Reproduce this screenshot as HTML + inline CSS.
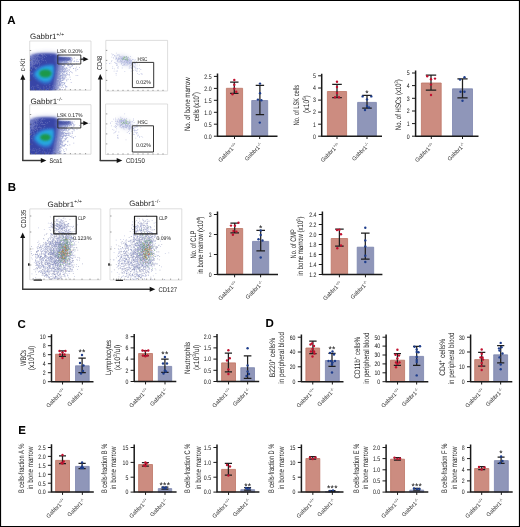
<!DOCTYPE html>
<html><head><meta charset="utf-8"><style>html,body{margin:0;padding:0;background:#fff;}svg{display:block;will-change:transform;}</style></head>
<body><svg width="520" height="527" viewBox="0 0 520 527" font-family='"Liberation Sans", sans-serif' stroke-linejoin="round" text-rendering="geometricPrecision"><style>text{stroke:#2a2a2a;stroke-width:0.02px;}</style><rect x="0" y="0" width="520" height="527" fill="#fff"/><rect x="0.5" y="0.5" width="519" height="526" fill="none" stroke="#000" stroke-width="1.2"/><text x="7.2" y="23.5" font-size="11.5" font-weight="bold" fill="#000">A</text><text x="7.8" y="190.6" font-size="11.5" font-weight="bold" fill="#000">B</text><text x="17.6" y="328.2" font-size="11.5" font-weight="bold" fill="#000">C</text><text x="265.4" y="327.4" font-size="11.5" font-weight="bold" fill="#000">D</text><text x="18.2" y="434.4" font-size="11.5" font-weight="bold" fill="#000">E</text><defs>
<filter id="bl03" x="-10%" y="-10%" width="120%" height="120%"><feGaussianBlur stdDeviation="0.3"/></filter>
<filter id="bl08" x="-20%" y="-20%" width="140%" height="140%"><feGaussianBlur stdDeviation="0.8"/></filter>
<filter id="bl12" x="-30%" y="-30%" width="160%" height="160%"><feGaussianBlur stdDeviation="1.2"/></filter>
<filter id="bl20" x="-40%" y="-40%" width="180%" height="180%"><feGaussianBlur stdDeviation="2"/></filter>
<filter id="bl30" x="-50%" y="-50%" width="200%" height="200%"><feGaussianBlur stdDeviation="3"/></filter>
<clipPath id="cA1"><rect x="30" y="41" width="61" height="49.2"/></clipPath>
<clipPath id="cA3"><rect x="30" y="104.7" width="61" height="49.5"/></clipPath>
<clipPath id="cA2"><rect x="106" y="40.4" width="61.6" height="50.6"/></clipPath>
<clipPath id="cA4"><rect x="106" y="104" width="61.6" height="50.5"/></clipPath>
<clipPath id="cB1"><rect x="30" y="208.9" width="70.8" height="70.9"/></clipPath>
<clipPath id="cB2"><rect x="110.2" y="208.8" width="71.6" height="71.2"/></clipPath>
<linearGradient id="topfade" x1="0" y1="0" x2="0" y2="1"><stop offset="0.3" stop-color="#fff" stop-opacity="0.35"/><stop offset="1" stop-color="#fff" stop-opacity="0"/></linearGradient>
</defs><rect x="29.7" y="41" width="61.3" height="49.2" fill="none" stroke="#d0d0d0" stroke-width="0.7"/><rect x="29.7" y="104.7" width="61.3" height="49.499999999999986" fill="none" stroke="#d0d0d0" stroke-width="0.7"/><g clip-path="url(#cA1)"><g transform="translate(0 0)"><g filter="url(#bl03)"><path d="M57.3 68.0h0.75v0.75h-0.75zM55.2 79.1h0.75v0.75h-0.75zM57.1 75.2h0.75v0.75h-0.75zM61.5 59.0h0.75v0.75h-0.75zM60.8 58.3h0.75v0.75h-0.75zM58.3 59.4h0.75v0.75h-0.75zM62.8 71.4h0.75v0.75h-0.75zM58.9 61.2h0.75v0.75h-0.75zM64.2 78.3h0.75v0.75h-0.75zM57.0 76.6h0.75v0.75h-0.75zM53.4 90.2h0.75v0.75h-0.75zM54.6 86.2h0.75v0.75h-0.75zM58.1 61.9h0.75v0.75h-0.75zM63.9 67.5h0.75v0.75h-0.75zM61.5 63.1h0.75v0.75h-0.75zM56.4 78.7h0.75v0.75h-0.75zM55.7 75.6h0.75v0.75h-0.75zM59.0 59.0h0.75v0.75h-0.75zM56.4 80.1h0.75v0.75h-0.75zM60.4 67.7h0.75v0.75h-0.75zM57.3 72.4h0.75v0.75h-0.75zM57.2 84.0h0.75v0.75h-0.75zM60.9 65.3h0.75v0.75h-0.75zM62.8 74.9h0.75v0.75h-0.75zM55.5 81.8h0.75v0.75h-0.75zM53.5 90.3h0.75v0.75h-0.75zM61.6 71.2h0.75v0.75h-0.75zM60.7 62.2h0.75v0.75h-0.75zM63.6 58.3h0.75v0.75h-0.75zM56.6 83.0h0.75v0.75h-0.75zM54.6 86.8h0.75v0.75h-0.75zM57.3 80.6h0.75v0.75h-0.75zM57.3 76.7h0.75v0.75h-0.75zM60.7 85.6h0.75v0.75h-0.75zM59.8 73.1h0.75v0.75h-0.75zM64.1 59.1h0.75v0.75h-0.75zM70.0 79.0h0.75v0.75h-0.75zM54.9 84.9h0.75v0.75h-0.75zM60.7 70.1h0.75v0.75h-0.75zM61.1 57.8h0.75v0.75h-0.75zM58.0 62.7h0.75v0.75h-0.75zM65.4 59.0h0.75v0.75h-0.75zM59.0 61.4h0.75v0.75h-0.75zM64.4 70.3h0.75v0.75h-0.75zM60.8 59.7h0.75v0.75h-0.75zM62.7 75.7h0.75v0.75h-0.75zM58.8 84.9h0.75v0.75h-0.75zM59.2 66.5h0.75v0.75h-0.75zM65.2 69.2h0.75v0.75h-0.75zM53.7 89.6h0.75v0.75h-0.75zM58.6 63.0h0.75v0.75h-0.75zM60.1 64.9h0.75v0.75h-0.75zM56.2 77.0h0.75v0.75h-0.75zM60.7 57.1h0.75v0.75h-0.75zM59.7 69.6h0.75v0.75h-0.75zM55.6 89.4h0.75v0.75h-0.75zM59.0 74.5h0.75v0.75h-0.75zM55.0 80.0h0.75v0.75h-0.75zM56.8 87.6h0.75v0.75h-0.75zM57.3 86.7h0.75v0.75h-0.75zM58.3 70.3h0.75v0.75h-0.75zM62.8 60.5h0.75v0.75h-0.75zM58.2 59.1h0.75v0.75h-0.75zM58.0 64.1h0.75v0.75h-0.75zM56.7 68.6h0.75v0.75h-0.75zM58.7 57.0h0.75v0.75h-0.75zM60.0 60.4h0.75v0.75h-0.75zM68.8 57.9h0.75v0.75h-0.75zM55.6 77.9h0.75v0.75h-0.75zM58.9 65.6h0.75v0.75h-0.75zM56.9 69.4h0.75v0.75h-0.75zM65.3 85.9h0.75v0.75h-0.75zM58.3 72.8h0.75v0.75h-0.75zM58.3 59.9h0.75v0.75h-0.75zM57.8 68.6h0.75v0.75h-0.75zM54.4 85.2h0.75v0.75h-0.75zM73.8 57.8h0.75v0.75h-0.75zM56.1 75.0h0.75v0.75h-0.75zM55.6 75.5h0.75v0.75h-0.75zM68.8 75.0h0.75v0.75h-0.75zM56.5 86.4h0.75v0.75h-0.75zM58.9 65.9h0.75v0.75h-0.75zM64.5 62.7h0.75v0.75h-0.75zM60.7 75.1h0.75v0.75h-0.75zM57.6 68.2h0.75v0.75h-0.75zM64.3 84.6h0.75v0.75h-0.75zM57.6 86.0h0.75v0.75h-0.75zM57.3 84.8h0.75v0.75h-0.75zM60.4 64.7h0.75v0.75h-0.75zM56.6 69.1h0.75v0.75h-0.75zM59.5 57.9h0.75v0.75h-0.75zM62.2 65.8h0.75v0.75h-0.75zM54.5 89.5h0.75v0.75h-0.75zM62.1 88.9h0.75v0.75h-0.75zM54.2 89.5h0.75v0.75h-0.75zM58.3 64.5h0.75v0.75h-0.75zM58.3 63.7h0.75v0.75h-0.75zM62.2 78.2h0.75v0.75h-0.75zM55.5 85.6h0.75v0.75h-0.75zM59.7 79.2h0.75v0.75h-0.75zM63.3 59.9h0.75v0.75h-0.75zM56.7 87.9h0.75v0.75h-0.75zM56.1 82.5h0.75v0.75h-0.75zM64.7 63.1h0.75v0.75h-0.75zM63.3 68.3h0.75v0.75h-0.75zM54.2 90.0h0.75v0.75h-0.75zM67.7 70.6h0.75v0.75h-0.75zM55.1 81.6h0.75v0.75h-0.75zM58.4 61.3h0.75v0.75h-0.75zM57.0 87.8h0.75v0.75h-0.75zM66.0 62.0h0.75v0.75h-0.75zM55.2 90.3h0.75v0.75h-0.75zM59.7 68.9h0.75v0.75h-0.75zM57.7 61.5h0.75v0.75h-0.75zM55.2 90.0h0.75v0.75h-0.75zM65.0 74.9h0.75v0.75h-0.75zM63.9 71.7h0.75v0.75h-0.75zM54.6 85.1h0.75v0.75h-0.75zM58.5 65.6h0.75v0.75h-0.75zM61.0 65.2h0.75v0.75h-0.75zM59.3 65.8h0.75v0.75h-0.75zM69.4 61.5h0.75v0.75h-0.75zM59.0 69.0h0.75v0.75h-0.75zM62.9 76.8h0.75v0.75h-0.75zM65.7 71.3h0.75v0.75h-0.75zM58.4 74.1h0.75v0.75h-0.75zM55.6 74.8h0.75v0.75h-0.75zM56.8 72.0h0.75v0.75h-0.75zM66.4 57.1h0.75v0.75h-0.75zM60.4 62.9h0.75v0.75h-0.75zM56.8 81.7h0.75v0.75h-0.75zM59.7 68.1h0.75v0.75h-0.75zM60.6 75.9h0.75v0.75h-0.75zM61.8 60.6h0.75v0.75h-0.75zM58.4 65.4h0.75v0.75h-0.75zM56.1 83.3h0.75v0.75h-0.75zM60.1 76.1h0.75v0.75h-0.75zM54.8 88.0h0.75v0.75h-0.75zM57.3 77.8h0.75v0.75h-0.75zM59.8 74.4h0.75v0.75h-0.75zM58.8 72.4h0.75v0.75h-0.75zM66.2 73.3h0.75v0.75h-0.75zM60.6 80.8h0.75v0.75h-0.75zM54.0 89.0h0.75v0.75h-0.75zM65.0 76.0h0.75v0.75h-0.75zM54.3 85.6h0.75v0.75h-0.75zM60.5 61.1h0.75v0.75h-0.75zM59.2 59.5h0.75v0.75h-0.75zM63.5 59.5h0.75v0.75h-0.75zM60.0 83.7h0.75v0.75h-0.75zM63.5 62.3h0.75v0.75h-0.75zM55.3 79.4h0.75v0.75h-0.75zM61.1 87.0h0.75v0.75h-0.75zM71.1 64.5h0.75v0.75h-0.75zM58.8 70.5h0.75v0.75h-0.75zM56.4 90.7h0.75v0.75h-0.75zM60.1 62.5h0.75v0.75h-0.75zM57.1 74.5h0.75v0.75h-0.75zM59.0 63.7h0.75v0.75h-0.75zM54.6 81.6h0.75v0.75h-0.75zM57.4 75.8h0.75v0.75h-0.75zM59.9 57.6h0.75v0.75h-0.75zM57.3 78.2h0.75v0.75h-0.75zM79.5 59.2h0.75v0.75h-0.75zM63.2 83.8h0.75v0.75h-0.75zM59.3 60.6h0.75v0.75h-0.75zM65.7 58.3h0.75v0.75h-0.75zM57.5 66.2h0.75v0.75h-0.75zM65.4 71.4h0.75v0.75h-0.75zM54.8 84.8h0.75v0.75h-0.75zM69.7 62.1h0.75v0.75h-0.75zM59.3 76.4h0.75v0.75h-0.75zM58.1 60.0h0.75v0.75h-0.75zM56.3 80.4h0.75v0.75h-0.75zM72.1 59.5h0.75v0.75h-0.75zM60.0 78.6h0.75v0.75h-0.75zM67.7 59.8h0.75v0.75h-0.75zM68.0 59.3h0.75v0.75h-0.75zM57.5 72.4h0.75v0.75h-0.75zM64.2 75.8h0.75v0.75h-0.75zM57.5 66.1h0.75v0.75h-0.75zM56.5 74.9h0.75v0.75h-0.75zM58.6 60.7h0.75v0.75h-0.75zM59.0 58.7h0.75v0.75h-0.75zM58.2 67.6h0.75v0.75h-0.75zM55.3 82.8h0.75v0.75h-0.75zM56.4 74.0h0.75v0.75h-0.75zM56.6 68.8h0.75v0.75h-0.75zM57.0 65.5h0.75v0.75h-0.75zM56.7 81.9h0.75v0.75h-0.75zM60.3 63.4h0.75v0.75h-0.75zM53.7 88.8h0.75v0.75h-0.75zM55.4 84.8h0.75v0.75h-0.75zM62.2 73.8h0.75v0.75h-0.75zM59.0 70.4h0.75v0.75h-0.75zM66.4 80.4h0.75v0.75h-0.75zM63.9 68.7h0.75v0.75h-0.75zM57.5 81.0h0.75v0.75h-0.75zM57.9 70.8h0.75v0.75h-0.75zM58.5 58.8h0.75v0.75h-0.75zM64.7 59.4h0.75v0.75h-0.75zM57.7 65.7h0.75v0.75h-0.75zM67.2 59.9h0.75v0.75h-0.75zM56.3 86.6h0.75v0.75h-0.75zM58.0 66.6h0.75v0.75h-0.75zM59.4 67.0h0.75v0.75h-0.75zM60.3 62.4h0.75v0.75h-0.75zM71.4 66.0h0.75v0.75h-0.75zM54.7 90.1h0.75v0.75h-0.75zM72.2 65.3h0.75v0.75h-0.75zM58.6 67.5h0.75v0.75h-0.75zM60.4 57.0h0.75v0.75h-0.75zM58.4 73.1h0.75v0.75h-0.75zM60.5 63.8h0.75v0.75h-0.75zM59.5 57.2h0.75v0.75h-0.75zM60.4 60.1h0.75v0.75h-0.75zM57.9 58.4h0.75v0.75h-0.75zM57.8 67.3h0.75v0.75h-0.75zM57.7 76.9h0.75v0.75h-0.75zM57.3 82.5h0.75v0.75h-0.75zM60.5 81.3h0.75v0.75h-0.75zM57.8 70.2h0.75v0.75h-0.75zM53.5 90.5h0.75v0.75h-0.75zM57.4 81.6h0.75v0.75h-0.75zM67.2 58.5h0.75v0.75h-0.75zM55.8 87.3h0.75v0.75h-0.75zM59.0 82.0h0.75v0.75h-0.75zM61.2 61.7h0.75v0.75h-0.75zM62.1 74.1h0.75v0.75h-0.75zM58.4 84.4h0.75v0.75h-0.75zM62.5 76.9h0.75v0.75h-0.75zM58.2 80.2h0.75v0.75h-0.75zM57.2 64.8h0.75v0.75h-0.75zM59.8 61.5h0.75v0.75h-0.75zM66.8 60.6h0.75v0.75h-0.75zM58.7 76.0h0.75v0.75h-0.75zM58.6 78.3h0.75v0.75h-0.75zM55.8 73.6h0.75v0.75h-0.75zM57.6 84.1h0.75v0.75h-0.75zM58.4 74.1h0.75v0.75h-0.75zM55.1 79.4h0.75v0.75h-0.75zM55.3 82.1h0.75v0.75h-0.75zM59.4 59.5h0.75v0.75h-0.75zM55.2 81.8h0.75v0.75h-0.75zM64.5 82.2h0.75v0.75h-0.75zM57.5 73.8h0.75v0.75h-0.75zM60.0 73.3h0.75v0.75h-0.75zM56.8 83.1h0.75v0.75h-0.75zM55.2 78.9h0.75v0.75h-0.75zM58.9 62.0h0.75v0.75h-0.75zM55.4 82.3h0.75v0.75h-0.75zM55.4 76.3h0.75v0.75h-0.75zM59.4 59.1h0.75v0.75h-0.75zM58.3 79.8h0.75v0.75h-0.75zM55.8 80.0h0.75v0.75h-0.75zM57.8 74.6h0.75v0.75h-0.75zM56.3 72.9h0.75v0.75h-0.75zM54.2 87.4h0.75v0.75h-0.75zM58.2 90.3h0.75v0.75h-0.75zM61.1 57.6h0.75v0.75h-0.75zM62.3 84.9h0.75v0.75h-0.75zM57.1 72.3h0.75v0.75h-0.75zM70.7 64.1h0.75v0.75h-0.75zM61.2 64.2h0.75v0.75h-0.75zM61.2 61.8h0.75v0.75h-0.75zM53.7 89.4h0.75v0.75h-0.75zM55.8 84.9h0.75v0.75h-0.75zM56.3 87.2h0.75v0.75h-0.75zM67.4 64.9h0.75v0.75h-0.75zM55.9 73.5h0.75v0.75h-0.75zM61.4 57.1h0.75v0.75h-0.75zM57.3 72.3h0.75v0.75h-0.75zM59.6 61.8h0.75v0.75h-0.75zM64.4 67.7h0.75v0.75h-0.75zM65.3 57.1h0.75v0.75h-0.75zM54.3 85.5h0.75v0.75h-0.75zM56.0 88.5h0.75v0.75h-0.75zM54.4 87.7h0.75v0.75h-0.75zM58.4 69.7h0.75v0.75h-0.75zM54.7 91.0h0.75v0.75h-0.75zM58.7 69.3h0.75v0.75h-0.75zM57.1 66.4h0.75v0.75h-0.75zM66.8 60.5h0.75v0.75h-0.75zM68.7 66.7h0.75v0.75h-0.75zM58.4 65.5h0.75v0.75h-0.75zM56.4 74.4h0.75v0.75h-0.75zM68.9 69.7h0.75v0.75h-0.75zM57.3 87.1h0.75v0.75h-0.75zM62.6 78.5h0.75v0.75h-0.75zM55.0 89.0h0.75v0.75h-0.75zM54.7 81.5h0.75v0.75h-0.75zM56.1 81.9h0.75v0.75h-0.75zM57.1 82.6h0.75v0.75h-0.75zM57.0 66.7h0.75v0.75h-0.75zM53.8 88.5h0.75v0.75h-0.75zM57.4 73.1h0.75v0.75h-0.75zM62.5 67.1h0.75v0.75h-0.75zM53.8 90.2h0.75v0.75h-0.75zM56.0 79.3h0.75v0.75h-0.75zM57.1 75.9h0.75v0.75h-0.75zM58.2 62.7h0.75v0.75h-0.75zM68.2 64.1h0.75v0.75h-0.75zM56.6 73.9h0.75v0.75h-0.75zM65.3 87.8h0.75v0.75h-0.75zM56.5 72.3h0.75v0.75h-0.75zM57.7 63.5h0.75v0.75h-0.75zM56.9 68.6h0.75v0.75h-0.75zM58.4 65.1h0.75v0.75h-0.75zM62.6 76.4h0.75v0.75h-0.75zM55.8 82.5h0.75v0.75h-0.75zM59.0 71.1h0.75v0.75h-0.75zM58.0 69.8h0.75v0.75h-0.75zM59.5 59.1h0.75v0.75h-0.75zM53.6 89.9h0.75v0.75h-0.75zM59.2 74.1h0.75v0.75h-0.75zM54.4 86.3h0.75v0.75h-0.75zM58.1 66.2h0.75v0.75h-0.75zM58.5 70.6h0.75v0.75h-0.75zM57.0 89.4h0.75v0.75h-0.75zM53.8 86.7h0.75v0.75h-0.75zM64.3 58.1h0.75v0.75h-0.75zM55.0 87.5h0.75v0.75h-0.75zM55.3 77.0h0.75v0.75h-0.75zM66.6 70.3h0.75v0.75h-0.75zM58.6 85.1h0.75v0.75h-0.75zM53.8 90.1h0.75v0.75h-0.75zM58.5 60.7h0.75v0.75h-0.75zM59.6 74.8h0.75v0.75h-0.75zM55.9 89.0h0.75v0.75h-0.75zM59.3 79.0h0.75v0.75h-0.75zM58.9 72.5h0.75v0.75h-0.75zM65.8 58.3h0.75v0.75h-0.75zM68.5 64.9h0.75v0.75h-0.75zM56.1 78.9h0.75v0.75h-0.75zM59.0 61.4h0.75v0.75h-0.75zM58.7 78.6h0.75v0.75h-0.75zM58.0 60.8h0.75v0.75h-0.75zM58.6 74.8h0.75v0.75h-0.75zM57.3 70.2h0.75v0.75h-0.75zM55.2 77.4h0.75v0.75h-0.75zM59.4 67.3h0.75v0.75h-0.75zM55.3 89.6h0.75v0.75h-0.75zM55.1 87.0h0.75v0.75h-0.75zM58.3 65.0h0.75v0.75h-0.75zM55.6 89.7h0.75v0.75h-0.75zM56.8 67.5h0.75v0.75h-0.75zM59.7 73.9h0.75v0.75h-0.75zM57.3 71.3h0.75v0.75h-0.75zM62.5 79.7h0.75v0.75h-0.75zM57.3 64.7h0.75v0.75h-0.75zM58.8 68.5h0.75v0.75h-0.75zM55.4 80.2h0.75v0.75h-0.75zM57.5 84.1h0.75v0.75h-0.75zM56.5 74.2h0.75v0.75h-0.75zM54.0 90.0h0.75v0.75h-0.75zM54.7 84.9h0.75v0.75h-0.75zM63.7 64.5h0.75v0.75h-0.75zM69.8 67.0h0.75v0.75h-0.75zM56.5 73.9h0.75v0.75h-0.75zM59.6 64.6h0.75v0.75h-0.75zM63.6 79.6h0.75v0.75h-0.75zM59.9 62.0h0.75v0.75h-0.75zM74.0 64.2h0.75v0.75h-0.75zM57.8 61.8h0.75v0.75h-0.75zM60.4 59.0h0.75v0.75h-0.75zM58.2 87.5h0.75v0.75h-0.75zM70.8 81.9h0.75v0.75h-0.75zM54.3 88.7h0.75v0.75h-0.75zM70.3 63.3h0.75v0.75h-0.75zM54.5 82.4h0.75v0.75h-0.75zM56.3 79.6h0.75v0.75h-0.75zM58.0 69.7h0.75v0.75h-0.75zM57.4 62.8h0.75v0.75h-0.75zM58.7 66.5h0.75v0.75h-0.75zM53.6 89.5h0.75v0.75h-0.75zM53.8 89.8h0.75v0.75h-0.75zM63.5 69.1h0.75v0.75h-0.75zM55.4 84.9h0.75v0.75h-0.75zM61.1 58.7h0.75v0.75h-0.75zM66.5 69.7h0.75v0.75h-0.75zM59.4 63.6h0.75v0.75h-0.75zM53.7 87.5h0.75v0.75h-0.75zM62.7 71.0h0.75v0.75h-0.75zM54.4 83.1h0.75v0.75h-0.75zM58.1 58.2h0.75v0.75h-0.75zM54.2 88.3h0.75v0.75h-0.75zM60.5 82.4h0.75v0.75h-0.75zM57.8 68.5h0.75v0.75h-0.75zM55.2 89.6h0.75v0.75h-0.75zM62.5 65.9h0.75v0.75h-0.75zM58.0 67.8h0.75v0.75h-0.75zM65.4 57.1h0.75v0.75h-0.75zM55.6 88.2h0.75v0.75h-0.75zM53.5 89.1h0.75v0.75h-0.75zM60.0 65.0h0.75v0.75h-0.75zM59.2 89.5h0.75v0.75h-0.75zM57.4 70.1h0.75v0.75h-0.75zM58.7 71.6h0.75v0.75h-0.75zM53.9 88.6h0.75v0.75h-0.75zM57.4 84.3h0.75v0.75h-0.75zM57.6 85.0h0.75v0.75h-0.75zM56.4 77.6h0.75v0.75h-0.75zM58.5 67.9h0.75v0.75h-0.75zM54.5 83.6h0.75v0.75h-0.75zM63.8 63.7h0.75v0.75h-0.75zM57.3 65.4h0.75v0.75h-0.75zM62.0 58.2h0.75v0.75h-0.75zM73.1 68.1h0.75v0.75h-0.75zM63.2 87.0h0.75v0.75h-0.75zM57.3 66.0h0.75v0.75h-0.75zM61.2 60.3h0.75v0.75h-0.75zM56.3 81.1h0.75v0.75h-0.75zM59.5 65.0h0.75v0.75h-0.75zM58.6 78.1h0.75v0.75h-0.75zM59.4 82.4h0.75v0.75h-0.75zM55.2 79.6h0.75v0.75h-0.75zM54.8 85.6h0.75v0.75h-0.75zM56.9 76.3h0.75v0.75h-0.75zM55.1 82.1h0.75v0.75h-0.75zM58.3 65.4h0.75v0.75h-0.75zM67.9 62.2h0.75v0.75h-0.75zM56.6 76.7h0.75v0.75h-0.75zM75.5 70.5h0.75v0.75h-0.75zM56.6 74.2h0.75v0.75h-0.75zM56.7 84.5h0.75v0.75h-0.75zM53.4 90.7h0.75v0.75h-0.75zM62.1 73.1h0.75v0.75h-0.75zM59.6 85.6h0.75v0.75h-0.75zM59.6 58.4h0.75v0.75h-0.75zM58.7 61.1h0.75v0.75h-0.75zM54.9 90.1h0.75v0.75h-0.75zM54.4 88.6h0.75v0.75h-0.75zM55.2 86.4h0.75v0.75h-0.75zM63.6 65.8h0.75v0.75h-0.75zM53.6 89.2h0.75v0.75h-0.75zM58.3 77.3h0.75v0.75h-0.75zM59.3 64.4h0.75v0.75h-0.75zM58.6 61.8h0.75v0.75h-0.75zM61.0 65.7h0.75v0.75h-0.75zM55.6 79.2h0.75v0.75h-0.75zM59.9 57.4h0.75v0.75h-0.75zM55.4 80.1h0.75v0.75h-0.75zM57.6 67.6h0.75v0.75h-0.75zM56.2 84.0h0.75v0.75h-0.75zM58.4 59.2h0.75v0.75h-0.75zM59.4 70.4h0.75v0.75h-0.75zM55.3 78.7h0.75v0.75h-0.75zM63.1 62.6h0.75v0.75h-0.75zM57.5 70.9h0.75v0.75h-0.75zM69.8 67.5h0.75v0.75h-0.75zM60.2 67.6h0.75v0.75h-0.75zM58.6 69.1h0.75v0.75h-0.75zM66.5 86.4h0.75v0.75h-0.75zM57.3 69.4h0.75v0.75h-0.75zM55.2 81.8h0.75v0.75h-0.75zM70.3 57.2h0.75v0.75h-0.75zM62.7 71.4h0.75v0.75h-0.75zM64.6 70.8h0.75v0.75h-0.75zM56.6 72.7h0.75v0.75h-0.75zM62.1 57.5h0.75v0.75h-0.75zM62.3 78.8h0.75v0.75h-0.75zM62.7 60.0h0.75v0.75h-0.75zM59.2 69.6h0.75v0.75h-0.75zM59.1 62.0h0.75v0.75h-0.75zM64.6 74.7h0.75v0.75h-0.75zM61.1 60.7h0.75v0.75h-0.75zM62.5 84.4h0.75v0.75h-0.75zM57.9 63.7h0.75v0.75h-0.75zM60.6 89.1h0.75v0.75h-0.75zM56.0 73.4h0.75v0.75h-0.75zM54.5 88.5h0.75v0.75h-0.75zM55.7 87.7h0.75v0.75h-0.75zM54.5 85.0h0.75v0.75h-0.75zM54.9 83.7h0.75v0.75h-0.75zM63.5 70.8h0.75v0.75h-0.75zM54.5 85.2h0.75v0.75h-0.75zM59.5 64.4h0.75v0.75h-0.75zM57.3 74.6h0.75v0.75h-0.75zM59.0 61.2h0.75v0.75h-0.75zM60.8 81.6h0.75v0.75h-0.75zM62.1 58.4h0.75v0.75h-0.75zM54.5 82.8h0.75v0.75h-0.75zM54.3 85.5h0.75v0.75h-0.75zM57.7 77.4h0.75v0.75h-0.75zM56.2 78.3h0.75v0.75h-0.75zM59.5 71.3h0.75v0.75h-0.75zM60.2 71.5h0.75v0.75h-0.75zM58.1 72.2h0.75v0.75h-0.75zM62.9 57.8h0.75v0.75h-0.75zM56.7 73.6h0.75v0.75h-0.75zM58.3 83.0h0.75v0.75h-0.75zM56.6 72.6h0.75v0.75h-0.75zM56.3 73.1h0.75v0.75h-0.75zM60.4 61.4h0.75v0.75h-0.75zM60.7 60.1h0.75v0.75h-0.75zM55.8 74.3h0.75v0.75h-0.75zM55.3 78.6h0.75v0.75h-0.75zM58.6 81.9h0.75v0.75h-0.75zM55.8 74.4h0.75v0.75h-0.75zM57.4 74.1h0.75v0.75h-0.75zM53.7 89.3h0.75v0.75h-0.75zM66.4 86.1h0.75v0.75h-0.75zM59.1 81.9h0.75v0.75h-0.75zM76.0 63.6h0.75v0.75h-0.75zM67.0 73.7h0.75v0.75h-0.75zM53.9 88.1h0.75v0.75h-0.75zM60.9 83.8h0.75v0.75h-0.75zM60.0 59.2h0.75v0.75h-0.75zM54.8 82.7h0.75v0.75h-0.75zM54.4 87.5h0.75v0.75h-0.75zM54.5 84.7h0.75v0.75h-0.75zM64.7 74.1h0.75v0.75h-0.75zM58.6 64.1h0.75v0.75h-0.75zM57.0 74.2h0.75v0.75h-0.75zM58.9 58.3h0.75v0.75h-0.75zM70.7 62.5h0.75v0.75h-0.75zM61.3 80.1h0.75v0.75h-0.75zM64.7 62.7h0.75v0.75h-0.75zM61.4 60.9h0.75v0.75h-0.75zM56.4 78.6h0.75v0.75h-0.75zM55.6 86.7h0.75v0.75h-0.75zM62.3 76.7h0.75v0.75h-0.75zM82.6 60.6h0.75v0.75h-0.75zM56.6 78.4h0.75v0.75h-0.75zM54.9 84.1h0.75v0.75h-0.75zM54.7 90.7h0.75v0.75h-0.75zM62.3 69.2h0.75v0.75h-0.75zM56.7 72.0h0.75v0.75h-0.75zM54.6 82.3h0.75v0.75h-0.75zM54.8 84.9h0.75v0.75h-0.75zM67.6 78.7h0.75v0.75h-0.75zM58.8 76.9h0.75v0.75h-0.75zM56.7 67.6h0.75v0.75h-0.75zM58.7 58.1h0.75v0.75h-0.75zM56.9 77.9h0.75v0.75h-0.75zM63.6 74.4h0.75v0.75h-0.75zM58.8 61.5h0.75v0.75h-0.75zM55.0 79.2h0.75v0.75h-0.75zM60.2 57.1h0.75v0.75h-0.75zM59.9 60.6h0.75v0.75h-0.75zM61.1 64.6h0.75v0.75h-0.75zM56.0 77.0h0.75v0.75h-0.75zM57.1 78.2h0.75v0.75h-0.75zM71.1 61.6h0.75v0.75h-0.75zM57.7 65.3h0.75v0.75h-0.75zM62.9 60.3h0.75v0.75h-0.75zM57.2 86.6h0.75v0.75h-0.75zM57.4 70.7h0.75v0.75h-0.75zM63.3 57.4h0.75v0.75h-0.75zM56.8 76.1h0.75v0.75h-0.75zM56.7 79.0h0.75v0.75h-0.75zM56.1 88.9h0.75v0.75h-0.75zM67.5 65.4h0.75v0.75h-0.75zM61.8 58.5h0.75v0.75h-0.75zM57.2 70.8h0.75v0.75h-0.75zM65.6 59.0h0.75v0.75h-0.75zM62.1 57.4h0.75v0.75h-0.75zM53.7 89.0h0.75v0.75h-0.75zM61.6 63.8h0.75v0.75h-0.75zM59.3 74.2h0.75v0.75h-0.75zM54.6 84.7h0.75v0.75h-0.75zM58.2 67.5h0.75v0.75h-0.75zM69.3 58.6h0.75v0.75h-0.75zM57.4 83.6h0.75v0.75h-0.75zM67.8 57.2h0.75v0.75h-0.75zM56.1 82.3h0.75v0.75h-0.75zM56.1 82.2h0.75v0.75h-0.75zM57.6 64.7h0.75v0.75h-0.75zM57.2 64.9h0.75v0.75h-0.75zM62.3 68.4h0.75v0.75h-0.75zM60.0 80.6h0.75v0.75h-0.75zM55.5 81.2h0.75v0.75h-0.75zM57.4 75.8h0.75v0.75h-0.75zM56.1 83.8h0.75v0.75h-0.75zM61.4 66.0h0.75v0.75h-0.75zM53.8 89.8h0.75v0.75h-0.75zM53.8 86.9h0.75v0.75h-0.75zM58.1 65.9h0.75v0.75h-0.75zM62.2 82.3h0.75v0.75h-0.75zM55.5 82.4h0.75v0.75h-0.75zM54.6 86.9h0.75v0.75h-0.75zM67.8 65.1h0.75v0.75h-0.75zM58.7 78.4h0.75v0.75h-0.75zM66.3 79.6h0.75v0.75h-0.75zM62.6 73.0h0.75v0.75h-0.75zM60.2 80.7h0.75v0.75h-0.75zM60.9 71.9h0.75v0.75h-0.75zM56.6 76.4h0.75v0.75h-0.75zM61.7 64.2h0.75v0.75h-0.75zM70.2 59.6h0.75v0.75h-0.75zM57.6 61.9h0.75v0.75h-0.75zM70.9 60.6h0.75v0.75h-0.75zM57.1 68.7h0.75v0.75h-0.75zM58.0 58.0h0.75v0.75h-0.75zM57.6 80.5h0.75v0.75h-0.75zM58.5 80.7h0.75v0.75h-0.75zM62.4 59.2h0.75v0.75h-0.75zM63.3 69.4h0.75v0.75h-0.75zM59.4 84.9h0.75v0.75h-0.75zM68.2 59.2h0.75v0.75h-0.75zM59.5 88.1h0.75v0.75h-0.75zM58.9 60.6h0.75v0.75h-0.75zM57.9 60.8h0.75v0.75h-0.75zM57.7 85.8h0.75v0.75h-0.75zM60.4 78.6h0.75v0.75h-0.75zM56.1 78.5h0.75v0.75h-0.75zM58.3 60.4h0.75v0.75h-0.75zM55.0 82.8h0.75v0.75h-0.75zM59.0 67.9h0.75v0.75h-0.75zM59.4 57.7h0.75v0.75h-0.75zM62.3 66.6h0.75v0.75h-0.75zM57.9 69.5h0.75v0.75h-0.75zM54.6 89.8h0.75v0.75h-0.75zM56.1 85.9h0.75v0.75h-0.75zM60.6 58.1h0.75v0.75h-0.75zM61.7 71.8h0.75v0.75h-0.75zM61.5 68.8h0.75v0.75h-0.75zM56.3 75.3h0.75v0.75h-0.75zM54.1 86.3h0.75v0.75h-0.75zM54.5 84.9h0.75v0.75h-0.75zM59.0 57.0h0.75v0.75h-0.75zM64.3 82.9h0.75v0.75h-0.75zM61.4 57.1h0.75v0.75h-0.75zM61.5 73.7h0.75v0.75h-0.75zM60.5 63.3h0.75v0.75h-0.75zM63.8 68.8h0.75v0.75h-0.75zM69.7 65.9h0.75v0.75h-0.75zM57.9 66.6h0.75v0.75h-0.75zM56.6 80.8h0.75v0.75h-0.75zM62.7 60.7h0.75v0.75h-0.75zM65.7 59.8h0.75v0.75h-0.75zM59.1 80.7h0.75v0.75h-0.75zM56.4 78.3h0.75v0.75h-0.75zM58.2 70.6h0.75v0.75h-0.75zM53.9 87.3h0.75v0.75h-0.75zM53.8 87.2h0.75v0.75h-0.75zM58.6 64.0h0.75v0.75h-0.75zM55.1 87.6h0.75v0.75h-0.75zM64.9 69.9h0.75v0.75h-0.75zM59.9 64.9h0.75v0.75h-0.75zM60.4 75.1h0.75v0.75h-0.75zM57.1 82.6h0.75v0.75h-0.75zM58.1 68.8h0.75v0.75h-0.75zM66.4 62.3h0.75v0.75h-0.75zM58.9 79.5h0.75v0.75h-0.75zM60.1 62.8h0.75v0.75h-0.75zM56.5 83.3h0.75v0.75h-0.75zM60.7 61.3h0.75v0.75h-0.75zM54.3 87.1h0.75v0.75h-0.75zM59.0 63.5h0.75v0.75h-0.75zM59.9 80.9h0.75v0.75h-0.75zM58.3 62.3h0.75v0.75h-0.75zM58.8 65.4h0.75v0.75h-0.75zM56.2 74.8h0.75v0.75h-0.75zM57.5 68.2h0.75v0.75h-0.75zM55.7 90.2h0.75v0.75h-0.75zM74.2 60.5h0.75v0.75h-0.75zM60.2 60.5h0.75v0.75h-0.75zM56.1 90.5h0.75v0.75h-0.75zM56.1 81.9h0.75v0.75h-0.75zM62.0 63.7h0.75v0.75h-0.75zM58.9 60.6h0.75v0.75h-0.75zM56.4 70.2h0.75v0.75h-0.75zM62.4 70.6h0.75v0.75h-0.75zM56.7 80.6h0.75v0.75h-0.75zM56.9 78.5h0.75v0.75h-0.75zM62.0 61.8h0.75v0.75h-0.75zM61.5 70.8h0.75v0.75h-0.75zM54.8 87.9h0.75v0.75h-0.75zM59.9 76.5h0.75v0.75h-0.75zM57.1 71.3h0.75v0.75h-0.75zM60.4 81.6h0.75v0.75h-0.75zM57.4 83.3h0.75v0.75h-0.75zM56.5 86.0h0.75v0.75h-0.75zM56.8 78.8h0.75v0.75h-0.75zM60.9 67.6h0.75v0.75h-0.75zM60.5 60.3h0.75v0.75h-0.75zM57.4 83.6h0.75v0.75h-0.75zM55.9 78.4h0.75v0.75h-0.75zM58.4 71.4h0.75v0.75h-0.75zM56.7 78.1h0.75v0.75h-0.75zM62.6 80.0h0.75v0.75h-0.75zM62.3 63.2h0.75v0.75h-0.75zM55.5 83.5h0.75v0.75h-0.75zM69.0 73.7h0.75v0.75h-0.75zM61.9 58.3h0.75v0.75h-0.75zM64.8 62.5h0.75v0.75h-0.75zM54.9 89.0h0.75v0.75h-0.75zM62.0 60.4h0.75v0.75h-0.75zM59.8 75.4h0.75v0.75h-0.75zM59.2 74.4h0.75v0.75h-0.75zM55.8 85.2h0.75v0.75h-0.75zM67.7 71.0h0.75v0.75h-0.75zM62.5 64.1h0.75v0.75h-0.75zM61.9 70.3h0.75v0.75h-0.75zM78.2 61.2h0.75v0.75h-0.75zM56.7 69.1h0.75v0.75h-0.75zM59.1 66.3h0.75v0.75h-0.75zM60.7 57.5h0.75v0.75h-0.75zM60.7 71.3h0.75v0.75h-0.75zM57.7 69.0h0.75v0.75h-0.75zM63.3 64.6h0.75v0.75h-0.75zM54.9 89.0h0.75v0.75h-0.75zM64.6 64.4h0.75v0.75h-0.75zM57.2 70.3h0.75v0.75h-0.75zM65.0 61.4h0.75v0.75h-0.75zM56.6 84.5h0.75v0.75h-0.75zM58.9 73.0h0.75v0.75h-0.75zM72.3 64.7h0.75v0.75h-0.75zM60.6 69.0h0.75v0.75h-0.75zM58.1 84.8h0.75v0.75h-0.75zM57.1 72.9h0.75v0.75h-0.75zM55.9 75.6h0.75v0.75h-0.75zM55.0 85.3h0.75v0.75h-0.75zM54.6 85.9h0.75v0.75h-0.75zM57.5 69.8h0.75v0.75h-0.75zM56.9 71.5h0.75v0.75h-0.75zM64.7 57.1h0.75v0.75h-0.75zM58.0 66.6h0.75v0.75h-0.75zM59.5 67.3h0.75v0.75h-0.75zM59.9 71.6h0.75v0.75h-0.75zM56.2 79.4h0.75v0.75h-0.75zM57.3 88.6h0.75v0.75h-0.75zM66.9 58.9h0.75v0.75h-0.75zM56.8 87.8h0.75v0.75h-0.75zM66.2 61.8h0.75v0.75h-0.75zM55.1 78.5h0.75v0.75h-0.75zM74.0 57.4h0.75v0.75h-0.75zM55.8 79.3h0.75v0.75h-0.75zM58.5 60.5h0.75v0.75h-0.75zM63.9 64.9h0.75v0.75h-0.75zM57.2 68.8h0.75v0.75h-0.75zM56.9 87.7h0.75v0.75h-0.75zM68.0 62.7h0.75v0.75h-0.75zM60.0 77.7h0.75v0.75h-0.75zM61.4 79.7h0.75v0.75h-0.75zM58.8 83.8h0.75v0.75h-0.75zM62.8 63.7h0.75v0.75h-0.75zM60.2 75.0h0.75v0.75h-0.75zM64.1 71.9h0.75v0.75h-0.75zM56.5 75.9h0.75v0.75h-0.75zM57.7 65.0h0.75v0.75h-0.75zM56.0 73.8h0.75v0.75h-0.75zM56.4 72.9h0.75v0.75h-0.75zM58.2 73.7h0.75v0.75h-0.75zM62.3 75.3h0.75v0.75h-0.75zM67.7 57.2h0.75v0.75h-0.75zM58.9 72.9h0.75v0.75h-0.75zM60.3 79.6h0.75v0.75h-0.75zM58.5 69.7h0.75v0.75h-0.75zM53.5 89.7h0.75v0.75h-0.75zM58.1 78.7h0.75v0.75h-0.75zM62.8 58.0h0.75v0.75h-0.75zM62.5 80.2h0.75v0.75h-0.75zM73.3 68.2h0.75v0.75h-0.75zM58.0 74.4h0.75v0.75h-0.75zM53.7 87.5h0.75v0.75h-0.75zM57.3 81.4h0.75v0.75h-0.75zM64.7 68.5h0.75v0.75h-0.75zM59.0 69.4h0.75v0.75h-0.75zM60.7 74.9h0.75v0.75h-0.75zM59.8 64.2h0.75v0.75h-0.75zM59.2 71.4h0.75v0.75h-0.75zM54.9 85.1h0.75v0.75h-0.75zM55.2 85.1h0.75v0.75h-0.75zM56.8 74.1h0.75v0.75h-0.75zM68.7 74.2h0.75v0.75h-0.75zM59.6 79.3h0.75v0.75h-0.75zM58.2 68.3h0.75v0.75h-0.75zM60.5 67.2h0.75v0.75h-0.75zM59.7 78.6h0.75v0.75h-0.75zM64.5 58.4h0.75v0.75h-0.75zM55.4 87.1h0.75v0.75h-0.75zM59.7 58.7h0.75v0.75h-0.75zM58.9 57.2h0.75v0.75h-0.75zM55.4 88.3h0.75v0.75h-0.75zM59.5 79.4h0.75v0.75h-0.75zM55.6 87.9h0.75v0.75h-0.75zM58.2 78.0h0.75v0.75h-0.75zM57.3 80.7h0.75v0.75h-0.75zM55.5 80.2h0.75v0.75h-0.75zM56.7 79.7h0.75v0.75h-0.75zM54.6 82.9h0.75v0.75h-0.75zM57.5 63.2h0.75v0.75h-0.75zM60.6 83.3h0.75v0.75h-0.75zM56.3 79.3h0.75v0.75h-0.75zM57.7 85.0h0.75v0.75h-0.75zM56.4 76.1h0.75v0.75h-0.75zM59.1 67.3h0.75v0.75h-0.75zM59.0 67.8h0.75v0.75h-0.75zM63.2 78.8h0.75v0.75h-0.75zM62.2 58.9h0.75v0.75h-0.75zM58.5 58.3h0.75v0.75h-0.75zM56.2 84.6h0.75v0.75h-0.75zM54.8 88.2h0.75v0.75h-0.75zM60.4 57.5h0.75v0.75h-0.75zM64.2 77.1h0.75v0.75h-0.75zM54.4 90.3h0.75v0.75h-0.75zM56.6 71.0h0.75v0.75h-0.75zM55.7 78.9h0.75v0.75h-0.75zM57.6 62.2h0.75v0.75h-0.75zM64.0 57.2h0.75v0.75h-0.75zM74.4 61.1h0.75v0.75h-0.75zM68.1 60.0h0.75v0.75h-0.75zM57.7 61.4h0.75v0.75h-0.75zM55.3 81.5h0.75v0.75h-0.75zM55.1 81.9h0.75v0.75h-0.75zM65.6 58.7h0.75v0.75h-0.75zM60.0 81.3h0.75v0.75h-0.75zM54.8 81.8h0.75v0.75h-0.75zM58.9 78.4h0.75v0.75h-0.75zM65.9 72.7h0.75v0.75h-0.75zM71.8 65.6h0.75v0.75h-0.75zM54.6 81.4h0.75v0.75h-0.75zM63.4 57.5h0.75v0.75h-0.75zM54.3 84.8h0.75v0.75h-0.75zM62.2 67.6h0.75v0.75h-0.75zM66.9 62.6h0.75v0.75h-0.75zM56.0 73.5h0.75v0.75h-0.75zM59.8 69.5h0.75v0.75h-0.75zM60.3 71.9h0.75v0.75h-0.75zM65.3 61.9h0.75v0.75h-0.75zM60.6 69.4h0.75v0.75h-0.75zM56.7 78.4h0.75v0.75h-0.75zM62.4 70.1h0.75v0.75h-0.75zM56.4 89.1h0.75v0.75h-0.75zM56.5 76.3h0.75v0.75h-0.75zM76.7 59.1h0.75v0.75h-0.75zM59.6 80.9h0.75v0.75h-0.75zM60.4 68.3h0.75v0.75h-0.75zM56.5 90.2h0.75v0.75h-0.75zM56.4 77.4h0.75v0.75h-0.75zM64.4 71.6h0.75v0.75h-0.75zM61.0 69.8h0.75v0.75h-0.75zM62.4 77.5h0.75v0.75h-0.75zM54.9 84.5h0.75v0.75h-0.75zM59.4 57.1h0.75v0.75h-0.75zM59.5 71.4h0.75v0.75h-0.75zM59.3 84.7h0.75v0.75h-0.75zM67.2 58.4h0.75v0.75h-0.75zM59.0 84.6h0.75v0.75h-0.75zM56.4 76.4h0.75v0.75h-0.75zM57.7 85.9h0.75v0.75h-0.75zM61.8 80.3h0.75v0.75h-0.75zM56.8 68.8h0.75v0.75h-0.75zM60.8 75.8h0.75v0.75h-0.75zM63.7 63.8h0.75v0.75h-0.75zM54.0 88.7h0.75v0.75h-0.75zM58.7 77.6h0.75v0.75h-0.75zM56.7 72.8h0.75v0.75h-0.75zM63.2 65.7h0.75v0.75h-0.75zM55.7 83.9h0.75v0.75h-0.75zM66.1 60.0h0.75v0.75h-0.75zM55.0 83.3h0.75v0.75h-0.75zM62.7 76.7h0.75v0.75h-0.75zM55.3 87.1h0.75v0.75h-0.75zM59.1 73.2h0.75v0.75h-0.75zM58.3 63.4h0.75v0.75h-0.75zM63.0 63.1h0.75v0.75h-0.75zM59.8 69.3h0.75v0.75h-0.75zM59.1 70.7h0.75v0.75h-0.75zM57.7 62.1h0.75v0.75h-0.75zM54.0 90.9h0.75v0.75h-0.75zM62.7 60.6h0.75v0.75h-0.75zM54.7 83.8h0.75v0.75h-0.75zM56.6 77.3h0.75v0.75h-0.75zM55.7 74.7h0.75v0.75h-0.75zM82.3 58.1h0.75v0.75h-0.75zM55.3 86.4h0.75v0.75h-0.75zM56.4 76.3h0.75v0.75h-0.75zM55.7 83.5h0.75v0.75h-0.75zM56.2 89.2h0.75v0.75h-0.75zM62.0 84.8h0.75v0.75h-0.75zM57.1 65.6h0.75v0.75h-0.75zM58.2 63.8h0.75v0.75h-0.75zM58.1 59.8h0.75v0.75h-0.75zM62.3 76.0h0.75v0.75h-0.75zM66.8 72.6h0.75v0.75h-0.75zM53.7 87.9h0.75v0.75h-0.75zM56.8 77.3h0.75v0.75h-0.75zM73.5 61.1h0.75v0.75h-0.75zM60.6 65.7h0.75v0.75h-0.75zM64.5 78.8h0.75v0.75h-0.75zM56.3 79.8h0.75v0.75h-0.75zM56.6 72.2h0.75v0.75h-0.75zM62.2 89.8h0.75v0.75h-0.75zM57.3 64.5h0.75v0.75h-0.75zM58.9 65.7h0.75v0.75h-0.75zM58.5 87.7h0.75v0.75h-0.75zM54.1 85.5h0.75v0.75h-0.75zM57.3 83.7h0.75v0.75h-0.75zM67.7 79.0h0.75v0.75h-0.75zM58.6 58.9h0.75v0.75h-0.75zM61.8 82.7h0.75v0.75h-0.75zM55.8 80.0h0.75v0.75h-0.75zM59.8 77.1h0.75v0.75h-0.75zM59.7 60.6h0.75v0.75h-0.75zM57.5 65.7h0.75v0.75h-0.75zM56.5 73.4h0.75v0.75h-0.75zM57.7 65.1h0.75v0.75h-0.75zM54.8 80.0h0.75v0.75h-0.75zM55.2 81.4h0.75v0.75h-0.75zM71.6 58.2h0.75v0.75h-0.75zM69.6 64.5h0.75v0.75h-0.75zM58.7 86.5h0.75v0.75h-0.75zM60.4 61.8h0.75v0.75h-0.75zM71.1 60.3h0.75v0.75h-0.75zM56.2 85.6h0.75v0.75h-0.75zM57.5 72.4h0.75v0.75h-0.75zM55.6 85.0h0.75v0.75h-0.75zM55.5 78.4h0.75v0.75h-0.75zM57.4 64.5h0.75v0.75h-0.75zM56.9 81.3h0.75v0.75h-0.75zM67.5 61.9h0.75v0.75h-0.75zM59.2 66.1h0.75v0.75h-0.75zM59.0 62.3h0.75v0.75h-0.75zM54.9 85.5h0.75v0.75h-0.75zM60.6 62.7h0.75v0.75h-0.75zM66.5 67.8h0.75v0.75h-0.75zM76.8 60.9h0.75v0.75h-0.75zM69.5 58.9h0.75v0.75h-0.75zM55.5 79.7h0.75v0.75h-0.75zM57.0 73.2h0.75v0.75h-0.75zM57.9 65.8h0.75v0.75h-0.75zM75.5 69.4h0.75v0.75h-0.75zM57.7 90.9h0.75v0.75h-0.75zM59.5 60.3h0.75v0.75h-0.75zM53.8 87.5h0.75v0.75h-0.75zM55.5 81.7h0.75v0.75h-0.75zM53.3 90.3h0.75v0.75h-0.75zM55.1 84.4h0.75v0.75h-0.75zM57.5 61.8h0.75v0.75h-0.75zM55.8 85.3h0.75v0.75h-0.75zM60.0 63.3h0.75v0.75h-0.75zM54.1 88.0h0.75v0.75h-0.75zM55.8 76.4h0.75v0.75h-0.75zM64.3 63.1h0.75v0.75h-0.75zM55.2 81.2h0.75v0.75h-0.75zM58.3 59.7h0.75v0.75h-0.75zM57.3 77.7h0.75v0.75h-0.75zM57.9 66.3h0.75v0.75h-0.75zM59.0 77.8h0.75v0.75h-0.75zM56.2 84.6h0.75v0.75h-0.75zM57.5 63.9h0.75v0.75h-0.75zM55.9 81.9h0.75v0.75h-0.75zM54.7 81.5h0.75v0.75h-0.75zM55.1 84.6h0.75v0.75h-0.75zM58.6 85.6h0.75v0.75h-0.75zM55.8 73.8h0.75v0.75h-0.75zM54.9 87.9h0.75v0.75h-0.75zM54.5 86.6h0.75v0.75h-0.75zM65.7 63.3h0.75v0.75h-0.75zM57.1 69.5h0.75v0.75h-0.75zM60.0 69.6h0.75v0.75h-0.75zM61.7 57.2h0.75v0.75h-0.75zM58.7 72.2h0.75v0.75h-0.75zM63.8 61.1h0.75v0.75h-0.75zM58.9 84.8h0.75v0.75h-0.75zM61.9 67.9h0.75v0.75h-0.75zM61.9 70.0h0.75v0.75h-0.75zM68.5 59.1h0.75v0.75h-0.75zM54.7 89.4h0.75v0.75h-0.75zM58.3 74.5h0.75v0.75h-0.75zM55.6 75.3h0.75v0.75h-0.75zM53.8 89.9h0.75v0.75h-0.75zM57.8 63.2h0.75v0.75h-0.75zM64.6 65.5h0.75v0.75h-0.75zM58.3 58.0h0.75v0.75h-0.75zM55.3 80.8h0.75v0.75h-0.75zM62.7 57.6h0.75v0.75h-0.75zM57.7 76.6h0.75v0.75h-0.75zM55.0 80.9h0.75v0.75h-0.75zM56.6 86.6h0.75v0.75h-0.75zM58.5 58.5h0.75v0.75h-0.75zM58.2 73.8h0.75v0.75h-0.75zM57.4 66.5h0.75v0.75h-0.75zM56.8 70.8h0.75v0.75h-0.75zM61.6 77.1h0.75v0.75h-0.75zM61.6 62.0h0.75v0.75h-0.75zM54.9 82.4h0.75v0.75h-0.75zM60.6 85.1h0.75v0.75h-0.75zM58.4 70.2h0.75v0.75h-0.75zM55.7 85.6h0.75v0.75h-0.75zM67.4 70.5h0.75v0.75h-0.75zM55.3 83.4h0.75v0.75h-0.75zM58.9 65.2h0.75v0.75h-0.75zM71.1 71.8h0.75v0.75h-0.75zM60.1 84.3h0.75v0.75h-0.75zM58.6 84.7h0.75v0.75h-0.75zM61.6 58.8h0.75v0.75h-0.75zM58.5 89.6h0.75v0.75h-0.75zM59.4 65.5h0.75v0.75h-0.75zM56.4 78.5h0.75v0.75h-0.75zM55.8 75.0h0.75v0.75h-0.75zM58.7 71.7h0.75v0.75h-0.75zM58.6 57.7h0.75v0.75h-0.75zM56.1 90.0h0.75v0.75h-0.75zM55.4 88.9h0.75v0.75h-0.75zM59.4 84.5h0.75v0.75h-0.75zM53.8 87.1h0.75v0.75h-0.75zM55.9 78.8h0.75v0.75h-0.75zM55.7 80.1h0.75v0.75h-0.75zM64.3 75.4h0.75v0.75h-0.75zM56.0 78.1h0.75v0.75h-0.75zM57.6 74.7h0.75v0.75h-0.75zM54.0 89.3h0.75v0.75h-0.75zM61.2 67.4h0.75v0.75h-0.75zM62.1 61.1h0.75v0.75h-0.75zM54.7 89.5h0.75v0.75h-0.75zM59.7 66.1h0.75v0.75h-0.75zM56.1 75.2h0.75v0.75h-0.75zM58.3 61.2h0.75v0.75h-0.75zM59.0 67.0h0.75v0.75h-0.75zM58.0 66.8h0.75v0.75h-0.75zM61.8 60.0h0.75v0.75h-0.75zM56.1 85.6h0.75v0.75h-0.75zM58.8 76.4h0.75v0.75h-0.75zM63.0 63.8h0.75v0.75h-0.75zM58.8 72.7h0.75v0.75h-0.75zM57.1 77.8h0.75v0.75h-0.75zM57.8 67.6h0.75v0.75h-0.75zM60.4 64.5h0.75v0.75h-0.75zM59.8 70.0h0.75v0.75h-0.75zM60.1 57.4h0.75v0.75h-0.75zM54.5 86.3h0.75v0.75h-0.75zM57.7 75.9h0.75v0.75h-0.75zM75.9 66.7h0.75v0.75h-0.75zM63.1 67.0h0.75v0.75h-0.75zM57.8 62.4h0.75v0.75h-0.75zM55.1 86.6h0.75v0.75h-0.75zM60.3 59.1h0.75v0.75h-0.75zM61.0 72.0h0.75v0.75h-0.75zM59.0 60.7h0.75v0.75h-0.75zM55.9 89.6h0.75v0.75h-0.75zM59.4 62.3h0.75v0.75h-0.75zM61.1 69.0h0.75v0.75h-0.75zM61.1 78.0h0.75v0.75h-0.75zM55.8 84.9h0.75v0.75h-0.75zM58.1 82.1h0.75v0.75h-0.75zM56.1 82.8h0.75v0.75h-0.75zM57.4 83.7h0.75v0.75h-0.75zM53.9 88.1h0.75v0.75h-0.75zM53.8 86.6h0.75v0.75h-0.75zM56.6 83.0h0.75v0.75h-0.75zM67.5 73.9h0.75v0.75h-0.75zM57.1 76.4h0.75v0.75h-0.75zM59.5 83.6h0.75v0.75h-0.75zM56.7 77.6h0.75v0.75h-0.75zM58.2 72.4h0.75v0.75h-0.75zM55.5 81.6h0.75v0.75h-0.75zM59.5 70.3h0.75v0.75h-0.75zM57.8 70.1h0.75v0.75h-0.75zM59.0 83.8h0.75v0.75h-0.75zM57.8 74.0h0.75v0.75h-0.75zM59.0 63.3h0.75v0.75h-0.75zM61.7 61.9h0.75v0.75h-0.75zM55.6 76.8h0.75v0.75h-0.75zM54.3 88.3h0.75v0.75h-0.75zM58.1 85.7h0.75v0.75h-0.75zM53.8 89.6h0.75v0.75h-0.75zM65.3 71.5h0.75v0.75h-0.75zM58.1 57.4h0.75v0.75h-0.75zM57.7 76.2h0.75v0.75h-0.75zM56.6 88.3h0.75v0.75h-0.75zM77.4 75.3h0.75v0.75h-0.75zM58.2 74.6h0.75v0.75h-0.75zM56.2 80.3h0.75v0.75h-0.75zM60.1 69.2h0.75v0.75h-0.75zM68.6 68.9h0.75v0.75h-0.75zM57.0 80.0h0.75v0.75h-0.75zM60.1 60.4h0.75v0.75h-0.75zM59.4 70.6h0.75v0.75h-0.75zM62.3 76.5h0.75v0.75h-0.75zM54.6 89.8h0.75v0.75h-0.75zM59.7 72.0h0.75v0.75h-0.75zM53.9 90.9h0.75v0.75h-0.75zM61.4 75.0h0.75v0.75h-0.75zM59.2 62.8h0.75v0.75h-0.75zM56.4 90.3h0.75v0.75h-0.75zM56.0 74.4h0.75v0.75h-0.75zM56.2 87.4h0.75v0.75h-0.75zM65.1 84.9h0.75v0.75h-0.75zM54.9 87.2h0.75v0.75h-0.75zM59.1 62.3h0.75v0.75h-0.75zM58.1 74.4h0.75v0.75h-0.75zM58.2 63.4h0.75v0.75h-0.75zM57.9 78.4h0.75v0.75h-0.75zM77.3 69.0h0.75v0.75h-0.75zM55.1 78.6h0.75v0.75h-0.75zM62.2 71.0h0.75v0.75h-0.75zM61.7 67.4h0.75v0.75h-0.75zM59.8 57.1h0.75v0.75h-0.75zM56.0 85.6h0.75v0.75h-0.75zM55.5 79.7h0.75v0.75h-0.75zM58.6 73.9h0.75v0.75h-0.75zM61.5 66.0h0.75v0.75h-0.75zM75.7 75.1h0.75v0.75h-0.75zM57.1 76.5h0.75v0.75h-0.75zM58.5 61.1h0.75v0.75h-0.75zM54.7 82.8h0.75v0.75h-0.75zM58.7 60.4h0.75v0.75h-0.75zM61.6 74.8h0.75v0.75h-0.75zM60.3 77.8h0.75v0.75h-0.75zM57.9 59.1h0.75v0.75h-0.75zM55.3 83.2h0.75v0.75h-0.75zM55.8 81.3h0.75v0.75h-0.75zM58.9 62.8h0.75v0.75h-0.75zM69.5 60.4h0.75v0.75h-0.75zM56.7 76.8h0.75v0.75h-0.75zM57.8 72.3h0.75v0.75h-0.75zM69.3 58.9h0.75v0.75h-0.75zM65.7 76.8h0.75v0.75h-0.75zM59.7 71.9h0.75v0.75h-0.75zM57.2 65.5h0.75v0.75h-0.75zM57.3 88.6h0.75v0.75h-0.75zM66.4 67.7h0.75v0.75h-0.75zM55.0 84.7h0.75v0.75h-0.75zM65.4 77.5h0.75v0.75h-0.75zM66.4 73.8h0.75v0.75h-0.75zM59.2 65.3h0.75v0.75h-0.75zM55.3 81.4h0.75v0.75h-0.75zM65.6 67.5h0.75v0.75h-0.75zM61.5 73.5h0.75v0.75h-0.75zM57.9 65.3h0.75v0.75h-0.75zM57.3 69.2h0.75v0.75h-0.75zM53.9 90.0h0.75v0.75h-0.75zM55.8 76.1h0.75v0.75h-0.75zM57.2 75.1h0.75v0.75h-0.75zM56.5 70.7h0.75v0.75h-0.75zM66.3 61.2h0.75v0.75h-0.75zM57.6 68.9h0.75v0.75h-0.75zM58.8 63.5h0.75v0.75h-0.75zM57.2 65.1h0.75v0.75h-0.75zM56.1 79.6h0.75v0.75h-0.75zM63.4 62.3h0.75v0.75h-0.75zM59.4 60.1h0.75v0.75h-0.75zM54.3 85.4h0.75v0.75h-0.75zM62.8 72.1h0.75v0.75h-0.75zM54.6 84.4h0.75v0.75h-0.75zM61.7 69.0h0.75v0.75h-0.75zM69.1 69.8h0.75v0.75h-0.75zM71.2 64.1h0.75v0.75h-0.75zM56.6 74.2h0.75v0.75h-0.75zM56.5 72.4h0.75v0.75h-0.75zM55.5 81.0h0.75v0.75h-0.75zM55.5 87.6h0.75v0.75h-0.75zM57.5 69.5h0.75v0.75h-0.75zM55.9 77.7h0.75v0.75h-0.75zM54.1 86.7h0.75v0.75h-0.75zM58.4 74.4h0.75v0.75h-0.75zM63.4 66.2h0.75v0.75h-0.75zM60.6 70.1h0.75v0.75h-0.75zM56.6 76.3h0.75v0.75h-0.75zM56.6 70.3h0.75v0.75h-0.75zM66.4 63.0h0.75v0.75h-0.75zM61.2 67.9h0.75v0.75h-0.75zM61.8 60.7h0.75v0.75h-0.75zM59.2 69.3h0.75v0.75h-0.75zM57.0 67.1h0.75v0.75h-0.75zM57.8 67.6h0.75v0.75h-0.75zM63.8 61.3h0.75v0.75h-0.75zM59.1 66.6h0.75v0.75h-0.75zM56.7 87.9h0.75v0.75h-0.75zM58.0 87.0h0.75v0.75h-0.75zM59.2 61.5h0.75v0.75h-0.75zM63.8 58.0h0.75v0.75h-0.75zM56.1 79.6h0.75v0.75h-0.75zM60.3 71.0h0.75v0.75h-0.75zM55.5 80.8h0.75v0.75h-0.75zM54.9 85.8h0.75v0.75h-0.75zM55.7 78.4h0.75v0.75h-0.75zM69.8 60.9h0.75v0.75h-0.75zM57.9 82.0h0.75v0.75h-0.75zM58.0 58.4h0.75v0.75h-0.75zM58.5 62.5h0.75v0.75h-0.75zM58.8 67.3h0.75v0.75h-0.75zM59.8 58.3h0.75v0.75h-0.75zM55.6 78.7h0.75v0.75h-0.75zM55.9 85.5h0.75v0.75h-0.75zM55.4 81.4h0.75v0.75h-0.75zM60.4 71.8h0.75v0.75h-0.75zM56.5 68.9h0.75v0.75h-0.75zM57.5 85.4h0.75v0.75h-0.75zM57.0 66.7h0.75v0.75h-0.75zM56.0 86.0h0.75v0.75h-0.75zM59.3 58.6h0.75v0.75h-0.75zM65.5 60.8h0.75v0.75h-0.75zM68.6 64.1h0.75v0.75h-0.75zM54.7 82.5h0.75v0.75h-0.75zM56.1 80.6h0.75v0.75h-0.75zM59.1 82.4h0.75v0.75h-0.75zM57.2 66.6h0.75v0.75h-0.75zM54.5 89.2h0.75v0.75h-0.75zM55.8 88.6h0.75v0.75h-0.75zM59.2 82.1h0.75v0.75h-0.75zM56.9 78.4h0.75v0.75h-0.75zM64.0 58.8h0.75v0.75h-0.75zM58.8 71.6h0.75v0.75h-0.75zM53.8 88.6h0.75v0.75h-0.75zM54.5 82.9h0.75v0.75h-0.75zM59.3 80.9h0.75v0.75h-0.75zM60.4 65.9h0.75v0.75h-0.75zM55.2 90.0h0.75v0.75h-0.75zM56.5 75.5h0.75v0.75h-0.75zM60.1 59.0h0.75v0.75h-0.75zM57.0 71.0h0.75v0.75h-0.75zM57.3 67.6h0.75v0.75h-0.75zM57.8 81.0h0.75v0.75h-0.75zM58.3 65.1h0.75v0.75h-0.75zM57.7 74.5h0.75v0.75h-0.75zM54.3 88.8h0.75v0.75h-0.75zM66.0 67.2h0.75v0.75h-0.75zM61.6 61.8h0.75v0.75h-0.75zM63.6 68.3h0.75v0.75h-0.75zM60.3 75.6h0.75v0.75h-0.75zM62.6 62.8h0.75v0.75h-0.75zM57.2 77.4h0.75v0.75h-0.75zM58.9 83.0h0.75v0.75h-0.75zM59.4 60.9h0.75v0.75h-0.75zM57.4 69.3h0.75v0.75h-0.75zM59.5 59.1h0.75v0.75h-0.75zM62.9 63.7h0.75v0.75h-0.75zM56.4 72.2h0.75v0.75h-0.75zM59.3 68.0h0.75v0.75h-0.75zM57.1 69.3h0.75v0.75h-0.75zM57.9 59.4h0.75v0.75h-0.75zM55.6 90.7h0.75v0.75h-0.75zM64.2 59.9h0.75v0.75h-0.75zM54.7 90.3h0.75v0.75h-0.75zM61.1 60.7h0.75v0.75h-0.75zM56.8 71.8h0.75v0.75h-0.75zM55.5 75.5h0.75v0.75h-0.75zM55.7 88.3h0.75v0.75h-0.75zM63.5 78.3h0.75v0.75h-0.75zM55.8 79.2h0.75v0.75h-0.75zM57.7 65.4h0.75v0.75h-0.75zM65.7 57.9h0.75v0.75h-0.75zM54.8 85.5h0.75v0.75h-0.75zM62.1 63.3h0.75v0.75h-0.75zM59.9 85.8h0.75v0.75h-0.75zM64.7 62.7h0.75v0.75h-0.75zM57.2 85.2h0.75v0.75h-0.75zM57.4 68.1h0.75v0.75h-0.75zM55.0 85.1h0.75v0.75h-0.75zM59.6 69.5h0.75v0.75h-0.75zM63.6 69.6h0.75v0.75h-0.75zM57.2 65.1h0.75v0.75h-0.75zM58.6 76.3h0.75v0.75h-0.75zM57.0 84.9h0.75v0.75h-0.75zM59.7 87.8h0.75v0.75h-0.75zM58.2 73.8h0.75v0.75h-0.75zM59.2 62.4h0.75v0.75h-0.75zM55.6 76.8h0.75v0.75h-0.75zM55.3 80.4h0.75v0.75h-0.75zM69.2 72.1h0.75v0.75h-0.75zM58.0 60.0h0.75v0.75h-0.75zM56.8 71.9h0.75v0.75h-0.75zM54.6 81.6h0.75v0.75h-0.75zM58.4 85.6h0.75v0.75h-0.75zM55.6 83.8h0.75v0.75h-0.75zM61.5 66.6h0.75v0.75h-0.75zM57.5 74.5h0.75v0.75h-0.75zM58.9 68.5h0.75v0.75h-0.75zM60.0 79.6h0.75v0.75h-0.75zM54.0 87.7h0.75v0.75h-0.75zM59.3 67.1h0.75v0.75h-0.75zM56.8 76.2h0.75v0.75h-0.75zM57.7 63.6h0.75v0.75h-0.75zM59.2 68.0h0.75v0.75h-0.75zM57.7 90.0h0.75v0.75h-0.75zM62.0 86.4h0.75v0.75h-0.75zM55.2 89.7h0.75v0.75h-0.75zM54.3 84.6h0.75v0.75h-0.75zM57.5 80.0h0.75v0.75h-0.75zM60.4 67.1h0.75v0.75h-0.75zM54.6 89.4h0.75v0.75h-0.75zM56.0 79.0h0.75v0.75h-0.75zM65.5 68.7h0.75v0.75h-0.75zM58.9 57.9h0.75v0.75h-0.75zM56.5 80.1h0.75v0.75h-0.75zM63.3 59.9h0.75v0.75h-0.75zM59.9 69.6h0.75v0.75h-0.75zM59.0 71.2h0.75v0.75h-0.75zM57.0 76.2h0.75v0.75h-0.75zM58.7 60.9h0.75v0.75h-0.75zM55.4 87.3h0.75v0.75h-0.75zM67.6 60.8h0.75v0.75h-0.75zM57.4 65.6h0.75v0.75h-0.75zM56.5 75.0h0.75v0.75h-0.75zM58.7 73.6h0.75v0.75h-0.75zM61.0 64.7h0.75v0.75h-0.75zM61.3 60.8h0.75v0.75h-0.75zM55.5 77.0h0.75v0.75h-0.75zM56.5 70.9h0.75v0.75h-0.75zM63.5 71.9h0.75v0.75h-0.75zM59.7 75.7h0.75v0.75h-0.75zM54.7 82.7h0.75v0.75h-0.75zM55.5 90.7h0.75v0.75h-0.75zM66.6 60.5h0.75v0.75h-0.75zM57.0 70.3h0.75v0.75h-0.75zM54.9 89.6h0.75v0.75h-0.75zM54.7 83.3h0.75v0.75h-0.75zM54.4 83.4h0.75v0.75h-0.75zM59.2 65.1h0.75v0.75h-0.75zM62.6 57.5h0.75v0.75h-0.75zM58.8 64.2h0.75v0.75h-0.75zM56.2 81.1h0.75v0.75h-0.75zM55.8 87.2h0.75v0.75h-0.75zM55.6 86.7h0.75v0.75h-0.75zM57.7 88.2h0.75v0.75h-0.75zM63.9 62.7h0.75v0.75h-0.75zM62.5 68.6h0.75v0.75h-0.75zM59.8 80.1h0.75v0.75h-0.75zM59.9 61.2h0.75v0.75h-0.75zM62.5 82.1h0.75v0.75h-0.75zM54.7 81.5h0.75v0.75h-0.75zM55.5 77.5h0.75v0.75h-0.75zM60.9 75.7h0.75v0.75h-0.75zM70.6 60.8h0.75v0.75h-0.75zM55.7 80.0h0.75v0.75h-0.75zM60.0 63.6h0.75v0.75h-0.75zM56.0 85.5h0.75v0.75h-0.75zM57.8 60.9h0.75v0.75h-0.75zM65.7 60.8h0.75v0.75h-0.75zM61.1 63.3h0.75v0.75h-0.75zM61.8 66.9h0.75v0.75h-0.75zM56.9 69.9h0.75v0.75h-0.75zM55.5 86.8h0.75v0.75h-0.75zM59.5 80.4h0.75v0.75h-0.75zM53.4 89.3h0.75v0.75h-0.75zM57.2 68.6h0.75v0.75h-0.75zM63.0 74.1h0.75v0.75h-0.75zM54.3 84.2h0.75v0.75h-0.75zM65.4 63.2h0.75v0.75h-0.75zM56.2 80.1h0.75v0.75h-0.75zM56.5 73.2h0.75v0.75h-0.75zM55.1 85.7h0.75v0.75h-0.75zM55.9 86.7h0.75v0.75h-0.75zM59.8 59.6h0.75v0.75h-0.75zM67.5 64.4h0.75v0.75h-0.75zM55.4 77.0h0.75v0.75h-0.75zM59.5 62.8h0.75v0.75h-0.75zM59.0 72.9h0.75v0.75h-0.75zM58.0 70.2h0.75v0.75h-0.75zM62.5 57.2h0.75v0.75h-0.75zM56.6 68.3h0.75v0.75h-0.75zM71.9 72.6h0.75v0.75h-0.75zM58.6 58.5h0.75v0.75h-0.75zM55.8 79.8h0.75v0.75h-0.75zM59.9 66.3h0.75v0.75h-0.75zM60.6 65.9h0.75v0.75h-0.75zM66.4 75.0h0.75v0.75h-0.75zM53.3 90.7h0.75v0.75h-0.75zM60.3 76.1h0.75v0.75h-0.75zM57.1 86.7h0.75v0.75h-0.75zM58.1 78.5h0.75v0.75h-0.75zM57.7 69.3h0.75v0.75h-0.75zM59.3 84.0h0.75v0.75h-0.75zM55.7 88.9h0.75v0.75h-0.75zM62.9 67.3h0.75v0.75h-0.75zM56.4 82.1h0.75v0.75h-0.75zM56.3 78.6h0.75v0.75h-0.75zM57.2 75.7h0.75v0.75h-0.75zM59.9 59.1h0.75v0.75h-0.75zM75.4 68.0h0.75v0.75h-0.75zM57.5 73.4h0.75v0.75h-0.75zM58.2 65.3h0.75v0.75h-0.75zM57.1 68.9h0.75v0.75h-0.75zM68.8 57.2h0.75v0.75h-0.75zM58.1 72.4h0.75v0.75h-0.75zM56.5 76.3h0.75v0.75h-0.75zM57.7 62.7h0.75v0.75h-0.75zM58.3 67.3h0.75v0.75h-0.75zM56.7 81.7h0.75v0.75h-0.75zM54.3 88.9h0.75v0.75h-0.75zM55.3 88.3h0.75v0.75h-0.75zM58.8 59.7h0.75v0.75h-0.75zM69.6 76.7h0.75v0.75h-0.75zM62.5 69.1h0.75v0.75h-0.75zM63.8 71.6h0.75v0.75h-0.75zM61.2 59.3h0.75v0.75h-0.75zM54.3 87.6h0.75v0.75h-0.75zM57.0 65.8h0.75v0.75h-0.75zM58.9 62.6h0.75v0.75h-0.75zM55.4 80.9h0.75v0.75h-0.75zM57.1 70.6h0.75v0.75h-0.75zM61.5 77.5h0.75v0.75h-0.75zM55.6 79.0h0.75v0.75h-0.75zM63.4 82.0h0.75v0.75h-0.75zM55.4 77.4h0.75v0.75h-0.75zM59.2 84.5h0.75v0.75h-0.75zM57.1 68.6h0.75v0.75h-0.75zM60.9 63.4h0.75v0.75h-0.75zM56.0 86.8h0.75v0.75h-0.75zM54.0 88.4h0.75v0.75h-0.75zM62.4 68.1h0.75v0.75h-0.75zM56.5 79.1h0.75v0.75h-0.75zM56.0 80.1h0.75v0.75h-0.75zM60.6 59.0h0.75v0.75h-0.75zM63.0 58.5h0.75v0.75h-0.75zM59.4 68.4h0.75v0.75h-0.75zM56.2 77.3h0.75v0.75h-0.75zM55.9 72.8h0.75v0.75h-0.75zM55.2 88.5h0.75v0.75h-0.75zM53.3 90.6h0.75v0.75h-0.75zM59.2 77.9h0.75v0.75h-0.75zM57.0 68.2h0.75v0.75h-0.75zM58.2 62.3h0.75v0.75h-0.75zM54.6 83.1h0.75v0.75h-0.75zM55.4 84.7h0.75v0.75h-0.75zM58.5 75.3h0.75v0.75h-0.75zM59.0 75.9h0.75v0.75h-0.75zM56.5 77.5h0.75v0.75h-0.75zM55.3 82.2h0.75v0.75h-0.75zM58.6 81.2h0.75v0.75h-0.75zM55.2 83.4h0.75v0.75h-0.75zM64.0 83.3h0.75v0.75h-0.75zM57.2 72.4h0.75v0.75h-0.75zM65.4 74.8h0.75v0.75h-0.75zM57.6 61.5h0.75v0.75h-0.75zM59.7 73.2h0.75v0.75h-0.75zM55.5 83.3h0.75v0.75h-0.75zM53.7 90.6h0.75v0.75h-0.75zM54.6 82.7h0.75v0.75h-0.75zM58.6 58.0h0.75v0.75h-0.75zM61.4 59.0h0.75v0.75h-0.75zM56.1 75.9h0.75v0.75h-0.75zM54.3 89.0h0.75v0.75h-0.75zM58.4 62.1h0.75v0.75h-0.75zM61.3 82.1h0.75v0.75h-0.75zM57.6 62.5h0.75v0.75h-0.75zM55.0 83.5h0.75v0.75h-0.75zM54.5 90.4h0.75v0.75h-0.75zM56.3 78.6h0.75v0.75h-0.75zM55.7 84.2h0.75v0.75h-0.75zM66.4 68.0h0.75v0.75h-0.75zM64.3 60.7h0.75v0.75h-0.75zM63.2 59.2h0.75v0.75h-0.75zM64.0 70.7h0.75v0.75h-0.75zM62.1 59.0h0.75v0.75h-0.75zM66.0 70.9h0.75v0.75h-0.75zM55.3 89.1h0.75v0.75h-0.75zM58.4 64.6h0.75v0.75h-0.75zM59.4 65.9h0.75v0.75h-0.75zM58.1 64.9h0.75v0.75h-0.75zM57.1 82.8h0.75v0.75h-0.75zM79.0 67.1h0.75v0.75h-0.75zM61.0 64.4h0.75v0.75h-0.75zM67.0 62.3h0.75v0.75h-0.75zM54.5 86.6h0.75v0.75h-0.75zM59.0 82.6h0.75v0.75h-0.75zM58.6 66.6h0.75v0.75h-0.75zM63.8 73.5h0.75v0.75h-0.75zM62.9 62.5h0.75v0.75h-0.75zM57.1 77.3h0.75v0.75h-0.75zM62.3 76.7h0.75v0.75h-0.75zM67.1 64.1h0.75v0.75h-0.75zM62.6 69.3h0.75v0.75h-0.75zM54.3 86.4h0.75v0.75h-0.75zM65.6 86.4h0.75v0.75h-0.75zM56.8 67.1h0.75v0.75h-0.75zM76.0 60.8h0.75v0.75h-0.75zM70.8 57.3h0.75v0.75h-0.75zM63.9 62.1h0.75v0.75h-0.75zM58.7 60.3h0.75v0.75h-0.75zM55.0 80.2h0.75v0.75h-0.75zM66.9 68.5h0.75v0.75h-0.75zM60.5 81.4h0.75v0.75h-0.75zM53.3 90.3h0.75v0.75h-0.75zM64.2 65.0h0.75v0.75h-0.75zM54.8 80.4h0.75v0.75h-0.75zM56.6 74.2h0.75v0.75h-0.75zM56.5 71.6h0.75v0.75h-0.75zM82.8 57.7h0.75v0.75h-0.75zM65.6 67.8h0.75v0.75h-0.75zM60.9 61.1h0.75v0.75h-0.75zM60.3 61.6h0.75v0.75h-0.75zM62.8 63.1h0.75v0.75h-0.75zM64.0 62.0h0.75v0.75h-0.75zM56.1 74.0h0.75v0.75h-0.75zM59.3 69.0h0.75v0.75h-0.75zM54.4 88.2h0.75v0.75h-0.75zM72.9 64.3h0.75v0.75h-0.75zM56.6 87.0h0.75v0.75h-0.75zM57.7 66.3h0.75v0.75h-0.75zM57.2 66.0h0.75v0.75h-0.75zM61.5 58.5h0.75v0.75h-0.75zM59.3 70.9h0.75v0.75h-0.75zM56.4 69.3h0.75v0.75h-0.75zM57.8 80.4h0.75v0.75h-0.75zM58.2 75.5h0.75v0.75h-0.75zM66.3 80.5h0.75v0.75h-0.75zM56.6 86.7h0.75v0.75h-0.75zM57.7 70.6h0.75v0.75h-0.75zM70.0 71.3h0.75v0.75h-0.75zM58.2 70.2h0.75v0.75h-0.75zM56.8 70.9h0.75v0.75h-0.75zM53.2 90.9h0.75v0.75h-0.75zM63.4 77.7h0.75v0.75h-0.75zM61.2 65.7h0.75v0.75h-0.75z" fill="#4050AA" fill-opacity="0.5"/></g><path d="M29 57.1 C30.5 54.6 34 53.4 40 52.9 C46 52.5 52 52.4 57.0 53.2 L61.0 55.7 L61.0 60 L59.5 70 L58.0 80 L56.2 92 L29 92 Z" fill="#5A66B8" fill-opacity="0.45" filter="url(#bl20)"/><path d="M29 57.8 C30.5 55.3 34 54.1 40 53.6 C46 53.2 52 53.1 56.0 53.9 L59.0 56.0 L59.0 60 L57.5 70 L56.0 80 L54.2 92 L29 92 Z" fill="#4654AE" fill-opacity="0.7" filter="url(#bl12)"/><path d="M29 58.5 C30.5 56.0 34 54.8 40 54.3 C46 53.9 52 53.8 55.0 54.6 L57.0 56.4 L57.0 60 L55.5 70 L54.0 80 L52.2 92 L29 92 Z" fill="#3845A6" filter="url(#bl12)"/><path d="M55 56.5 L63 56.8 L70 57.6 L72 59.5 L66 61.8 L55 62.4 Z" fill="#5966B8" fill-opacity="0.7" filter="url(#bl08)"/><path d="M58 57.6 L71 58.1 L71 59.5 L58 59.9 Z" fill="#2C3793" fill-opacity="0.85" filter="url(#bl08)"/><ellipse cx="31" cy="61" rx="3.5" ry="5" fill="#6C78C4" fill-opacity="0.45" filter="url(#bl20)"/><g filter="url(#bl03)"><path d="M33.2 58.7h0.8v0.8h-0.8zM30.6 58.2h0.8v0.8h-0.8zM36.3 67.1h0.8v0.8h-0.8zM31.4 55.6h0.8v0.8h-0.8zM31.6 61.5h0.8v0.8h-0.8zM34.9 63.0h0.8v0.8h-0.8zM37.0 76.0h0.8v0.8h-0.8zM41.1 54.1h0.8v0.8h-0.8zM34.6 62.6h0.8v0.8h-0.8zM48.5 70.0h0.8v0.8h-0.8zM30.5 66.6h0.8v0.8h-0.8zM29.8 62.8h0.8v0.8h-0.8zM31.1 62.7h0.8v0.8h-0.8zM39.0 56.0h0.8v0.8h-0.8zM32.2 61.1h0.8v0.8h-0.8zM35.5 62.2h0.8v0.8h-0.8zM31.1 66.2h0.8v0.8h-0.8zM30.9 73.6h0.8v0.8h-0.8zM40.5 56.4h0.8v0.8h-0.8zM37.4 55.4h0.8v0.8h-0.8zM30.2 58.9h0.8v0.8h-0.8zM37.2 58.9h0.8v0.8h-0.8zM38.0 55.7h0.8v0.8h-0.8zM31.5 60.1h0.8v0.8h-0.8zM35.6 68.8h0.8v0.8h-0.8zM39.2 57.2h0.8v0.8h-0.8zM36.4 70.9h0.8v0.8h-0.8zM30.9 56.0h0.8v0.8h-0.8zM39.2 65.5h0.8v0.8h-0.8zM31.0 58.2h0.8v0.8h-0.8zM32.5 59.6h0.8v0.8h-0.8zM34.7 59.1h0.8v0.8h-0.8zM32.3 64.3h0.8v0.8h-0.8zM32.4 55.1h0.8v0.8h-0.8zM48.4 72.7h0.8v0.8h-0.8zM32.1 63.3h0.8v0.8h-0.8zM41.9 56.2h0.8v0.8h-0.8zM29.7 59.1h0.8v0.8h-0.8zM32.3 61.8h0.8v0.8h-0.8zM34.6 54.9h0.8v0.8h-0.8zM33.9 60.0h0.8v0.8h-0.8zM30.5 55.2h0.8v0.8h-0.8zM32.3 65.1h0.8v0.8h-0.8zM33.6 56.0h0.8v0.8h-0.8zM30.6 61.1h0.8v0.8h-0.8zM31.8 60.0h0.8v0.8h-0.8zM31.0 57.4h0.8v0.8h-0.8zM38.6 67.4h0.8v0.8h-0.8zM31.7 63.0h0.8v0.8h-0.8zM32.1 66.0h0.8v0.8h-0.8zM31.0 55.9h0.8v0.8h-0.8zM35.8 57.0h0.8v0.8h-0.8zM30.9 61.3h0.8v0.8h-0.8zM38.0 61.1h0.8v0.8h-0.8zM31.9 61.8h0.8v0.8h-0.8zM36.4 61.8h0.8v0.8h-0.8zM33.6 56.7h0.8v0.8h-0.8zM40.4 56.5h0.8v0.8h-0.8zM36.7 63.6h0.8v0.8h-0.8zM30.8 57.0h0.8v0.8h-0.8zM29.8 62.8h0.8v0.8h-0.8zM37.6 55.7h0.8v0.8h-0.8zM39.1 62.8h0.8v0.8h-0.8zM38.8 55.9h0.8v0.8h-0.8zM37.1 56.3h0.8v0.8h-0.8zM33.4 61.9h0.8v0.8h-0.8zM44.0 57.1h0.8v0.8h-0.8zM37.1 57.9h0.8v0.8h-0.8zM42.5 55.2h0.8v0.8h-0.8zM35.0 67.0h0.8v0.8h-0.8zM31.1 55.5h0.8v0.8h-0.8zM33.3 64.3h0.8v0.8h-0.8zM30.9 69.3h0.8v0.8h-0.8zM33.1 58.3h0.8v0.8h-0.8zM40.9 61.7h0.8v0.8h-0.8zM31.9 56.3h0.8v0.8h-0.8zM29.7 65.6h0.8v0.8h-0.8zM39.5 58.6h0.8v0.8h-0.8zM31.4 64.0h0.8v0.8h-0.8zM39.6 58.7h0.8v0.8h-0.8zM37.6 59.9h0.8v0.8h-0.8zM42.4 54.2h0.8v0.8h-0.8zM32.2 57.6h0.8v0.8h-0.8zM33.8 63.4h0.8v0.8h-0.8zM50.4 55.0h0.8v0.8h-0.8zM30.3 60.9h0.8v0.8h-0.8zM31.6 60.4h0.8v0.8h-0.8zM35.1 62.9h0.8v0.8h-0.8zM36.8 54.6h0.8v0.8h-0.8zM35.2 56.4h0.8v0.8h-0.8zM37.9 66.0h0.8v0.8h-0.8zM32.9 59.4h0.8v0.8h-0.8zM30.2 56.8h0.8v0.8h-0.8zM36.1 56.0h0.8v0.8h-0.8zM37.4 56.3h0.8v0.8h-0.8zM35.3 58.3h0.8v0.8h-0.8zM31.0 59.7h0.8v0.8h-0.8zM37.3 59.6h0.8v0.8h-0.8zM35.3 56.5h0.8v0.8h-0.8zM36.5 55.9h0.8v0.8h-0.8zM35.2 57.2h0.8v0.8h-0.8zM31.3 69.9h0.8v0.8h-0.8zM32.3 67.7h0.8v0.8h-0.8zM32.5 65.4h0.8v0.8h-0.8zM45.2 59.9h0.8v0.8h-0.8zM43.0 60.3h0.8v0.8h-0.8zM36.5 57.4h0.8v0.8h-0.8zM30.9 56.2h0.8v0.8h-0.8zM31.3 56.6h0.8v0.8h-0.8zM33.1 57.2h0.8v0.8h-0.8zM37.4 59.4h0.8v0.8h-0.8zM32.1 64.0h0.8v0.8h-0.8zM34.3 66.0h0.8v0.8h-0.8zM30.8 60.0h0.8v0.8h-0.8zM31.6 58.3h0.8v0.8h-0.8zM33.6 57.0h0.8v0.8h-0.8zM32.0 56.4h0.8v0.8h-0.8zM33.2 75.6h0.8v0.8h-0.8zM38.3 60.7h0.8v0.8h-0.8zM30.2 73.5h0.8v0.8h-0.8zM31.1 58.8h0.8v0.8h-0.8zM39.6 58.8h0.8v0.8h-0.8zM42.4 58.4h0.8v0.8h-0.8zM30.9 60.3h0.8v0.8h-0.8zM34.8 57.9h0.8v0.8h-0.8zM33.3 55.9h0.8v0.8h-0.8zM34.8 58.2h0.8v0.8h-0.8zM31.7 58.3h0.8v0.8h-0.8zM35.5 78.0h0.8v0.8h-0.8zM30.9 55.5h0.8v0.8h-0.8zM36.8 62.8h0.8v0.8h-0.8zM31.0 65.1h0.8v0.8h-0.8zM36.0 59.6h0.8v0.8h-0.8zM30.5 63.5h0.8v0.8h-0.8zM31.0 58.0h0.8v0.8h-0.8zM31.2 58.0h0.8v0.8h-0.8zM50.2 67.9h0.8v0.8h-0.8zM37.4 58.1h0.8v0.8h-0.8zM31.1 62.1h0.8v0.8h-0.8zM29.5 64.5h0.8v0.8h-0.8zM32.3 55.7h0.8v0.8h-0.8zM43.4 55.7h0.8v0.8h-0.8zM36.6 60.5h0.8v0.8h-0.8zM32.8 56.6h0.8v0.8h-0.8zM31.5 72.9h0.8v0.8h-0.8zM32.3 59.3h0.8v0.8h-0.8zM31.1 55.1h0.8v0.8h-0.8zM44.4 67.7h0.8v0.8h-0.8zM38.9 71.9h0.8v0.8h-0.8zM30.7 56.4h0.8v0.8h-0.8zM33.3 62.5h0.8v0.8h-0.8zM29.7 68.8h0.8v0.8h-0.8zM34.8 68.3h0.8v0.8h-0.8zM30.3 57.3h0.8v0.8h-0.8zM32.4 55.5h0.8v0.8h-0.8zM41.2 59.0h0.8v0.8h-0.8zM35.9 59.7h0.8v0.8h-0.8zM37.7 56.3h0.8v0.8h-0.8zM37.8 61.4h0.8v0.8h-0.8zM35.7 62.7h0.8v0.8h-0.8zM33.6 61.0h0.8v0.8h-0.8zM31.7 58.6h0.8v0.8h-0.8zM37.6 72.8h0.8v0.8h-0.8zM36.1 69.1h0.8v0.8h-0.8zM35.1 61.4h0.8v0.8h-0.8zM31.3 57.2h0.8v0.8h-0.8zM32.0 57.1h0.8v0.8h-0.8zM38.2 54.3h0.8v0.8h-0.8zM35.3 60.8h0.8v0.8h-0.8zM34.0 63.6h0.8v0.8h-0.8zM36.2 54.4h0.8v0.8h-0.8zM31.8 62.7h0.8v0.8h-0.8zM30.6 58.5h0.8v0.8h-0.8zM30.4 72.2h0.8v0.8h-0.8zM44.2 54.2h0.8v0.8h-0.8zM46.2 56.0h0.8v0.8h-0.8zM41.9 55.2h0.8v0.8h-0.8zM39.2 59.9h0.8v0.8h-0.8zM31.0 68.9h0.8v0.8h-0.8zM32.6 59.8h0.8v0.8h-0.8zM36.4 55.7h0.8v0.8h-0.8zM35.3 54.8h0.8v0.8h-0.8zM31.8 56.4h0.8v0.8h-0.8zM34.0 57.1h0.8v0.8h-0.8zM39.6 62.9h0.8v0.8h-0.8zM30.1 57.1h0.8v0.8h-0.8zM29.8 66.2h0.8v0.8h-0.8zM31.5 54.3h0.8v0.8h-0.8zM37.4 63.3h0.8v0.8h-0.8zM32.0 61.6h0.8v0.8h-0.8zM32.4 63.3h0.8v0.8h-0.8zM30.4 54.6h0.8v0.8h-0.8zM36.2 57.4h0.8v0.8h-0.8zM32.0 56.1h0.8v0.8h-0.8zM29.9 68.6h0.8v0.8h-0.8zM31.2 58.6h0.8v0.8h-0.8zM31.7 58.1h0.8v0.8h-0.8zM31.1 60.0h0.8v0.8h-0.8zM38.8 75.5h0.8v0.8h-0.8zM41.9 54.3h0.8v0.8h-0.8zM37.6 55.3h0.8v0.8h-0.8zM32.3 73.3h0.8v0.8h-0.8zM29.6 66.8h0.8v0.8h-0.8zM32.6 66.0h0.8v0.8h-0.8zM36.5 67.0h0.8v0.8h-0.8zM38.8 61.8h0.8v0.8h-0.8zM31.9 58.3h0.8v0.8h-0.8zM39.7 56.9h0.8v0.8h-0.8zM29.6 58.8h0.8v0.8h-0.8zM37.3 72.7h0.8v0.8h-0.8zM39.1 62.4h0.8v0.8h-0.8zM35.7 68.1h0.8v0.8h-0.8zM35.8 59.2h0.8v0.8h-0.8zM35.1 68.0h0.8v0.8h-0.8zM33.6 59.5h0.8v0.8h-0.8zM37.9 56.7h0.8v0.8h-0.8zM32.8 55.5h0.8v0.8h-0.8zM41.6 57.1h0.8v0.8h-0.8zM29.7 71.2h0.8v0.8h-0.8zM30.0 59.9h0.8v0.8h-0.8zM34.5 55.7h0.8v0.8h-0.8zM44.8 54.9h0.8v0.8h-0.8zM33.9 67.0h0.8v0.8h-0.8zM39.0 63.9h0.8v0.8h-0.8zM32.4 67.1h0.8v0.8h-0.8zM41.7 60.0h0.8v0.8h-0.8zM32.0 56.1h0.8v0.8h-0.8zM37.2 68.0h0.8v0.8h-0.8zM34.5 64.2h0.8v0.8h-0.8zM35.9 67.7h0.8v0.8h-0.8zM37.6 54.3h0.8v0.8h-0.8zM32.9 54.4h0.8v0.8h-0.8zM32.3 62.7h0.8v0.8h-0.8zM35.6 60.1h0.8v0.8h-0.8zM32.0 59.4h0.8v0.8h-0.8zM37.7 67.8h0.8v0.8h-0.8zM33.8 59.1h0.8v0.8h-0.8zM34.2 57.8h0.8v0.8h-0.8zM31.8 63.3h0.8v0.8h-0.8zM36.2 67.8h0.8v0.8h-0.8zM37.2 63.4h0.8v0.8h-0.8zM42.1 58.3h0.8v0.8h-0.8zM31.7 60.6h0.8v0.8h-0.8zM35.9 56.2h0.8v0.8h-0.8zM31.9 72.7h0.8v0.8h-0.8zM40.9 66.2h0.8v0.8h-0.8zM36.0 60.5h0.8v0.8h-0.8zM37.5 56.9h0.8v0.8h-0.8zM34.0 54.4h0.8v0.8h-0.8zM31.5 58.7h0.8v0.8h-0.8zM29.7 54.0h0.8v0.8h-0.8zM37.1 73.3h0.8v0.8h-0.8zM41.7 58.6h0.8v0.8h-0.8zM29.5 62.4h0.8v0.8h-0.8zM36.7 60.8h0.8v0.8h-0.8zM35.0 62.2h0.8v0.8h-0.8zM41.0 68.5h0.8v0.8h-0.8zM37.6 62.3h0.8v0.8h-0.8zM38.2 59.8h0.8v0.8h-0.8zM46.0 61.8h0.8v0.8h-0.8z" fill="#ffffff" fill-opacity="0.22"/><path d="M38.9 88.6h0.8v0.8h-0.8zM45.9 86.6h0.8v0.8h-0.8zM43.1 88.7h0.8v0.8h-0.8zM53.1 87.5h0.8v0.8h-0.8zM39.0 90.8h0.8v0.8h-0.8zM31.0 89.8h0.8v0.8h-0.8zM47.3 87.9h0.8v0.8h-0.8zM41.1 89.3h0.8v0.8h-0.8zM52.7 89.1h0.8v0.8h-0.8zM49.0 84.2h0.8v0.8h-0.8zM38.0 85.0h0.8v0.8h-0.8zM54.3 90.2h0.8v0.8h-0.8zM33.3 88.1h0.8v0.8h-0.8zM44.5 84.3h0.8v0.8h-0.8zM39.7 89.2h0.8v0.8h-0.8zM46.2 86.0h0.8v0.8h-0.8zM49.3 86.0h0.8v0.8h-0.8zM43.7 86.9h0.8v0.8h-0.8zM54.9 88.5h0.8v0.8h-0.8zM50.4 88.7h0.8v0.8h-0.8zM39.4 90.7h0.8v0.8h-0.8zM48.0 88.8h0.8v0.8h-0.8zM36.7 85.1h0.8v0.8h-0.8zM44.5 89.8h0.8v0.8h-0.8zM50.1 86.4h0.8v0.8h-0.8zM33.1 87.6h0.8v0.8h-0.8zM52.3 85.1h0.8v0.8h-0.8zM48.7 85.2h0.8v0.8h-0.8zM37.6 84.4h0.8v0.8h-0.8zM37.2 86.7h0.8v0.8h-0.8zM54.6 90.7h0.8v0.8h-0.8zM34.4 86.2h0.8v0.8h-0.8zM54.0 85.4h0.8v0.8h-0.8zM37.8 87.1h0.8v0.8h-0.8zM32.3 85.8h0.8v0.8h-0.8zM39.7 86.7h0.8v0.8h-0.8zM54.6 85.9h0.8v0.8h-0.8zM34.8 90.4h0.8v0.8h-0.8zM41.2 89.9h0.8v0.8h-0.8zM46.1 89.5h0.8v0.8h-0.8zM37.7 85.1h0.8v0.8h-0.8zM49.2 87.3h0.8v0.8h-0.8zM44.0 88.7h0.8v0.8h-0.8zM49.1 85.9h0.8v0.8h-0.8zM38.9 90.4h0.8v0.8h-0.8zM43.3 86.0h0.8v0.8h-0.8zM45.9 85.8h0.8v0.8h-0.8zM49.6 84.3h0.8v0.8h-0.8zM51.0 88.0h0.8v0.8h-0.8zM38.7 90.6h0.8v0.8h-0.8zM36.4 85.7h0.8v0.8h-0.8zM31.3 87.8h0.8v0.8h-0.8zM49.1 88.7h0.8v0.8h-0.8zM40.2 89.7h0.8v0.8h-0.8zM32.4 86.1h0.8v0.8h-0.8zM46.3 90.8h0.8v0.8h-0.8zM46.0 88.8h0.8v0.8h-0.8zM49.6 86.8h0.8v0.8h-0.8zM53.9 89.2h0.8v0.8h-0.8zM38.4 86.7h0.8v0.8h-0.8zM50.4 86.4h0.8v0.8h-0.8zM34.3 90.1h0.8v0.8h-0.8zM43.3 87.6h0.8v0.8h-0.8zM46.9 90.3h0.8v0.8h-0.8zM33.0 86.4h0.8v0.8h-0.8zM31.2 86.9h0.8v0.8h-0.8zM42.6 90.0h0.8v0.8h-0.8zM46.9 88.0h0.8v0.8h-0.8zM40.0 88.0h0.8v0.8h-0.8zM36.6 89.9h0.8v0.8h-0.8zM50.0 89.9h0.8v0.8h-0.8zM33.4 88.7h0.8v0.8h-0.8zM49.1 87.5h0.8v0.8h-0.8zM52.9 90.3h0.8v0.8h-0.8zM48.8 89.7h0.8v0.8h-0.8zM46.4 90.2h0.8v0.8h-0.8zM32.9 88.9h0.8v0.8h-0.8zM47.8 88.3h0.8v0.8h-0.8zM36.7 84.5h0.8v0.8h-0.8zM45.2 89.8h0.8v0.8h-0.8z" fill="#ffffff" fill-opacity="0.15"/></g><path d="M32.5 74.5 C35.5 66 46 62.8 54.2 64.3 C55.6 70 54.6 79.5 50 83.4 C44 86 35.5 81.5 32.5 74.5 Z" fill="#3468C8" filter="url(#bl12)"/><path d="M35 74.2 C37.8 68 46 65.2 53 66 C54 71 53 78.2 49.2 81 C43.5 82.8 37.3 79.2 35 74.2 Z" fill="#28A6DF" filter="url(#bl12)"/><ellipse cx="45.4" cy="73.4" rx="6.20" ry="4.00" fill="#1E9848" filter="url(#bl08)"/></g></g><g clip-path="url(#cA3)"><g transform="translate(0 64)"><g filter="url(#bl03)"><path d="M57.9 66.3h0.75v0.75h-0.75zM57.6 64.6h0.75v0.75h-0.75zM65.5 80.0h0.75v0.75h-0.75zM55.3 84.3h0.75v0.75h-0.75zM54.9 80.8h0.75v0.75h-0.75zM54.9 85.5h0.75v0.75h-0.75zM63.1 57.1h0.75v0.75h-0.75zM59.1 61.7h0.75v0.75h-0.75zM60.9 59.0h0.75v0.75h-0.75zM61.0 75.9h0.75v0.75h-0.75zM67.0 58.3h0.75v0.75h-0.75zM59.0 60.8h0.75v0.75h-0.75zM56.3 78.4h0.75v0.75h-0.75zM60.1 68.3h0.75v0.75h-0.75zM64.4 64.4h0.75v0.75h-0.75zM65.7 64.1h0.75v0.75h-0.75zM56.0 84.5h0.75v0.75h-0.75zM65.8 58.0h0.75v0.75h-0.75zM61.5 58.0h0.75v0.75h-0.75zM56.3 71.4h0.75v0.75h-0.75zM59.0 78.4h0.75v0.75h-0.75zM56.9 76.9h0.75v0.75h-0.75zM58.8 74.4h0.75v0.75h-0.75zM66.3 64.7h0.75v0.75h-0.75zM56.0 90.9h0.75v0.75h-0.75zM54.1 89.7h0.75v0.75h-0.75zM53.4 90.5h0.75v0.75h-0.75zM56.3 73.2h0.75v0.75h-0.75zM60.2 72.4h0.75v0.75h-0.75zM56.3 81.1h0.75v0.75h-0.75zM57.4 68.6h0.75v0.75h-0.75zM57.5 70.7h0.75v0.75h-0.75zM63.5 63.6h0.75v0.75h-0.75zM57.6 74.6h0.75v0.75h-0.75zM62.9 63.7h0.75v0.75h-0.75zM58.7 63.7h0.75v0.75h-0.75zM59.4 76.0h0.75v0.75h-0.75zM55.8 90.1h0.75v0.75h-0.75zM58.3 89.2h0.75v0.75h-0.75zM58.1 81.6h0.75v0.75h-0.75zM59.0 59.1h0.75v0.75h-0.75zM68.5 57.4h0.75v0.75h-0.75zM57.3 81.5h0.75v0.75h-0.75zM58.9 66.0h0.75v0.75h-0.75zM62.2 62.6h0.75v0.75h-0.75zM53.8 90.7h0.75v0.75h-0.75zM58.8 58.5h0.75v0.75h-0.75zM65.8 69.1h0.75v0.75h-0.75zM55.6 84.4h0.75v0.75h-0.75zM58.3 60.5h0.75v0.75h-0.75zM64.7 62.2h0.75v0.75h-0.75zM73.0 73.0h0.75v0.75h-0.75zM56.8 88.0h0.75v0.75h-0.75zM62.1 73.2h0.75v0.75h-0.75zM58.2 61.4h0.75v0.75h-0.75zM57.7 76.2h0.75v0.75h-0.75zM58.5 64.1h0.75v0.75h-0.75zM70.5 57.7h0.75v0.75h-0.75zM62.7 81.1h0.75v0.75h-0.75zM54.3 90.3h0.75v0.75h-0.75zM55.8 81.9h0.75v0.75h-0.75zM58.6 84.6h0.75v0.75h-0.75zM57.6 61.6h0.75v0.75h-0.75zM61.2 64.3h0.75v0.75h-0.75zM56.4 69.9h0.75v0.75h-0.75zM57.6 85.2h0.75v0.75h-0.75zM56.0 72.8h0.75v0.75h-0.75zM55.3 87.2h0.75v0.75h-0.75zM59.8 59.4h0.75v0.75h-0.75zM61.8 78.2h0.75v0.75h-0.75zM59.5 73.5h0.75v0.75h-0.75zM58.5 64.0h0.75v0.75h-0.75zM54.6 87.8h0.75v0.75h-0.75zM62.2 60.5h0.75v0.75h-0.75zM58.7 61.3h0.75v0.75h-0.75zM59.2 72.5h0.75v0.75h-0.75zM58.8 78.6h0.75v0.75h-0.75zM56.3 71.9h0.75v0.75h-0.75zM54.7 81.6h0.75v0.75h-0.75zM57.7 73.0h0.75v0.75h-0.75zM58.5 79.9h0.75v0.75h-0.75zM61.8 65.2h0.75v0.75h-0.75zM56.5 80.5h0.75v0.75h-0.75zM69.2 61.8h0.75v0.75h-0.75zM55.4 77.4h0.75v0.75h-0.75zM76.6 65.1h0.75v0.75h-0.75zM59.4 64.8h0.75v0.75h-0.75zM58.6 83.8h0.75v0.75h-0.75zM59.2 78.6h0.75v0.75h-0.75zM58.3 58.3h0.75v0.75h-0.75zM56.2 90.2h0.75v0.75h-0.75zM58.1 58.3h0.75v0.75h-0.75zM69.1 65.2h0.75v0.75h-0.75zM62.2 64.5h0.75v0.75h-0.75zM55.5 88.6h0.75v0.75h-0.75zM54.2 88.3h0.75v0.75h-0.75zM57.6 62.2h0.75v0.75h-0.75zM54.7 82.7h0.75v0.75h-0.75zM55.5 90.1h0.75v0.75h-0.75zM65.1 63.4h0.75v0.75h-0.75zM60.9 62.5h0.75v0.75h-0.75zM65.5 60.6h0.75v0.75h-0.75zM59.0 87.2h0.75v0.75h-0.75zM68.1 57.1h0.75v0.75h-0.75zM61.2 75.9h0.75v0.75h-0.75zM59.1 74.1h0.75v0.75h-0.75zM60.4 77.2h0.75v0.75h-0.75zM58.1 59.6h0.75v0.75h-0.75zM56.6 75.5h0.75v0.75h-0.75zM56.3 70.5h0.75v0.75h-0.75zM54.5 82.3h0.75v0.75h-0.75zM57.9 85.2h0.75v0.75h-0.75zM56.4 72.6h0.75v0.75h-0.75zM55.6 79.1h0.75v0.75h-0.75zM56.5 71.6h0.75v0.75h-0.75zM54.7 90.2h0.75v0.75h-0.75zM56.9 69.0h0.75v0.75h-0.75zM59.7 81.8h0.75v0.75h-0.75zM54.2 85.8h0.75v0.75h-0.75zM57.8 69.5h0.75v0.75h-0.75zM54.8 82.9h0.75v0.75h-0.75zM67.4 77.6h0.75v0.75h-0.75zM54.3 83.1h0.75v0.75h-0.75zM58.4 59.5h0.75v0.75h-0.75zM57.3 80.5h0.75v0.75h-0.75zM57.7 74.7h0.75v0.75h-0.75zM59.9 70.9h0.75v0.75h-0.75zM62.4 79.1h0.75v0.75h-0.75zM58.8 81.9h0.75v0.75h-0.75zM57.3 88.0h0.75v0.75h-0.75zM54.7 81.4h0.75v0.75h-0.75zM60.3 80.1h0.75v0.75h-0.75zM64.1 71.6h0.75v0.75h-0.75zM70.9 63.1h0.75v0.75h-0.75zM60.6 72.0h0.75v0.75h-0.75zM58.6 65.6h0.75v0.75h-0.75zM58.1 68.8h0.75v0.75h-0.75zM60.7 60.2h0.75v0.75h-0.75zM55.2 90.3h0.75v0.75h-0.75zM56.3 88.7h0.75v0.75h-0.75zM66.0 85.5h0.75v0.75h-0.75zM55.3 82.6h0.75v0.75h-0.75zM59.4 65.5h0.75v0.75h-0.75zM59.2 57.7h0.75v0.75h-0.75zM59.2 87.1h0.75v0.75h-0.75zM62.7 68.2h0.75v0.75h-0.75zM59.9 83.3h0.75v0.75h-0.75zM56.1 84.0h0.75v0.75h-0.75zM66.5 60.6h0.75v0.75h-0.75zM60.8 67.7h0.75v0.75h-0.75zM59.5 69.5h0.75v0.75h-0.75zM53.7 89.8h0.75v0.75h-0.75zM59.2 75.1h0.75v0.75h-0.75zM65.0 75.3h0.75v0.75h-0.75zM65.7 70.9h0.75v0.75h-0.75zM64.6 80.5h0.75v0.75h-0.75zM59.0 60.0h0.75v0.75h-0.75zM67.1 66.8h0.75v0.75h-0.75zM59.4 57.5h0.75v0.75h-0.75zM67.3 81.3h0.75v0.75h-0.75zM60.1 63.0h0.75v0.75h-0.75zM58.1 80.4h0.75v0.75h-0.75zM58.2 82.4h0.75v0.75h-0.75zM58.3 65.4h0.75v0.75h-0.75zM64.0 57.9h0.75v0.75h-0.75zM58.6 64.1h0.75v0.75h-0.75zM55.2 89.8h0.75v0.75h-0.75zM58.7 77.1h0.75v0.75h-0.75zM59.0 77.3h0.75v0.75h-0.75zM57.0 67.3h0.75v0.75h-0.75zM57.9 59.3h0.75v0.75h-0.75zM57.0 69.3h0.75v0.75h-0.75zM61.1 60.8h0.75v0.75h-0.75zM55.4 90.0h0.75v0.75h-0.75zM63.3 66.3h0.75v0.75h-0.75zM57.8 63.0h0.75v0.75h-0.75zM59.0 67.3h0.75v0.75h-0.75zM56.4 80.4h0.75v0.75h-0.75zM54.8 81.8h0.75v0.75h-0.75zM54.3 88.7h0.75v0.75h-0.75zM54.1 85.3h0.75v0.75h-0.75zM54.6 85.2h0.75v0.75h-0.75zM57.6 86.1h0.75v0.75h-0.75zM55.8 79.8h0.75v0.75h-0.75zM58.9 57.3h0.75v0.75h-0.75zM54.0 87.8h0.75v0.75h-0.75zM57.5 79.4h0.75v0.75h-0.75zM55.5 79.5h0.75v0.75h-0.75zM58.0 61.9h0.75v0.75h-0.75zM54.1 90.4h0.75v0.75h-0.75zM57.5 79.2h0.75v0.75h-0.75zM57.4 64.6h0.75v0.75h-0.75zM68.0 57.5h0.75v0.75h-0.75zM73.8 61.4h0.75v0.75h-0.75zM61.6 69.4h0.75v0.75h-0.75zM65.1 61.7h0.75v0.75h-0.75zM59.0 65.6h0.75v0.75h-0.75zM56.0 74.8h0.75v0.75h-0.75zM64.1 65.4h0.75v0.75h-0.75zM58.9 66.7h0.75v0.75h-0.75zM55.0 83.0h0.75v0.75h-0.75zM58.4 63.6h0.75v0.75h-0.75zM58.1 70.1h0.75v0.75h-0.75zM56.9 78.8h0.75v0.75h-0.75zM53.9 86.6h0.75v0.75h-0.75zM60.2 79.6h0.75v0.75h-0.75zM57.2 65.0h0.75v0.75h-0.75zM56.5 71.9h0.75v0.75h-0.75zM60.5 72.6h0.75v0.75h-0.75zM58.4 60.2h0.75v0.75h-0.75zM56.5 73.3h0.75v0.75h-0.75zM59.7 64.8h0.75v0.75h-0.75zM58.0 61.0h0.75v0.75h-0.75zM59.0 69.3h0.75v0.75h-0.75zM55.1 88.8h0.75v0.75h-0.75zM59.1 59.4h0.75v0.75h-0.75zM56.7 82.3h0.75v0.75h-0.75zM61.0 86.6h0.75v0.75h-0.75zM54.1 86.2h0.75v0.75h-0.75zM54.9 89.1h0.75v0.75h-0.75zM57.9 65.2h0.75v0.75h-0.75zM54.4 86.4h0.75v0.75h-0.75zM59.4 59.8h0.75v0.75h-0.75zM54.8 88.4h0.75v0.75h-0.75zM54.7 81.9h0.75v0.75h-0.75zM57.4 72.4h0.75v0.75h-0.75zM62.3 64.0h0.75v0.75h-0.75zM56.9 69.3h0.75v0.75h-0.75zM54.4 90.5h0.75v0.75h-0.75zM57.4 63.1h0.75v0.75h-0.75zM57.1 79.2h0.75v0.75h-0.75zM61.2 57.8h0.75v0.75h-0.75zM56.5 82.2h0.75v0.75h-0.75zM60.2 65.0h0.75v0.75h-0.75zM58.5 77.6h0.75v0.75h-0.75zM65.4 61.9h0.75v0.75h-0.75zM56.0 89.1h0.75v0.75h-0.75zM54.9 86.1h0.75v0.75h-0.75zM54.1 87.7h0.75v0.75h-0.75zM61.3 64.7h0.75v0.75h-0.75zM53.8 87.7h0.75v0.75h-0.75zM57.3 64.4h0.75v0.75h-0.75zM56.6 71.9h0.75v0.75h-0.75zM63.8 63.5h0.75v0.75h-0.75zM64.4 76.8h0.75v0.75h-0.75zM60.7 70.7h0.75v0.75h-0.75zM73.7 57.4h0.75v0.75h-0.75zM60.0 64.9h0.75v0.75h-0.75zM66.1 74.4h0.75v0.75h-0.75zM73.0 73.7h0.75v0.75h-0.75zM55.8 78.1h0.75v0.75h-0.75zM54.5 85.4h0.75v0.75h-0.75zM54.2 91.0h0.75v0.75h-0.75zM71.9 64.7h0.75v0.75h-0.75zM58.8 67.9h0.75v0.75h-0.75zM61.1 68.7h0.75v0.75h-0.75zM60.3 57.8h0.75v0.75h-0.75zM65.9 62.5h0.75v0.75h-0.75zM62.9 57.0h0.75v0.75h-0.75zM59.6 65.8h0.75v0.75h-0.75zM59.5 76.1h0.75v0.75h-0.75zM58.9 61.7h0.75v0.75h-0.75zM73.6 61.1h0.75v0.75h-0.75zM58.2 62.1h0.75v0.75h-0.75zM58.6 74.8h0.75v0.75h-0.75zM53.9 87.1h0.75v0.75h-0.75zM57.9 65.0h0.75v0.75h-0.75zM57.2 76.9h0.75v0.75h-0.75zM64.7 70.9h0.75v0.75h-0.75zM60.7 79.5h0.75v0.75h-0.75zM54.0 89.5h0.75v0.75h-0.75zM54.5 89.0h0.75v0.75h-0.75zM70.6 58.8h0.75v0.75h-0.75zM57.8 60.5h0.75v0.75h-0.75zM58.3 66.8h0.75v0.75h-0.75zM57.1 89.9h0.75v0.75h-0.75zM59.0 71.3h0.75v0.75h-0.75zM57.7 85.9h0.75v0.75h-0.75zM57.1 79.2h0.75v0.75h-0.75zM59.0 61.0h0.75v0.75h-0.75zM57.5 79.4h0.75v0.75h-0.75zM59.8 84.2h0.75v0.75h-0.75zM53.7 89.7h0.75v0.75h-0.75zM69.5 59.6h0.75v0.75h-0.75zM56.0 76.4h0.75v0.75h-0.75zM55.6 80.5h0.75v0.75h-0.75zM59.1 65.0h0.75v0.75h-0.75zM59.5 74.8h0.75v0.75h-0.75zM64.7 59.5h0.75v0.75h-0.75zM57.0 78.2h0.75v0.75h-0.75zM59.5 79.9h0.75v0.75h-0.75zM61.3 57.3h0.75v0.75h-0.75zM58.4 80.0h0.75v0.75h-0.75zM55.5 79.0h0.75v0.75h-0.75zM56.3 89.6h0.75v0.75h-0.75zM59.6 64.9h0.75v0.75h-0.75zM53.8 89.6h0.75v0.75h-0.75zM68.9 70.9h0.75v0.75h-0.75zM54.2 87.6h0.75v0.75h-0.75zM55.7 82.0h0.75v0.75h-0.75zM59.2 79.6h0.75v0.75h-0.75zM58.8 61.3h0.75v0.75h-0.75zM58.6 64.3h0.75v0.75h-0.75zM58.6 58.2h0.75v0.75h-0.75zM58.3 70.8h0.75v0.75h-0.75zM62.3 59.6h0.75v0.75h-0.75zM55.1 89.0h0.75v0.75h-0.75zM61.4 69.1h0.75v0.75h-0.75zM56.8 71.9h0.75v0.75h-0.75zM55.9 73.4h0.75v0.75h-0.75zM55.3 80.0h0.75v0.75h-0.75zM69.6 69.6h0.75v0.75h-0.75zM59.0 83.1h0.75v0.75h-0.75zM58.0 78.8h0.75v0.75h-0.75zM64.2 81.0h0.75v0.75h-0.75zM64.0 63.7h0.75v0.75h-0.75zM58.0 67.2h0.75v0.75h-0.75zM56.3 84.9h0.75v0.75h-0.75zM58.7 85.9h0.75v0.75h-0.75zM56.0 77.0h0.75v0.75h-0.75zM61.9 57.5h0.75v0.75h-0.75zM55.4 81.7h0.75v0.75h-0.75zM57.8 59.4h0.75v0.75h-0.75zM63.0 62.9h0.75v0.75h-0.75zM59.2 57.1h0.75v0.75h-0.75zM62.4 66.0h0.75v0.75h-0.75zM53.2 90.6h0.75v0.75h-0.75zM71.3 60.9h0.75v0.75h-0.75zM53.6 90.0h0.75v0.75h-0.75zM59.6 68.4h0.75v0.75h-0.75zM58.9 67.9h0.75v0.75h-0.75zM56.9 73.3h0.75v0.75h-0.75zM58.3 58.9h0.75v0.75h-0.75zM57.9 62.5h0.75v0.75h-0.75zM58.8 78.2h0.75v0.75h-0.75zM63.9 65.9h0.75v0.75h-0.75zM55.7 81.8h0.75v0.75h-0.75zM56.5 73.7h0.75v0.75h-0.75zM55.1 88.6h0.75v0.75h-0.75zM58.7 58.7h0.75v0.75h-0.75zM56.1 80.5h0.75v0.75h-0.75zM55.3 81.4h0.75v0.75h-0.75zM58.2 84.1h0.75v0.75h-0.75zM62.2 60.2h0.75v0.75h-0.75zM63.1 63.5h0.75v0.75h-0.75zM58.0 84.3h0.75v0.75h-0.75zM57.5 64.9h0.75v0.75h-0.75zM57.3 79.6h0.75v0.75h-0.75zM58.6 61.7h0.75v0.75h-0.75zM55.7 76.8h0.75v0.75h-0.75zM55.9 78.6h0.75v0.75h-0.75zM59.4 65.8h0.75v0.75h-0.75zM60.0 75.1h0.75v0.75h-0.75zM64.6 58.1h0.75v0.75h-0.75zM58.7 64.5h0.75v0.75h-0.75zM58.6 78.8h0.75v0.75h-0.75zM62.4 77.9h0.75v0.75h-0.75zM58.9 64.0h0.75v0.75h-0.75zM55.8 79.5h0.75v0.75h-0.75zM58.7 62.3h0.75v0.75h-0.75zM58.8 83.2h0.75v0.75h-0.75zM63.4 81.4h0.75v0.75h-0.75zM55.1 84.0h0.75v0.75h-0.75zM62.1 67.7h0.75v0.75h-0.75zM62.7 58.9h0.75v0.75h-0.75zM58.1 60.0h0.75v0.75h-0.75zM56.2 74.5h0.75v0.75h-0.75zM57.6 88.7h0.75v0.75h-0.75zM56.7 72.7h0.75v0.75h-0.75zM61.1 61.1h0.75v0.75h-0.75zM57.2 74.7h0.75v0.75h-0.75zM56.7 81.4h0.75v0.75h-0.75zM54.6 83.4h0.75v0.75h-0.75zM60.3 59.4h0.75v0.75h-0.75zM56.8 73.4h0.75v0.75h-0.75zM55.6 79.7h0.75v0.75h-0.75zM59.4 67.8h0.75v0.75h-0.75zM58.7 81.2h0.75v0.75h-0.75zM58.7 69.6h0.75v0.75h-0.75zM58.9 88.5h0.75v0.75h-0.75zM55.4 78.0h0.75v0.75h-0.75zM59.7 72.5h0.75v0.75h-0.75zM57.0 66.5h0.75v0.75h-0.75zM57.6 90.4h0.75v0.75h-0.75zM60.7 61.4h0.75v0.75h-0.75zM56.2 78.1h0.75v0.75h-0.75zM65.0 59.3h0.75v0.75h-0.75zM55.8 83.2h0.75v0.75h-0.75zM60.3 59.9h0.75v0.75h-0.75zM74.5 60.2h0.75v0.75h-0.75zM59.6 58.7h0.75v0.75h-0.75zM54.7 83.1h0.75v0.75h-0.75zM58.1 60.6h0.75v0.75h-0.75zM61.1 62.6h0.75v0.75h-0.75zM54.4 85.3h0.75v0.75h-0.75zM64.3 62.9h0.75v0.75h-0.75zM57.7 71.5h0.75v0.75h-0.75zM59.0 61.2h0.75v0.75h-0.75zM53.5 90.0h0.75v0.75h-0.75zM62.9 65.8h0.75v0.75h-0.75zM58.7 87.3h0.75v0.75h-0.75zM67.3 73.1h0.75v0.75h-0.75zM56.3 77.5h0.75v0.75h-0.75zM60.5 72.8h0.75v0.75h-0.75zM54.9 82.0h0.75v0.75h-0.75zM72.2 63.6h0.75v0.75h-0.75zM66.1 60.6h0.75v0.75h-0.75zM57.7 68.5h0.75v0.75h-0.75zM59.8 65.7h0.75v0.75h-0.75zM53.5 90.7h0.75v0.75h-0.75zM54.8 86.1h0.75v0.75h-0.75zM63.9 62.9h0.75v0.75h-0.75zM57.4 68.6h0.75v0.75h-0.75zM62.8 71.2h0.75v0.75h-0.75zM55.8 86.3h0.75v0.75h-0.75zM65.5 57.4h0.75v0.75h-0.75zM62.4 77.6h0.75v0.75h-0.75zM54.1 89.4h0.75v0.75h-0.75zM57.8 85.8h0.75v0.75h-0.75zM58.9 66.0h0.75v0.75h-0.75zM58.1 69.7h0.75v0.75h-0.75zM56.8 69.9h0.75v0.75h-0.75zM68.1 64.7h0.75v0.75h-0.75zM60.1 71.0h0.75v0.75h-0.75zM56.7 87.2h0.75v0.75h-0.75zM68.4 65.3h0.75v0.75h-0.75zM65.6 84.3h0.75v0.75h-0.75zM58.4 81.8h0.75v0.75h-0.75zM54.8 84.6h0.75v0.75h-0.75zM56.3 79.3h0.75v0.75h-0.75zM54.3 85.5h0.75v0.75h-0.75zM56.9 75.3h0.75v0.75h-0.75zM55.1 84.9h0.75v0.75h-0.75zM58.3 85.7h0.75v0.75h-0.75zM54.1 86.9h0.75v0.75h-0.75zM56.1 88.9h0.75v0.75h-0.75zM57.9 80.0h0.75v0.75h-0.75zM68.5 58.6h0.75v0.75h-0.75zM57.5 75.6h0.75v0.75h-0.75zM62.9 68.5h0.75v0.75h-0.75zM59.4 83.6h0.75v0.75h-0.75zM59.1 64.3h0.75v0.75h-0.75zM57.5 65.5h0.75v0.75h-0.75zM56.7 68.1h0.75v0.75h-0.75zM54.8 84.1h0.75v0.75h-0.75zM58.2 59.4h0.75v0.75h-0.75zM55.1 82.2h0.75v0.75h-0.75zM57.8 72.7h0.75v0.75h-0.75zM61.7 84.3h0.75v0.75h-0.75zM60.9 67.5h0.75v0.75h-0.75zM55.0 87.4h0.75v0.75h-0.75zM56.4 87.6h0.75v0.75h-0.75zM65.5 67.6h0.75v0.75h-0.75zM55.7 76.5h0.75v0.75h-0.75zM61.0 77.0h0.75v0.75h-0.75zM57.9 74.6h0.75v0.75h-0.75zM64.3 71.2h0.75v0.75h-0.75zM55.5 79.6h0.75v0.75h-0.75zM58.2 69.3h0.75v0.75h-0.75zM55.6 89.6h0.75v0.75h-0.75zM69.8 61.2h0.75v0.75h-0.75zM62.5 58.2h0.75v0.75h-0.75zM60.9 71.7h0.75v0.75h-0.75zM56.4 71.6h0.75v0.75h-0.75zM61.5 74.8h0.75v0.75h-0.75zM55.3 83.8h0.75v0.75h-0.75zM63.4 64.6h0.75v0.75h-0.75zM54.8 84.3h0.75v0.75h-0.75zM64.3 87.0h0.75v0.75h-0.75zM57.9 71.7h0.75v0.75h-0.75zM62.0 81.1h0.75v0.75h-0.75zM58.9 63.9h0.75v0.75h-0.75zM62.1 68.2h0.75v0.75h-0.75zM61.0 63.4h0.75v0.75h-0.75zM59.6 74.0h0.75v0.75h-0.75zM72.8 61.9h0.75v0.75h-0.75zM54.6 91.0h0.75v0.75h-0.75zM54.7 84.0h0.75v0.75h-0.75zM55.3 87.9h0.75v0.75h-0.75zM59.7 82.8h0.75v0.75h-0.75zM66.9 69.3h0.75v0.75h-0.75zM57.3 64.1h0.75v0.75h-0.75zM63.8 74.1h0.75v0.75h-0.75zM60.1 87.6h0.75v0.75h-0.75zM65.2 74.4h0.75v0.75h-0.75zM55.9 76.0h0.75v0.75h-0.75zM60.0 78.5h0.75v0.75h-0.75zM59.6 71.4h0.75v0.75h-0.75zM58.4 65.8h0.75v0.75h-0.75zM58.9 71.3h0.75v0.75h-0.75zM56.2 72.9h0.75v0.75h-0.75zM60.0 57.2h0.75v0.75h-0.75zM58.4 81.4h0.75v0.75h-0.75zM58.4 65.1h0.75v0.75h-0.75zM56.3 74.6h0.75v0.75h-0.75zM62.6 77.5h0.75v0.75h-0.75zM61.3 63.9h0.75v0.75h-0.75zM58.4 81.5h0.75v0.75h-0.75zM58.1 81.2h0.75v0.75h-0.75zM64.9 66.3h0.75v0.75h-0.75zM53.6 88.5h0.75v0.75h-0.75zM54.6 89.1h0.75v0.75h-0.75zM58.2 59.9h0.75v0.75h-0.75zM57.0 84.1h0.75v0.75h-0.75zM60.5 61.8h0.75v0.75h-0.75zM73.4 78.7h0.75v0.75h-0.75zM62.6 68.4h0.75v0.75h-0.75zM58.0 65.3h0.75v0.75h-0.75zM60.0 62.5h0.75v0.75h-0.75zM56.2 78.0h0.75v0.75h-0.75zM58.6 62.5h0.75v0.75h-0.75zM58.9 59.9h0.75v0.75h-0.75zM59.6 67.7h0.75v0.75h-0.75zM60.4 63.2h0.75v0.75h-0.75zM69.7 72.0h0.75v0.75h-0.75zM66.2 73.5h0.75v0.75h-0.75zM56.7 73.0h0.75v0.75h-0.75zM55.7 77.1h0.75v0.75h-0.75zM57.8 62.8h0.75v0.75h-0.75zM64.3 80.8h0.75v0.75h-0.75zM57.9 70.7h0.75v0.75h-0.75zM57.7 71.5h0.75v0.75h-0.75zM56.2 80.5h0.75v0.75h-0.75zM67.1 62.2h0.75v0.75h-0.75zM55.4 76.5h0.75v0.75h-0.75zM56.9 85.9h0.75v0.75h-0.75zM60.5 69.1h0.75v0.75h-0.75zM54.6 88.3h0.75v0.75h-0.75zM57.4 71.7h0.75v0.75h-0.75zM59.1 75.8h0.75v0.75h-0.75zM62.6 82.0h0.75v0.75h-0.75zM59.7 61.9h0.75v0.75h-0.75zM57.5 86.0h0.75v0.75h-0.75zM58.9 77.1h0.75v0.75h-0.75zM68.5 68.6h0.75v0.75h-0.75zM57.2 75.7h0.75v0.75h-0.75zM57.9 63.2h0.75v0.75h-0.75zM57.1 87.5h0.75v0.75h-0.75zM59.9 57.9h0.75v0.75h-0.75zM58.3 73.3h0.75v0.75h-0.75zM65.6 69.4h0.75v0.75h-0.75zM59.6 68.9h0.75v0.75h-0.75zM55.5 88.6h0.75v0.75h-0.75zM57.3 73.2h0.75v0.75h-0.75zM60.0 70.2h0.75v0.75h-0.75zM55.0 83.7h0.75v0.75h-0.75zM58.3 69.6h0.75v0.75h-0.75zM66.3 69.3h0.75v0.75h-0.75zM56.6 75.3h0.75v0.75h-0.75zM63.8 68.3h0.75v0.75h-0.75zM63.1 62.4h0.75v0.75h-0.75zM58.9 57.7h0.75v0.75h-0.75zM66.3 59.0h0.75v0.75h-0.75zM58.8 62.0h0.75v0.75h-0.75zM59.4 59.0h0.75v0.75h-0.75zM58.0 81.9h0.75v0.75h-0.75zM59.6 88.0h0.75v0.75h-0.75zM64.1 75.7h0.75v0.75h-0.75zM70.9 60.0h0.75v0.75h-0.75zM56.9 71.8h0.75v0.75h-0.75zM59.6 82.4h0.75v0.75h-0.75zM56.7 70.1h0.75v0.75h-0.75zM56.9 86.7h0.75v0.75h-0.75zM67.3 77.3h0.75v0.75h-0.75zM58.1 58.3h0.75v0.75h-0.75zM57.7 61.2h0.75v0.75h-0.75zM57.4 81.1h0.75v0.75h-0.75zM58.6 60.8h0.75v0.75h-0.75zM61.8 63.2h0.75v0.75h-0.75zM65.1 79.9h0.75v0.75h-0.75zM72.2 69.3h0.75v0.75h-0.75zM57.9 71.8h0.75v0.75h-0.75zM58.1 65.6h0.75v0.75h-0.75zM62.9 90.1h0.75v0.75h-0.75zM55.2 81.0h0.75v0.75h-0.75zM58.1 63.1h0.75v0.75h-0.75zM62.0 68.9h0.75v0.75h-0.75zM61.7 59.0h0.75v0.75h-0.75zM54.9 80.1h0.75v0.75h-0.75zM61.9 71.9h0.75v0.75h-0.75zM57.3 76.6h0.75v0.75h-0.75zM55.7 87.0h0.75v0.75h-0.75zM58.6 68.5h0.75v0.75h-0.75zM57.2 89.1h0.75v0.75h-0.75zM55.3 88.1h0.75v0.75h-0.75zM58.5 61.8h0.75v0.75h-0.75zM61.0 70.0h0.75v0.75h-0.75zM66.5 57.2h0.75v0.75h-0.75zM56.1 83.7h0.75v0.75h-0.75zM66.4 57.2h0.75v0.75h-0.75zM60.4 71.1h0.75v0.75h-0.75zM59.7 76.4h0.75v0.75h-0.75zM68.7 70.9h0.75v0.75h-0.75zM58.4 89.5h0.75v0.75h-0.75zM56.3 77.9h0.75v0.75h-0.75zM57.6 69.8h0.75v0.75h-0.75zM56.9 87.7h0.75v0.75h-0.75zM58.5 83.8h0.75v0.75h-0.75zM55.2 90.7h0.75v0.75h-0.75zM62.6 67.8h0.75v0.75h-0.75zM61.1 65.9h0.75v0.75h-0.75zM66.8 62.4h0.75v0.75h-0.75zM56.9 73.6h0.75v0.75h-0.75zM53.7 88.4h0.75v0.75h-0.75zM56.3 88.6h0.75v0.75h-0.75zM64.4 62.1h0.75v0.75h-0.75zM63.2 76.5h0.75v0.75h-0.75zM57.1 76.9h0.75v0.75h-0.75zM53.7 88.7h0.75v0.75h-0.75zM54.6 83.4h0.75v0.75h-0.75zM57.4 66.4h0.75v0.75h-0.75zM55.1 86.6h0.75v0.75h-0.75zM55.4 81.7h0.75v0.75h-0.75zM57.4 81.8h0.75v0.75h-0.75zM61.2 60.3h0.75v0.75h-0.75zM55.2 81.5h0.75v0.75h-0.75zM55.9 79.2h0.75v0.75h-0.75zM66.6 69.6h0.75v0.75h-0.75zM65.4 89.1h0.75v0.75h-0.75zM59.3 71.5h0.75v0.75h-0.75zM57.6 84.5h0.75v0.75h-0.75zM63.3 72.5h0.75v0.75h-0.75zM68.0 70.6h0.75v0.75h-0.75zM56.3 73.1h0.75v0.75h-0.75zM54.8 82.5h0.75v0.75h-0.75zM54.9 80.1h0.75v0.75h-0.75zM54.6 90.6h0.75v0.75h-0.75zM54.9 82.2h0.75v0.75h-0.75zM56.4 78.7h0.75v0.75h-0.75zM64.5 65.5h0.75v0.75h-0.75zM61.2 58.1h0.75v0.75h-0.75zM67.5 60.0h0.75v0.75h-0.75zM53.8 87.4h0.75v0.75h-0.75zM58.2 72.8h0.75v0.75h-0.75zM58.2 81.4h0.75v0.75h-0.75zM67.7 68.7h0.75v0.75h-0.75zM58.0 63.3h0.75v0.75h-0.75zM54.4 84.7h0.75v0.75h-0.75zM60.6 63.3h0.75v0.75h-0.75zM57.3 68.4h0.75v0.75h-0.75zM54.8 88.6h0.75v0.75h-0.75zM55.0 83.7h0.75v0.75h-0.75zM54.1 88.0h0.75v0.75h-0.75zM55.6 87.8h0.75v0.75h-0.75zM56.0 90.0h0.75v0.75h-0.75zM57.4 78.4h0.75v0.75h-0.75zM55.2 86.1h0.75v0.75h-0.75zM70.1 60.3h0.75v0.75h-0.75zM56.9 84.4h0.75v0.75h-0.75zM55.2 82.3h0.75v0.75h-0.75zM62.3 72.8h0.75v0.75h-0.75zM58.1 89.7h0.75v0.75h-0.75zM63.0 62.5h0.75v0.75h-0.75zM57.2 75.8h0.75v0.75h-0.75zM58.1 62.7h0.75v0.75h-0.75zM58.3 73.0h0.75v0.75h-0.75zM58.9 66.1h0.75v0.75h-0.75zM60.3 75.8h0.75v0.75h-0.75zM55.8 77.0h0.75v0.75h-0.75zM54.7 87.1h0.75v0.75h-0.75zM60.9 89.6h0.75v0.75h-0.75zM61.8 61.8h0.75v0.75h-0.75zM54.2 89.9h0.75v0.75h-0.75zM56.7 75.6h0.75v0.75h-0.75zM59.0 58.0h0.75v0.75h-0.75zM59.3 61.2h0.75v0.75h-0.75zM57.6 78.4h0.75v0.75h-0.75zM55.6 89.2h0.75v0.75h-0.75zM68.5 69.3h0.75v0.75h-0.75zM57.4 78.6h0.75v0.75h-0.75zM56.3 86.3h0.75v0.75h-0.75zM60.2 69.3h0.75v0.75h-0.75zM71.7 67.2h0.75v0.75h-0.75zM73.3 65.3h0.75v0.75h-0.75zM57.9 59.2h0.75v0.75h-0.75zM56.2 75.8h0.75v0.75h-0.75zM56.1 74.3h0.75v0.75h-0.75zM56.6 85.5h0.75v0.75h-0.75zM62.3 80.3h0.75v0.75h-0.75zM55.2 90.7h0.75v0.75h-0.75zM54.6 81.2h0.75v0.75h-0.75zM60.7 58.7h0.75v0.75h-0.75zM54.0 89.9h0.75v0.75h-0.75zM55.4 76.3h0.75v0.75h-0.75zM65.1 71.1h0.75v0.75h-0.75zM60.9 77.0h0.75v0.75h-0.75zM59.0 57.4h0.75v0.75h-0.75zM65.8 63.1h0.75v0.75h-0.75zM71.2 60.5h0.75v0.75h-0.75zM66.3 66.1h0.75v0.75h-0.75zM57.0 74.5h0.75v0.75h-0.75zM54.3 89.9h0.75v0.75h-0.75zM54.9 80.7h0.75v0.75h-0.75zM63.4 85.2h0.75v0.75h-0.75zM64.5 60.8h0.75v0.75h-0.75zM57.6 66.2h0.75v0.75h-0.75zM60.8 69.4h0.75v0.75h-0.75zM63.1 89.4h0.75v0.75h-0.75zM54.9 90.8h0.75v0.75h-0.75zM55.4 79.2h0.75v0.75h-0.75zM56.7 81.7h0.75v0.75h-0.75zM65.8 69.2h0.75v0.75h-0.75zM57.6 65.7h0.75v0.75h-0.75zM58.2 62.4h0.75v0.75h-0.75zM60.5 77.0h0.75v0.75h-0.75zM60.8 62.4h0.75v0.75h-0.75zM58.0 76.5h0.75v0.75h-0.75zM59.2 71.0h0.75v0.75h-0.75zM58.1 57.5h0.75v0.75h-0.75zM57.1 71.4h0.75v0.75h-0.75zM55.1 82.7h0.75v0.75h-0.75zM54.7 85.0h0.75v0.75h-0.75zM61.1 60.1h0.75v0.75h-0.75zM57.9 70.2h0.75v0.75h-0.75zM55.0 83.0h0.75v0.75h-0.75zM60.1 79.8h0.75v0.75h-0.75zM58.6 72.4h0.75v0.75h-0.75zM55.4 88.4h0.75v0.75h-0.75zM57.7 63.2h0.75v0.75h-0.75zM59.9 59.8h0.75v0.75h-0.75zM63.1 60.0h0.75v0.75h-0.75zM57.5 71.4h0.75v0.75h-0.75zM65.3 74.4h0.75v0.75h-0.75zM57.8 65.3h0.75v0.75h-0.75zM58.4 67.4h0.75v0.75h-0.75zM56.1 87.9h0.75v0.75h-0.75zM56.8 71.6h0.75v0.75h-0.75zM58.5 58.5h0.75v0.75h-0.75zM56.3 85.8h0.75v0.75h-0.75zM62.2 62.3h0.75v0.75h-0.75zM61.5 59.0h0.75v0.75h-0.75zM57.0 68.4h0.75v0.75h-0.75zM57.8 82.2h0.75v0.75h-0.75zM56.3 74.4h0.75v0.75h-0.75zM56.5 79.8h0.75v0.75h-0.75zM55.2 79.5h0.75v0.75h-0.75zM53.7 87.7h0.75v0.75h-0.75zM59.4 64.6h0.75v0.75h-0.75zM57.7 63.7h0.75v0.75h-0.75zM69.4 80.4h0.75v0.75h-0.75zM57.8 68.4h0.75v0.75h-0.75zM55.6 79.8h0.75v0.75h-0.75zM60.8 70.6h0.75v0.75h-0.75zM56.7 71.6h0.75v0.75h-0.75zM61.8 59.4h0.75v0.75h-0.75zM57.6 90.7h0.75v0.75h-0.75zM61.3 60.4h0.75v0.75h-0.75zM56.5 73.6h0.75v0.75h-0.75zM56.8 79.8h0.75v0.75h-0.75zM55.0 84.5h0.75v0.75h-0.75zM56.8 88.8h0.75v0.75h-0.75zM56.4 73.1h0.75v0.75h-0.75zM56.3 73.4h0.75v0.75h-0.75zM58.2 80.3h0.75v0.75h-0.75zM67.6 76.7h0.75v0.75h-0.75zM64.4 58.5h0.75v0.75h-0.75zM54.5 84.2h0.75v0.75h-0.75zM56.8 67.9h0.75v0.75h-0.75zM59.5 76.8h0.75v0.75h-0.75zM61.4 68.8h0.75v0.75h-0.75zM61.4 69.5h0.75v0.75h-0.75zM73.6 66.4h0.75v0.75h-0.75zM56.0 71.9h0.75v0.75h-0.75zM64.3 60.1h0.75v0.75h-0.75zM56.1 86.4h0.75v0.75h-0.75zM67.4 62.3h0.75v0.75h-0.75zM54.9 81.4h0.75v0.75h-0.75zM60.8 69.9h0.75v0.75h-0.75zM58.0 57.1h0.75v0.75h-0.75zM65.0 69.0h0.75v0.75h-0.75zM53.8 90.9h0.75v0.75h-0.75zM56.8 87.9h0.75v0.75h-0.75zM55.8 86.4h0.75v0.75h-0.75zM55.2 90.0h0.75v0.75h-0.75zM55.0 89.2h0.75v0.75h-0.75zM60.7 63.7h0.75v0.75h-0.75zM57.3 73.4h0.75v0.75h-0.75zM59.2 69.7h0.75v0.75h-0.75zM56.1 77.0h0.75v0.75h-0.75zM59.9 66.4h0.75v0.75h-0.75zM57.6 74.1h0.75v0.75h-0.75zM55.5 79.6h0.75v0.75h-0.75zM56.6 75.1h0.75v0.75h-0.75zM57.5 83.2h0.75v0.75h-0.75zM56.1 83.6h0.75v0.75h-0.75zM68.6 65.5h0.75v0.75h-0.75zM57.3 74.4h0.75v0.75h-0.75zM59.0 66.9h0.75v0.75h-0.75zM59.4 81.1h0.75v0.75h-0.75zM60.6 73.4h0.75v0.75h-0.75zM59.9 64.2h0.75v0.75h-0.75zM57.9 69.2h0.75v0.75h-0.75zM62.2 69.2h0.75v0.75h-0.75zM55.1 81.9h0.75v0.75h-0.75zM64.0 64.9h0.75v0.75h-0.75zM58.3 79.3h0.75v0.75h-0.75zM58.6 78.6h0.75v0.75h-0.75zM57.1 66.3h0.75v0.75h-0.75zM56.5 69.3h0.75v0.75h-0.75zM54.7 89.7h0.75v0.75h-0.75zM64.8 79.8h0.75v0.75h-0.75zM54.8 84.3h0.75v0.75h-0.75zM57.0 68.5h0.75v0.75h-0.75zM57.5 84.1h0.75v0.75h-0.75zM57.4 73.6h0.75v0.75h-0.75zM59.8 66.2h0.75v0.75h-0.75zM60.9 81.2h0.75v0.75h-0.75zM58.5 85.9h0.75v0.75h-0.75zM58.1 71.9h0.75v0.75h-0.75zM72.2 67.7h0.75v0.75h-0.75zM58.1 63.2h0.75v0.75h-0.75zM68.0 66.6h0.75v0.75h-0.75zM54.8 86.0h0.75v0.75h-0.75zM58.9 86.0h0.75v0.75h-0.75zM56.9 71.5h0.75v0.75h-0.75zM55.5 83.3h0.75v0.75h-0.75zM69.2 61.1h0.75v0.75h-0.75zM57.9 71.9h0.75v0.75h-0.75zM56.2 77.2h0.75v0.75h-0.75zM60.4 57.7h0.75v0.75h-0.75zM56.4 69.9h0.75v0.75h-0.75zM62.1 69.6h0.75v0.75h-0.75zM61.3 68.3h0.75v0.75h-0.75zM55.7 78.2h0.75v0.75h-0.75zM63.8 57.7h0.75v0.75h-0.75zM56.2 77.8h0.75v0.75h-0.75zM66.2 63.8h0.75v0.75h-0.75zM54.2 87.9h0.75v0.75h-0.75zM58.0 76.9h0.75v0.75h-0.75zM56.8 67.9h0.75v0.75h-0.75zM60.9 68.1h0.75v0.75h-0.75zM57.5 77.5h0.75v0.75h-0.75zM58.8 61.2h0.75v0.75h-0.75zM59.0 67.6h0.75v0.75h-0.75zM65.9 69.3h0.75v0.75h-0.75zM79.0 60.9h0.75v0.75h-0.75zM65.8 65.2h0.75v0.75h-0.75zM61.0 65.3h0.75v0.75h-0.75zM56.5 69.8h0.75v0.75h-0.75zM58.3 84.1h0.75v0.75h-0.75zM63.5 66.2h0.75v0.75h-0.75zM71.6 73.3h0.75v0.75h-0.75zM60.3 58.8h0.75v0.75h-0.75zM61.6 64.7h0.75v0.75h-0.75zM59.0 83.4h0.75v0.75h-0.75zM57.1 75.6h0.75v0.75h-0.75zM54.4 84.2h0.75v0.75h-0.75zM63.1 65.8h0.75v0.75h-0.75zM74.8 72.0h0.75v0.75h-0.75zM60.9 60.1h0.75v0.75h-0.75zM57.2 64.2h0.75v0.75h-0.75zM58.3 60.2h0.75v0.75h-0.75zM58.7 69.5h0.75v0.75h-0.75zM56.9 74.3h0.75v0.75h-0.75zM56.7 80.9h0.75v0.75h-0.75zM53.6 90.4h0.75v0.75h-0.75zM58.0 74.4h0.75v0.75h-0.75zM64.3 69.6h0.75v0.75h-0.75zM66.9 64.1h0.75v0.75h-0.75zM58.1 69.2h0.75v0.75h-0.75zM57.7 77.9h0.75v0.75h-0.75zM57.2 66.7h0.75v0.75h-0.75zM54.3 89.5h0.75v0.75h-0.75zM63.0 60.9h0.75v0.75h-0.75zM56.9 75.1h0.75v0.75h-0.75zM64.4 68.2h0.75v0.75h-0.75zM58.8 68.5h0.75v0.75h-0.75zM54.2 89.5h0.75v0.75h-0.75zM56.9 70.7h0.75v0.75h-0.75zM58.1 79.5h0.75v0.75h-0.75zM57.9 72.2h0.75v0.75h-0.75zM64.2 64.9h0.75v0.75h-0.75zM62.6 72.5h0.75v0.75h-0.75zM61.7 69.7h0.75v0.75h-0.75zM59.1 58.0h0.75v0.75h-0.75zM55.5 89.7h0.75v0.75h-0.75zM56.8 80.0h0.75v0.75h-0.75zM56.6 73.1h0.75v0.75h-0.75zM62.3 62.9h0.75v0.75h-0.75zM55.6 80.6h0.75v0.75h-0.75zM55.4 78.9h0.75v0.75h-0.75zM55.7 77.8h0.75v0.75h-0.75zM57.0 74.3h0.75v0.75h-0.75zM55.9 75.7h0.75v0.75h-0.75zM59.3 73.4h0.75v0.75h-0.75zM59.4 61.6h0.75v0.75h-0.75zM57.1 80.1h0.75v0.75h-0.75zM59.9 78.0h0.75v0.75h-0.75zM56.2 76.4h0.75v0.75h-0.75zM62.7 72.0h0.75v0.75h-0.75zM60.0 76.3h0.75v0.75h-0.75zM58.8 69.4h0.75v0.75h-0.75zM56.5 90.0h0.75v0.75h-0.75zM55.3 79.2h0.75v0.75h-0.75zM55.2 77.8h0.75v0.75h-0.75zM60.5 88.8h0.75v0.75h-0.75zM55.4 81.8h0.75v0.75h-0.75zM54.4 85.8h0.75v0.75h-0.75zM55.8 85.1h0.75v0.75h-0.75zM69.6 57.5h0.75v0.75h-0.75zM62.7 72.0h0.75v0.75h-0.75zM56.9 80.4h0.75v0.75h-0.75zM54.4 86.3h0.75v0.75h-0.75zM54.5 87.6h0.75v0.75h-0.75zM60.0 57.9h0.75v0.75h-0.75zM58.2 59.2h0.75v0.75h-0.75zM55.5 78.2h0.75v0.75h-0.75zM59.1 62.4h0.75v0.75h-0.75zM67.9 66.5h0.75v0.75h-0.75zM57.9 87.8h0.75v0.75h-0.75zM54.2 90.7h0.75v0.75h-0.75zM55.0 84.1h0.75v0.75h-0.75zM56.9 88.5h0.75v0.75h-0.75zM55.2 81.9h0.75v0.75h-0.75zM70.9 60.1h0.75v0.75h-0.75zM58.6 75.8h0.75v0.75h-0.75zM54.2 86.3h0.75v0.75h-0.75zM56.4 80.8h0.75v0.75h-0.75zM55.8 83.7h0.75v0.75h-0.75zM71.9 63.7h0.75v0.75h-0.75zM62.8 66.6h0.75v0.75h-0.75zM54.7 85.3h0.75v0.75h-0.75zM56.1 80.6h0.75v0.75h-0.75zM58.2 64.6h0.75v0.75h-0.75zM54.3 89.4h0.75v0.75h-0.75zM58.1 74.3h0.75v0.75h-0.75zM65.2 57.9h0.75v0.75h-0.75zM60.0 82.3h0.75v0.75h-0.75zM57.4 69.1h0.75v0.75h-0.75zM61.9 68.8h0.75v0.75h-0.75zM56.4 79.4h0.75v0.75h-0.75zM56.2 74.8h0.75v0.75h-0.75zM54.9 88.2h0.75v0.75h-0.75zM61.1 74.2h0.75v0.75h-0.75zM63.2 63.7h0.75v0.75h-0.75zM63.3 69.0h0.75v0.75h-0.75zM59.4 60.2h0.75v0.75h-0.75zM57.0 78.6h0.75v0.75h-0.75zM59.8 69.8h0.75v0.75h-0.75zM59.8 64.4h0.75v0.75h-0.75zM66.4 57.1h0.75v0.75h-0.75zM64.9 65.6h0.75v0.75h-0.75zM58.5 75.8h0.75v0.75h-0.75zM55.5 78.3h0.75v0.75h-0.75zM55.2 83.4h0.75v0.75h-0.75zM57.3 86.3h0.75v0.75h-0.75zM59.7 80.1h0.75v0.75h-0.75zM60.3 71.8h0.75v0.75h-0.75zM53.8 89.4h0.75v0.75h-0.75zM60.4 60.4h0.75v0.75h-0.75zM56.2 74.3h0.75v0.75h-0.75zM66.4 64.5h0.75v0.75h-0.75zM56.9 70.2h0.75v0.75h-0.75zM61.4 63.2h0.75v0.75h-0.75zM60.3 63.5h0.75v0.75h-0.75zM57.5 75.3h0.75v0.75h-0.75zM62.1 74.1h0.75v0.75h-0.75zM72.0 57.6h0.75v0.75h-0.75zM57.4 63.8h0.75v0.75h-0.75zM56.5 83.1h0.75v0.75h-0.75zM56.3 75.3h0.75v0.75h-0.75zM55.2 83.6h0.75v0.75h-0.75zM55.3 81.7h0.75v0.75h-0.75zM58.8 76.5h0.75v0.75h-0.75zM59.0 69.6h0.75v0.75h-0.75zM63.1 59.2h0.75v0.75h-0.75zM55.2 80.5h0.75v0.75h-0.75zM59.9 75.7h0.75v0.75h-0.75zM66.9 60.4h0.75v0.75h-0.75zM53.9 86.6h0.75v0.75h-0.75zM57.4 65.4h0.75v0.75h-0.75zM57.4 65.6h0.75v0.75h-0.75zM56.8 73.6h0.75v0.75h-0.75zM59.4 67.2h0.75v0.75h-0.75zM62.6 69.6h0.75v0.75h-0.75zM54.9 81.6h0.75v0.75h-0.75zM57.1 64.6h0.75v0.75h-0.75zM57.1 68.2h0.75v0.75h-0.75zM59.0 80.7h0.75v0.75h-0.75zM53.6 90.9h0.75v0.75h-0.75zM65.2 58.2h0.75v0.75h-0.75zM66.5 71.0h0.75v0.75h-0.75zM57.7 70.3h0.75v0.75h-0.75zM73.0 59.5h0.75v0.75h-0.75zM57.7 74.4h0.75v0.75h-0.75zM61.6 71.9h0.75v0.75h-0.75zM55.5 85.2h0.75v0.75h-0.75zM59.8 63.1h0.75v0.75h-0.75zM54.8 87.3h0.75v0.75h-0.75zM57.3 79.5h0.75v0.75h-0.75zM59.1 72.7h0.75v0.75h-0.75zM60.7 65.3h0.75v0.75h-0.75zM54.0 86.4h0.75v0.75h-0.75zM65.0 69.5h0.75v0.75h-0.75zM53.3 90.3h0.75v0.75h-0.75zM58.1 78.3h0.75v0.75h-0.75zM55.4 85.7h0.75v0.75h-0.75zM59.3 61.5h0.75v0.75h-0.75zM58.2 81.2h0.75v0.75h-0.75zM62.0 64.0h0.75v0.75h-0.75zM58.1 79.3h0.75v0.75h-0.75zM60.9 57.7h0.75v0.75h-0.75zM60.4 68.0h0.75v0.75h-0.75zM57.1 68.4h0.75v0.75h-0.75zM55.8 79.8h0.75v0.75h-0.75zM55.1 83.9h0.75v0.75h-0.75zM61.1 75.6h0.75v0.75h-0.75zM64.2 60.9h0.75v0.75h-0.75zM72.0 59.3h0.75v0.75h-0.75zM64.6 57.9h0.75v0.75h-0.75zM57.2 69.5h0.75v0.75h-0.75zM59.0 70.4h0.75v0.75h-0.75zM56.6 71.1h0.75v0.75h-0.75zM56.8 74.8h0.75v0.75h-0.75zM54.2 89.9h0.75v0.75h-0.75zM57.0 71.8h0.75v0.75h-0.75zM54.0 89.9h0.75v0.75h-0.75zM60.4 79.0h0.75v0.75h-0.75zM61.8 70.4h0.75v0.75h-0.75zM57.3 66.5h0.75v0.75h-0.75zM60.9 58.4h0.75v0.75h-0.75zM54.3 86.7h0.75v0.75h-0.75zM61.4 72.0h0.75v0.75h-0.75zM57.6 66.4h0.75v0.75h-0.75zM57.5 74.7h0.75v0.75h-0.75zM57.9 88.9h0.75v0.75h-0.75zM60.8 65.1h0.75v0.75h-0.75zM56.3 71.2h0.75v0.75h-0.75zM65.3 72.1h0.75v0.75h-0.75zM60.5 67.3h0.75v0.75h-0.75zM54.8 81.2h0.75v0.75h-0.75zM53.8 88.4h0.75v0.75h-0.75zM62.1 67.3h0.75v0.75h-0.75zM60.3 57.7h0.75v0.75h-0.75zM60.8 61.3h0.75v0.75h-0.75zM58.7 57.5h0.75v0.75h-0.75zM57.5 64.6h0.75v0.75h-0.75zM58.9 60.1h0.75v0.75h-0.75zM56.1 74.6h0.75v0.75h-0.75zM55.3 84.9h0.75v0.75h-0.75zM58.2 65.6h0.75v0.75h-0.75zM54.1 85.5h0.75v0.75h-0.75zM54.7 82.2h0.75v0.75h-0.75zM54.4 89.1h0.75v0.75h-0.75zM61.6 77.3h0.75v0.75h-0.75zM58.1 60.4h0.75v0.75h-0.75zM57.2 80.6h0.75v0.75h-0.75zM55.5 81.5h0.75v0.75h-0.75zM56.5 73.9h0.75v0.75h-0.75zM57.3 71.9h0.75v0.75h-0.75zM56.4 76.9h0.75v0.75h-0.75zM61.4 66.3h0.75v0.75h-0.75zM66.0 59.9h0.75v0.75h-0.75zM56.7 73.9h0.75v0.75h-0.75zM61.2 60.9h0.75v0.75h-0.75zM60.2 74.1h0.75v0.75h-0.75zM58.5 69.7h0.75v0.75h-0.75zM54.4 87.3h0.75v0.75h-0.75zM57.3 90.4h0.75v0.75h-0.75zM58.3 90.7h0.75v0.75h-0.75zM64.4 65.7h0.75v0.75h-0.75zM55.8 77.8h0.75v0.75h-0.75zM55.0 90.9h0.75v0.75h-0.75zM56.1 84.5h0.75v0.75h-0.75zM68.0 59.7h0.75v0.75h-0.75zM58.8 63.0h0.75v0.75h-0.75zM55.8 78.0h0.75v0.75h-0.75zM60.5 72.7h0.75v0.75h-0.75zM63.2 60.3h0.75v0.75h-0.75zM61.0 60.6h0.75v0.75h-0.75zM58.4 79.1h0.75v0.75h-0.75zM58.9 58.5h0.75v0.75h-0.75zM54.3 89.6h0.75v0.75h-0.75zM57.9 71.4h0.75v0.75h-0.75zM58.5 80.7h0.75v0.75h-0.75zM56.5 79.1h0.75v0.75h-0.75zM57.7 76.4h0.75v0.75h-0.75zM71.3 63.4h0.75v0.75h-0.75zM56.1 89.8h0.75v0.75h-0.75zM54.3 90.7h0.75v0.75h-0.75zM54.6 85.5h0.75v0.75h-0.75zM57.8 82.3h0.75v0.75h-0.75zM57.0 88.9h0.75v0.75h-0.75zM54.4 86.9h0.75v0.75h-0.75zM55.9 83.8h0.75v0.75h-0.75zM58.6 67.6h0.75v0.75h-0.75zM58.7 84.2h0.75v0.75h-0.75zM56.5 85.7h0.75v0.75h-0.75zM58.2 62.8h0.75v0.75h-0.75zM56.1 76.3h0.75v0.75h-0.75zM57.0 68.4h0.75v0.75h-0.75zM63.6 62.3h0.75v0.75h-0.75zM65.7 64.6h0.75v0.75h-0.75zM64.5 68.2h0.75v0.75h-0.75zM58.0 67.3h0.75v0.75h-0.75zM56.3 70.4h0.75v0.75h-0.75zM57.8 71.8h0.75v0.75h-0.75zM68.4 57.4h0.75v0.75h-0.75zM56.3 69.8h0.75v0.75h-0.75zM53.8 89.7h0.75v0.75h-0.75zM57.1 65.6h0.75v0.75h-0.75zM64.0 60.4h0.75v0.75h-0.75zM57.6 76.8h0.75v0.75h-0.75zM58.5 65.4h0.75v0.75h-0.75zM54.2 90.0h0.75v0.75h-0.75zM57.1 90.6h0.75v0.75h-0.75zM66.9 61.2h0.75v0.75h-0.75zM64.4 57.7h0.75v0.75h-0.75zM57.0 84.5h0.75v0.75h-0.75zM61.1 75.7h0.75v0.75h-0.75zM61.2 62.2h0.75v0.75h-0.75zM59.1 66.0h0.75v0.75h-0.75zM63.1 63.5h0.75v0.75h-0.75zM60.3 76.5h0.75v0.75h-0.75zM57.9 78.4h0.75v0.75h-0.75zM56.9 88.3h0.75v0.75h-0.75zM56.7 76.3h0.75v0.75h-0.75zM54.4 88.5h0.75v0.75h-0.75zM59.8 60.5h0.75v0.75h-0.75zM62.2 81.0h0.75v0.75h-0.75zM58.2 79.0h0.75v0.75h-0.75zM56.4 88.9h0.75v0.75h-0.75zM58.3 72.1h0.75v0.75h-0.75zM55.4 82.8h0.75v0.75h-0.75zM62.5 60.7h0.75v0.75h-0.75zM54.8 84.5h0.75v0.75h-0.75zM61.2 80.2h0.75v0.75h-0.75zM58.3 61.3h0.75v0.75h-0.75zM57.2 73.8h0.75v0.75h-0.75zM64.3 89.3h0.75v0.75h-0.75zM61.9 72.2h0.75v0.75h-0.75zM55.6 78.5h0.75v0.75h-0.75zM53.6 90.0h0.75v0.75h-0.75zM60.9 59.6h0.75v0.75h-0.75zM61.3 57.6h0.75v0.75h-0.75zM68.1 71.0h0.75v0.75h-0.75zM63.5 71.1h0.75v0.75h-0.75zM56.5 83.5h0.75v0.75h-0.75zM58.7 65.1h0.75v0.75h-0.75zM57.6 73.7h0.75v0.75h-0.75zM57.1 79.0h0.75v0.75h-0.75zM60.5 68.0h0.75v0.75h-0.75zM53.6 90.9h0.75v0.75h-0.75zM56.6 68.4h0.75v0.75h-0.75zM58.1 60.2h0.75v0.75h-0.75zM63.1 71.4h0.75v0.75h-0.75zM64.3 80.7h0.75v0.75h-0.75zM56.0 85.5h0.75v0.75h-0.75zM55.3 76.7h0.75v0.75h-0.75zM57.5 70.0h0.75v0.75h-0.75zM55.3 78.1h0.75v0.75h-0.75zM57.1 75.4h0.75v0.75h-0.75zM57.6 73.7h0.75v0.75h-0.75zM64.3 60.5h0.75v0.75h-0.75zM56.4 84.2h0.75v0.75h-0.75zM62.2 60.9h0.75v0.75h-0.75zM63.3 86.6h0.75v0.75h-0.75zM54.5 82.8h0.75v0.75h-0.75zM56.1 86.9h0.75v0.75h-0.75zM67.9 66.4h0.75v0.75h-0.75zM59.4 85.1h0.75v0.75h-0.75zM60.9 65.4h0.75v0.75h-0.75zM57.7 69.9h0.75v0.75h-0.75zM56.9 82.9h0.75v0.75h-0.75zM59.8 68.3h0.75v0.75h-0.75zM55.2 88.6h0.75v0.75h-0.75zM55.3 88.1h0.75v0.75h-0.75zM53.2 90.7h0.75v0.75h-0.75zM58.9 72.6h0.75v0.75h-0.75zM64.0 81.7h0.75v0.75h-0.75zM57.1 78.2h0.75v0.75h-0.75zM57.4 78.6h0.75v0.75h-0.75zM62.9 81.0h0.75v0.75h-0.75zM59.9 57.5h0.75v0.75h-0.75zM53.9 86.8h0.75v0.75h-0.75zM54.3 83.9h0.75v0.75h-0.75zM59.8 79.0h0.75v0.75h-0.75zM59.2 65.1h0.75v0.75h-0.75zM62.7 64.7h0.75v0.75h-0.75zM58.8 75.0h0.75v0.75h-0.75zM60.3 68.1h0.75v0.75h-0.75zM56.2 89.5h0.75v0.75h-0.75zM53.9 89.4h0.75v0.75h-0.75zM57.3 74.5h0.75v0.75h-0.75zM63.2 68.8h0.75v0.75h-0.75zM61.2 62.9h0.75v0.75h-0.75zM61.3 83.3h0.75v0.75h-0.75zM59.5 57.6h0.75v0.75h-0.75zM65.6 73.8h0.75v0.75h-0.75zM66.2 62.5h0.75v0.75h-0.75zM59.4 70.5h0.75v0.75h-0.75zM53.6 88.6h0.75v0.75h-0.75zM57.3 68.2h0.75v0.75h-0.75zM59.3 61.5h0.75v0.75h-0.75zM57.1 80.8h0.75v0.75h-0.75zM65.6 61.1h0.75v0.75h-0.75zM56.2 74.2h0.75v0.75h-0.75zM58.2 84.9h0.75v0.75h-0.75zM70.1 64.4h0.75v0.75h-0.75zM54.7 84.6h0.75v0.75h-0.75zM68.7 57.0h0.75v0.75h-0.75zM54.3 85.1h0.75v0.75h-0.75zM58.2 83.1h0.75v0.75h-0.75zM60.5 78.5h0.75v0.75h-0.75zM53.9 90.5h0.75v0.75h-0.75zM59.9 85.4h0.75v0.75h-0.75zM61.5 67.7h0.75v0.75h-0.75zM60.2 80.3h0.75v0.75h-0.75zM56.4 76.3h0.75v0.75h-0.75zM60.5 65.6h0.75v0.75h-0.75zM67.2 61.6h0.75v0.75h-0.75zM54.3 87.2h0.75v0.75h-0.75zM57.9 80.7h0.75v0.75h-0.75zM65.1 61.1h0.75v0.75h-0.75zM55.3 83.1h0.75v0.75h-0.75zM59.4 60.3h0.75v0.75h-0.75zM55.9 83.2h0.75v0.75h-0.75zM54.5 84.7h0.75v0.75h-0.75zM59.9 60.6h0.75v0.75h-0.75zM54.1 86.9h0.75v0.75h-0.75zM65.0 59.5h0.75v0.75h-0.75zM63.4 60.1h0.75v0.75h-0.75zM59.2 59.8h0.75v0.75h-0.75zM61.0 79.6h0.75v0.75h-0.75zM58.5 70.9h0.75v0.75h-0.75zM60.0 58.1h0.75v0.75h-0.75zM64.0 65.2h0.75v0.75h-0.75zM58.9 81.3h0.75v0.75h-0.75zM59.7 75.1h0.75v0.75h-0.75zM60.0 61.3h0.75v0.75h-0.75zM58.2 67.0h0.75v0.75h-0.75zM55.1 82.1h0.75v0.75h-0.75zM58.0 68.1h0.75v0.75h-0.75zM56.1 86.4h0.75v0.75h-0.75zM57.5 73.3h0.75v0.75h-0.75zM59.2 88.3h0.75v0.75h-0.75zM59.1 72.3h0.75v0.75h-0.75zM54.5 86.3h0.75v0.75h-0.75zM57.4 65.8h0.75v0.75h-0.75zM60.9 74.1h0.75v0.75h-0.75zM60.2 62.3h0.75v0.75h-0.75zM54.4 90.7h0.75v0.75h-0.75zM63.6 70.0h0.75v0.75h-0.75zM54.7 87.3h0.75v0.75h-0.75zM62.6 61.2h0.75v0.75h-0.75zM61.4 82.2h0.75v0.75h-0.75zM56.0 79.4h0.75v0.75h-0.75zM56.8 74.5h0.75v0.75h-0.75zM58.4 72.2h0.75v0.75h-0.75zM58.4 88.0h0.75v0.75h-0.75zM54.8 88.5h0.75v0.75h-0.75zM53.6 89.8h0.75v0.75h-0.75zM55.6 88.3h0.75v0.75h-0.75zM55.0 86.7h0.75v0.75h-0.75zM53.2 90.7h0.75v0.75h-0.75zM57.8 85.8h0.75v0.75h-0.75zM63.4 69.7h0.75v0.75h-0.75zM63.6 64.3h0.75v0.75h-0.75zM57.8 72.9h0.75v0.75h-0.75zM64.8 63.7h0.75v0.75h-0.75zM54.8 81.9h0.75v0.75h-0.75zM53.7 90.3h0.75v0.75h-0.75zM58.5 69.8h0.75v0.75h-0.75zM62.6 76.6h0.75v0.75h-0.75zM55.4 89.1h0.75v0.75h-0.75zM56.8 69.4h0.75v0.75h-0.75zM61.6 59.3h0.75v0.75h-0.75zM57.2 76.8h0.75v0.75h-0.75zM54.2 90.4h0.75v0.75h-0.75zM58.7 68.9h0.75v0.75h-0.75zM70.7 62.8h0.75v0.75h-0.75zM57.8 77.1h0.75v0.75h-0.75zM57.2 71.5h0.75v0.75h-0.75zM59.5 67.7h0.75v0.75h-0.75zM70.6 72.2h0.75v0.75h-0.75zM56.2 76.1h0.75v0.75h-0.75zM58.7 58.8h0.75v0.75h-0.75zM62.8 68.8h0.75v0.75h-0.75zM54.3 87.2h0.75v0.75h-0.75zM55.7 83.5h0.75v0.75h-0.75zM58.1 75.3h0.75v0.75h-0.75zM58.2 58.4h0.75v0.75h-0.75zM58.3 79.7h0.75v0.75h-0.75zM66.4 69.9h0.75v0.75h-0.75zM54.9 84.9h0.75v0.75h-0.75zM62.0 59.3h0.75v0.75h-0.75zM55.7 79.2h0.75v0.75h-0.75zM61.3 58.5h0.75v0.75h-0.75zM64.8 58.2h0.75v0.75h-0.75zM56.1 78.3h0.75v0.75h-0.75zM57.0 72.2h0.75v0.75h-0.75zM58.2 63.3h0.75v0.75h-0.75zM55.5 84.7h0.75v0.75h-0.75zM55.8 81.3h0.75v0.75h-0.75zM56.3 84.4h0.75v0.75h-0.75zM56.4 79.2h0.75v0.75h-0.75zM56.1 76.1h0.75v0.75h-0.75zM55.3 90.1h0.75v0.75h-0.75zM59.0 75.1h0.75v0.75h-0.75zM59.8 60.4h0.75v0.75h-0.75zM65.5 64.8h0.75v0.75h-0.75zM60.9 57.4h0.75v0.75h-0.75zM57.2 86.5h0.75v0.75h-0.75zM55.6 81.4h0.75v0.75h-0.75zM62.6 64.9h0.75v0.75h-0.75zM62.3 67.2h0.75v0.75h-0.75zM62.3 68.9h0.75v0.75h-0.75zM60.9 76.5h0.75v0.75h-0.75zM54.1 90.5h0.75v0.75h-0.75zM53.2 90.5h0.75v0.75h-0.75zM53.8 86.8h0.75v0.75h-0.75zM57.1 75.5h0.75v0.75h-0.75zM55.3 83.2h0.75v0.75h-0.75zM64.3 64.1h0.75v0.75h-0.75zM60.2 75.7h0.75v0.75h-0.75zM55.9 73.6h0.75v0.75h-0.75zM54.9 83.2h0.75v0.75h-0.75zM55.8 73.0h0.75v0.75h-0.75zM61.8 65.8h0.75v0.75h-0.75zM57.0 83.0h0.75v0.75h-0.75zM61.0 72.1h0.75v0.75h-0.75zM55.5 79.7h0.75v0.75h-0.75zM58.6 75.2h0.75v0.75h-0.75zM55.1 81.8h0.75v0.75h-0.75zM58.5 67.6h0.75v0.75h-0.75zM59.9 60.3h0.75v0.75h-0.75zM56.9 81.8h0.75v0.75h-0.75zM63.6 62.9h0.75v0.75h-0.75zM64.6 61.0h0.75v0.75h-0.75zM58.0 62.0h0.75v0.75h-0.75zM60.2 65.6h0.75v0.75h-0.75zM66.4 66.2h0.75v0.75h-0.75zM54.1 88.9h0.75v0.75h-0.75zM57.6 82.5h0.75v0.75h-0.75zM56.4 76.1h0.75v0.75h-0.75zM59.4 89.3h0.75v0.75h-0.75zM59.9 57.4h0.75v0.75h-0.75zM57.5 67.9h0.75v0.75h-0.75zM64.8 71.6h0.75v0.75h-0.75zM67.4 57.8h0.75v0.75h-0.75zM56.7 67.5h0.75v0.75h-0.75zM54.3 87.6h0.75v0.75h-0.75zM57.7 64.2h0.75v0.75h-0.75zM56.9 69.5h0.75v0.75h-0.75zM58.7 63.1h0.75v0.75h-0.75zM57.2 76.7h0.75v0.75h-0.75zM59.9 67.4h0.75v0.75h-0.75zM57.6 83.3h0.75v0.75h-0.75zM66.8 68.7h0.75v0.75h-0.75zM56.3 83.9h0.75v0.75h-0.75zM57.3 73.2h0.75v0.75h-0.75zM68.2 61.6h0.75v0.75h-0.75zM55.5 77.7h0.75v0.75h-0.75zM57.9 88.5h0.75v0.75h-0.75zM64.2 58.1h0.75v0.75h-0.75zM60.5 65.1h0.75v0.75h-0.75zM55.0 85.4h0.75v0.75h-0.75zM59.6 73.9h0.75v0.75h-0.75zM61.9 63.5h0.75v0.75h-0.75zM71.6 71.5h0.75v0.75h-0.75zM63.1 63.4h0.75v0.75h-0.75zM59.5 58.4h0.75v0.75h-0.75zM58.5 61.0h0.75v0.75h-0.75zM56.2 75.0h0.75v0.75h-0.75zM54.4 84.0h0.75v0.75h-0.75zM61.2 78.2h0.75v0.75h-0.75zM58.8 61.3h0.75v0.75h-0.75zM56.0 83.0h0.75v0.75h-0.75zM54.3 88.7h0.75v0.75h-0.75zM68.7 70.5h0.75v0.75h-0.75zM70.5 68.7h0.75v0.75h-0.75zM54.2 87.3h0.75v0.75h-0.75zM65.1 75.6h0.75v0.75h-0.75zM67.0 61.0h0.75v0.75h-0.75zM57.8 83.3h0.75v0.75h-0.75zM55.5 77.4h0.75v0.75h-0.75zM53.6 89.6h0.75v0.75h-0.75zM57.5 83.6h0.75v0.75h-0.75zM61.5 67.8h0.75v0.75h-0.75zM61.6 71.0h0.75v0.75h-0.75zM72.0 58.5h0.75v0.75h-0.75zM62.8 70.1h0.75v0.75h-0.75zM62.0 73.0h0.75v0.75h-0.75zM60.1 67.2h0.75v0.75h-0.75zM61.4 57.9h0.75v0.75h-0.75zM67.8 59.7h0.75v0.75h-0.75zM56.4 80.0h0.75v0.75h-0.75zM58.6 90.1h0.75v0.75h-0.75zM53.5 89.5h0.75v0.75h-0.75zM58.3 80.9h0.75v0.75h-0.75zM55.2 77.6h0.75v0.75h-0.75zM54.7 88.4h0.75v0.75h-0.75zM60.6 77.2h0.75v0.75h-0.75zM57.0 66.4h0.75v0.75h-0.75zM54.2 88.4h0.75v0.75h-0.75zM58.6 58.4h0.75v0.75h-0.75zM55.5 90.8h0.75v0.75h-0.75zM57.9 64.1h0.75v0.75h-0.75zM56.0 87.5h0.75v0.75h-0.75zM55.7 76.8h0.75v0.75h-0.75zM67.5 71.1h0.75v0.75h-0.75zM60.7 57.1h0.75v0.75h-0.75zM89.4 58.9h0.75v0.75h-0.75zM73.1 60.5h0.75v0.75h-0.75zM57.0 85.6h0.75v0.75h-0.75zM64.0 58.4h0.75v0.75h-0.75zM58.2 73.8h0.75v0.75h-0.75zM61.0 61.9h0.75v0.75h-0.75zM54.5 84.3h0.75v0.75h-0.75zM55.0 86.8h0.75v0.75h-0.75zM58.1 66.0h0.75v0.75h-0.75zM59.8 72.6h0.75v0.75h-0.75zM62.6 76.4h0.75v0.75h-0.75zM58.2 74.4h0.75v0.75h-0.75zM53.6 90.6h0.75v0.75h-0.75zM59.9 57.6h0.75v0.75h-0.75zM57.2 67.6h0.75v0.75h-0.75zM56.3 71.2h0.75v0.75h-0.75zM54.9 88.3h0.75v0.75h-0.75zM56.4 86.9h0.75v0.75h-0.75zM58.4 81.8h0.75v0.75h-0.75zM62.3 67.3h0.75v0.75h-0.75zM61.0 64.0h0.75v0.75h-0.75zM60.0 77.2h0.75v0.75h-0.75zM59.4 62.7h0.75v0.75h-0.75zM57.9 85.0h0.75v0.75h-0.75zM53.5 90.2h0.75v0.75h-0.75zM57.7 64.1h0.75v0.75h-0.75zM58.3 81.6h0.75v0.75h-0.75zM59.5 79.0h0.75v0.75h-0.75zM58.5 74.5h0.75v0.75h-0.75zM55.7 88.3h0.75v0.75h-0.75zM57.6 79.3h0.75v0.75h-0.75zM60.8 73.8h0.75v0.75h-0.75zM55.8 76.5h0.75v0.75h-0.75zM58.2 71.5h0.75v0.75h-0.75zM59.2 71.7h0.75v0.75h-0.75zM58.4 69.3h0.75v0.75h-0.75zM57.9 71.5h0.75v0.75h-0.75zM53.5 90.0h0.75v0.75h-0.75zM64.6 57.6h0.75v0.75h-0.75zM58.6 70.4h0.75v0.75h-0.75zM56.7 77.1h0.75v0.75h-0.75zM57.1 65.1h0.75v0.75h-0.75zM59.9 86.7h0.75v0.75h-0.75zM59.5 66.7h0.75v0.75h-0.75zM56.9 68.0h0.75v0.75h-0.75zM57.5 87.4h0.75v0.75h-0.75zM58.3 65.2h0.75v0.75h-0.75zM59.2 80.7h0.75v0.75h-0.75zM57.7 73.0h0.75v0.75h-0.75zM64.3 64.9h0.75v0.75h-0.75zM58.2 86.4h0.75v0.75h-0.75zM62.2 60.9h0.75v0.75h-0.75zM55.5 90.5h0.75v0.75h-0.75zM56.5 72.6h0.75v0.75h-0.75zM64.6 59.1h0.75v0.75h-0.75zM66.3 59.3h0.75v0.75h-0.75zM56.8 79.6h0.75v0.75h-0.75zM59.4 87.3h0.75v0.75h-0.75zM55.4 78.0h0.75v0.75h-0.75zM57.0 77.0h0.75v0.75h-0.75zM68.8 65.5h0.75v0.75h-0.75zM54.9 81.8h0.75v0.75h-0.75zM59.0 64.8h0.75v0.75h-0.75zM56.6 76.5h0.75v0.75h-0.75zM62.4 71.9h0.75v0.75h-0.75zM63.3 63.2h0.75v0.75h-0.75zM68.7 68.2h0.75v0.75h-0.75zM54.2 89.4h0.75v0.75h-0.75zM55.5 77.6h0.75v0.75h-0.75zM60.0 71.0h0.75v0.75h-0.75zM56.3 78.7h0.75v0.75h-0.75zM58.5 58.2h0.75v0.75h-0.75zM56.0 76.1h0.75v0.75h-0.75zM60.8 67.4h0.75v0.75h-0.75zM55.2 87.6h0.75v0.75h-0.75zM60.9 65.7h0.75v0.75h-0.75zM63.5 66.4h0.75v0.75h-0.75zM58.9 62.3h0.75v0.75h-0.75zM65.1 71.9h0.75v0.75h-0.75zM58.4 62.6h0.75v0.75h-0.75zM58.8 61.5h0.75v0.75h-0.75zM58.7 68.3h0.75v0.75h-0.75zM55.7 82.8h0.75v0.75h-0.75zM57.7 73.2h0.75v0.75h-0.75zM60.3 83.3h0.75v0.75h-0.75zM65.8 71.5h0.75v0.75h-0.75zM74.0 65.5h0.75v0.75h-0.75zM59.5 74.9h0.75v0.75h-0.75zM57.6 70.0h0.75v0.75h-0.75zM68.2 61.6h0.75v0.75h-0.75zM61.3 69.2h0.75v0.75h-0.75zM58.7 72.7h0.75v0.75h-0.75zM58.1 64.0h0.75v0.75h-0.75zM61.3 68.4h0.75v0.75h-0.75zM55.5 75.5h0.75v0.75h-0.75zM56.2 81.2h0.75v0.75h-0.75zM59.3 59.3h0.75v0.75h-0.75zM65.2 64.2h0.75v0.75h-0.75z" fill="#4050AA" fill-opacity="0.5"/></g><path d="M29 57.1 C30.5 54.6 34 53.4 40 52.9 C46 52.5 52 52.4 57.0 53.2 L61.0 55.7 L61.0 60 L59.5 70 L58.0 80 L56.2 92 L29 92 Z" fill="#5A66B8" fill-opacity="0.45" filter="url(#bl20)"/><path d="M29 57.8 C30.5 55.3 34 54.1 40 53.6 C46 53.2 52 53.1 56.0 53.9 L59.0 56.0 L59.0 60 L57.5 70 L56.0 80 L54.2 92 L29 92 Z" fill="#4654AE" fill-opacity="0.7" filter="url(#bl12)"/><path d="M29 58.5 C30.5 56.0 34 54.8 40 54.3 C46 53.9 52 53.8 55.0 54.6 L57.0 56.4 L57.0 60 L55.5 70 L54.0 80 L52.2 92 L29 92 Z" fill="#3845A6" filter="url(#bl12)"/><path d="M55 56.5 L63 56.8 L70 57.6 L72 59.5 L66 61.8 L55 62.4 Z" fill="#5966B8" fill-opacity="0.7" filter="url(#bl08)"/><path d="M58 57.6 L71 58.1 L71 59.5 L58 59.9 Z" fill="#2C3793" fill-opacity="0.85" filter="url(#bl08)"/><ellipse cx="31" cy="61" rx="3.5" ry="5" fill="#6C78C4" fill-opacity="0.45" filter="url(#bl20)"/><g filter="url(#bl03)"><path d="M35.4 56.5h0.8v0.8h-0.8zM29.6 61.5h0.8v0.8h-0.8zM30.7 62.2h0.8v0.8h-0.8zM32.6 69.3h0.8v0.8h-0.8zM34.2 71.7h0.8v0.8h-0.8zM31.5 57.6h0.8v0.8h-0.8zM33.5 55.5h0.8v0.8h-0.8zM29.9 65.0h0.8v0.8h-0.8zM33.6 64.7h0.8v0.8h-0.8zM34.2 56.9h0.8v0.8h-0.8zM41.1 55.7h0.8v0.8h-0.8zM30.7 56.3h0.8v0.8h-0.8zM34.8 54.8h0.8v0.8h-0.8zM31.5 57.7h0.8v0.8h-0.8zM33.3 60.9h0.8v0.8h-0.8zM34.0 58.9h0.8v0.8h-0.8zM33.3 57.5h0.8v0.8h-0.8zM36.2 77.4h0.8v0.8h-0.8zM36.1 64.7h0.8v0.8h-0.8zM30.6 61.0h0.8v0.8h-0.8zM46.8 67.5h0.8v0.8h-0.8zM38.8 57.3h0.8v0.8h-0.8zM32.1 58.7h0.8v0.8h-0.8zM44.4 62.1h0.8v0.8h-0.8zM29.6 59.4h0.8v0.8h-0.8zM36.5 63.6h0.8v0.8h-0.8zM33.9 54.4h0.8v0.8h-0.8zM31.9 57.1h0.8v0.8h-0.8zM31.9 59.9h0.8v0.8h-0.8zM37.4 54.9h0.8v0.8h-0.8zM40.1 58.8h0.8v0.8h-0.8zM35.7 60.2h0.8v0.8h-0.8zM42.2 58.4h0.8v0.8h-0.8zM35.6 54.9h0.8v0.8h-0.8zM35.4 63.6h0.8v0.8h-0.8zM30.2 58.6h0.8v0.8h-0.8zM33.3 70.9h0.8v0.8h-0.8zM30.8 58.0h0.8v0.8h-0.8zM34.3 68.7h0.8v0.8h-0.8zM32.9 56.8h0.8v0.8h-0.8zM32.8 60.6h0.8v0.8h-0.8zM32.3 58.0h0.8v0.8h-0.8zM32.5 56.7h0.8v0.8h-0.8zM36.2 61.5h0.8v0.8h-0.8zM36.2 56.9h0.8v0.8h-0.8zM30.4 57.7h0.8v0.8h-0.8zM37.3 72.4h0.8v0.8h-0.8zM39.9 69.3h0.8v0.8h-0.8zM30.3 65.1h0.8v0.8h-0.8zM31.6 65.4h0.8v0.8h-0.8zM33.5 58.7h0.8v0.8h-0.8zM41.2 64.5h0.8v0.8h-0.8zM32.6 62.3h0.8v0.8h-0.8zM32.6 55.0h0.8v0.8h-0.8zM32.9 69.4h0.8v0.8h-0.8zM33.6 71.8h0.8v0.8h-0.8zM31.1 58.6h0.8v0.8h-0.8zM30.3 67.8h0.8v0.8h-0.8zM33.9 60.0h0.8v0.8h-0.8zM37.0 68.0h0.8v0.8h-0.8zM41.9 58.0h0.8v0.8h-0.8zM32.8 60.7h0.8v0.8h-0.8zM41.0 55.2h0.8v0.8h-0.8zM34.3 59.6h0.8v0.8h-0.8zM32.0 62.6h0.8v0.8h-0.8zM37.1 65.6h0.8v0.8h-0.8zM35.7 56.9h0.8v0.8h-0.8zM31.7 72.5h0.8v0.8h-0.8zM31.4 61.3h0.8v0.8h-0.8zM33.5 57.0h0.8v0.8h-0.8zM31.4 54.6h0.8v0.8h-0.8zM32.7 64.3h0.8v0.8h-0.8zM37.7 57.7h0.8v0.8h-0.8zM37.1 60.1h0.8v0.8h-0.8zM42.8 64.8h0.8v0.8h-0.8zM32.6 57.0h0.8v0.8h-0.8zM34.2 65.4h0.8v0.8h-0.8zM33.3 67.0h0.8v0.8h-0.8zM31.6 55.2h0.8v0.8h-0.8zM34.6 54.4h0.8v0.8h-0.8zM30.2 59.1h0.8v0.8h-0.8zM41.3 57.0h0.8v0.8h-0.8zM34.3 63.2h0.8v0.8h-0.8zM38.9 62.7h0.8v0.8h-0.8zM35.9 60.1h0.8v0.8h-0.8zM32.6 76.5h0.8v0.8h-0.8zM31.7 67.3h0.8v0.8h-0.8zM33.3 67.8h0.8v0.8h-0.8zM42.0 55.3h0.8v0.8h-0.8zM39.0 68.0h0.8v0.8h-0.8zM32.6 63.0h0.8v0.8h-0.8zM41.2 60.2h0.8v0.8h-0.8zM47.0 58.2h0.8v0.8h-0.8zM44.4 54.9h0.8v0.8h-0.8zM31.3 64.2h0.8v0.8h-0.8zM31.8 58.1h0.8v0.8h-0.8zM35.3 66.1h0.8v0.8h-0.8zM32.5 61.8h0.8v0.8h-0.8zM39.6 54.5h0.8v0.8h-0.8zM32.9 55.3h0.8v0.8h-0.8zM37.6 59.4h0.8v0.8h-0.8zM31.9 60.3h0.8v0.8h-0.8zM32.2 55.2h0.8v0.8h-0.8zM40.7 63.3h0.8v0.8h-0.8zM36.6 57.5h0.8v0.8h-0.8zM32.9 65.4h0.8v0.8h-0.8zM40.4 74.1h0.8v0.8h-0.8zM40.3 57.9h0.8v0.8h-0.8zM30.8 57.2h0.8v0.8h-0.8zM34.1 59.8h0.8v0.8h-0.8zM34.6 60.7h0.8v0.8h-0.8zM42.7 55.5h0.8v0.8h-0.8zM34.3 55.6h0.8v0.8h-0.8zM29.8 55.9h0.8v0.8h-0.8zM29.9 57.0h0.8v0.8h-0.8zM35.3 55.3h0.8v0.8h-0.8zM33.6 64.2h0.8v0.8h-0.8zM34.3 58.4h0.8v0.8h-0.8zM30.5 67.7h0.8v0.8h-0.8zM31.3 63.9h0.8v0.8h-0.8zM35.1 55.7h0.8v0.8h-0.8zM37.1 56.5h0.8v0.8h-0.8zM32.8 57.9h0.8v0.8h-0.8zM38.7 68.3h0.8v0.8h-0.8zM37.3 67.2h0.8v0.8h-0.8zM33.8 54.4h0.8v0.8h-0.8zM31.0 68.6h0.8v0.8h-0.8zM32.9 54.4h0.8v0.8h-0.8zM36.0 54.3h0.8v0.8h-0.8zM35.0 63.9h0.8v0.8h-0.8zM39.8 65.2h0.8v0.8h-0.8zM37.5 70.7h0.8v0.8h-0.8zM32.4 60.7h0.8v0.8h-0.8zM37.7 74.9h0.8v0.8h-0.8zM40.6 63.0h0.8v0.8h-0.8zM37.6 58.3h0.8v0.8h-0.8zM31.6 79.7h0.8v0.8h-0.8zM32.5 55.6h0.8v0.8h-0.8zM47.4 77.5h0.8v0.8h-0.8zM46.6 58.9h0.8v0.8h-0.8zM29.5 56.0h0.8v0.8h-0.8zM34.7 56.3h0.8v0.8h-0.8zM35.6 57.2h0.8v0.8h-0.8zM43.9 63.8h0.8v0.8h-0.8zM43.0 60.0h0.8v0.8h-0.8zM30.0 70.7h0.8v0.8h-0.8zM36.7 55.1h0.8v0.8h-0.8zM34.5 56.4h0.8v0.8h-0.8zM35.7 62.8h0.8v0.8h-0.8zM30.4 68.1h0.8v0.8h-0.8zM31.3 57.3h0.8v0.8h-0.8zM31.9 55.7h0.8v0.8h-0.8zM31.6 61.9h0.8v0.8h-0.8zM31.2 56.8h0.8v0.8h-0.8zM42.1 54.2h0.8v0.8h-0.8zM41.5 58.1h0.8v0.8h-0.8zM45.2 57.9h0.8v0.8h-0.8zM35.0 55.5h0.8v0.8h-0.8zM49.1 56.9h0.8v0.8h-0.8zM30.8 67.3h0.8v0.8h-0.8zM33.5 61.7h0.8v0.8h-0.8zM42.2 60.3h0.8v0.8h-0.8zM33.9 70.9h0.8v0.8h-0.8zM38.1 55.7h0.8v0.8h-0.8zM33.0 56.3h0.8v0.8h-0.8zM36.1 58.6h0.8v0.8h-0.8zM32.4 62.5h0.8v0.8h-0.8zM35.7 59.2h0.8v0.8h-0.8zM32.6 54.1h0.8v0.8h-0.8zM30.4 58.7h0.8v0.8h-0.8zM29.9 70.3h0.8v0.8h-0.8zM38.8 68.2h0.8v0.8h-0.8zM29.8 54.8h0.8v0.8h-0.8zM29.8 66.2h0.8v0.8h-0.8zM30.4 55.3h0.8v0.8h-0.8zM34.2 56.8h0.8v0.8h-0.8zM46.2 67.3h0.8v0.8h-0.8zM30.2 57.4h0.8v0.8h-0.8zM30.6 58.0h0.8v0.8h-0.8zM30.8 63.5h0.8v0.8h-0.8zM35.7 54.7h0.8v0.8h-0.8zM32.7 63.4h0.8v0.8h-0.8zM33.2 61.8h0.8v0.8h-0.8zM31.4 61.6h0.8v0.8h-0.8zM30.8 59.5h0.8v0.8h-0.8zM37.4 61.5h0.8v0.8h-0.8zM44.5 59.9h0.8v0.8h-0.8zM38.7 63.1h0.8v0.8h-0.8zM32.8 61.6h0.8v0.8h-0.8zM36.2 62.9h0.8v0.8h-0.8zM29.9 64.2h0.8v0.8h-0.8zM40.0 56.4h0.8v0.8h-0.8zM35.2 60.0h0.8v0.8h-0.8zM32.6 63.2h0.8v0.8h-0.8zM43.7 59.9h0.8v0.8h-0.8zM38.4 54.4h0.8v0.8h-0.8zM31.9 59.6h0.8v0.8h-0.8zM37.3 64.8h0.8v0.8h-0.8zM29.6 67.8h0.8v0.8h-0.8zM36.5 54.0h0.8v0.8h-0.8zM36.5 57.6h0.8v0.8h-0.8zM37.6 68.8h0.8v0.8h-0.8zM31.4 61.9h0.8v0.8h-0.8zM32.1 54.3h0.8v0.8h-0.8zM32.3 63.6h0.8v0.8h-0.8zM29.8 66.7h0.8v0.8h-0.8zM38.9 59.7h0.8v0.8h-0.8zM32.2 54.0h0.8v0.8h-0.8zM36.7 56.2h0.8v0.8h-0.8zM37.9 55.9h0.8v0.8h-0.8zM32.7 58.5h0.8v0.8h-0.8zM34.0 61.3h0.8v0.8h-0.8zM35.9 56.1h0.8v0.8h-0.8zM35.9 61.7h0.8v0.8h-0.8zM30.5 69.6h0.8v0.8h-0.8zM34.8 54.2h0.8v0.8h-0.8zM35.7 70.8h0.8v0.8h-0.8zM31.4 54.0h0.8v0.8h-0.8zM32.4 65.8h0.8v0.8h-0.8zM30.7 58.0h0.8v0.8h-0.8zM30.8 62.8h0.8v0.8h-0.8zM36.7 55.4h0.8v0.8h-0.8zM49.3 64.4h0.8v0.8h-0.8zM43.2 63.8h0.8v0.8h-0.8zM30.5 67.9h0.8v0.8h-0.8zM30.7 55.9h0.8v0.8h-0.8zM34.6 65.8h0.8v0.8h-0.8zM33.6 59.7h0.8v0.8h-0.8zM31.2 74.2h0.8v0.8h-0.8zM30.9 54.4h0.8v0.8h-0.8zM33.0 61.0h0.8v0.8h-0.8zM47.1 64.3h0.8v0.8h-0.8zM40.0 63.5h0.8v0.8h-0.8zM36.8 54.2h0.8v0.8h-0.8zM38.1 63.3h0.8v0.8h-0.8zM34.0 68.8h0.8v0.8h-0.8zM30.4 58.4h0.8v0.8h-0.8zM32.6 54.3h0.8v0.8h-0.8zM36.7 68.1h0.8v0.8h-0.8zM34.6 54.7h0.8v0.8h-0.8zM31.7 57.6h0.8v0.8h-0.8zM29.7 54.5h0.8v0.8h-0.8zM36.7 55.0h0.8v0.8h-0.8zM31.2 70.0h0.8v0.8h-0.8zM47.5 66.9h0.8v0.8h-0.8zM32.0 74.4h0.8v0.8h-0.8zM32.3 54.8h0.8v0.8h-0.8zM29.5 60.4h0.8v0.8h-0.8zM32.4 61.3h0.8v0.8h-0.8zM32.0 54.2h0.8v0.8h-0.8zM32.9 55.9h0.8v0.8h-0.8zM37.7 54.2h0.8v0.8h-0.8zM32.0 64.4h0.8v0.8h-0.8zM30.2 62.1h0.8v0.8h-0.8zM39.4 61.7h0.8v0.8h-0.8zM33.8 72.0h0.8v0.8h-0.8zM34.4 70.3h0.8v0.8h-0.8zM30.2 65.7h0.8v0.8h-0.8zM37.1 60.4h0.8v0.8h-0.8zM32.3 55.9h0.8v0.8h-0.8z" fill="#ffffff" fill-opacity="0.22"/><path d="M37.6 84.9h0.8v0.8h-0.8zM30.8 89.0h0.8v0.8h-0.8zM48.5 88.3h0.8v0.8h-0.8zM34.9 89.1h0.8v0.8h-0.8zM51.0 88.3h0.8v0.8h-0.8zM35.4 88.0h0.8v0.8h-0.8zM39.8 85.9h0.8v0.8h-0.8zM33.4 90.1h0.8v0.8h-0.8zM45.9 90.5h0.8v0.8h-0.8zM34.0 85.8h0.8v0.8h-0.8zM42.7 84.4h0.8v0.8h-0.8zM37.4 87.8h0.8v0.8h-0.8zM42.0 90.4h0.8v0.8h-0.8zM44.5 88.5h0.8v0.8h-0.8zM44.7 89.5h0.8v0.8h-0.8zM39.0 84.0h0.8v0.8h-0.8zM55.0 89.5h0.8v0.8h-0.8zM32.8 84.8h0.8v0.8h-0.8zM35.3 88.6h0.8v0.8h-0.8zM32.9 84.1h0.8v0.8h-0.8zM42.3 84.0h0.8v0.8h-0.8zM36.2 86.7h0.8v0.8h-0.8zM34.8 84.0h0.8v0.8h-0.8zM36.3 85.7h0.8v0.8h-0.8zM37.9 86.9h0.8v0.8h-0.8zM38.9 86.3h0.8v0.8h-0.8zM30.0 89.9h0.8v0.8h-0.8zM48.7 87.5h0.8v0.8h-0.8zM29.6 85.6h0.8v0.8h-0.8zM52.9 87.2h0.8v0.8h-0.8zM34.8 89.7h0.8v0.8h-0.8zM52.7 84.9h0.8v0.8h-0.8zM42.5 87.9h0.8v0.8h-0.8zM32.6 86.2h0.8v0.8h-0.8zM45.6 88.7h0.8v0.8h-0.8zM45.8 88.3h0.8v0.8h-0.8zM39.3 84.5h0.8v0.8h-0.8zM29.9 89.9h0.8v0.8h-0.8zM52.0 90.3h0.8v0.8h-0.8zM31.5 89.4h0.8v0.8h-0.8zM34.0 86.4h0.8v0.8h-0.8zM34.7 90.0h0.8v0.8h-0.8zM50.8 89.8h0.8v0.8h-0.8zM39.4 90.6h0.8v0.8h-0.8zM36.3 88.0h0.8v0.8h-0.8zM47.0 85.6h0.8v0.8h-0.8zM39.4 84.7h0.8v0.8h-0.8zM50.2 85.3h0.8v0.8h-0.8zM33.0 85.9h0.8v0.8h-0.8zM46.1 88.5h0.8v0.8h-0.8zM43.1 90.0h0.8v0.8h-0.8zM49.1 85.5h0.8v0.8h-0.8zM43.4 85.2h0.8v0.8h-0.8zM35.8 85.0h0.8v0.8h-0.8zM31.5 86.5h0.8v0.8h-0.8zM52.5 88.6h0.8v0.8h-0.8zM31.8 85.5h0.8v0.8h-0.8zM44.9 87.7h0.8v0.8h-0.8zM30.2 84.7h0.8v0.8h-0.8zM44.2 88.2h0.8v0.8h-0.8zM31.6 89.4h0.8v0.8h-0.8zM35.7 88.1h0.8v0.8h-0.8zM43.3 86.4h0.8v0.8h-0.8zM54.1 86.8h0.8v0.8h-0.8zM40.5 87.8h0.8v0.8h-0.8zM51.3 90.9h0.8v0.8h-0.8zM49.5 87.8h0.8v0.8h-0.8zM48.1 88.5h0.8v0.8h-0.8zM54.4 90.8h0.8v0.8h-0.8zM49.3 85.5h0.8v0.8h-0.8zM44.3 87.1h0.8v0.8h-0.8zM35.5 89.5h0.8v0.8h-0.8zM35.2 89.0h0.8v0.8h-0.8zM42.2 87.0h0.8v0.8h-0.8zM47.9 89.1h0.8v0.8h-0.8zM55.2 91.0h0.8v0.8h-0.8zM50.3 85.8h0.8v0.8h-0.8zM46.9 87.5h0.8v0.8h-0.8zM54.0 87.1h0.8v0.8h-0.8zM38.8 84.2h0.8v0.8h-0.8z" fill="#ffffff" fill-opacity="0.15"/></g><path d="M32.5 74.5 C35.5 66 46 62.8 54.2 64.3 C55.6 70 54.6 79.5 50 83.4 C44 86 35.5 81.5 32.5 74.5 Z" fill="#3468C8" filter="url(#bl12)"/><path d="M35 74.2 C37.8 68 46 65.2 53 66 C54 71 53 78.2 49.2 81 C43.5 82.8 37.3 79.2 35 74.2 Z" fill="#28A6DF" filter="url(#bl12)"/><ellipse cx="45.4" cy="73.4" rx="5.27" ry="3.40" fill="#1E9848" filter="url(#bl08)"/></g></g><path d="M29.8 50.5h1.4M29.8 60.2h1.4M29.8 70.3h1.4M29.8 80.2h1.4" stroke="#555" stroke-width="0.6"/><path d="M30.5 90.2v-1.2M35.5 90.2v-1.2M41 90.2v-1.2M44.5 90.2v-1.2M49.8 90.2v-1.2M55.2 90.2v-1.2M60 90.2v-1.2M65 90.2v-1.2M70.4 90.2v-1.2M75.2 90.2v-1.2M80 90.2v-1.2M85.6 90.2v-1.2" stroke="#555" stroke-width="0.6"/><rect x="57.8" y="55" width="23" height="9" fill="none" stroke="#2a2a2a" stroke-width="0.95"/><path d="M80.8 59.2H85" stroke="#1a1a1a" stroke-width="1.2"/><path d="M83.3 56.8L88.5 59.2L83.3 61.6Z" fill="#111"/><path d="M29.8 114.5h1.4M29.8 124.2h1.4M29.8 134.3h1.4M29.8 144.2h1.4" stroke="#555" stroke-width="0.6"/><path d="M30.5 154.2v-1.2M35.5 154.2v-1.2M41 154.2v-1.2M44.5 154.2v-1.2M49.8 154.2v-1.2M55.2 154.2v-1.2M60 154.2v-1.2M65 154.2v-1.2M70.4 154.2v-1.2M75.2 154.2v-1.2M80 154.2v-1.2M85.6 154.2v-1.2" stroke="#555" stroke-width="0.6"/><rect x="57.8" y="119" width="23" height="9" fill="none" stroke="#2a2a2a" stroke-width="0.95"/><path d="M80.8 123.2H85" stroke="#1a1a1a" stroke-width="1.2"/><path d="M83.3 120.8L88.5 123.2L83.3 125.6Z" fill="#111"/><text x="57" y="52.6" font-size="5.5" fill="#2a2a2a" textLength="25.6" lengthAdjust="spacingAndGlyphs">LSK 0.20%</text><text x="57" y="116.9" font-size="5.5" fill="#2a2a2a" textLength="25.6" lengthAdjust="spacingAndGlyphs">LSK 0.17%</text><rect x="105.8" y="40.4" width="61.8" height="50.6" fill="none" stroke="#d0d0d0" stroke-width="0.7"/><rect x="105.6" y="104" width="62.0" height="50.5" fill="none" stroke="#d0d0d0" stroke-width="0.7"/><g clip-path="url(#cA2)"><ellipse cx="125" cy="60.5" rx="9" ry="4.5" transform="rotate(25 125 60.5)" fill="#8A94CC" fill-opacity="0.3" filter="url(#bl20)"/><g filter="url(#bl03)"><path d="M118.4 59.0h0.8v0.8h-0.8zM123.7 60.6h0.8v0.8h-0.8zM122.6 59.3h0.8v0.8h-0.8zM127.1 62.6h0.8v0.8h-0.8zM121.1 61.5h0.8v0.8h-0.8zM119.6 58.2h0.8v0.8h-0.8zM125.1 60.1h0.8v0.8h-0.8zM112.2 54.6h0.8v0.8h-0.8zM123.6 61.8h0.8v0.8h-0.8zM121.0 62.8h0.8v0.8h-0.8zM115.6 58.1h0.8v0.8h-0.8zM127.2 60.2h0.8v0.8h-0.8zM125.8 62.3h0.8v0.8h-0.8zM120.5 60.3h0.8v0.8h-0.8zM129.8 60.0h0.8v0.8h-0.8zM113.1 54.3h0.8v0.8h-0.8zM120.3 56.0h0.8v0.8h-0.8zM126.6 57.9h0.8v0.8h-0.8zM136.8 63.5h0.8v0.8h-0.8zM118.0 57.6h0.8v0.8h-0.8zM132.1 62.8h0.8v0.8h-0.8zM119.5 61.3h0.8v0.8h-0.8zM122.2 64.9h0.8v0.8h-0.8zM121.8 60.6h0.8v0.8h-0.8zM127.3 59.0h0.8v0.8h-0.8zM123.7 62.5h0.8v0.8h-0.8zM127.0 59.9h0.8v0.8h-0.8zM126.7 64.6h0.8v0.8h-0.8zM129.1 61.7h0.8v0.8h-0.8zM126.1 55.9h0.8v0.8h-0.8zM125.2 58.5h0.8v0.8h-0.8zM128.1 58.7h0.8v0.8h-0.8zM126.7 57.3h0.8v0.8h-0.8zM128.9 58.6h0.8v0.8h-0.8zM124.4 61.1h0.8v0.8h-0.8zM122.9 59.3h0.8v0.8h-0.8zM129.7 65.2h0.8v0.8h-0.8zM115.6 55.5h0.8v0.8h-0.8zM127.8 62.7h0.8v0.8h-0.8zM122.2 59.4h0.8v0.8h-0.8zM123.5 65.3h0.8v0.8h-0.8zM123.5 56.3h0.8v0.8h-0.8zM116.8 54.8h0.8v0.8h-0.8zM130.9 59.9h0.8v0.8h-0.8zM134.1 63.1h0.8v0.8h-0.8zM126.4 61.6h0.8v0.8h-0.8zM128.4 62.7h0.8v0.8h-0.8zM119.7 57.2h0.8v0.8h-0.8zM121.8 59.3h0.8v0.8h-0.8zM123.3 56.2h0.8v0.8h-0.8zM121.1 63.6h0.8v0.8h-0.8zM135.0 59.4h0.8v0.8h-0.8zM126.4 59.9h0.8v0.8h-0.8zM120.3 60.6h0.8v0.8h-0.8zM124.2 63.9h0.8v0.8h-0.8zM126.8 59.2h0.8v0.8h-0.8zM111.4 56.8h0.8v0.8h-0.8zM128.7 58.6h0.8v0.8h-0.8zM128.9 62.2h0.8v0.8h-0.8zM115.8 57.4h0.8v0.8h-0.8zM126.1 61.9h0.8v0.8h-0.8zM125.3 59.7h0.8v0.8h-0.8zM122.8 58.5h0.8v0.8h-0.8zM124.5 56.9h0.8v0.8h-0.8zM127.7 59.4h0.8v0.8h-0.8zM127.1 58.8h0.8v0.8h-0.8zM126.5 60.3h0.8v0.8h-0.8zM128.9 61.7h0.8v0.8h-0.8zM129.1 60.1h0.8v0.8h-0.8zM124.2 58.9h0.8v0.8h-0.8zM118.3 58.1h0.8v0.8h-0.8zM129.9 62.6h0.8v0.8h-0.8zM120.3 59.6h0.8v0.8h-0.8zM128.2 56.8h0.8v0.8h-0.8zM126.2 60.8h0.8v0.8h-0.8zM128.2 61.0h0.8v0.8h-0.8zM115.9 52.7h0.8v0.8h-0.8zM134.3 60.5h0.8v0.8h-0.8zM130.8 64.1h0.8v0.8h-0.8zM124.9 56.7h0.8v0.8h-0.8zM131.3 60.8h0.8v0.8h-0.8zM127.1 61.3h0.8v0.8h-0.8zM129.2 63.1h0.8v0.8h-0.8zM117.5 54.6h0.8v0.8h-0.8zM125.2 59.8h0.8v0.8h-0.8zM128.3 60.0h0.8v0.8h-0.8zM123.6 64.7h0.8v0.8h-0.8zM131.3 63.9h0.8v0.8h-0.8zM129.6 58.6h0.8v0.8h-0.8zM124.1 59.3h0.8v0.8h-0.8zM119.1 56.3h0.8v0.8h-0.8zM125.3 56.6h0.8v0.8h-0.8zM127.2 61.3h0.8v0.8h-0.8zM123.3 58.5h0.8v0.8h-0.8zM127.5 61.4h0.8v0.8h-0.8zM126.3 56.8h0.8v0.8h-0.8zM116.5 63.3h0.8v0.8h-0.8zM121.3 58.0h0.8v0.8h-0.8zM115.5 55.8h0.8v0.8h-0.8zM120.9 61.0h0.8v0.8h-0.8zM111.4 53.4h0.8v0.8h-0.8zM122.5 57.9h0.8v0.8h-0.8zM120.7 57.7h0.8v0.8h-0.8zM116.7 58.8h0.8v0.8h-0.8zM130.4 61.2h0.8v0.8h-0.8zM121.9 62.3h0.8v0.8h-0.8zM126.9 57.4h0.8v0.8h-0.8zM121.7 57.5h0.8v0.8h-0.8zM124.3 62.7h0.8v0.8h-0.8zM121.0 58.5h0.8v0.8h-0.8zM125.1 56.6h0.8v0.8h-0.8zM122.1 60.7h0.8v0.8h-0.8zM130.1 55.9h0.8v0.8h-0.8zM128.0 59.5h0.8v0.8h-0.8zM130.9 62.5h0.8v0.8h-0.8zM134.2 62.3h0.8v0.8h-0.8zM122.5 57.1h0.8v0.8h-0.8zM117.4 59.6h0.8v0.8h-0.8zM127.0 62.2h0.8v0.8h-0.8zM126.2 56.1h0.8v0.8h-0.8zM122.5 58.6h0.8v0.8h-0.8zM125.3 61.7h0.8v0.8h-0.8zM131.5 61.7h0.8v0.8h-0.8zM114.3 55.0h0.8v0.8h-0.8zM114.0 55.6h0.8v0.8h-0.8zM118.6 59.1h0.8v0.8h-0.8zM123.4 62.3h0.8v0.8h-0.8zM129.8 59.5h0.8v0.8h-0.8zM129.2 60.5h0.8v0.8h-0.8zM126.8 63.5h0.8v0.8h-0.8zM118.8 58.3h0.8v0.8h-0.8zM132.1 59.1h0.8v0.8h-0.8zM125.6 60.1h0.8v0.8h-0.8zM122.4 55.8h0.8v0.8h-0.8zM121.1 56.4h0.8v0.8h-0.8zM129.8 61.3h0.8v0.8h-0.8zM128.0 57.2h0.8v0.8h-0.8zM127.0 60.5h0.8v0.8h-0.8zM129.7 58.8h0.8v0.8h-0.8zM128.5 63.9h0.8v0.8h-0.8zM133.4 59.0h0.8v0.8h-0.8zM119.0 54.7h0.8v0.8h-0.8zM129.3 62.1h0.8v0.8h-0.8zM126.2 57.7h0.8v0.8h-0.8zM130.7 64.9h0.8v0.8h-0.8zM124.3 59.3h0.8v0.8h-0.8zM130.4 62.1h0.8v0.8h-0.8zM131.1 59.9h0.8v0.8h-0.8zM126.2 59.1h0.8v0.8h-0.8zM121.7 58.3h0.8v0.8h-0.8zM116.3 65.1h0.8v0.8h-0.8zM116.2 63.2h0.8v0.8h-0.8zM113.2 57.3h0.8v0.8h-0.8zM126.5 59.3h0.8v0.8h-0.8zM128.8 67.9h0.8v0.8h-0.8zM104.4 59.2h0.8v0.8h-0.8zM115.5 62.9h0.8v0.8h-0.8zM116.9 60.3h0.8v0.8h-0.8zM125.4 63.0h0.8v0.8h-0.8zM123.7 60.4h0.8v0.8h-0.8zM113.9 68.5h0.8v0.8h-0.8zM116.3 58.1h0.8v0.8h-0.8zM117.0 67.5h0.8v0.8h-0.8zM117.1 59.8h0.8v0.8h-0.8zM121.8 67.6h0.8v0.8h-0.8zM116.8 61.5h0.8v0.8h-0.8zM115.8 74.7h0.8v0.8h-0.8zM116.9 70.6h0.8v0.8h-0.8zM117.1 64.7h0.8v0.8h-0.8zM105.9 62.9h0.8v0.8h-0.8zM118.3 61.6h0.8v0.8h-0.8zM115.6 56.8h0.8v0.8h-0.8zM109.2 63.1h0.8v0.8h-0.8zM114.2 62.3h0.8v0.8h-0.8zM116.9 60.7h0.8v0.8h-0.8zM113.7 70.8h0.8v0.8h-0.8zM111.5 60.3h0.8v0.8h-0.8zM116.3 57.8h0.8v0.8h-0.8zM112.3 66.4h0.8v0.8h-0.8zM123.5 64.0h0.8v0.8h-0.8zM137.2 68.1h0.8v0.8h-0.8zM125.3 60.0h0.8v0.8h-0.8zM124.4 70.9h0.8v0.8h-0.8zM115.8 70.8h0.8v0.8h-0.8zM113.2 57.7h0.8v0.8h-0.8zM117.7 59.5h0.8v0.8h-0.8zM121.8 58.5h0.8v0.8h-0.8zM118.5 54.5h0.8v0.8h-0.8zM117.8 67.6h0.8v0.8h-0.8zM116.5 64.3h0.8v0.8h-0.8zM124.5 58.7h0.8v0.8h-0.8zM110.5 62.8h0.8v0.8h-0.8zM119.7 62.0h0.8v0.8h-0.8zM112.3 67.9h0.8v0.8h-0.8zM111.1 61.3h0.8v0.8h-0.8zM117.8 66.2h0.8v0.8h-0.8zM115.4 59.2h0.8v0.8h-0.8zM129.9 60.2h0.8v0.8h-0.8zM122.7 62.7h0.8v0.8h-0.8zM115.2 62.6h0.8v0.8h-0.8zM116.5 64.3h0.8v0.8h-0.8zM103.0 61.8h0.8v0.8h-0.8zM118.4 58.8h0.8v0.8h-0.8zM115.7 73.1h0.8v0.8h-0.8zM129.0 66.6h0.8v0.8h-0.8zM134.8 66.5h0.8v0.8h-0.8zM138.8 68.1h0.8v0.8h-0.8zM131.2 67.6h0.8v0.8h-0.8zM130.7 63.0h0.8v0.8h-0.8zM139.0 64.8h0.8v0.8h-0.8zM133.8 67.2h0.8v0.8h-0.8zM134.9 63.1h0.8v0.8h-0.8zM133.2 65.6h0.8v0.8h-0.8zM140.7 73.3h0.8v0.8h-0.8zM131.4 68.3h0.8v0.8h-0.8zM136.3 67.8h0.8v0.8h-0.8zM133.2 65.8h0.8v0.8h-0.8zM128.7 62.5h0.8v0.8h-0.8zM137.2 72.9h0.8v0.8h-0.8zM140.4 69.1h0.8v0.8h-0.8zM136.1 61.0h0.8v0.8h-0.8zM133.1 62.8h0.8v0.8h-0.8zM136.9 63.5h0.8v0.8h-0.8zM130.4 61.9h0.8v0.8h-0.8zM135.4 70.2h0.8v0.8h-0.8zM130.8 70.8h0.8v0.8h-0.8zM134.6 64.8h0.8v0.8h-0.8zM135.2 67.6h0.8v0.8h-0.8zM136.9 69.5h0.8v0.8h-0.8zM141.6 74.2h0.8v0.8h-0.8zM131.8 68.2h0.8v0.8h-0.8zM136.6 65.4h0.8v0.8h-0.8zM131.4 63.3h0.8v0.8h-0.8zM125.5 64.6h0.8v0.8h-0.8zM133.3 70.3h0.8v0.8h-0.8zM132.1 66.3h0.8v0.8h-0.8zM136.5 71.1h0.8v0.8h-0.8zM135.1 64.5h0.8v0.8h-0.8zM141.6 73.4h0.8v0.8h-0.8zM138.7 74.1h0.8v0.8h-0.8zM138.9 70.7h0.8v0.8h-0.8zM135.7 69.7h0.8v0.8h-0.8zM128.8 66.8h0.8v0.8h-0.8zM130.7 66.6h0.8v0.8h-0.8zM130.5 67.4h0.8v0.8h-0.8zM132.3 73.5h0.8v0.8h-0.8zM134.7 68.8h0.8v0.8h-0.8zM130.9 64.6h0.8v0.8h-0.8zM133.8 66.1h0.8v0.8h-0.8zM132.5 63.7h0.8v0.8h-0.8z" fill="#7680C4" fill-opacity="0.45"/><path d="M126.9 57.7h0.8v0.8h-0.8zM123.0 58.7h0.8v0.8h-0.8zM123.0 58.0h0.8v0.8h-0.8zM123.8 56.9h0.8v0.8h-0.8zM124.5 57.1h0.8v0.8h-0.8zM121.9 58.7h0.8v0.8h-0.8zM124.3 56.2h0.8v0.8h-0.8zM124.0 58.5h0.8v0.8h-0.8zM126.1 58.7h0.8v0.8h-0.8zM125.6 59.0h0.8v0.8h-0.8zM123.8 57.1h0.8v0.8h-0.8zM126.5 57.6h0.8v0.8h-0.8zM125.0 59.1h0.8v0.8h-0.8zM127.3 59.9h0.8v0.8h-0.8zM123.3 57.7h0.8v0.8h-0.8zM126.4 56.2h0.8v0.8h-0.8zM121.9 59.0h0.8v0.8h-0.8zM123.5 56.9h0.8v0.8h-0.8zM127.0 58.9h0.8v0.8h-0.8zM127.3 57.8h0.8v0.8h-0.8z" fill="#6FB060" fill-opacity="0.6"/></g></g><path d="M105.9 50.4h1.4M105.9 60.4h1.4M105.9 70.4h1.4M105.9 80.4h1.4" stroke="#555" stroke-width="0.6"/><path d="M108 91v-1.2M113 91v-1.2M118 91v-1.2M123 91v-1.2M128 91v-1.2M133 91v-1.2M138 91v-1.2M143 91v-1.2M148 91v-1.2M153 91v-1.2M158 91v-1.2M163 91v-1.2" stroke="#555" stroke-width="0.6"/><g clip-path="url(#cA4)"><ellipse cx="125" cy="124.0" rx="9" ry="4.5" transform="rotate(25 125 124.0)" fill="#8A94CC" fill-opacity="0.3" filter="url(#bl20)"/><g filter="url(#bl03)"><path d="M123.1 122.0h0.8v0.8h-0.8zM126.0 118.2h0.8v0.8h-0.8zM121.1 124.2h0.8v0.8h-0.8zM120.7 122.2h0.8v0.8h-0.8zM125.2 124.6h0.8v0.8h-0.8zM122.2 119.8h0.8v0.8h-0.8zM136.8 123.7h0.8v0.8h-0.8zM133.0 120.3h0.8v0.8h-0.8zM125.1 122.7h0.8v0.8h-0.8zM133.9 130.1h0.8v0.8h-0.8zM129.4 121.5h0.8v0.8h-0.8zM120.6 120.4h0.8v0.8h-0.8zM122.0 123.3h0.8v0.8h-0.8zM120.7 121.7h0.8v0.8h-0.8zM131.8 128.2h0.8v0.8h-0.8zM115.4 118.9h0.8v0.8h-0.8zM122.7 126.1h0.8v0.8h-0.8zM122.9 127.7h0.8v0.8h-0.8zM126.3 127.1h0.8v0.8h-0.8zM120.3 121.5h0.8v0.8h-0.8zM129.6 125.6h0.8v0.8h-0.8zM115.4 120.6h0.8v0.8h-0.8zM125.4 124.9h0.8v0.8h-0.8zM121.4 126.9h0.8v0.8h-0.8zM125.3 127.0h0.8v0.8h-0.8zM126.5 123.7h0.8v0.8h-0.8zM123.0 119.8h0.8v0.8h-0.8zM128.8 125.9h0.8v0.8h-0.8zM129.1 123.1h0.8v0.8h-0.8zM119.6 121.2h0.8v0.8h-0.8zM123.0 122.8h0.8v0.8h-0.8zM129.4 121.7h0.8v0.8h-0.8zM122.2 124.4h0.8v0.8h-0.8zM129.0 129.6h0.8v0.8h-0.8zM127.1 121.5h0.8v0.8h-0.8zM119.4 120.1h0.8v0.8h-0.8zM124.9 123.8h0.8v0.8h-0.8zM124.2 121.5h0.8v0.8h-0.8zM123.6 122.7h0.8v0.8h-0.8zM127.5 123.9h0.8v0.8h-0.8zM120.6 119.4h0.8v0.8h-0.8zM131.8 124.3h0.8v0.8h-0.8zM123.7 122.9h0.8v0.8h-0.8zM130.1 123.4h0.8v0.8h-0.8zM125.4 122.7h0.8v0.8h-0.8zM127.4 121.1h0.8v0.8h-0.8zM125.6 125.9h0.8v0.8h-0.8zM130.4 125.8h0.8v0.8h-0.8zM126.0 127.4h0.8v0.8h-0.8zM128.0 127.4h0.8v0.8h-0.8zM118.7 119.2h0.8v0.8h-0.8zM128.5 123.2h0.8v0.8h-0.8zM122.4 120.3h0.8v0.8h-0.8zM131.8 121.5h0.8v0.8h-0.8zM125.1 119.7h0.8v0.8h-0.8zM123.7 128.7h0.8v0.8h-0.8zM136.5 124.2h0.8v0.8h-0.8zM119.6 126.3h0.8v0.8h-0.8zM120.4 117.8h0.8v0.8h-0.8zM126.3 120.7h0.8v0.8h-0.8zM117.5 124.6h0.8v0.8h-0.8zM121.0 119.7h0.8v0.8h-0.8zM125.4 122.8h0.8v0.8h-0.8zM130.1 124.4h0.8v0.8h-0.8zM132.4 127.5h0.8v0.8h-0.8zM133.3 127.7h0.8v0.8h-0.8zM124.9 124.6h0.8v0.8h-0.8zM124.7 119.2h0.8v0.8h-0.8zM118.8 123.9h0.8v0.8h-0.8zM113.0 118.8h0.8v0.8h-0.8zM118.3 121.7h0.8v0.8h-0.8zM119.5 122.8h0.8v0.8h-0.8zM123.6 121.7h0.8v0.8h-0.8zM120.4 116.7h0.8v0.8h-0.8zM124.9 119.9h0.8v0.8h-0.8zM123.1 123.8h0.8v0.8h-0.8zM129.7 125.9h0.8v0.8h-0.8zM131.8 120.9h0.8v0.8h-0.8zM127.9 127.7h0.8v0.8h-0.8zM126.5 120.7h0.8v0.8h-0.8zM126.5 122.2h0.8v0.8h-0.8zM121.4 125.2h0.8v0.8h-0.8zM123.7 120.1h0.8v0.8h-0.8zM121.3 127.5h0.8v0.8h-0.8zM120.4 124.0h0.8v0.8h-0.8zM125.4 126.3h0.8v0.8h-0.8zM123.2 120.5h0.8v0.8h-0.8zM121.4 119.9h0.8v0.8h-0.8zM137.3 126.1h0.8v0.8h-0.8zM123.0 126.0h0.8v0.8h-0.8zM127.8 123.3h0.8v0.8h-0.8zM127.6 124.4h0.8v0.8h-0.8zM130.1 128.4h0.8v0.8h-0.8zM123.0 122.7h0.8v0.8h-0.8zM123.7 126.1h0.8v0.8h-0.8zM126.5 125.5h0.8v0.8h-0.8zM129.0 122.4h0.8v0.8h-0.8zM125.2 126.8h0.8v0.8h-0.8zM129.1 126.1h0.8v0.8h-0.8zM123.2 121.9h0.8v0.8h-0.8zM120.4 121.6h0.8v0.8h-0.8zM124.3 119.4h0.8v0.8h-0.8zM130.3 122.3h0.8v0.8h-0.8zM125.8 124.9h0.8v0.8h-0.8zM121.9 118.0h0.8v0.8h-0.8zM129.3 125.1h0.8v0.8h-0.8zM123.3 125.8h0.8v0.8h-0.8zM129.0 121.6h0.8v0.8h-0.8zM124.2 118.6h0.8v0.8h-0.8zM123.3 126.5h0.8v0.8h-0.8zM120.5 124.4h0.8v0.8h-0.8zM117.2 120.9h0.8v0.8h-0.8zM129.2 128.4h0.8v0.8h-0.8zM126.8 125.5h0.8v0.8h-0.8zM133.0 118.6h0.8v0.8h-0.8zM116.2 126.3h0.8v0.8h-0.8zM136.6 127.0h0.8v0.8h-0.8zM124.9 123.8h0.8v0.8h-0.8zM124.7 121.6h0.8v0.8h-0.8zM124.5 122.8h0.8v0.8h-0.8zM127.8 125.5h0.8v0.8h-0.8zM129.4 125.6h0.8v0.8h-0.8zM119.9 125.7h0.8v0.8h-0.8zM111.6 120.9h0.8v0.8h-0.8zM126.2 122.1h0.8v0.8h-0.8zM133.7 122.1h0.8v0.8h-0.8zM118.9 120.7h0.8v0.8h-0.8zM126.6 125.5h0.8v0.8h-0.8zM125.1 124.9h0.8v0.8h-0.8zM121.2 120.9h0.8v0.8h-0.8zM125.2 119.8h0.8v0.8h-0.8zM125.5 122.3h0.8v0.8h-0.8zM127.9 121.2h0.8v0.8h-0.8zM122.0 121.2h0.8v0.8h-0.8zM122.8 120.2h0.8v0.8h-0.8zM123.3 119.4h0.8v0.8h-0.8zM127.2 125.3h0.8v0.8h-0.8zM124.5 122.6h0.8v0.8h-0.8zM120.3 119.8h0.8v0.8h-0.8zM123.5 120.6h0.8v0.8h-0.8zM118.9 122.4h0.8v0.8h-0.8zM124.5 122.1h0.8v0.8h-0.8zM120.6 122.2h0.8v0.8h-0.8zM121.2 121.4h0.8v0.8h-0.8zM125.5 125.1h0.8v0.8h-0.8zM128.3 122.3h0.8v0.8h-0.8zM130.4 121.3h0.8v0.8h-0.8zM123.7 126.3h0.8v0.8h-0.8zM136.1 125.7h0.8v0.8h-0.8zM122.8 121.8h0.8v0.8h-0.8zM111.0 125.4h0.8v0.8h-0.8zM115.6 123.1h0.8v0.8h-0.8zM125.1 123.7h0.8v0.8h-0.8zM128.0 130.9h0.8v0.8h-0.8zM121.8 124.3h0.8v0.8h-0.8zM115.1 117.7h0.8v0.8h-0.8zM119.7 125.5h0.8v0.8h-0.8zM120.4 123.8h0.8v0.8h-0.8zM120.9 120.3h0.8v0.8h-0.8zM105.4 127.6h0.8v0.8h-0.8zM124.3 113.4h0.8v0.8h-0.8zM125.6 125.6h0.8v0.8h-0.8zM117.2 119.8h0.8v0.8h-0.8zM112.3 129.2h0.8v0.8h-0.8zM113.8 126.0h0.8v0.8h-0.8zM117.2 135.1h0.8v0.8h-0.8zM123.3 121.2h0.8v0.8h-0.8zM115.3 121.3h0.8v0.8h-0.8zM110.0 123.0h0.8v0.8h-0.8zM124.5 127.2h0.8v0.8h-0.8zM122.0 126.2h0.8v0.8h-0.8zM115.6 126.7h0.8v0.8h-0.8zM117.6 134.8h0.8v0.8h-0.8zM128.5 128.9h0.8v0.8h-0.8zM121.6 118.2h0.8v0.8h-0.8zM117.4 136.8h0.8v0.8h-0.8zM113.5 129.7h0.8v0.8h-0.8zM125.2 125.3h0.8v0.8h-0.8zM116.8 124.4h0.8v0.8h-0.8zM122.7 127.0h0.8v0.8h-0.8zM126.8 132.3h0.8v0.8h-0.8zM118.0 137.8h0.8v0.8h-0.8zM116.3 123.7h0.8v0.8h-0.8zM116.7 122.6h0.8v0.8h-0.8zM115.6 126.0h0.8v0.8h-0.8zM123.2 120.1h0.8v0.8h-0.8zM110.0 122.6h0.8v0.8h-0.8zM116.3 128.4h0.8v0.8h-0.8zM113.5 132.7h0.8v0.8h-0.8zM115.0 125.3h0.8v0.8h-0.8zM118.4 131.6h0.8v0.8h-0.8zM119.8 126.8h0.8v0.8h-0.8zM114.9 127.0h0.8v0.8h-0.8zM120.4 125.2h0.8v0.8h-0.8zM118.0 118.5h0.8v0.8h-0.8zM115.0 131.4h0.8v0.8h-0.8zM126.3 126.8h0.8v0.8h-0.8zM105.6 133.5h0.8v0.8h-0.8zM117.1 137.6h0.8v0.8h-0.8zM115.7 130.7h0.8v0.8h-0.8zM114.5 132.2h0.8v0.8h-0.8zM124.8 122.4h0.8v0.8h-0.8zM125.6 139.5h0.8v0.8h-0.8zM116.8 121.2h0.8v0.8h-0.8zM119.7 124.9h0.8v0.8h-0.8zM129.0 124.9h0.8v0.8h-0.8zM134.9 126.5h0.8v0.8h-0.8zM137.7 133.7h0.8v0.8h-0.8zM133.4 134.3h0.8v0.8h-0.8zM130.9 131.0h0.8v0.8h-0.8zM129.5 127.3h0.8v0.8h-0.8zM136.2 130.0h0.8v0.8h-0.8zM133.7 132.2h0.8v0.8h-0.8zM139.2 136.9h0.8v0.8h-0.8zM135.6 130.5h0.8v0.8h-0.8zM129.2 133.1h0.8v0.8h-0.8zM140.4 127.3h0.8v0.8h-0.8zM137.0 131.9h0.8v0.8h-0.8zM136.4 132.6h0.8v0.8h-0.8zM133.4 130.2h0.8v0.8h-0.8zM133.9 133.9h0.8v0.8h-0.8zM133.2 128.5h0.8v0.8h-0.8zM136.2 133.5h0.8v0.8h-0.8zM135.5 132.1h0.8v0.8h-0.8zM139.0 136.3h0.8v0.8h-0.8zM134.8 130.3h0.8v0.8h-0.8zM136.3 126.1h0.8v0.8h-0.8zM132.3 127.6h0.8v0.8h-0.8zM134.6 129.7h0.8v0.8h-0.8zM142.3 136.8h0.8v0.8h-0.8zM135.4 137.8h0.8v0.8h-0.8zM134.0 129.6h0.8v0.8h-0.8zM138.2 135.0h0.8v0.8h-0.8zM137.2 135.6h0.8v0.8h-0.8zM132.8 128.0h0.8v0.8h-0.8zM131.6 129.6h0.8v0.8h-0.8zM137.4 129.1h0.8v0.8h-0.8zM132.2 125.7h0.8v0.8h-0.8zM140.8 136.2h0.8v0.8h-0.8zM134.8 127.3h0.8v0.8h-0.8zM130.6 126.9h0.8v0.8h-0.8zM134.1 126.8h0.8v0.8h-0.8zM133.3 133.7h0.8v0.8h-0.8zM134.1 130.8h0.8v0.8h-0.8zM127.0 126.2h0.8v0.8h-0.8zM133.5 128.2h0.8v0.8h-0.8zM129.4 128.0h0.8v0.8h-0.8zM130.6 127.2h0.8v0.8h-0.8zM128.7 127.6h0.8v0.8h-0.8zM137.1 129.6h0.8v0.8h-0.8z" fill="#7680C4" fill-opacity="0.45"/><path d="M125.8 119.6h0.8v0.8h-0.8zM126.4 122.4h0.8v0.8h-0.8zM124.1 122.9h0.8v0.8h-0.8zM122.9 121.8h0.8v0.8h-0.8zM129.1 121.7h0.8v0.8h-0.8zM122.3 123.3h0.8v0.8h-0.8zM126.3 121.3h0.8v0.8h-0.8zM120.7 119.1h0.8v0.8h-0.8zM121.4 123.7h0.8v0.8h-0.8zM125.7 120.5h0.8v0.8h-0.8zM127.8 123.7h0.8v0.8h-0.8zM123.0 122.4h0.8v0.8h-0.8zM121.1 122.2h0.8v0.8h-0.8zM129.4 119.8h0.8v0.8h-0.8zM125.2 120.8h0.8v0.8h-0.8zM124.8 121.8h0.8v0.8h-0.8zM125.7 122.9h0.8v0.8h-0.8zM126.3 123.1h0.8v0.8h-0.8zM127.5 123.2h0.8v0.8h-0.8zM123.4 122.3h0.8v0.8h-0.8z" fill="#6FB060" fill-opacity="0.6"/></g></g><path d="M105.9 113.9h1.4M105.9 123.9h1.4M105.9 133.9h1.4M105.9 143.9h1.4" stroke="#555" stroke-width="0.6"/><path d="M108 154.5v-1.2M113 154.5v-1.2M118 154.5v-1.2M123 154.5v-1.2M128 154.5v-1.2M133 154.5v-1.2M138 154.5v-1.2M143 154.5v-1.2M148 154.5v-1.2M153 154.5v-1.2M158 154.5v-1.2M163 154.5v-1.2" stroke="#555" stroke-width="0.6"/><rect x="132.4" y="62.4" width="21.3" height="25.2" fill="none" stroke="#2a2a2a" stroke-width="0.95"/><rect x="132.3" y="125.8" width="21.2" height="26.2" fill="none" stroke="#2a2a2a" stroke-width="0.95"/><text x="137.6" y="61.2" font-size="5.5" fill="#2a2a2a" textLength="9.8" lengthAdjust="spacingAndGlyphs">HSC</text><text x="136" y="84.1" font-size="5.5" fill="#2a2a2a" textLength="14.8" lengthAdjust="spacingAndGlyphs">0.02%</text><text x="137.5" y="123.8" font-size="5.5" fill="#2a2a2a" textLength="10.2" lengthAdjust="spacingAndGlyphs">HSC</text><text x="136" y="146.6" font-size="5.5" fill="#2a2a2a" textLength="14.8" lengthAdjust="spacingAndGlyphs">0.02%</text><rect x="29.8" y="208.9" width="71.0" height="70.9" fill="none" stroke="#d0d0d0" stroke-width="0.7"/><rect x="110" y="208.8" width="71.80000000000001" height="71.19999999999999" fill="none" stroke="#d0d0d0" stroke-width="0.7"/><g clip-path="url(#cB1)"><path d="M46.3 247.6h0.75v0.75h-0.75zM50.1 252.4h0.75v0.75h-0.75zM60.8 256.6h0.75v0.75h-0.75zM57.5 237.9h0.75v0.75h-0.75zM64.9 262.6h0.75v0.75h-0.75zM63.3 266.8h0.75v0.75h-0.75zM55.2 243.9h0.75v0.75h-0.75zM54.3 268.2h0.75v0.75h-0.75zM67.5 259.6h0.75v0.75h-0.75zM38.1 245.7h0.75v0.75h-0.75zM65.9 249.1h0.75v0.75h-0.75zM40.2 257.6h0.75v0.75h-0.75zM37.0 268.2h0.75v0.75h-0.75zM49.3 265.4h0.75v0.75h-0.75zM41.7 272.5h0.75v0.75h-0.75zM69.5 270.9h0.75v0.75h-0.75zM46.2 243.9h0.75v0.75h-0.75zM39.6 246.9h0.75v0.75h-0.75zM42.4 269.6h0.75v0.75h-0.75zM69.7 268.6h0.75v0.75h-0.75zM45.3 241.8h0.75v0.75h-0.75zM69.0 255.8h0.75v0.75h-0.75zM49.8 259.2h0.75v0.75h-0.75zM58.2 258.1h0.75v0.75h-0.75zM53.7 252.3h0.75v0.75h-0.75zM45.2 254.6h0.75v0.75h-0.75zM65.6 263.6h0.75v0.75h-0.75zM56.8 242.2h0.75v0.75h-0.75zM64.2 257.9h0.75v0.75h-0.75zM70.0 249.5h0.75v0.75h-0.75zM55.5 255.7h0.75v0.75h-0.75zM37.7 250.4h0.75v0.75h-0.75zM45.8 248.7h0.75v0.75h-0.75zM54.3 267.3h0.75v0.75h-0.75zM65.7 244.9h0.75v0.75h-0.75zM50.7 279.4h0.75v0.75h-0.75zM65.0 256.2h0.75v0.75h-0.75zM62.8 274.3h0.75v0.75h-0.75zM45.2 244.3h0.75v0.75h-0.75zM64.4 267.2h0.75v0.75h-0.75zM70.0 257.1h0.75v0.75h-0.75zM47.2 274.9h0.75v0.75h-0.75zM41.0 262.5h0.75v0.75h-0.75zM41.7 262.4h0.75v0.75h-0.75zM69.0 266.7h0.75v0.75h-0.75zM62.7 257.0h0.75v0.75h-0.75zM63.8 258.2h0.75v0.75h-0.75zM54.6 254.6h0.75v0.75h-0.75zM49.5 244.2h0.75v0.75h-0.75zM72.3 249.8h0.75v0.75h-0.75zM41.3 253.4h0.75v0.75h-0.75zM57.6 256.8h0.75v0.75h-0.75zM59.2 243.7h0.75v0.75h-0.75zM55.3 246.6h0.75v0.75h-0.75zM66.7 251.3h0.75v0.75h-0.75zM50.1 243.7h0.75v0.75h-0.75zM50.0 241.4h0.75v0.75h-0.75zM53.2 239.0h0.75v0.75h-0.75zM48.7 278.0h0.75v0.75h-0.75zM68.4 271.0h0.75v0.75h-0.75zM39.7 259.4h0.75v0.75h-0.75zM42.3 273.3h0.75v0.75h-0.75zM52.3 259.1h0.75v0.75h-0.75zM36.5 258.2h0.75v0.75h-0.75zM70.8 269.3h0.75v0.75h-0.75zM51.8 246.7h0.75v0.75h-0.75zM33.4 254.0h0.75v0.75h-0.75zM47.0 271.3h0.75v0.75h-0.75zM41.7 274.8h0.75v0.75h-0.75zM42.8 274.8h0.75v0.75h-0.75zM48.1 277.0h0.75v0.75h-0.75zM50.7 243.3h0.75v0.75h-0.75zM63.2 252.4h0.75v0.75h-0.75zM42.2 265.6h0.75v0.75h-0.75zM63.8 260.5h0.75v0.75h-0.75zM44.3 275.3h0.75v0.75h-0.75zM45.4 264.5h0.75v0.75h-0.75zM64.2 266.8h0.75v0.75h-0.75zM41.0 270.7h0.75v0.75h-0.75zM60.1 264.1h0.75v0.75h-0.75zM48.8 241.3h0.75v0.75h-0.75zM41.7 251.1h0.75v0.75h-0.75zM38.3 271.8h0.75v0.75h-0.75zM59.1 247.7h0.75v0.75h-0.75zM45.6 242.9h0.75v0.75h-0.75zM67.6 256.8h0.75v0.75h-0.75zM46.4 274.6h0.75v0.75h-0.75zM58.8 242.4h0.75v0.75h-0.75zM41.7 263.8h0.75v0.75h-0.75zM45.6 272.6h0.75v0.75h-0.75zM47.6 268.6h0.75v0.75h-0.75zM57.8 255.9h0.75v0.75h-0.75zM47.3 243.0h0.75v0.75h-0.75zM50.5 250.4h0.75v0.75h-0.75zM37.3 267.9h0.75v0.75h-0.75zM40.8 253.0h0.75v0.75h-0.75zM53.8 245.0h0.75v0.75h-0.75zM62.8 248.1h0.75v0.75h-0.75zM65.4 255.6h0.75v0.75h-0.75zM48.5 269.1h0.75v0.75h-0.75zM54.5 244.1h0.75v0.75h-0.75zM46.3 270.4h0.75v0.75h-0.75zM54.7 260.0h0.75v0.75h-0.75zM51.6 268.8h0.75v0.75h-0.75zM52.2 262.0h0.75v0.75h-0.75zM27.4 256.0h0.75v0.75h-0.75zM66.5 245.7h0.75v0.75h-0.75zM35.2 253.7h0.75v0.75h-0.75zM55.5 273.5h0.75v0.75h-0.75zM45.0 251.5h0.75v0.75h-0.75zM51.3 251.9h0.75v0.75h-0.75zM49.9 263.2h0.75v0.75h-0.75zM41.0 254.4h0.75v0.75h-0.75zM52.8 271.6h0.75v0.75h-0.75zM48.1 265.7h0.75v0.75h-0.75zM54.1 274.2h0.75v0.75h-0.75zM41.7 247.9h0.75v0.75h-0.75zM54.5 246.5h0.75v0.75h-0.75zM67.5 264.5h0.75v0.75h-0.75zM69.7 261.1h0.75v0.75h-0.75zM55.3 268.9h0.75v0.75h-0.75zM38.6 263.0h0.75v0.75h-0.75zM38.5 265.7h0.75v0.75h-0.75zM39.4 258.5h0.75v0.75h-0.75zM56.7 272.9h0.75v0.75h-0.75zM47.5 263.0h0.75v0.75h-0.75zM37.4 247.9h0.75v0.75h-0.75zM60.4 264.1h0.75v0.75h-0.75zM58.4 260.8h0.75v0.75h-0.75zM65.3 271.6h0.75v0.75h-0.75zM68.6 264.2h0.75v0.75h-0.75zM65.4 245.2h0.75v0.75h-0.75zM55.0 264.3h0.75v0.75h-0.75zM43.4 242.2h0.75v0.75h-0.75zM32.9 277.9h0.75v0.75h-0.75zM54.1 277.2h0.75v0.75h-0.75zM63.3 251.7h0.75v0.75h-0.75zM43.8 243.4h0.75v0.75h-0.75zM40.1 272.3h0.75v0.75h-0.75zM38.1 250.5h0.75v0.75h-0.75zM45.2 245.7h0.75v0.75h-0.75zM69.6 269.7h0.75v0.75h-0.75zM51.4 279.1h0.75v0.75h-0.75zM51.9 277.7h0.75v0.75h-0.75zM50.7 243.6h0.75v0.75h-0.75zM43.6 273.3h0.75v0.75h-0.75zM71.4 253.5h0.75v0.75h-0.75zM62.7 273.9h0.75v0.75h-0.75zM40.4 245.0h0.75v0.75h-0.75zM51.1 254.0h0.75v0.75h-0.75zM47.7 262.4h0.75v0.75h-0.75zM40.9 249.2h0.75v0.75h-0.75zM61.7 270.3h0.75v0.75h-0.75zM41.2 263.7h0.75v0.75h-0.75zM45.0 264.0h0.75v0.75h-0.75zM52.6 249.7h0.75v0.75h-0.75zM51.3 245.0h0.75v0.75h-0.75zM72.9 272.9h0.75v0.75h-0.75zM37.7 256.5h0.75v0.75h-0.75zM61.9 269.9h0.75v0.75h-0.75zM56.9 258.3h0.75v0.75h-0.75zM70.4 266.3h0.75v0.75h-0.75zM66.4 271.0h0.75v0.75h-0.75zM58.0 275.1h0.75v0.75h-0.75zM70.6 252.2h0.75v0.75h-0.75zM55.5 246.3h0.75v0.75h-0.75zM62.8 269.8h0.75v0.75h-0.75zM50.2 253.6h0.75v0.75h-0.75zM65.9 268.4h0.75v0.75h-0.75zM70.9 251.0h0.75v0.75h-0.75zM56.2 253.2h0.75v0.75h-0.75zM47.1 269.3h0.75v0.75h-0.75zM56.5 259.9h0.75v0.75h-0.75zM54.8 261.1h0.75v0.75h-0.75zM53.7 277.7h0.75v0.75h-0.75zM49.3 249.5h0.75v0.75h-0.75zM50.3 242.6h0.75v0.75h-0.75zM50.1 266.4h0.75v0.75h-0.75zM40.0 256.9h0.75v0.75h-0.75zM62.2 246.3h0.75v0.75h-0.75zM35.1 254.4h0.75v0.75h-0.75zM36.5 267.0h0.75v0.75h-0.75zM55.6 275.9h0.75v0.75h-0.75zM48.6 246.1h0.75v0.75h-0.75zM38.1 267.2h0.75v0.75h-0.75zM43.9 270.7h0.75v0.75h-0.75zM43.8 263.8h0.75v0.75h-0.75zM57.8 268.9h0.75v0.75h-0.75zM37.1 254.2h0.75v0.75h-0.75zM65.1 261.8h0.75v0.75h-0.75zM69.3 259.9h0.75v0.75h-0.75zM56.4 276.4h0.75v0.75h-0.75zM64.7 256.6h0.75v0.75h-0.75zM49.1 252.3h0.75v0.75h-0.75zM68.6 250.6h0.75v0.75h-0.75zM57.5 244.5h0.75v0.75h-0.75zM46.1 251.6h0.75v0.75h-0.75zM52.8 242.6h0.75v0.75h-0.75zM64.7 247.4h0.75v0.75h-0.75zM58.2 244.3h0.75v0.75h-0.75zM57.2 274.3h0.75v0.75h-0.75zM55.9 260.1h0.75v0.75h-0.75zM56.7 255.7h0.75v0.75h-0.75zM61.0 256.7h0.75v0.75h-0.75zM55.0 276.2h0.75v0.75h-0.75zM60.1 244.6h0.75v0.75h-0.75zM48.5 271.7h0.75v0.75h-0.75zM52.6 257.6h0.75v0.75h-0.75zM45.0 246.1h0.75v0.75h-0.75zM51.6 252.8h0.75v0.75h-0.75zM49.4 247.6h0.75v0.75h-0.75zM43.3 266.6h0.75v0.75h-0.75zM67.5 268.1h0.75v0.75h-0.75zM47.9 238.3h0.75v0.75h-0.75zM67.8 248.4h0.75v0.75h-0.75zM69.8 262.1h0.75v0.75h-0.75zM66.1 248.0h0.75v0.75h-0.75zM63.7 268.8h0.75v0.75h-0.75zM62.7 255.2h0.75v0.75h-0.75zM45.3 262.8h0.75v0.75h-0.75zM66.6 258.5h0.75v0.75h-0.75zM48.2 250.7h0.75v0.75h-0.75zM52.4 267.4h0.75v0.75h-0.75zM56.1 246.3h0.75v0.75h-0.75zM63.9 255.5h0.75v0.75h-0.75zM40.9 270.6h0.75v0.75h-0.75zM49.5 265.0h0.75v0.75h-0.75zM40.8 259.6h0.75v0.75h-0.75zM71.7 260.1h0.75v0.75h-0.75zM49.5 271.2h0.75v0.75h-0.75zM50.9 245.0h0.75v0.75h-0.75zM69.3 247.7h0.75v0.75h-0.75zM61.4 253.1h0.75v0.75h-0.75zM36.0 251.1h0.75v0.75h-0.75zM51.3 248.8h0.75v0.75h-0.75zM51.7 242.1h0.75v0.75h-0.75zM46.9 252.6h0.75v0.75h-0.75zM66.3 248.2h0.75v0.75h-0.75zM48.5 251.5h0.75v0.75h-0.75zM68.4 255.3h0.75v0.75h-0.75zM68.8 257.7h0.75v0.75h-0.75zM55.0 261.3h0.75v0.75h-0.75zM44.1 276.3h0.75v0.75h-0.75zM58.2 238.2h0.75v0.75h-0.75zM50.1 250.5h0.75v0.75h-0.75zM64.1 273.6h0.75v0.75h-0.75zM66.6 269.4h0.75v0.75h-0.75zM48.0 263.5h0.75v0.75h-0.75zM31.9 254.9h0.75v0.75h-0.75zM63.1 262.9h0.75v0.75h-0.75zM59.4 254.2h0.75v0.75h-0.75zM67.9 258.0h0.75v0.75h-0.75zM64.9 272.7h0.75v0.75h-0.75zM53.6 265.4h0.75v0.75h-0.75zM44.9 280.1h0.75v0.75h-0.75zM60.6 259.5h0.75v0.75h-0.75zM38.9 248.6h0.75v0.75h-0.75zM65.6 249.8h0.75v0.75h-0.75zM38.8 264.3h0.75v0.75h-0.75zM52.6 261.3h0.75v0.75h-0.75zM63.8 274.5h0.75v0.75h-0.75zM61.4 278.3h0.75v0.75h-0.75zM32.5 248.4h0.75v0.75h-0.75zM59.8 250.4h0.75v0.75h-0.75zM56.1 270.7h0.75v0.75h-0.75zM71.0 269.6h0.75v0.75h-0.75zM57.1 253.4h0.75v0.75h-0.75zM57.1 255.6h0.75v0.75h-0.75zM46.5 276.7h0.75v0.75h-0.75zM59.2 270.4h0.75v0.75h-0.75zM47.2 263.2h0.75v0.75h-0.75zM55.8 242.3h0.75v0.75h-0.75zM54.6 278.3h0.75v0.75h-0.75zM47.7 250.5h0.75v0.75h-0.75zM61.5 276.1h0.75v0.75h-0.75zM69.5 258.8h0.75v0.75h-0.75zM61.3 275.7h0.75v0.75h-0.75zM47.0 271.6h0.75v0.75h-0.75zM65.6 255.8h0.75v0.75h-0.75zM57.6 248.3h0.75v0.75h-0.75zM48.9 274.1h0.75v0.75h-0.75zM49.1 247.7h0.75v0.75h-0.75zM47.6 269.9h0.75v0.75h-0.75zM36.9 257.2h0.75v0.75h-0.75zM57.1 265.7h0.75v0.75h-0.75zM41.0 266.6h0.75v0.75h-0.75zM44.2 257.9h0.75v0.75h-0.75zM57.9 278.1h0.75v0.75h-0.75zM53.6 236.5h0.75v0.75h-0.75zM58.1 253.8h0.75v0.75h-0.75zM58.7 260.3h0.75v0.75h-0.75zM53.8 271.8h0.75v0.75h-0.75zM49.1 273.8h0.75v0.75h-0.75zM45.0 248.6h0.75v0.75h-0.75zM52.3 272.9h0.75v0.75h-0.75zM42.1 268.9h0.75v0.75h-0.75zM60.7 270.2h0.75v0.75h-0.75zM36.3 252.1h0.75v0.75h-0.75zM55.1 266.2h0.75v0.75h-0.75zM54.8 275.8h0.75v0.75h-0.75zM62.6 258.5h0.75v0.75h-0.75zM72.3 258.2h0.75v0.75h-0.75zM66.9 249.2h0.75v0.75h-0.75zM51.6 274.0h0.75v0.75h-0.75zM47.0 250.8h0.75v0.75h-0.75zM59.8 277.1h0.75v0.75h-0.75zM51.4 270.5h0.75v0.75h-0.75zM39.2 263.3h0.75v0.75h-0.75zM54.1 271.0h0.75v0.75h-0.75zM70.8 255.2h0.75v0.75h-0.75zM45.0 259.7h0.75v0.75h-0.75zM56.5 268.4h0.75v0.75h-0.75zM61.1 270.9h0.75v0.75h-0.75zM52.1 258.2h0.75v0.75h-0.75zM51.9 264.4h0.75v0.75h-0.75zM58.2 243.1h0.75v0.75h-0.75zM39.4 267.4h0.75v0.75h-0.75zM50.4 248.0h0.75v0.75h-0.75zM52.5 277.9h0.75v0.75h-0.75zM47.1 247.4h0.75v0.75h-0.75zM55.5 241.1h0.75v0.75h-0.75zM46.6 244.7h0.75v0.75h-0.75zM43.6 267.5h0.75v0.75h-0.75zM39.4 243.4h0.75v0.75h-0.75zM42.7 260.2h0.75v0.75h-0.75zM60.1 265.0h0.75v0.75h-0.75zM55.6 243.7h0.75v0.75h-0.75zM46.9 247.8h0.75v0.75h-0.75zM68.9 252.8h0.75v0.75h-0.75zM37.9 265.7h0.75v0.75h-0.75zM53.8 246.3h0.75v0.75h-0.75zM55.0 251.7h0.75v0.75h-0.75zM46.9 250.1h0.75v0.75h-0.75zM47.6 257.7h0.75v0.75h-0.75zM47.1 246.3h0.75v0.75h-0.75zM54.7 260.7h0.75v0.75h-0.75zM50.7 268.1h0.75v0.75h-0.75zM47.9 262.2h0.75v0.75h-0.75zM60.7 251.5h0.75v0.75h-0.75zM68.3 277.6h0.75v0.75h-0.75zM54.0 249.5h0.75v0.75h-0.75zM58.4 271.2h0.75v0.75h-0.75zM49.3 252.7h0.75v0.75h-0.75zM59.4 239.7h0.75v0.75h-0.75zM61.5 235.6h0.75v0.75h-0.75zM66.7 263.9h0.75v0.75h-0.75zM57.6 268.2h0.75v0.75h-0.75zM53.7 272.4h0.75v0.75h-0.75zM58.8 258.9h0.75v0.75h-0.75zM57.7 250.6h0.75v0.75h-0.75zM53.9 274.0h0.75v0.75h-0.75zM74.5 254.7h0.75v0.75h-0.75zM53.4 240.7h0.75v0.75h-0.75zM53.7 273.2h0.75v0.75h-0.75zM44.9 254.9h0.75v0.75h-0.75zM59.9 257.9h0.75v0.75h-0.75zM76.9 259.7h0.75v0.75h-0.75zM37.8 261.8h0.75v0.75h-0.75zM73.2 260.1h0.75v0.75h-0.75zM49.2 244.2h0.75v0.75h-0.75zM59.9 273.2h0.75v0.75h-0.75zM65.9 247.8h0.75v0.75h-0.75zM54.7 253.6h0.75v0.75h-0.75zM67.8 245.7h0.75v0.75h-0.75zM67.8 270.8h0.75v0.75h-0.75zM49.0 267.6h0.75v0.75h-0.75zM36.1 265.0h0.75v0.75h-0.75zM35.5 263.0h0.75v0.75h-0.75zM73.7 264.6h0.75v0.75h-0.75zM35.0 261.4h0.75v0.75h-0.75zM58.7 253.8h0.75v0.75h-0.75zM33.6 269.0h0.75v0.75h-0.75zM52.2 245.0h0.75v0.75h-0.75zM49.1 252.7h0.75v0.75h-0.75zM60.3 264.9h0.75v0.75h-0.75zM68.1 265.8h0.75v0.75h-0.75zM36.9 262.5h0.75v0.75h-0.75zM45.8 259.1h0.75v0.75h-0.75zM36.7 269.5h0.75v0.75h-0.75zM46.3 261.7h0.75v0.75h-0.75zM66.7 260.9h0.75v0.75h-0.75zM39.2 247.0h0.75v0.75h-0.75zM37.0 253.4h0.75v0.75h-0.75zM70.4 268.2h0.75v0.75h-0.75zM49.9 256.5h0.75v0.75h-0.75zM40.3 246.6h0.75v0.75h-0.75zM48.8 266.2h0.75v0.75h-0.75zM58.3 267.0h0.75v0.75h-0.75zM61.0 270.3h0.75v0.75h-0.75zM61.3 277.5h0.75v0.75h-0.75zM61.1 243.9h0.75v0.75h-0.75zM61.5 256.0h0.75v0.75h-0.75zM53.9 271.5h0.75v0.75h-0.75zM37.5 241.9h0.75v0.75h-0.75zM37.5 246.3h0.75v0.75h-0.75zM65.4 259.8h0.75v0.75h-0.75zM60.2 256.4h0.75v0.75h-0.75zM63.6 253.8h0.75v0.75h-0.75zM67.9 245.5h0.75v0.75h-0.75zM52.0 263.9h0.75v0.75h-0.75zM63.0 271.1h0.75v0.75h-0.75zM53.1 276.7h0.75v0.75h-0.75zM52.1 254.3h0.75v0.75h-0.75zM50.3 257.0h0.75v0.75h-0.75zM63.7 253.5h0.75v0.75h-0.75zM71.5 257.3h0.75v0.75h-0.75zM75.0 256.7h0.75v0.75h-0.75zM61.5 281.6h0.75v0.75h-0.75zM69.8 251.7h0.75v0.75h-0.75zM45.5 250.8h0.75v0.75h-0.75zM56.4 255.2h0.75v0.75h-0.75zM51.7 255.1h0.75v0.75h-0.75zM60.0 232.7h0.75v0.75h-0.75zM45.5 274.0h0.75v0.75h-0.75zM49.5 271.6h0.75v0.75h-0.75zM54.0 268.5h0.75v0.75h-0.75zM59.5 261.3h0.75v0.75h-0.75zM49.4 243.4h0.75v0.75h-0.75zM55.1 257.2h0.75v0.75h-0.75zM55.0 276.4h0.75v0.75h-0.75zM53.4 250.6h0.75v0.75h-0.75zM60.1 257.5h0.75v0.75h-0.75zM48.3 239.4h0.75v0.75h-0.75zM62.4 243.1h0.75v0.75h-0.75zM56.3 261.5h0.75v0.75h-0.75zM53.0 271.1h0.75v0.75h-0.75zM69.4 241.1h0.75v0.75h-0.75zM57.1 260.5h0.75v0.75h-0.75zM58.0 256.6h0.75v0.75h-0.75zM58.3 253.3h0.75v0.75h-0.75zM50.2 265.5h0.75v0.75h-0.75zM53.5 263.0h0.75v0.75h-0.75zM58.1 254.8h0.75v0.75h-0.75zM54.9 269.7h0.75v0.75h-0.75zM62.9 262.8h0.75v0.75h-0.75zM40.0 256.3h0.75v0.75h-0.75zM70.1 245.4h0.75v0.75h-0.75zM46.2 260.6h0.75v0.75h-0.75zM45.7 255.5h0.75v0.75h-0.75zM59.8 261.0h0.75v0.75h-0.75zM67.3 252.2h0.75v0.75h-0.75zM49.6 257.5h0.75v0.75h-0.75zM43.7 269.9h0.75v0.75h-0.75zM46.6 260.6h0.75v0.75h-0.75zM59.0 268.0h0.75v0.75h-0.75zM57.2 246.8h0.75v0.75h-0.75zM67.8 266.5h0.75v0.75h-0.75zM51.7 253.8h0.75v0.75h-0.75zM58.6 242.3h0.75v0.75h-0.75zM72.4 260.1h0.75v0.75h-0.75zM44.7 269.6h0.75v0.75h-0.75zM62.5 251.8h0.75v0.75h-0.75zM54.0 261.9h0.75v0.75h-0.75zM52.9 258.0h0.75v0.75h-0.75zM56.8 249.6h0.75v0.75h-0.75zM48.8 256.8h0.75v0.75h-0.75zM56.7 262.5h0.75v0.75h-0.75zM47.8 262.4h0.75v0.75h-0.75zM54.2 242.3h0.75v0.75h-0.75zM50.1 257.9h0.75v0.75h-0.75zM49.2 260.8h0.75v0.75h-0.75zM42.5 271.1h0.75v0.75h-0.75zM55.1 265.0h0.75v0.75h-0.75zM50.3 249.7h0.75v0.75h-0.75zM61.9 246.4h0.75v0.75h-0.75zM55.1 280.0h0.75v0.75h-0.75zM42.0 258.0h0.75v0.75h-0.75zM64.2 253.1h0.75v0.75h-0.75zM65.5 235.2h0.75v0.75h-0.75zM61.7 253.2h0.75v0.75h-0.75zM53.0 268.3h0.75v0.75h-0.75zM64.0 257.2h0.75v0.75h-0.75zM36.6 264.5h0.75v0.75h-0.75zM62.7 245.7h0.75v0.75h-0.75zM40.6 251.2h0.75v0.75h-0.75zM56.6 243.5h0.75v0.75h-0.75zM44.9 255.0h0.75v0.75h-0.75zM71.1 262.6h0.75v0.75h-0.75zM46.9 275.5h0.75v0.75h-0.75zM51.0 259.2h0.75v0.75h-0.75zM48.8 266.8h0.75v0.75h-0.75zM65.2 246.9h0.75v0.75h-0.75zM69.2 249.1h0.75v0.75h-0.75zM65.6 270.0h0.75v0.75h-0.75zM62.7 268.5h0.75v0.75h-0.75zM67.1 254.0h0.75v0.75h-0.75zM51.1 234.2h0.75v0.75h-0.75zM59.8 261.8h0.75v0.75h-0.75zM57.0 272.6h0.75v0.75h-0.75zM51.2 261.4h0.75v0.75h-0.75zM69.5 254.2h0.75v0.75h-0.75zM65.5 245.1h0.75v0.75h-0.75zM48.9 262.9h0.75v0.75h-0.75zM59.8 261.8h0.75v0.75h-0.75zM51.5 253.3h0.75v0.75h-0.75zM41.2 260.9h0.75v0.75h-0.75zM56.6 259.9h0.75v0.75h-0.75zM55.0 261.6h0.75v0.75h-0.75zM38.8 264.8h0.75v0.75h-0.75zM58.8 278.5h0.75v0.75h-0.75zM65.3 250.0h0.75v0.75h-0.75zM69.4 235.0h0.75v0.75h-0.75zM57.8 257.2h0.75v0.75h-0.75zM72.8 234.7h0.75v0.75h-0.75zM55.2 263.9h0.75v0.75h-0.75zM63.8 251.4h0.75v0.75h-0.75zM62.4 233.7h0.75v0.75h-0.75zM35.1 260.1h0.75v0.75h-0.75zM59.6 268.2h0.75v0.75h-0.75zM60.4 237.1h0.75v0.75h-0.75zM52.5 247.0h0.75v0.75h-0.75zM75.5 230.8h0.75v0.75h-0.75zM39.3 254.5h0.75v0.75h-0.75zM55.4 276.6h0.75v0.75h-0.75zM59.9 259.8h0.75v0.75h-0.75zM54.0 261.1h0.75v0.75h-0.75zM49.5 262.2h0.75v0.75h-0.75zM59.4 246.4h0.75v0.75h-0.75zM56.9 265.4h0.75v0.75h-0.75zM60.5 252.8h0.75v0.75h-0.75zM59.3 266.1h0.75v0.75h-0.75zM51.8 254.8h0.75v0.75h-0.75zM53.8 271.4h0.75v0.75h-0.75zM52.9 280.4h0.75v0.75h-0.75zM52.7 266.0h0.75v0.75h-0.75zM43.2 237.9h0.75v0.75h-0.75zM71.4 257.2h0.75v0.75h-0.75zM48.2 245.8h0.75v0.75h-0.75zM64.7 248.6h0.75v0.75h-0.75zM65.6 242.9h0.75v0.75h-0.75zM62.6 253.2h0.75v0.75h-0.75zM62.1 262.1h0.75v0.75h-0.75zM48.6 281.8h0.75v0.75h-0.75zM45.9 275.5h0.75v0.75h-0.75zM63.5 258.9h0.75v0.75h-0.75zM39.4 268.0h0.75v0.75h-0.75zM54.5 260.2h0.75v0.75h-0.75zM76.5 247.6h0.75v0.75h-0.75zM58.6 251.0h0.75v0.75h-0.75zM68.8 262.8h0.75v0.75h-0.75zM69.3 259.0h0.75v0.75h-0.75zM78.1 266.0h0.75v0.75h-0.75zM61.1 270.3h0.75v0.75h-0.75zM58.3 260.3h0.75v0.75h-0.75zM56.5 256.1h0.75v0.75h-0.75zM50.9 256.1h0.75v0.75h-0.75zM48.1 246.0h0.75v0.75h-0.75zM46.5 233.1h0.75v0.75h-0.75zM52.6 263.8h0.75v0.75h-0.75zM59.0 262.5h0.75v0.75h-0.75zM28.7 262.3h0.75v0.75h-0.75zM57.6 262.8h0.75v0.75h-0.75zM44.7 262.4h0.75v0.75h-0.75zM63.9 253.1h0.75v0.75h-0.75zM41.3 246.9h0.75v0.75h-0.75zM59.5 260.0h0.75v0.75h-0.75zM44.6 267.8h0.75v0.75h-0.75zM47.8 253.7h0.75v0.75h-0.75zM62.9 255.6h0.75v0.75h-0.75zM52.2 247.2h0.75v0.75h-0.75zM57.5 294.3h0.75v0.75h-0.75zM45.8 256.8h0.75v0.75h-0.75zM38.6 271.0h0.75v0.75h-0.75zM49.9 260.6h0.75v0.75h-0.75zM54.6 257.5h0.75v0.75h-0.75zM61.1 256.3h0.75v0.75h-0.75zM55.0 260.6h0.75v0.75h-0.75zM65.7 263.5h0.75v0.75h-0.75zM55.6 255.3h0.75v0.75h-0.75zM66.8 244.2h0.75v0.75h-0.75zM58.7 275.8h0.75v0.75h-0.75zM58.5 254.8h0.75v0.75h-0.75zM40.5 255.7h0.75v0.75h-0.75zM58.4 256.7h0.75v0.75h-0.75zM51.9 260.4h0.75v0.75h-0.75zM60.4 249.1h0.75v0.75h-0.75zM44.1 250.9h0.75v0.75h-0.75zM47.8 283.7h0.75v0.75h-0.75zM44.0 234.8h0.75v0.75h-0.75zM65.3 250.6h0.75v0.75h-0.75zM42.3 245.4h0.75v0.75h-0.75zM62.1 249.6h0.75v0.75h-0.75zM51.1 251.3h0.75v0.75h-0.75zM38.5 279.2h0.75v0.75h-0.75zM55.0 255.6h0.75v0.75h-0.75zM60.1 256.0h0.75v0.75h-0.75zM70.8 271.2h0.75v0.75h-0.75zM55.6 263.3h0.75v0.75h-0.75zM59.2 268.3h0.75v0.75h-0.75zM59.8 261.8h0.75v0.75h-0.75zM53.6 264.3h0.75v0.75h-0.75zM44.3 273.1h0.75v0.75h-0.75zM55.8 249.7h0.75v0.75h-0.75zM62.7 250.5h0.75v0.75h-0.75zM59.9 274.4h0.75v0.75h-0.75zM42.1 272.6h0.75v0.75h-0.75zM53.3 251.9h0.75v0.75h-0.75zM43.5 269.6h0.75v0.75h-0.75zM52.5 257.5h0.75v0.75h-0.75zM49.7 254.6h0.75v0.75h-0.75zM36.6 260.4h0.75v0.75h-0.75zM47.7 262.4h0.75v0.75h-0.75zM50.3 256.5h0.75v0.75h-0.75zM65.6 250.1h0.75v0.75h-0.75zM47.8 257.9h0.75v0.75h-0.75zM49.8 251.8h0.75v0.75h-0.75zM58.6 257.7h0.75v0.75h-0.75zM49.9 255.8h0.75v0.75h-0.75zM47.2 267.1h0.75v0.75h-0.75zM55.3 257.3h0.75v0.75h-0.75zM77.4 249.7h0.75v0.75h-0.75zM54.6 274.1h0.75v0.75h-0.75zM65.1 264.6h0.75v0.75h-0.75zM59.5 262.1h0.75v0.75h-0.75zM71.6 237.0h0.75v0.75h-0.75zM41.8 253.5h0.75v0.75h-0.75zM40.2 246.8h0.75v0.75h-0.75zM37.8 255.1h0.75v0.75h-0.75zM54.4 262.2h0.75v0.75h-0.75zM62.2 254.0h0.75v0.75h-0.75zM60.2 269.2h0.75v0.75h-0.75zM52.9 254.4h0.75v0.75h-0.75zM45.0 260.2h0.75v0.75h-0.75zM40.3 267.6h0.75v0.75h-0.75zM57.1 254.4h0.75v0.75h-0.75zM66.6 250.4h0.75v0.75h-0.75zM72.2 265.6h0.75v0.75h-0.75zM58.4 246.2h0.75v0.75h-0.75zM48.7 258.9h0.75v0.75h-0.75zM45.4 256.2h0.75v0.75h-0.75zM62.7 259.7h0.75v0.75h-0.75zM51.2 257.3h0.75v0.75h-0.75zM74.3 242.5h0.75v0.75h-0.75zM54.6 253.6h0.75v0.75h-0.75zM60.8 257.2h0.75v0.75h-0.75zM70.7 246.1h0.75v0.75h-0.75zM67.3 255.1h0.75v0.75h-0.75zM67.5 246.5h0.75v0.75h-0.75zM52.6 254.0h0.75v0.75h-0.75zM44.0 254.4h0.75v0.75h-0.75zM62.3 256.0h0.75v0.75h-0.75zM70.2 259.6h0.75v0.75h-0.75zM59.0 249.8h0.75v0.75h-0.75zM60.1 249.7h0.75v0.75h-0.75zM57.1 264.9h0.75v0.75h-0.75zM69.0 252.1h0.75v0.75h-0.75zM45.7 252.1h0.75v0.75h-0.75zM66.0 251.6h0.75v0.75h-0.75zM51.4 269.2h0.75v0.75h-0.75zM61.3 261.4h0.75v0.75h-0.75zM65.0 264.2h0.75v0.75h-0.75zM52.7 270.5h0.75v0.75h-0.75zM67.3 260.2h0.75v0.75h-0.75zM36.8 251.4h0.75v0.75h-0.75zM41.1 258.3h0.75v0.75h-0.75zM48.0 268.8h0.75v0.75h-0.75zM48.9 252.3h0.75v0.75h-0.75zM46.8 263.1h0.75v0.75h-0.75zM43.0 244.5h0.75v0.75h-0.75zM43.4 257.1h0.75v0.75h-0.75zM64.5 255.6h0.75v0.75h-0.75zM67.8 247.1h0.75v0.75h-0.75zM57.3 251.2h0.75v0.75h-0.75zM42.8 265.0h0.75v0.75h-0.75zM58.4 259.1h0.75v0.75h-0.75zM60.5 293.9h0.75v0.75h-0.75zM51.8 263.8h0.75v0.75h-0.75zM70.5 250.9h0.75v0.75h-0.75zM74.7 249.0h0.75v0.75h-0.75zM31.3 253.1h0.75v0.75h-0.75zM67.8 254.9h0.75v0.75h-0.75zM59.1 278.3h0.75v0.75h-0.75zM51.3 233.7h0.75v0.75h-0.75zM55.5 265.0h0.75v0.75h-0.75zM49.1 277.0h0.75v0.75h-0.75zM50.7 258.0h0.75v0.75h-0.75zM55.8 250.5h0.75v0.75h-0.75zM60.3 259.4h0.75v0.75h-0.75zM46.6 285.6h0.75v0.75h-0.75zM56.1 252.8h0.75v0.75h-0.75zM53.4 263.5h0.75v0.75h-0.75zM65.0 253.3h0.75v0.75h-0.75zM58.2 265.4h0.75v0.75h-0.75zM57.1 252.2h0.75v0.75h-0.75zM78.7 257.2h0.75v0.75h-0.75zM58.2 263.3h0.75v0.75h-0.75zM72.5 254.8h0.75v0.75h-0.75zM52.7 255.1h0.75v0.75h-0.75zM54.9 263.2h0.75v0.75h-0.75zM69.7 257.6h0.75v0.75h-0.75zM57.9 260.4h0.75v0.75h-0.75zM72.5 240.6h0.75v0.75h-0.75zM51.1 250.5h0.75v0.75h-0.75zM47.4 264.7h0.75v0.75h-0.75zM54.4 236.2h0.75v0.75h-0.75zM57.8 269.1h0.75v0.75h-0.75zM69.5 244.2h0.75v0.75h-0.75zM48.0 260.0h0.75v0.75h-0.75zM40.9 256.3h0.75v0.75h-0.75zM35.2 271.6h0.75v0.75h-0.75zM61.1 255.3h0.75v0.75h-0.75zM54.0 262.6h0.75v0.75h-0.75zM64.7 275.5h0.75v0.75h-0.75zM46.2 255.4h0.75v0.75h-0.75zM53.7 283.1h0.75v0.75h-0.75zM45.4 259.7h0.75v0.75h-0.75zM31.2 246.3h0.75v0.75h-0.75zM79.0 259.7h0.75v0.75h-0.75zM51.9 252.5h0.75v0.75h-0.75zM59.9 265.8h0.75v0.75h-0.75zM67.1 251.9h0.75v0.75h-0.75zM65.1 268.7h0.75v0.75h-0.75zM52.7 261.6h0.75v0.75h-0.75zM58.3 253.6h0.75v0.75h-0.75zM42.0 257.3h0.75v0.75h-0.75zM64.2 269.0h0.75v0.75h-0.75zM35.4 268.0h0.75v0.75h-0.75zM38.0 255.5h0.75v0.75h-0.75zM58.6 252.2h0.75v0.75h-0.75zM61.1 257.9h0.75v0.75h-0.75zM60.4 252.9h0.75v0.75h-0.75zM50.0 247.3h0.75v0.75h-0.75zM60.1 289.8h0.75v0.75h-0.75zM55.9 294.0h0.75v0.75h-0.75zM59.8 277.8h0.75v0.75h-0.75zM67.2 242.3h0.75v0.75h-0.75zM62.9 240.4h0.75v0.75h-0.75zM61.1 260.3h0.75v0.75h-0.75zM53.1 248.0h0.75v0.75h-0.75zM57.4 268.2h0.75v0.75h-0.75zM63.5 239.8h0.75v0.75h-0.75zM51.5 270.6h0.75v0.75h-0.75zM65.3 238.4h0.75v0.75h-0.75zM57.5 274.5h0.75v0.75h-0.75zM64.7 250.2h0.75v0.75h-0.75zM53.2 267.7h0.75v0.75h-0.75zM53.2 243.6h0.75v0.75h-0.75zM64.7 243.3h0.75v0.75h-0.75zM58.5 256.3h0.75v0.75h-0.75zM56.3 247.9h0.75v0.75h-0.75zM68.4 255.6h0.75v0.75h-0.75zM48.2 246.8h0.75v0.75h-0.75zM58.7 258.0h0.75v0.75h-0.75zM83.6 238.8h0.75v0.75h-0.75zM45.1 257.2h0.75v0.75h-0.75zM50.4 261.2h0.75v0.75h-0.75zM63.4 232.5h0.75v0.75h-0.75zM51.4 256.9h0.75v0.75h-0.75zM51.3 247.4h0.75v0.75h-0.75zM63.2 246.2h0.75v0.75h-0.75zM48.6 265.1h0.75v0.75h-0.75zM64.3 267.0h0.75v0.75h-0.75zM56.0 244.3h0.75v0.75h-0.75zM43.6 254.3h0.75v0.75h-0.75zM46.4 273.7h0.75v0.75h-0.75zM64.9 265.5h0.75v0.75h-0.75zM62.8 237.0h0.75v0.75h-0.75zM50.9 278.8h0.75v0.75h-0.75zM54.4 256.8h0.75v0.75h-0.75zM60.5 237.8h0.75v0.75h-0.75zM61.4 255.1h0.75v0.75h-0.75zM66.2 241.8h0.75v0.75h-0.75zM55.4 254.1h0.75v0.75h-0.75zM45.3 262.5h0.75v0.75h-0.75zM72.2 261.5h0.75v0.75h-0.75zM50.2 258.3h0.75v0.75h-0.75zM56.1 250.6h0.75v0.75h-0.75zM52.0 253.0h0.75v0.75h-0.75zM67.8 261.2h0.75v0.75h-0.75zM45.8 234.2h0.75v0.75h-0.75zM58.0 259.4h0.75v0.75h-0.75zM53.6 234.2h0.75v0.75h-0.75zM64.8 258.1h0.75v0.75h-0.75zM57.7 251.9h0.75v0.75h-0.75zM53.3 253.0h0.75v0.75h-0.75zM55.0 269.0h0.75v0.75h-0.75zM51.7 256.4h0.75v0.75h-0.75zM48.3 253.5h0.75v0.75h-0.75zM45.2 255.8h0.75v0.75h-0.75zM56.6 267.4h0.75v0.75h-0.75zM82.1 263.6h0.75v0.75h-0.75zM56.9 258.3h0.75v0.75h-0.75zM36.0 251.8h0.75v0.75h-0.75zM53.1 273.5h0.75v0.75h-0.75zM57.2 267.7h0.75v0.75h-0.75zM50.0 253.9h0.75v0.75h-0.75zM57.0 257.7h0.75v0.75h-0.75zM44.8 262.7h0.75v0.75h-0.75zM48.1 253.3h0.75v0.75h-0.75zM41.5 264.2h0.75v0.75h-0.75zM61.6 258.0h0.75v0.75h-0.75zM67.4 275.4h0.75v0.75h-0.75zM63.8 259.6h0.75v0.75h-0.75zM65.8 245.4h0.75v0.75h-0.75zM61.0 245.6h0.75v0.75h-0.75zM56.9 253.2h0.75v0.75h-0.75zM51.8 247.0h0.75v0.75h-0.75zM53.9 255.9h0.75v0.75h-0.75zM48.7 254.3h0.75v0.75h-0.75zM46.9 261.6h0.75v0.75h-0.75zM58.0 272.3h0.75v0.75h-0.75zM58.8 246.6h0.75v0.75h-0.75zM59.2 252.0h0.75v0.75h-0.75zM67.9 236.5h0.75v0.75h-0.75zM64.7 252.9h0.75v0.75h-0.75zM70.1 244.1h0.75v0.75h-0.75zM62.9 241.6h0.75v0.75h-0.75zM63.1 246.4h0.75v0.75h-0.75zM58.3 263.6h0.75v0.75h-0.75zM66.1 265.0h0.75v0.75h-0.75zM60.1 263.8h0.75v0.75h-0.75zM47.2 269.9h0.75v0.75h-0.75zM59.1 250.3h0.75v0.75h-0.75zM44.5 255.1h0.75v0.75h-0.75zM46.9 240.2h0.75v0.75h-0.75zM62.6 253.2h0.75v0.75h-0.75zM55.7 256.6h0.75v0.75h-0.75zM58.6 266.7h0.75v0.75h-0.75zM44.3 255.9h0.75v0.75h-0.75zM67.3 244.2h0.75v0.75h-0.75zM55.1 260.6h0.75v0.75h-0.75zM50.7 278.1h0.75v0.75h-0.75zM60.2 264.7h0.75v0.75h-0.75zM57.8 250.6h0.75v0.75h-0.75zM53.3 253.4h0.75v0.75h-0.75zM61.9 256.3h0.75v0.75h-0.75zM52.8 250.7h0.75v0.75h-0.75zM41.5 261.8h0.75v0.75h-0.75zM61.5 257.7h0.75v0.75h-0.75zM55.1 260.4h0.75v0.75h-0.75zM71.7 238.0h0.75v0.75h-0.75zM59.0 236.2h0.75v0.75h-0.75zM69.8 254.9h0.75v0.75h-0.75zM58.2 244.9h0.75v0.75h-0.75zM55.2 256.3h0.75v0.75h-0.75zM50.2 235.4h0.75v0.75h-0.75zM52.7 253.2h0.75v0.75h-0.75zM56.2 245.7h0.75v0.75h-0.75zM53.8 263.5h0.75v0.75h-0.75zM72.0 268.9h0.75v0.75h-0.75zM43.9 280.8h0.75v0.75h-0.75zM52.8 248.0h0.75v0.75h-0.75zM43.7 265.7h0.75v0.75h-0.75zM60.4 270.7h0.75v0.75h-0.75zM61.0 265.5h0.75v0.75h-0.75zM50.0 264.0h0.75v0.75h-0.75zM67.1 260.2h0.75v0.75h-0.75zM62.5 254.7h0.75v0.75h-0.75zM56.5 263.2h0.75v0.75h-0.75zM61.8 238.4h0.75v0.75h-0.75zM56.4 234.5h0.75v0.75h-0.75zM70.2 233.1h0.75v0.75h-0.75zM62.2 242.1h0.75v0.75h-0.75zM62.6 244.9h0.75v0.75h-0.75zM71.3 238.0h0.75v0.75h-0.75zM56.5 234.7h0.75v0.75h-0.75zM59.7 243.8h0.75v0.75h-0.75zM58.2 231.0h0.75v0.75h-0.75zM60.0 243.4h0.75v0.75h-0.75zM66.4 238.8h0.75v0.75h-0.75zM59.2 232.1h0.75v0.75h-0.75zM58.6 234.1h0.75v0.75h-0.75zM53.7 228.0h0.75v0.75h-0.75zM55.8 235.9h0.75v0.75h-0.75zM59.4 232.3h0.75v0.75h-0.75zM56.4 238.2h0.75v0.75h-0.75zM48.1 242.4h0.75v0.75h-0.75zM57.3 244.5h0.75v0.75h-0.75zM60.5 245.5h0.75v0.75h-0.75zM70.7 237.0h0.75v0.75h-0.75zM65.9 242.3h0.75v0.75h-0.75zM69.8 239.5h0.75v0.75h-0.75zM58.1 233.7h0.75v0.75h-0.75zM64.8 246.1h0.75v0.75h-0.75zM59.3 238.5h0.75v0.75h-0.75zM62.0 232.5h0.75v0.75h-0.75zM52.0 234.7h0.75v0.75h-0.75zM54.7 236.3h0.75v0.75h-0.75zM53.7 235.7h0.75v0.75h-0.75zM70.1 235.5h0.75v0.75h-0.75zM62.2 229.6h0.75v0.75h-0.75zM66.7 235.6h0.75v0.75h-0.75zM64.3 240.7h0.75v0.75h-0.75zM60.9 245.4h0.75v0.75h-0.75zM70.1 231.2h0.75v0.75h-0.75zM60.3 247.3h0.75v0.75h-0.75zM54.5 245.4h0.75v0.75h-0.75zM60.7 232.2h0.75v0.75h-0.75zM59.1 246.3h0.75v0.75h-0.75zM64.2 244.1h0.75v0.75h-0.75zM52.5 242.8h0.75v0.75h-0.75zM56.5 236.0h0.75v0.75h-0.75zM72.3 238.2h0.75v0.75h-0.75zM72.9 238.4h0.75v0.75h-0.75zM64.5 241.1h0.75v0.75h-0.75zM71.8 231.6h0.75v0.75h-0.75zM72.9 237.2h0.75v0.75h-0.75zM59.5 243.5h0.75v0.75h-0.75zM55.2 245.7h0.75v0.75h-0.75zM54.4 230.3h0.75v0.75h-0.75zM61.4 233.8h0.75v0.75h-0.75zM52.3 241.3h0.75v0.75h-0.75zM54.8 248.2h0.75v0.75h-0.75zM66.4 248.7h0.75v0.75h-0.75zM65.0 233.8h0.75v0.75h-0.75zM63.2 240.1h0.75v0.75h-0.75zM70.2 238.9h0.75v0.75h-0.75zM59.1 247.1h0.75v0.75h-0.75zM54.3 236.9h0.75v0.75h-0.75zM63.1 232.0h0.75v0.75h-0.75zM65.4 236.7h0.75v0.75h-0.75zM61.9 247.3h0.75v0.75h-0.75zM52.6 238.7h0.75v0.75h-0.75zM56.4 230.6h0.75v0.75h-0.75zM68.1 234.1h0.75v0.75h-0.75zM56.4 232.9h0.75v0.75h-0.75zM55.8 236.0h0.75v0.75h-0.75zM69.0 242.7h0.75v0.75h-0.75zM53.0 248.9h0.75v0.75h-0.75zM56.2 235.0h0.75v0.75h-0.75zM50.9 237.2h0.75v0.75h-0.75zM54.9 243.4h0.75v0.75h-0.75zM55.9 241.5h0.75v0.75h-0.75zM68.9 242.4h0.75v0.75h-0.75zM51.7 241.3h0.75v0.75h-0.75zM65.8 245.4h0.75v0.75h-0.75zM50.6 241.1h0.75v0.75h-0.75zM67.2 233.3h0.75v0.75h-0.75zM66.2 238.1h0.75v0.75h-0.75zM55.1 227.5h0.75v0.75h-0.75zM59.3 234.9h0.75v0.75h-0.75zM70.3 240.8h0.75v0.75h-0.75zM66.7 235.6h0.75v0.75h-0.75zM60.1 242.7h0.75v0.75h-0.75zM65.0 239.3h0.75v0.75h-0.75zM53.7 238.4h0.75v0.75h-0.75zM58.8 233.9h0.75v0.75h-0.75zM59.7 235.2h0.75v0.75h-0.75zM54.0 230.5h0.75v0.75h-0.75zM67.3 243.2h0.75v0.75h-0.75zM55.3 234.4h0.75v0.75h-0.75zM57.5 240.8h0.75v0.75h-0.75zM50.7 233.9h0.75v0.75h-0.75zM61.2 244.4h0.75v0.75h-0.75zM57.4 238.3h0.75v0.75h-0.75zM68.2 236.7h0.75v0.75h-0.75zM61.9 243.5h0.75v0.75h-0.75zM62.3 227.7h0.75v0.75h-0.75zM54.9 241.4h0.75v0.75h-0.75zM62.8 237.1h0.75v0.75h-0.75zM66.1 235.2h0.75v0.75h-0.75zM60.5 243.7h0.75v0.75h-0.75zM65.0 236.0h0.75v0.75h-0.75zM54.8 240.6h0.75v0.75h-0.75zM67.9 234.7h0.75v0.75h-0.75zM66.5 239.6h0.75v0.75h-0.75zM67.0 240.1h0.75v0.75h-0.75zM57.6 232.7h0.75v0.75h-0.75zM62.5 246.9h0.75v0.75h-0.75zM65.8 236.0h0.75v0.75h-0.75zM62.8 237.2h0.75v0.75h-0.75zM64.6 241.5h0.75v0.75h-0.75zM65.4 247.7h0.75v0.75h-0.75zM66.4 230.7h0.75v0.75h-0.75zM66.1 237.1h0.75v0.75h-0.75zM66.2 239.8h0.75v0.75h-0.75zM52.9 242.7h0.75v0.75h-0.75zM55.5 246.5h0.75v0.75h-0.75zM58.8 246.8h0.75v0.75h-0.75zM70.5 241.3h0.75v0.75h-0.75zM63.0 240.3h0.75v0.75h-0.75zM65.8 239.5h0.75v0.75h-0.75zM62.2 239.7h0.75v0.75h-0.75zM67.9 232.0h0.75v0.75h-0.75zM57.9 244.1h0.75v0.75h-0.75zM67.5 236.0h0.75v0.75h-0.75zM57.5 246.5h0.75v0.75h-0.75zM64.5 243.8h0.75v0.75h-0.75zM69.4 243.6h0.75v0.75h-0.75zM66.8 246.8h0.75v0.75h-0.75zM53.2 230.7h0.75v0.75h-0.75zM65.6 231.7h0.75v0.75h-0.75zM65.5 239.7h0.75v0.75h-0.75zM67.1 242.0h0.75v0.75h-0.75zM57.3 240.8h0.75v0.75h-0.75zM56.3 242.4h0.75v0.75h-0.75zM55.5 237.9h0.75v0.75h-0.75zM68.5 230.2h0.75v0.75h-0.75zM58.4 231.4h0.75v0.75h-0.75zM50.2 233.1h0.75v0.75h-0.75zM53.5 239.9h0.75v0.75h-0.75zM59.9 245.2h0.75v0.75h-0.75zM69.1 239.2h0.75v0.75h-0.75zM59.6 241.6h0.75v0.75h-0.75zM61.4 246.0h0.75v0.75h-0.75zM55.3 242.4h0.75v0.75h-0.75zM50.1 241.9h0.75v0.75h-0.75zM65.3 232.8h0.75v0.75h-0.75zM59.0 243.0h0.75v0.75h-0.75zM67.8 237.7h0.75v0.75h-0.75zM67.5 223.4h0.75v0.75h-0.75zM68.4 223.3h0.75v0.75h-0.75zM55.4 221.4h0.75v0.75h-0.75zM56.3 226.2h0.75v0.75h-0.75zM59.2 225.6h0.75v0.75h-0.75zM59.3 228.0h0.75v0.75h-0.75zM58.8 222.1h0.75v0.75h-0.75zM63.0 220.6h0.75v0.75h-0.75zM58.5 226.8h0.75v0.75h-0.75zM64.1 224.1h0.75v0.75h-0.75zM61.9 228.4h0.75v0.75h-0.75zM52.7 225.0h0.75v0.75h-0.75zM56.2 223.1h0.75v0.75h-0.75zM63.2 221.9h0.75v0.75h-0.75zM56.5 219.0h0.75v0.75h-0.75zM64.3 223.0h0.75v0.75h-0.75zM65.3 230.9h0.75v0.75h-0.75zM56.9 224.0h0.75v0.75h-0.75zM59.9 227.5h0.75v0.75h-0.75zM58.6 225.0h0.75v0.75h-0.75zM54.9 232.1h0.75v0.75h-0.75zM63.6 227.0h0.75v0.75h-0.75zM57.7 220.7h0.75v0.75h-0.75zM63.6 226.1h0.75v0.75h-0.75zM64.4 227.5h0.75v0.75h-0.75zM58.6 226.8h0.75v0.75h-0.75zM63.2 232.1h0.75v0.75h-0.75zM57.9 229.2h0.75v0.75h-0.75zM65.1 225.3h0.75v0.75h-0.75zM54.4 230.7h0.75v0.75h-0.75zM53.2 222.3h0.75v0.75h-0.75zM59.4 223.6h0.75v0.75h-0.75zM65.8 221.1h0.75v0.75h-0.75zM53.0 224.2h0.75v0.75h-0.75zM49.9 216.5h0.75v0.75h-0.75zM60.7 223.0h0.75v0.75h-0.75zM64.1 230.1h0.75v0.75h-0.75zM54.8 230.1h0.75v0.75h-0.75zM56.2 220.0h0.75v0.75h-0.75zM53.0 224.9h0.75v0.75h-0.75zM52.3 226.5h0.75v0.75h-0.75zM54.7 224.6h0.75v0.75h-0.75zM66.0 229.0h0.75v0.75h-0.75zM57.4 225.9h0.75v0.75h-0.75zM57.5 226.1h0.75v0.75h-0.75zM53.6 227.1h0.75v0.75h-0.75zM62.8 222.9h0.75v0.75h-0.75zM56.6 223.3h0.75v0.75h-0.75zM64.7 218.5h0.75v0.75h-0.75zM54.6 227.5h0.75v0.75h-0.75zM57.9 224.6h0.75v0.75h-0.75zM64.9 225.4h0.75v0.75h-0.75zM53.3 219.7h0.75v0.75h-0.75zM51.2 226.5h0.75v0.75h-0.75zM61.2 225.2h0.75v0.75h-0.75zM60.2 222.0h0.75v0.75h-0.75zM60.2 232.6h0.75v0.75h-0.75zM52.0 227.4h0.75v0.75h-0.75zM60.6 228.5h0.75v0.75h-0.75zM58.7 230.5h0.75v0.75h-0.75zM67.1 224.7h0.75v0.75h-0.75zM60.4 221.0h0.75v0.75h-0.75zM60.5 225.9h0.75v0.75h-0.75zM51.0 223.5h0.75v0.75h-0.75zM63.9 227.3h0.75v0.75h-0.75zM66.4 226.7h0.75v0.75h-0.75zM58.4 227.7h0.75v0.75h-0.75zM56.3 229.2h0.75v0.75h-0.75zM59.8 226.3h0.75v0.75h-0.75zM61.3 228.8h0.75v0.75h-0.75zM59.7 224.5h0.75v0.75h-0.75zM65.6 221.3h0.75v0.75h-0.75zM68.5 226.1h0.75v0.75h-0.75zM67.8 223.7h0.75v0.75h-0.75zM63.9 227.8h0.75v0.75h-0.75zM65.9 226.8h0.75v0.75h-0.75zM60.7 222.8h0.75v0.75h-0.75zM53.9 220.9h0.75v0.75h-0.75zM66.3 235.3h0.75v0.75h-0.75zM61.9 224.9h0.75v0.75h-0.75zM67.9 229.5h0.75v0.75h-0.75zM64.1 228.3h0.75v0.75h-0.75zM60.9 224.8h0.75v0.75h-0.75zM56.4 225.2h0.75v0.75h-0.75zM59.4 231.2h0.75v0.75h-0.75zM59.1 225.5h0.75v0.75h-0.75zM66.8 226.5h0.75v0.75h-0.75zM67.6 226.1h0.75v0.75h-0.75zM54.0 226.1h0.75v0.75h-0.75zM64.1 225.0h0.75v0.75h-0.75zM55.5 228.8h0.75v0.75h-0.75zM61.4 220.1h0.75v0.75h-0.75zM56.2 219.5h0.75v0.75h-0.75zM63.5 232.7h0.75v0.75h-0.75zM59.9 230.0h0.75v0.75h-0.75zM59.8 226.9h0.75v0.75h-0.75zM61.4 228.3h0.75v0.75h-0.75zM57.6 224.4h0.75v0.75h-0.75zM67.8 225.1h0.75v0.75h-0.75zM64.1 224.4h0.75v0.75h-0.75zM49.8 223.1h0.75v0.75h-0.75zM65.1 224.1h0.75v0.75h-0.75zM59.1 221.8h0.75v0.75h-0.75zM59.9 227.7h0.75v0.75h-0.75zM61.6 226.3h0.75v0.75h-0.75zM62.5 230.2h0.75v0.75h-0.75zM52.0 223.9h0.75v0.75h-0.75zM57.3 229.4h0.75v0.75h-0.75zM59.5 225.9h0.75v0.75h-0.75zM57.0 226.2h0.75v0.75h-0.75zM54.0 232.8h0.75v0.75h-0.75zM52.8 226.0h0.75v0.75h-0.75zM56.2 224.8h0.75v0.75h-0.75zM62.8 218.0h0.75v0.75h-0.75zM61.9 228.0h0.75v0.75h-0.75zM54.3 224.9h0.75v0.75h-0.75zM56.3 228.1h0.75v0.75h-0.75zM53.9 223.5h0.75v0.75h-0.75zM57.4 224.7h0.75v0.75h-0.75zM58.6 217.8h0.75v0.75h-0.75zM64.2 221.8h0.75v0.75h-0.75zM56.2 228.0h0.75v0.75h-0.75zM60.2 226.2h0.75v0.75h-0.75zM60.1 226.1h0.75v0.75h-0.75zM53.4 225.3h0.75v0.75h-0.75zM64.7 244.1h0.75v0.75h-0.75zM59.1 248.7h0.75v0.75h-0.75zM56.0 257.3h0.75v0.75h-0.75zM60.9 252.6h0.75v0.75h-0.75zM61.9 249.5h0.75v0.75h-0.75zM60.2 249.9h0.75v0.75h-0.75zM58.3 261.8h0.75v0.75h-0.75zM73.1 241.3h0.75v0.75h-0.75zM66.2 260.4h0.75v0.75h-0.75zM63.9 254.9h0.75v0.75h-0.75zM66.2 250.7h0.75v0.75h-0.75zM64.8 238.9h0.75v0.75h-0.75zM60.5 247.5h0.75v0.75h-0.75zM60.2 261.3h0.75v0.75h-0.75zM63.7 251.9h0.75v0.75h-0.75zM64.7 246.3h0.75v0.75h-0.75zM63.0 254.2h0.75v0.75h-0.75zM61.1 252.6h0.75v0.75h-0.75zM61.4 239.9h0.75v0.75h-0.75zM68.5 250.7h0.75v0.75h-0.75zM66.9 256.1h0.75v0.75h-0.75zM68.2 236.8h0.75v0.75h-0.75zM58.0 248.6h0.75v0.75h-0.75zM65.9 240.5h0.75v0.75h-0.75zM64.5 240.6h0.75v0.75h-0.75zM62.3 245.7h0.75v0.75h-0.75zM58.2 256.3h0.75v0.75h-0.75zM65.8 257.5h0.75v0.75h-0.75zM65.8 253.0h0.75v0.75h-0.75zM60.4 246.9h0.75v0.75h-0.75zM68.9 248.4h0.75v0.75h-0.75zM64.4 249.4h0.75v0.75h-0.75zM54.8 257.7h0.75v0.75h-0.75zM64.1 234.0h0.75v0.75h-0.75zM67.4 253.3h0.75v0.75h-0.75zM62.2 246.7h0.75v0.75h-0.75zM66.3 242.9h0.75v0.75h-0.75zM51.7 264.2h0.75v0.75h-0.75zM65.9 249.2h0.75v0.75h-0.75zM63.0 260.8h0.75v0.75h-0.75zM66.6 248.2h0.75v0.75h-0.75zM67.6 236.1h0.75v0.75h-0.75zM69.2 258.9h0.75v0.75h-0.75zM58.3 237.2h0.75v0.75h-0.75zM63.3 239.1h0.75v0.75h-0.75zM60.0 262.1h0.75v0.75h-0.75zM64.1 242.6h0.75v0.75h-0.75zM60.8 241.0h0.75v0.75h-0.75zM58.0 251.2h0.75v0.75h-0.75zM63.8 257.4h0.75v0.75h-0.75zM67.0 262.2h0.75v0.75h-0.75zM65.4 237.7h0.75v0.75h-0.75zM73.6 246.9h0.75v0.75h-0.75zM69.5 235.8h0.75v0.75h-0.75zM68.6 231.5h0.75v0.75h-0.75zM58.6 267.5h0.75v0.75h-0.75zM67.7 241.3h0.75v0.75h-0.75zM66.1 251.0h0.75v0.75h-0.75zM56.9 257.1h0.75v0.75h-0.75zM62.8 255.3h0.75v0.75h-0.75zM55.6 253.5h0.75v0.75h-0.75zM61.2 257.8h0.75v0.75h-0.75zM62.3 236.6h0.75v0.75h-0.75zM53.9 250.9h0.75v0.75h-0.75zM51.6 256.8h0.75v0.75h-0.75zM58.7 256.0h0.75v0.75h-0.75zM62.2 255.4h0.75v0.75h-0.75zM62.8 237.2h0.75v0.75h-0.75zM58.9 245.1h0.75v0.75h-0.75zM61.8 257.1h0.75v0.75h-0.75zM56.4 248.9h0.75v0.75h-0.75zM67.9 248.2h0.75v0.75h-0.75zM58.2 254.3h0.75v0.75h-0.75zM71.6 253.9h0.75v0.75h-0.75zM59.3 269.1h0.75v0.75h-0.75zM57.1 257.9h0.75v0.75h-0.75zM64.4 250.8h0.75v0.75h-0.75zM59.5 250.5h0.75v0.75h-0.75zM66.3 250.5h0.75v0.75h-0.75zM60.9 236.6h0.75v0.75h-0.75zM70.6 251.1h0.75v0.75h-0.75zM65.8 256.3h0.75v0.75h-0.75zM68.0 246.1h0.75v0.75h-0.75zM63.9 242.5h0.75v0.75h-0.75zM61.3 259.2h0.75v0.75h-0.75zM68.1 247.3h0.75v0.75h-0.75zM71.4 238.2h0.75v0.75h-0.75zM64.3 263.3h0.75v0.75h-0.75zM66.0 234.0h0.75v0.75h-0.75zM65.1 244.0h0.75v0.75h-0.75zM60.2 255.2h0.75v0.75h-0.75zM57.4 250.0h0.75v0.75h-0.75zM71.2 251.2h0.75v0.75h-0.75zM57.0 254.4h0.75v0.75h-0.75zM64.8 258.4h0.75v0.75h-0.75zM62.6 254.0h0.75v0.75h-0.75zM63.9 248.5h0.75v0.75h-0.75zM53.0 252.7h0.75v0.75h-0.75zM63.4 253.4h0.75v0.75h-0.75zM60.0 240.3h0.75v0.75h-0.75zM57.0 263.9h0.75v0.75h-0.75zM75.9 247.2h0.75v0.75h-0.75zM65.1 258.9h0.75v0.75h-0.75zM62.8 247.1h0.75v0.75h-0.75zM66.2 240.0h0.75v0.75h-0.75zM65.5 236.5h0.75v0.75h-0.75zM54.9 260.6h0.75v0.75h-0.75zM63.8 251.9h0.75v0.75h-0.75zM57.8 250.9h0.75v0.75h-0.75zM59.5 244.2h0.75v0.75h-0.75zM67.9 244.2h0.75v0.75h-0.75zM55.6 261.6h0.75v0.75h-0.75zM66.4 253.4h0.75v0.75h-0.75zM70.5 239.1h0.75v0.75h-0.75zM52.9 251.3h0.75v0.75h-0.75zM75.6 244.6h0.75v0.75h-0.75zM61.9 239.8h0.75v0.75h-0.75zM65.3 249.7h0.75v0.75h-0.75zM62.2 254.5h0.75v0.75h-0.75zM59.8 249.0h0.75v0.75h-0.75zM64.4 260.6h0.75v0.75h-0.75zM60.4 255.1h0.75v0.75h-0.75zM58.7 242.5h0.75v0.75h-0.75zM61.2 249.9h0.75v0.75h-0.75zM69.2 265.8h0.75v0.75h-0.75zM72.9 249.9h0.75v0.75h-0.75zM60.9 256.7h0.75v0.75h-0.75zM56.4 254.5h0.75v0.75h-0.75zM59.4 242.0h0.75v0.75h-0.75zM67.3 240.1h0.75v0.75h-0.75zM65.0 257.1h0.75v0.75h-0.75zM54.8 244.6h0.75v0.75h-0.75zM62.5 244.3h0.75v0.75h-0.75zM64.1 244.0h0.75v0.75h-0.75zM61.9 248.0h0.75v0.75h-0.75zM57.4 241.8h0.75v0.75h-0.75zM59.0 244.4h0.75v0.75h-0.75zM61.7 243.9h0.75v0.75h-0.75zM64.8 261.7h0.75v0.75h-0.75zM68.8 251.6h0.75v0.75h-0.75zM63.1 264.9h0.75v0.75h-0.75zM68.2 255.2h0.75v0.75h-0.75zM61.4 255.9h0.75v0.75h-0.75zM68.4 247.6h0.75v0.75h-0.75zM63.5 233.2h0.75v0.75h-0.75zM60.4 246.3h0.75v0.75h-0.75zM59.9 243.9h0.75v0.75h-0.75zM63.2 243.7h0.75v0.75h-0.75zM68.4 251.2h0.75v0.75h-0.75zM61.3 256.7h0.75v0.75h-0.75zM64.8 265.8h0.75v0.75h-0.75zM58.3 269.3h0.75v0.75h-0.75zM63.4 249.7h0.75v0.75h-0.75zM64.7 257.7h0.75v0.75h-0.75zM65.0 239.5h0.75v0.75h-0.75zM61.0 248.7h0.75v0.75h-0.75zM67.4 245.3h0.75v0.75h-0.75zM71.0 236.2h0.75v0.75h-0.75zM63.2 241.8h0.75v0.75h-0.75zM62.9 254.0h0.75v0.75h-0.75zM64.5 261.1h0.75v0.75h-0.75zM57.9 256.9h0.75v0.75h-0.75zM61.5 254.1h0.75v0.75h-0.75zM64.4 260.1h0.75v0.75h-0.75zM64.8 250.4h0.75v0.75h-0.75zM62.3 259.6h0.75v0.75h-0.75zM60.0 252.0h0.75v0.75h-0.75zM67.8 246.5h0.75v0.75h-0.75zM62.3 249.5h0.75v0.75h-0.75zM65.7 250.3h0.75v0.75h-0.75zM60.1 249.0h0.75v0.75h-0.75zM62.9 258.8h0.75v0.75h-0.75zM61.0 251.8h0.75v0.75h-0.75zM63.2 236.6h0.75v0.75h-0.75zM63.3 236.2h0.75v0.75h-0.75zM70.0 239.9h0.75v0.75h-0.75zM69.6 232.9h0.75v0.75h-0.75zM65.6 237.7h0.75v0.75h-0.75zM61.6 262.2h0.75v0.75h-0.75zM69.0 259.6h0.75v0.75h-0.75zM61.9 250.0h0.75v0.75h-0.75zM67.5 241.0h0.75v0.75h-0.75zM73.1 248.7h0.75v0.75h-0.75zM55.4 247.1h0.75v0.75h-0.75zM72.1 238.0h0.75v0.75h-0.75zM70.7 246.6h0.75v0.75h-0.75zM61.3 252.3h0.75v0.75h-0.75zM62.0 242.1h0.75v0.75h-0.75zM59.8 253.9h0.75v0.75h-0.75zM57.9 257.7h0.75v0.75h-0.75zM53.9 254.4h0.75v0.75h-0.75zM63.7 243.3h0.75v0.75h-0.75zM69.0 258.5h0.75v0.75h-0.75zM64.0 253.9h0.75v0.75h-0.75zM73.2 266.6h0.75v0.75h-0.75zM72.2 245.8h0.75v0.75h-0.75zM66.0 255.3h0.75v0.75h-0.75zM65.8 254.3h0.75v0.75h-0.75zM52.0 256.5h0.75v0.75h-0.75zM65.3 256.6h0.75v0.75h-0.75zM64.7 246.1h0.75v0.75h-0.75zM62.9 252.6h0.75v0.75h-0.75zM60.7 244.1h0.75v0.75h-0.75zM66.0 249.0h0.75v0.75h-0.75zM53.8 252.9h0.75v0.75h-0.75zM63.7 258.3h0.75v0.75h-0.75zM63.9 257.6h0.75v0.75h-0.75zM67.2 253.5h0.75v0.75h-0.75zM64.0 256.4h0.75v0.75h-0.75zM65.4 251.1h0.75v0.75h-0.75zM52.9 260.6h0.75v0.75h-0.75zM67.8 255.9h0.75v0.75h-0.75zM64.0 242.4h0.75v0.75h-0.75zM67.6 261.3h0.75v0.75h-0.75zM52.7 251.5h0.75v0.75h-0.75zM62.4 250.4h0.75v0.75h-0.75zM64.0 249.3h0.75v0.75h-0.75zM60.7 240.8h0.75v0.75h-0.75zM66.0 248.9h0.75v0.75h-0.75zM68.0 245.1h0.75v0.75h-0.75zM62.7 253.2h0.75v0.75h-0.75zM64.8 246.5h0.75v0.75h-0.75zM66.6 242.0h0.75v0.75h-0.75zM58.9 254.3h0.75v0.75h-0.75zM67.9 247.9h0.75v0.75h-0.75zM62.6 252.5h0.75v0.75h-0.75zM70.3 246.4h0.75v0.75h-0.75zM62.9 252.0h0.75v0.75h-0.75zM59.1 264.7h0.75v0.75h-0.75zM62.8 253.0h0.75v0.75h-0.75zM65.5 242.5h0.75v0.75h-0.75zM62.1 238.6h0.75v0.75h-0.75zM58.3 253.5h0.75v0.75h-0.75zM66.1 243.3h0.75v0.75h-0.75zM67.2 259.6h0.75v0.75h-0.75zM66.4 250.5h0.75v0.75h-0.75zM61.7 259.2h0.75v0.75h-0.75zM55.7 267.1h0.75v0.75h-0.75zM62.6 236.2h0.75v0.75h-0.75zM62.1 245.6h0.75v0.75h-0.75zM70.6 232.5h0.75v0.75h-0.75zM60.2 257.0h0.75v0.75h-0.75zM66.2 247.5h0.75v0.75h-0.75zM71.8 240.9h0.75v0.75h-0.75zM63.0 246.6h0.75v0.75h-0.75zM60.5 253.1h0.75v0.75h-0.75zM58.9 237.0h0.75v0.75h-0.75zM60.9 257.9h0.75v0.75h-0.75zM65.5 238.2h0.75v0.75h-0.75zM62.0 263.5h0.75v0.75h-0.75zM65.6 253.6h0.75v0.75h-0.75zM70.1 263.3h0.75v0.75h-0.75zM60.0 249.5h0.75v0.75h-0.75zM69.2 233.0h0.75v0.75h-0.75zM62.2 234.8h0.75v0.75h-0.75zM75.4 238.9h0.75v0.75h-0.75zM58.8 245.0h0.75v0.75h-0.75zM64.9 257.4h0.75v0.75h-0.75zM62.9 246.7h0.75v0.75h-0.75zM64.1 243.6h0.75v0.75h-0.75zM60.3 265.5h0.75v0.75h-0.75zM62.4 249.8h0.75v0.75h-0.75zM66.9 254.3h0.75v0.75h-0.75zM67.9 244.9h0.75v0.75h-0.75zM63.4 245.5h0.75v0.75h-0.75zM64.3 247.5h0.75v0.75h-0.75zM67.7 247.3h0.75v0.75h-0.75zM69.7 247.2h0.75v0.75h-0.75zM65.5 237.2h0.75v0.75h-0.75zM57.1 240.5h0.75v0.75h-0.75zM68.6 251.7h0.75v0.75h-0.75zM60.2 241.8h0.75v0.75h-0.75zM62.4 258.4h0.75v0.75h-0.75zM64.5 258.7h0.75v0.75h-0.75zM70.7 244.9h0.75v0.75h-0.75zM63.7 232.5h0.75v0.75h-0.75zM61.6 254.3h0.75v0.75h-0.75zM65.1 252.2h0.75v0.75h-0.75zM66.8 250.0h0.75v0.75h-0.75zM66.4 248.6h0.75v0.75h-0.75zM62.6 239.9h0.75v0.75h-0.75zM72.2 245.3h0.75v0.75h-0.75zM66.8 236.4h0.75v0.75h-0.75zM59.5 244.4h0.75v0.75h-0.75zM59.6 257.0h0.75v0.75h-0.75zM62.0 253.1h0.75v0.75h-0.75zM58.9 250.7h0.75v0.75h-0.75zM61.1 252.9h0.75v0.75h-0.75zM69.0 239.4h0.75v0.75h-0.75zM72.8 226.2h0.75v0.75h-0.75zM60.2 244.3h0.75v0.75h-0.75zM58.0 257.3h0.75v0.75h-0.75zM56.0 259.3h0.75v0.75h-0.75zM64.8 267.4h0.75v0.75h-0.75zM71.2 244.8h0.75v0.75h-0.75zM61.3 250.7h0.75v0.75h-0.75zM62.4 258.2h0.75v0.75h-0.75zM56.5 248.6h0.75v0.75h-0.75zM58.5 259.8h0.75v0.75h-0.75zM63.0 258.1h0.75v0.75h-0.75z" fill="#2A3276" fill-opacity="0.45"/><path d="M61.7 247.1h0.75v0.75h-0.75zM43.1 248.2h0.75v0.75h-0.75zM72.1 264.6h0.75v0.75h-0.75zM55.0 262.8h0.75v0.75h-0.75zM53.9 282.7h0.75v0.75h-0.75zM69.6 266.2h0.75v0.75h-0.75zM33.9 262.3h0.75v0.75h-0.75zM50.3 252.1h0.75v0.75h-0.75zM47.1 249.0h0.75v0.75h-0.75zM47.7 271.6h0.75v0.75h-0.75zM52.1 239.0h0.75v0.75h-0.75zM51.2 275.9h0.75v0.75h-0.75zM37.7 260.7h0.75v0.75h-0.75zM37.0 249.7h0.75v0.75h-0.75zM51.4 244.1h0.75v0.75h-0.75zM44.8 254.8h0.75v0.75h-0.75zM56.5 272.7h0.75v0.75h-0.75zM41.8 250.6h0.75v0.75h-0.75zM67.1 263.0h0.75v0.75h-0.75zM50.8 267.9h0.75v0.75h-0.75zM64.8 252.8h0.75v0.75h-0.75zM69.3 270.5h0.75v0.75h-0.75zM44.6 246.7h0.75v0.75h-0.75zM67.7 263.0h0.75v0.75h-0.75zM45.7 276.5h0.75v0.75h-0.75zM42.3 259.4h0.75v0.75h-0.75zM45.1 269.5h0.75v0.75h-0.75zM50.2 250.9h0.75v0.75h-0.75zM77.3 257.3h0.75v0.75h-0.75zM60.3 240.9h0.75v0.75h-0.75zM38.1 244.3h0.75v0.75h-0.75zM30.9 253.4h0.75v0.75h-0.75zM44.5 263.3h0.75v0.75h-0.75zM45.7 275.3h0.75v0.75h-0.75zM46.0 263.9h0.75v0.75h-0.75zM43.5 268.5h0.75v0.75h-0.75zM66.1 252.4h0.75v0.75h-0.75zM51.4 240.0h0.75v0.75h-0.75zM48.8 261.7h0.75v0.75h-0.75zM42.9 253.1h0.75v0.75h-0.75zM37.3 264.1h0.75v0.75h-0.75zM60.4 242.5h0.75v0.75h-0.75zM61.9 263.9h0.75v0.75h-0.75zM63.6 251.5h0.75v0.75h-0.75zM67.1 274.5h0.75v0.75h-0.75zM54.4 247.4h0.75v0.75h-0.75zM42.5 244.4h0.75v0.75h-0.75zM57.0 266.0h0.75v0.75h-0.75zM66.8 248.3h0.75v0.75h-0.75zM55.6 267.6h0.75v0.75h-0.75zM43.3 259.1h0.75v0.75h-0.75zM67.0 269.8h0.75v0.75h-0.75zM39.9 254.4h0.75v0.75h-0.75zM68.0 246.9h0.75v0.75h-0.75zM45.3 255.2h0.75v0.75h-0.75zM56.5 277.5h0.75v0.75h-0.75zM43.2 265.4h0.75v0.75h-0.75zM49.4 249.3h0.75v0.75h-0.75zM50.3 275.9h0.75v0.75h-0.75zM54.8 271.3h0.75v0.75h-0.75zM40.7 249.1h0.75v0.75h-0.75zM39.9 256.9h0.75v0.75h-0.75zM69.1 262.8h0.75v0.75h-0.75zM67.1 250.1h0.75v0.75h-0.75zM66.8 247.6h0.75v0.75h-0.75zM53.9 254.2h0.75v0.75h-0.75zM45.0 272.3h0.75v0.75h-0.75zM58.1 246.9h0.75v0.75h-0.75zM49.7 246.4h0.75v0.75h-0.75zM51.0 260.6h0.75v0.75h-0.75zM38.5 255.6h0.75v0.75h-0.75zM44.4 249.2h0.75v0.75h-0.75zM59.8 276.1h0.75v0.75h-0.75zM59.4 274.7h0.75v0.75h-0.75zM54.1 269.8h0.75v0.75h-0.75zM63.2 265.7h0.75v0.75h-0.75zM57.5 254.1h0.75v0.75h-0.75zM47.4 240.5h0.75v0.75h-0.75zM38.1 250.1h0.75v0.75h-0.75zM45.0 243.4h0.75v0.75h-0.75zM70.0 255.9h0.75v0.75h-0.75zM49.7 267.1h0.75v0.75h-0.75zM47.0 240.5h0.75v0.75h-0.75zM56.0 239.5h0.75v0.75h-0.75zM66.1 252.1h0.75v0.75h-0.75zM73.3 255.0h0.75v0.75h-0.75zM45.2 248.0h0.75v0.75h-0.75zM37.2 255.6h0.75v0.75h-0.75zM50.6 247.9h0.75v0.75h-0.75zM66.1 244.7h0.75v0.75h-0.75zM50.8 257.4h0.75v0.75h-0.75zM35.5 254.0h0.75v0.75h-0.75zM69.3 268.5h0.75v0.75h-0.75zM42.6 260.3h0.75v0.75h-0.75zM71.5 252.3h0.75v0.75h-0.75zM52.5 275.3h0.75v0.75h-0.75zM66.1 256.1h0.75v0.75h-0.75zM59.1 241.0h0.75v0.75h-0.75zM57.3 247.6h0.75v0.75h-0.75zM55.8 254.5h0.75v0.75h-0.75zM52.5 276.3h0.75v0.75h-0.75zM44.0 250.5h0.75v0.75h-0.75zM46.1 256.7h0.75v0.75h-0.75zM46.5 274.1h0.75v0.75h-0.75zM39.6 257.1h0.75v0.75h-0.75zM67.7 252.9h0.75v0.75h-0.75zM68.8 256.8h0.75v0.75h-0.75zM54.9 263.4h0.75v0.75h-0.75zM60.7 267.3h0.75v0.75h-0.75zM57.0 261.8h0.75v0.75h-0.75zM67.2 248.0h0.75v0.75h-0.75zM65.7 247.0h0.75v0.75h-0.75zM42.3 261.8h0.75v0.75h-0.75zM64.1 254.2h0.75v0.75h-0.75zM54.2 250.4h0.75v0.75h-0.75zM70.2 268.8h0.75v0.75h-0.75zM49.2 277.1h0.75v0.75h-0.75zM60.5 270.8h0.75v0.75h-0.75zM57.8 248.9h0.75v0.75h-0.75zM55.6 242.2h0.75v0.75h-0.75zM72.4 261.1h0.75v0.75h-0.75zM59.2 262.2h0.75v0.75h-0.75zM73.2 252.5h0.75v0.75h-0.75zM57.3 242.7h0.75v0.75h-0.75zM51.7 258.2h0.75v0.75h-0.75zM37.8 256.3h0.75v0.75h-0.75zM45.9 252.6h0.75v0.75h-0.75zM40.6 266.4h0.75v0.75h-0.75zM48.8 265.0h0.75v0.75h-0.75zM52.8 264.2h0.75v0.75h-0.75zM35.3 265.2h0.75v0.75h-0.75zM36.6 261.3h0.75v0.75h-0.75zM74.1 275.9h0.75v0.75h-0.75zM49.0 268.3h0.75v0.75h-0.75zM70.4 263.8h0.75v0.75h-0.75zM67.5 254.6h0.75v0.75h-0.75zM47.8 241.5h0.75v0.75h-0.75zM47.8 258.5h0.75v0.75h-0.75zM47.6 264.2h0.75v0.75h-0.75zM53.3 261.9h0.75v0.75h-0.75zM56.6 243.5h0.75v0.75h-0.75zM61.3 262.1h0.75v0.75h-0.75zM41.1 263.0h0.75v0.75h-0.75zM35.9 254.5h0.75v0.75h-0.75zM71.8 270.0h0.75v0.75h-0.75zM51.0 246.0h0.75v0.75h-0.75zM75.9 266.0h0.75v0.75h-0.75zM66.4 273.2h0.75v0.75h-0.75zM38.0 265.5h0.75v0.75h-0.75zM47.1 245.8h0.75v0.75h-0.75zM70.5 266.7h0.75v0.75h-0.75zM42.2 250.7h0.75v0.75h-0.75zM45.4 253.6h0.75v0.75h-0.75zM60.1 257.8h0.75v0.75h-0.75zM59.4 259.7h0.75v0.75h-0.75zM64.4 262.1h0.75v0.75h-0.75zM71.3 255.1h0.75v0.75h-0.75zM72.8 262.0h0.75v0.75h-0.75zM49.1 242.0h0.75v0.75h-0.75zM61.2 268.2h0.75v0.75h-0.75zM41.6 265.2h0.75v0.75h-0.75zM51.0 242.4h0.75v0.75h-0.75zM37.8 255.6h0.75v0.75h-0.75zM56.8 283.6h0.75v0.75h-0.75zM47.4 270.5h0.75v0.75h-0.75zM60.2 273.4h0.75v0.75h-0.75zM43.1 272.4h0.75v0.75h-0.75zM61.6 258.5h0.75v0.75h-0.75zM42.5 244.6h0.75v0.75h-0.75zM72.1 253.6h0.75v0.75h-0.75zM44.3 247.2h0.75v0.75h-0.75zM40.5 267.9h0.75v0.75h-0.75zM63.4 274.3h0.75v0.75h-0.75zM48.9 256.6h0.75v0.75h-0.75zM56.2 271.5h0.75v0.75h-0.75zM44.9 260.7h0.75v0.75h-0.75zM57.9 270.8h0.75v0.75h-0.75zM76.3 264.0h0.75v0.75h-0.75zM36.7 247.0h0.75v0.75h-0.75zM47.4 267.9h0.75v0.75h-0.75zM48.3 274.4h0.75v0.75h-0.75zM47.4 248.2h0.75v0.75h-0.75zM63.4 249.7h0.75v0.75h-0.75zM63.1 258.9h0.75v0.75h-0.75zM31.9 258.7h0.75v0.75h-0.75zM44.5 255.9h0.75v0.75h-0.75zM42.7 245.8h0.75v0.75h-0.75zM36.3 264.0h0.75v0.75h-0.75zM64.0 245.1h0.75v0.75h-0.75zM44.4 266.2h0.75v0.75h-0.75zM64.9 265.3h0.75v0.75h-0.75zM38.3 256.8h0.75v0.75h-0.75zM45.4 275.1h0.75v0.75h-0.75zM55.8 278.0h0.75v0.75h-0.75zM35.7 256.7h0.75v0.75h-0.75zM67.7 270.4h0.75v0.75h-0.75zM43.2 259.3h0.75v0.75h-0.75zM47.7 248.4h0.75v0.75h-0.75zM50.0 259.8h0.75v0.75h-0.75zM54.3 256.1h0.75v0.75h-0.75zM37.8 250.4h0.75v0.75h-0.75zM42.4 264.2h0.75v0.75h-0.75zM37.9 265.6h0.75v0.75h-0.75zM67.3 265.6h0.75v0.75h-0.75zM54.2 255.9h0.75v0.75h-0.75zM40.7 270.2h0.75v0.75h-0.75zM63.0 272.6h0.75v0.75h-0.75zM53.2 251.8h0.75v0.75h-0.75zM73.6 257.1h0.75v0.75h-0.75zM49.2 237.6h0.75v0.75h-0.75zM47.7 248.0h0.75v0.75h-0.75zM68.8 273.2h0.75v0.75h-0.75zM47.0 263.9h0.75v0.75h-0.75zM69.4 264.2h0.75v0.75h-0.75zM57.9 244.1h0.75v0.75h-0.75zM42.9 250.6h0.75v0.75h-0.75zM66.2 244.1h0.75v0.75h-0.75zM42.6 274.6h0.75v0.75h-0.75zM50.3 249.2h0.75v0.75h-0.75zM71.5 247.0h0.75v0.75h-0.75zM35.4 257.1h0.75v0.75h-0.75zM65.7 261.6h0.75v0.75h-0.75zM65.4 245.0h0.75v0.75h-0.75zM59.7 250.0h0.75v0.75h-0.75zM45.7 251.3h0.75v0.75h-0.75zM48.8 244.8h0.75v0.75h-0.75zM53.4 261.3h0.75v0.75h-0.75zM60.6 260.5h0.75v0.75h-0.75zM70.1 251.7h0.75v0.75h-0.75zM39.5 266.2h0.75v0.75h-0.75zM40.0 262.6h0.75v0.75h-0.75zM48.0 257.9h0.75v0.75h-0.75zM57.3 276.8h0.75v0.75h-0.75zM56.7 269.8h0.75v0.75h-0.75zM59.0 274.1h0.75v0.75h-0.75zM47.2 256.3h0.75v0.75h-0.75zM68.9 271.3h0.75v0.75h-0.75zM45.2 272.6h0.75v0.75h-0.75zM62.8 249.9h0.75v0.75h-0.75zM57.5 273.0h0.75v0.75h-0.75zM49.6 249.9h0.75v0.75h-0.75zM48.9 268.3h0.75v0.75h-0.75zM41.3 271.8h0.75v0.75h-0.75zM43.5 249.0h0.75v0.75h-0.75zM48.7 263.9h0.75v0.75h-0.75zM43.1 266.8h0.75v0.75h-0.75zM40.2 256.2h0.75v0.75h-0.75zM63.0 268.0h0.75v0.75h-0.75zM57.5 246.7h0.75v0.75h-0.75zM54.0 277.9h0.75v0.75h-0.75zM57.7 246.7h0.75v0.75h-0.75zM58.3 268.2h0.75v0.75h-0.75zM48.8 263.6h0.75v0.75h-0.75zM43.3 257.1h0.75v0.75h-0.75zM37.8 266.6h0.75v0.75h-0.75zM64.7 268.8h0.75v0.75h-0.75zM53.5 252.2h0.75v0.75h-0.75zM39.2 257.2h0.75v0.75h-0.75zM62.7 248.1h0.75v0.75h-0.75zM30.9 257.6h0.75v0.75h-0.75zM65.1 267.8h0.75v0.75h-0.75zM65.1 269.3h0.75v0.75h-0.75zM49.1 270.4h0.75v0.75h-0.75zM44.1 256.6h0.75v0.75h-0.75zM46.0 244.5h0.75v0.75h-0.75zM58.0 258.2h0.75v0.75h-0.75zM39.2 271.3h0.75v0.75h-0.75zM68.9 252.8h0.75v0.75h-0.75zM55.1 276.5h0.75v0.75h-0.75zM36.3 254.0h0.75v0.75h-0.75zM59.2 250.5h0.75v0.75h-0.75zM59.0 240.3h0.75v0.75h-0.75zM45.0 275.3h0.75v0.75h-0.75zM61.0 268.9h0.75v0.75h-0.75zM55.8 258.7h0.75v0.75h-0.75zM40.3 265.0h0.75v0.75h-0.75zM57.3 240.1h0.75v0.75h-0.75zM54.1 248.5h0.75v0.75h-0.75zM39.8 278.4h0.75v0.75h-0.75zM70.3 249.6h0.75v0.75h-0.75zM44.4 245.8h0.75v0.75h-0.75zM67.5 265.4h0.75v0.75h-0.75zM39.9 259.5h0.75v0.75h-0.75zM40.6 260.7h0.75v0.75h-0.75zM47.7 257.3h0.75v0.75h-0.75zM55.0 241.6h0.75v0.75h-0.75zM48.8 268.0h0.75v0.75h-0.75zM45.1 268.1h0.75v0.75h-0.75zM63.7 257.3h0.75v0.75h-0.75zM62.9 247.1h0.75v0.75h-0.75zM36.2 262.5h0.75v0.75h-0.75zM49.2 243.2h0.75v0.75h-0.75zM64.9 250.3h0.75v0.75h-0.75zM43.8 247.6h0.75v0.75h-0.75zM56.9 242.9h0.75v0.75h-0.75zM37.6 264.8h0.75v0.75h-0.75zM39.6 265.0h0.75v0.75h-0.75zM66.3 248.6h0.75v0.75h-0.75zM52.3 245.4h0.75v0.75h-0.75zM42.1 272.8h0.75v0.75h-0.75zM50.7 252.7h0.75v0.75h-0.75zM54.4 262.5h0.75v0.75h-0.75zM63.6 243.1h0.75v0.75h-0.75zM56.1 263.8h0.75v0.75h-0.75zM57.8 252.6h0.75v0.75h-0.75zM64.1 252.8h0.75v0.75h-0.75zM71.4 251.4h0.75v0.75h-0.75zM39.5 270.3h0.75v0.75h-0.75zM63.4 269.5h0.75v0.75h-0.75zM50.2 242.9h0.75v0.75h-0.75zM49.9 270.0h0.75v0.75h-0.75zM53.6 239.7h0.75v0.75h-0.75zM55.2 249.6h0.75v0.75h-0.75zM41.7 266.6h0.75v0.75h-0.75zM53.0 245.9h0.75v0.75h-0.75zM57.5 257.4h0.75v0.75h-0.75zM72.2 267.4h0.75v0.75h-0.75zM55.3 276.9h0.75v0.75h-0.75zM52.2 243.4h0.75v0.75h-0.75zM40.9 255.9h0.75v0.75h-0.75zM46.1 247.3h0.75v0.75h-0.75zM50.1 242.1h0.75v0.75h-0.75zM36.2 263.4h0.75v0.75h-0.75zM44.7 247.1h0.75v0.75h-0.75zM44.6 252.6h0.75v0.75h-0.75zM36.0 267.7h0.75v0.75h-0.75zM48.7 266.6h0.75v0.75h-0.75zM65.3 255.6h0.75v0.75h-0.75zM47.1 267.3h0.75v0.75h-0.75zM43.8 254.0h0.75v0.75h-0.75zM62.4 261.7h0.75v0.75h-0.75zM62.4 250.9h0.75v0.75h-0.75zM48.9 246.1h0.75v0.75h-0.75zM53.5 267.1h0.75v0.75h-0.75zM45.8 249.1h0.75v0.75h-0.75zM47.7 248.4h0.75v0.75h-0.75zM58.7 249.8h0.75v0.75h-0.75zM35.0 259.0h0.75v0.75h-0.75zM55.0 252.5h0.75v0.75h-0.75zM41.3 260.4h0.75v0.75h-0.75zM44.4 272.5h0.75v0.75h-0.75zM46.1 271.2h0.75v0.75h-0.75zM74.2 243.4h0.75v0.75h-0.75zM35.5 257.5h0.75v0.75h-0.75zM54.7 258.3h0.75v0.75h-0.75zM68.8 263.0h0.75v0.75h-0.75zM50.9 259.1h0.75v0.75h-0.75zM55.8 246.8h0.75v0.75h-0.75zM47.8 254.2h0.75v0.75h-0.75zM53.9 274.2h0.75v0.75h-0.75zM48.0 257.0h0.75v0.75h-0.75zM45.7 264.3h0.75v0.75h-0.75zM41.6 265.8h0.75v0.75h-0.75zM71.2 261.7h0.75v0.75h-0.75zM43.7 261.5h0.75v0.75h-0.75zM65.5 262.9h0.75v0.75h-0.75zM39.1 253.5h0.75v0.75h-0.75zM47.9 239.5h0.75v0.75h-0.75zM41.2 256.2h0.75v0.75h-0.75zM56.5 254.8h0.75v0.75h-0.75zM61.6 252.2h0.75v0.75h-0.75zM45.1 273.8h0.75v0.75h-0.75zM55.6 255.8h0.75v0.75h-0.75zM57.7 275.2h0.75v0.75h-0.75zM57.2 271.7h0.75v0.75h-0.75zM60.6 255.1h0.75v0.75h-0.75zM69.6 256.6h0.75v0.75h-0.75zM45.1 275.3h0.75v0.75h-0.75zM60.5 256.6h0.75v0.75h-0.75zM35.3 256.0h0.75v0.75h-0.75zM37.1 251.0h0.75v0.75h-0.75zM40.5 246.5h0.75v0.75h-0.75zM59.8 242.4h0.75v0.75h-0.75zM54.6 258.8h0.75v0.75h-0.75zM60.5 247.1h0.75v0.75h-0.75zM48.2 271.7h0.75v0.75h-0.75zM66.8 268.3h0.75v0.75h-0.75zM72.6 271.0h0.75v0.75h-0.75zM57.4 242.3h0.75v0.75h-0.75zM40.6 245.5h0.75v0.75h-0.75zM39.1 257.0h0.75v0.75h-0.75zM48.9 241.1h0.75v0.75h-0.75zM51.7 266.9h0.75v0.75h-0.75zM43.7 270.8h0.75v0.75h-0.75zM45.2 242.2h0.75v0.75h-0.75zM50.6 256.4h0.75v0.75h-0.75zM62.3 235.5h0.75v0.75h-0.75zM57.8 277.5h0.75v0.75h-0.75zM45.1 267.4h0.75v0.75h-0.75zM40.6 271.0h0.75v0.75h-0.75zM38.1 261.1h0.75v0.75h-0.75zM51.6 245.9h0.75v0.75h-0.75zM62.6 255.3h0.75v0.75h-0.75zM63.3 245.7h0.75v0.75h-0.75zM35.3 260.6h0.75v0.75h-0.75zM52.8 249.1h0.75v0.75h-0.75zM55.2 277.8h0.75v0.75h-0.75zM72.4 258.6h0.75v0.75h-0.75zM50.2 243.8h0.75v0.75h-0.75zM65.3 261.1h0.75v0.75h-0.75zM53.1 289.1h0.75v0.75h-0.75zM54.9 241.9h0.75v0.75h-0.75zM65.7 233.2h0.75v0.75h-0.75zM61.9 259.8h0.75v0.75h-0.75zM53.9 270.4h0.75v0.75h-0.75zM57.4 247.6h0.75v0.75h-0.75zM61.6 238.6h0.75v0.75h-0.75zM54.6 255.2h0.75v0.75h-0.75zM63.6 275.9h0.75v0.75h-0.75zM62.1 256.8h0.75v0.75h-0.75zM57.2 260.6h0.75v0.75h-0.75zM58.1 244.9h0.75v0.75h-0.75zM61.8 254.3h0.75v0.75h-0.75zM45.5 281.7h0.75v0.75h-0.75zM55.5 274.4h0.75v0.75h-0.75zM53.2 237.8h0.75v0.75h-0.75zM59.6 274.0h0.75v0.75h-0.75zM58.3 249.1h0.75v0.75h-0.75zM48.7 270.5h0.75v0.75h-0.75zM58.3 267.8h0.75v0.75h-0.75zM51.3 248.8h0.75v0.75h-0.75zM46.4 243.0h0.75v0.75h-0.75zM48.1 242.8h0.75v0.75h-0.75zM50.8 257.0h0.75v0.75h-0.75zM62.9 262.2h0.75v0.75h-0.75zM59.4 248.7h0.75v0.75h-0.75zM60.3 269.4h0.75v0.75h-0.75zM57.1 263.9h0.75v0.75h-0.75zM62.3 235.3h0.75v0.75h-0.75zM73.6 255.8h0.75v0.75h-0.75zM52.6 245.2h0.75v0.75h-0.75zM66.7 265.6h0.75v0.75h-0.75zM57.8 269.5h0.75v0.75h-0.75zM49.0 258.6h0.75v0.75h-0.75zM57.8 251.1h0.75v0.75h-0.75zM48.5 254.6h0.75v0.75h-0.75zM63.6 255.0h0.75v0.75h-0.75zM62.7 242.7h0.75v0.75h-0.75zM62.5 249.0h0.75v0.75h-0.75zM56.2 261.8h0.75v0.75h-0.75zM58.9 245.0h0.75v0.75h-0.75zM63.3 248.1h0.75v0.75h-0.75zM77.1 224.4h0.75v0.75h-0.75zM60.4 245.9h0.75v0.75h-0.75zM53.6 265.4h0.75v0.75h-0.75zM50.6 251.8h0.75v0.75h-0.75zM58.2 239.8h0.75v0.75h-0.75zM39.0 261.0h0.75v0.75h-0.75zM52.3 253.1h0.75v0.75h-0.75zM62.8 256.3h0.75v0.75h-0.75zM50.1 238.0h0.75v0.75h-0.75zM56.0 262.5h0.75v0.75h-0.75zM67.4 250.8h0.75v0.75h-0.75zM61.7 251.4h0.75v0.75h-0.75zM55.4 263.0h0.75v0.75h-0.75zM43.2 252.7h0.75v0.75h-0.75zM46.9 258.2h0.75v0.75h-0.75zM58.3 261.2h0.75v0.75h-0.75zM51.1 244.0h0.75v0.75h-0.75zM65.5 247.8h0.75v0.75h-0.75zM37.9 282.6h0.75v0.75h-0.75zM64.6 265.1h0.75v0.75h-0.75zM53.0 268.0h0.75v0.75h-0.75zM59.4 251.4h0.75v0.75h-0.75zM58.4 246.0h0.75v0.75h-0.75zM46.6 246.2h0.75v0.75h-0.75zM70.2 248.7h0.75v0.75h-0.75zM50.5 279.7h0.75v0.75h-0.75zM47.5 263.5h0.75v0.75h-0.75zM58.8 262.0h0.75v0.75h-0.75zM48.6 266.8h0.75v0.75h-0.75zM53.0 257.5h0.75v0.75h-0.75zM43.6 238.7h0.75v0.75h-0.75zM59.1 256.7h0.75v0.75h-0.75zM53.7 262.6h0.75v0.75h-0.75zM51.4 259.3h0.75v0.75h-0.75zM51.2 235.6h0.75v0.75h-0.75zM52.0 268.1h0.75v0.75h-0.75zM52.8 259.3h0.75v0.75h-0.75zM58.9 256.6h0.75v0.75h-0.75zM60.9 255.8h0.75v0.75h-0.75zM67.2 252.6h0.75v0.75h-0.75zM53.8 259.8h0.75v0.75h-0.75zM52.0 250.3h0.75v0.75h-0.75zM62.2 252.0h0.75v0.75h-0.75zM57.5 263.2h0.75v0.75h-0.75zM57.9 264.1h0.75v0.75h-0.75zM57.4 267.7h0.75v0.75h-0.75zM56.5 265.4h0.75v0.75h-0.75zM59.7 257.6h0.75v0.75h-0.75zM65.8 258.3h0.75v0.75h-0.75zM52.8 268.0h0.75v0.75h-0.75zM61.0 257.9h0.75v0.75h-0.75zM54.0 261.9h0.75v0.75h-0.75zM42.2 259.3h0.75v0.75h-0.75zM57.8 245.0h0.75v0.75h-0.75zM53.0 248.1h0.75v0.75h-0.75zM64.1 275.6h0.75v0.75h-0.75zM59.8 249.3h0.75v0.75h-0.75zM57.0 271.3h0.75v0.75h-0.75zM35.9 274.3h0.75v0.75h-0.75zM54.3 250.0h0.75v0.75h-0.75zM66.0 248.3h0.75v0.75h-0.75zM57.9 285.0h0.75v0.75h-0.75zM51.9 293.1h0.75v0.75h-0.75zM39.3 263.3h0.75v0.75h-0.75zM51.8 264.0h0.75v0.75h-0.75zM42.2 246.1h0.75v0.75h-0.75zM66.2 247.5h0.75v0.75h-0.75zM43.1 266.0h0.75v0.75h-0.75zM39.7 258.5h0.75v0.75h-0.75zM46.9 271.2h0.75v0.75h-0.75zM56.6 268.9h0.75v0.75h-0.75zM55.7 255.9h0.75v0.75h-0.75zM42.9 250.1h0.75v0.75h-0.75zM45.3 252.0h0.75v0.75h-0.75zM52.3 264.3h0.75v0.75h-0.75zM53.4 244.4h0.75v0.75h-0.75zM47.4 240.2h0.75v0.75h-0.75zM55.8 262.0h0.75v0.75h-0.75zM52.0 234.5h0.75v0.75h-0.75zM52.4 262.1h0.75v0.75h-0.75zM50.5 258.3h0.75v0.75h-0.75zM47.7 248.4h0.75v0.75h-0.75zM56.1 255.1h0.75v0.75h-0.75zM54.1 254.9h0.75v0.75h-0.75zM59.7 266.5h0.75v0.75h-0.75zM52.8 273.6h0.75v0.75h-0.75zM45.1 269.6h0.75v0.75h-0.75zM70.1 245.3h0.75v0.75h-0.75zM53.1 251.2h0.75v0.75h-0.75zM63.1 252.3h0.75v0.75h-0.75zM71.1 251.3h0.75v0.75h-0.75zM57.2 257.3h0.75v0.75h-0.75zM57.0 278.1h0.75v0.75h-0.75zM47.3 259.9h0.75v0.75h-0.75zM34.8 269.6h0.75v0.75h-0.75zM63.9 261.8h0.75v0.75h-0.75zM61.6 258.5h0.75v0.75h-0.75zM49.7 227.2h0.75v0.75h-0.75zM57.5 250.1h0.75v0.75h-0.75zM56.9 252.8h0.75v0.75h-0.75zM60.6 266.0h0.75v0.75h-0.75zM44.8 261.1h0.75v0.75h-0.75zM53.9 260.8h0.75v0.75h-0.75zM44.4 284.7h0.75v0.75h-0.75zM51.2 253.7h0.75v0.75h-0.75zM70.6 264.4h0.75v0.75h-0.75zM46.1 242.0h0.75v0.75h-0.75zM49.9 258.5h0.75v0.75h-0.75zM65.4 256.5h0.75v0.75h-0.75zM37.5 247.7h0.75v0.75h-0.75zM50.4 238.1h0.75v0.75h-0.75zM64.8 276.4h0.75v0.75h-0.75zM65.6 269.8h0.75v0.75h-0.75zM62.2 262.5h0.75v0.75h-0.75zM64.8 250.5h0.75v0.75h-0.75zM50.8 264.0h0.75v0.75h-0.75zM53.3 238.6h0.75v0.75h-0.75zM51.1 261.9h0.75v0.75h-0.75zM48.2 253.2h0.75v0.75h-0.75zM53.4 268.4h0.75v0.75h-0.75zM61.7 250.0h0.75v0.75h-0.75zM60.7 254.2h0.75v0.75h-0.75zM46.3 262.3h0.75v0.75h-0.75zM45.8 259.5h0.75v0.75h-0.75zM52.3 266.8h0.75v0.75h-0.75zM58.1 269.5h0.75v0.75h-0.75zM43.2 260.3h0.75v0.75h-0.75zM62.9 241.8h0.75v0.75h-0.75zM56.4 244.5h0.75v0.75h-0.75zM63.1 249.7h0.75v0.75h-0.75zM61.2 266.7h0.75v0.75h-0.75zM62.1 253.4h0.75v0.75h-0.75zM65.7 249.3h0.75v0.75h-0.75zM49.4 260.5h0.75v0.75h-0.75zM45.3 253.3h0.75v0.75h-0.75zM61.4 256.5h0.75v0.75h-0.75zM59.9 249.4h0.75v0.75h-0.75zM44.3 253.1h0.75v0.75h-0.75zM62.3 249.9h0.75v0.75h-0.75zM53.9 251.7h0.75v0.75h-0.75zM69.3 253.2h0.75v0.75h-0.75zM67.2 266.1h0.75v0.75h-0.75zM51.7 259.4h0.75v0.75h-0.75zM48.6 248.7h0.75v0.75h-0.75zM44.8 253.0h0.75v0.75h-0.75zM54.9 259.8h0.75v0.75h-0.75zM44.2 271.4h0.75v0.75h-0.75zM42.4 257.9h0.75v0.75h-0.75zM62.0 262.8h0.75v0.75h-0.75zM56.5 266.7h0.75v0.75h-0.75zM79.4 258.2h0.75v0.75h-0.75zM53.9 269.2h0.75v0.75h-0.75zM66.7 243.2h0.75v0.75h-0.75zM61.3 253.0h0.75v0.75h-0.75zM72.0 251.4h0.75v0.75h-0.75zM55.1 261.0h0.75v0.75h-0.75zM39.0 266.8h0.75v0.75h-0.75zM58.7 269.7h0.75v0.75h-0.75zM60.8 266.5h0.75v0.75h-0.75zM59.5 265.9h0.75v0.75h-0.75zM51.3 270.1h0.75v0.75h-0.75zM54.6 259.7h0.75v0.75h-0.75zM63.6 263.3h0.75v0.75h-0.75zM54.8 242.1h0.75v0.75h-0.75zM43.9 257.6h0.75v0.75h-0.75zM48.0 273.2h0.75v0.75h-0.75zM57.7 271.6h0.75v0.75h-0.75zM56.5 237.5h0.75v0.75h-0.75zM53.0 246.2h0.75v0.75h-0.75zM49.1 263.3h0.75v0.75h-0.75zM52.2 240.0h0.75v0.75h-0.75zM52.9 253.4h0.75v0.75h-0.75zM51.2 252.0h0.75v0.75h-0.75zM48.7 271.7h0.75v0.75h-0.75zM58.2 240.7h0.75v0.75h-0.75zM45.0 249.8h0.75v0.75h-0.75zM50.0 255.7h0.75v0.75h-0.75zM62.4 249.5h0.75v0.75h-0.75zM43.4 290.9h0.75v0.75h-0.75zM54.4 262.3h0.75v0.75h-0.75zM50.6 273.1h0.75v0.75h-0.75zM53.0 250.2h0.75v0.75h-0.75zM56.2 259.5h0.75v0.75h-0.75zM70.8 225.9h0.75v0.75h-0.75zM69.9 255.8h0.75v0.75h-0.75zM67.8 242.4h0.75v0.75h-0.75zM57.9 260.1h0.75v0.75h-0.75zM60.2 268.2h0.75v0.75h-0.75zM53.5 252.2h0.75v0.75h-0.75zM60.6 250.9h0.75v0.75h-0.75zM63.2 253.3h0.75v0.75h-0.75zM69.6 250.8h0.75v0.75h-0.75zM62.6 261.5h0.75v0.75h-0.75zM48.5 276.3h0.75v0.75h-0.75zM53.3 260.4h0.75v0.75h-0.75zM68.9 253.4h0.75v0.75h-0.75zM37.0 265.1h0.75v0.75h-0.75zM47.8 261.5h0.75v0.75h-0.75zM57.5 261.0h0.75v0.75h-0.75zM69.9 253.1h0.75v0.75h-0.75zM61.2 247.2h0.75v0.75h-0.75zM52.7 270.4h0.75v0.75h-0.75zM53.7 238.7h0.75v0.75h-0.75zM50.0 268.2h0.75v0.75h-0.75zM66.1 247.6h0.75v0.75h-0.75zM53.9 258.4h0.75v0.75h-0.75zM65.7 255.5h0.75v0.75h-0.75zM70.9 237.4h0.75v0.75h-0.75zM53.0 258.0h0.75v0.75h-0.75zM45.6 265.9h0.75v0.75h-0.75zM51.5 253.6h0.75v0.75h-0.75zM65.7 245.2h0.75v0.75h-0.75zM42.5 265.1h0.75v0.75h-0.75zM54.8 243.1h0.75v0.75h-0.75zM48.3 271.6h0.75v0.75h-0.75zM50.6 264.5h0.75v0.75h-0.75zM60.4 270.6h0.75v0.75h-0.75zM51.3 248.8h0.75v0.75h-0.75zM43.4 258.1h0.75v0.75h-0.75zM51.2 250.0h0.75v0.75h-0.75zM63.8 246.8h0.75v0.75h-0.75zM27.4 254.5h0.75v0.75h-0.75zM50.7 254.0h0.75v0.75h-0.75zM48.6 257.2h0.75v0.75h-0.75zM55.9 262.8h0.75v0.75h-0.75zM53.3 261.7h0.75v0.75h-0.75zM71.0 265.5h0.75v0.75h-0.75zM47.0 263.4h0.75v0.75h-0.75zM57.3 278.9h0.75v0.75h-0.75zM47.8 275.9h0.75v0.75h-0.75zM48.4 254.2h0.75v0.75h-0.75zM62.0 261.0h0.75v0.75h-0.75zM66.6 255.0h0.75v0.75h-0.75zM53.9 250.6h0.75v0.75h-0.75zM61.6 249.2h0.75v0.75h-0.75zM57.4 262.2h0.75v0.75h-0.75zM49.6 266.2h0.75v0.75h-0.75zM71.5 264.6h0.75v0.75h-0.75zM62.0 271.8h0.75v0.75h-0.75zM53.6 245.9h0.75v0.75h-0.75zM52.4 264.8h0.75v0.75h-0.75zM44.9 271.2h0.75v0.75h-0.75zM46.2 249.0h0.75v0.75h-0.75zM69.5 229.3h0.75v0.75h-0.75zM57.1 260.8h0.75v0.75h-0.75zM65.4 237.2h0.75v0.75h-0.75zM41.1 259.2h0.75v0.75h-0.75zM62.3 262.8h0.75v0.75h-0.75zM48.6 256.8h0.75v0.75h-0.75zM54.4 244.6h0.75v0.75h-0.75zM44.9 262.3h0.75v0.75h-0.75zM72.2 227.1h0.75v0.75h-0.75zM54.8 261.3h0.75v0.75h-0.75zM57.3 239.2h0.75v0.75h-0.75zM55.1 260.7h0.75v0.75h-0.75zM69.4 236.6h0.75v0.75h-0.75zM54.4 244.5h0.75v0.75h-0.75zM59.4 242.8h0.75v0.75h-0.75zM57.4 243.1h0.75v0.75h-0.75zM40.2 250.3h0.75v0.75h-0.75zM61.9 255.0h0.75v0.75h-0.75zM53.7 262.2h0.75v0.75h-0.75zM67.9 231.7h0.75v0.75h-0.75zM64.8 259.1h0.75v0.75h-0.75zM68.1 260.2h0.75v0.75h-0.75zM60.1 271.8h0.75v0.75h-0.75zM46.8 261.9h0.75v0.75h-0.75zM69.0 260.4h0.75v0.75h-0.75zM47.3 266.8h0.75v0.75h-0.75zM54.5 252.7h0.75v0.75h-0.75zM55.5 255.3h0.75v0.75h-0.75zM59.0 250.2h0.75v0.75h-0.75zM73.0 244.6h0.75v0.75h-0.75zM51.1 261.0h0.75v0.75h-0.75zM69.8 255.6h0.75v0.75h-0.75zM49.3 259.9h0.75v0.75h-0.75zM53.2 249.4h0.75v0.75h-0.75zM59.1 251.1h0.75v0.75h-0.75zM58.7 254.8h0.75v0.75h-0.75zM39.2 247.1h0.75v0.75h-0.75zM41.2 252.3h0.75v0.75h-0.75zM54.1 245.5h0.75v0.75h-0.75zM30.8 251.2h0.75v0.75h-0.75zM55.0 250.8h0.75v0.75h-0.75zM58.8 258.7h0.75v0.75h-0.75zM57.4 238.3h0.75v0.75h-0.75zM60.8 253.5h0.75v0.75h-0.75zM55.0 274.8h0.75v0.75h-0.75zM50.7 271.0h0.75v0.75h-0.75zM50.9 257.0h0.75v0.75h-0.75zM56.7 252.2h0.75v0.75h-0.75zM60.4 241.9h0.75v0.75h-0.75zM57.5 268.7h0.75v0.75h-0.75zM57.6 247.3h0.75v0.75h-0.75zM66.7 256.1h0.75v0.75h-0.75zM63.6 242.8h0.75v0.75h-0.75zM50.7 261.5h0.75v0.75h-0.75zM49.3 245.1h0.75v0.75h-0.75zM52.7 265.0h0.75v0.75h-0.75zM59.2 272.8h0.75v0.75h-0.75zM71.7 237.1h0.75v0.75h-0.75zM55.3 243.2h0.75v0.75h-0.75zM78.0 241.8h0.75v0.75h-0.75zM46.8 256.6h0.75v0.75h-0.75zM53.3 254.6h0.75v0.75h-0.75zM39.8 256.4h0.75v0.75h-0.75zM67.4 275.1h0.75v0.75h-0.75zM68.8 259.1h0.75v0.75h-0.75zM50.8 264.3h0.75v0.75h-0.75zM46.5 258.0h0.75v0.75h-0.75zM59.7 263.3h0.75v0.75h-0.75zM46.0 246.2h0.75v0.75h-0.75zM50.0 254.3h0.75v0.75h-0.75zM68.7 232.2h0.75v0.75h-0.75zM50.3 254.1h0.75v0.75h-0.75zM54.5 269.6h0.75v0.75h-0.75zM60.6 260.5h0.75v0.75h-0.75zM60.6 259.2h0.75v0.75h-0.75zM59.7 242.5h0.75v0.75h-0.75zM68.6 264.5h0.75v0.75h-0.75zM63.0 252.1h0.75v0.75h-0.75zM45.0 254.9h0.75v0.75h-0.75zM51.9 257.3h0.75v0.75h-0.75zM43.0 267.3h0.75v0.75h-0.75zM50.5 285.9h0.75v0.75h-0.75zM50.8 253.1h0.75v0.75h-0.75zM59.8 259.9h0.75v0.75h-0.75zM69.6 261.2h0.75v0.75h-0.75zM57.8 256.8h0.75v0.75h-0.75zM61.1 256.2h0.75v0.75h-0.75zM53.4 264.0h0.75v0.75h-0.75zM52.6 253.4h0.75v0.75h-0.75zM64.8 285.4h0.75v0.75h-0.75zM38.2 227.5h0.75v0.75h-0.75zM49.3 244.4h0.75v0.75h-0.75zM57.4 253.1h0.75v0.75h-0.75zM69.6 244.4h0.75v0.75h-0.75zM48.8 252.8h0.75v0.75h-0.75zM51.3 259.8h0.75v0.75h-0.75zM60.2 252.8h0.75v0.75h-0.75zM57.4 242.3h0.75v0.75h-0.75zM58.1 249.6h0.75v0.75h-0.75zM40.6 247.7h0.75v0.75h-0.75zM55.2 251.1h0.75v0.75h-0.75zM45.5 253.0h0.75v0.75h-0.75zM58.4 263.3h0.75v0.75h-0.75zM36.0 262.0h0.75v0.75h-0.75zM65.7 259.3h0.75v0.75h-0.75zM59.3 266.0h0.75v0.75h-0.75zM53.6 266.3h0.75v0.75h-0.75zM58.4 243.2h0.75v0.75h-0.75zM50.1 249.5h0.75v0.75h-0.75zM60.1 261.9h0.75v0.75h-0.75zM61.4 269.4h0.75v0.75h-0.75zM50.6 249.1h0.75v0.75h-0.75zM35.3 277.3h0.75v0.75h-0.75zM38.4 240.7h0.75v0.75h-0.75zM63.6 236.2h0.75v0.75h-0.75zM53.5 267.2h0.75v0.75h-0.75zM64.9 248.4h0.75v0.75h-0.75zM54.1 259.1h0.75v0.75h-0.75zM46.0 260.5h0.75v0.75h-0.75zM54.3 262.9h0.75v0.75h-0.75zM41.7 257.6h0.75v0.75h-0.75zM66.1 264.3h0.75v0.75h-0.75zM44.4 266.7h0.75v0.75h-0.75zM43.9 229.1h0.75v0.75h-0.75zM53.5 257.5h0.75v0.75h-0.75zM54.3 252.0h0.75v0.75h-0.75zM56.9 221.2h0.75v0.75h-0.75zM44.6 254.4h0.75v0.75h-0.75zM51.1 263.5h0.75v0.75h-0.75zM50.6 244.0h0.75v0.75h-0.75zM41.0 251.5h0.75v0.75h-0.75zM39.5 259.7h0.75v0.75h-0.75zM65.8 253.3h0.75v0.75h-0.75zM61.8 246.0h0.75v0.75h-0.75zM45.9 268.1h0.75v0.75h-0.75zM53.3 258.0h0.75v0.75h-0.75zM61.9 254.2h0.75v0.75h-0.75zM51.3 260.0h0.75v0.75h-0.75zM49.0 256.6h0.75v0.75h-0.75zM38.5 262.1h0.75v0.75h-0.75zM71.4 262.2h0.75v0.75h-0.75zM60.5 252.0h0.75v0.75h-0.75zM53.3 255.3h0.75v0.75h-0.75zM74.2 244.8h0.75v0.75h-0.75zM52.0 252.6h0.75v0.75h-0.75zM59.1 237.9h0.75v0.75h-0.75zM45.5 271.4h0.75v0.75h-0.75zM31.6 273.5h0.75v0.75h-0.75zM52.8 244.0h0.75v0.75h-0.75zM57.1 264.9h0.75v0.75h-0.75zM45.5 246.4h0.75v0.75h-0.75zM55.6 271.3h0.75v0.75h-0.75zM53.2 248.5h0.75v0.75h-0.75zM45.8 266.8h0.75v0.75h-0.75zM70.6 254.4h0.75v0.75h-0.75zM55.5 259.5h0.75v0.75h-0.75zM61.5 241.1h0.75v0.75h-0.75zM52.6 249.1h0.75v0.75h-0.75zM53.4 256.2h0.75v0.75h-0.75zM65.3 261.8h0.75v0.75h-0.75zM56.1 239.3h0.75v0.75h-0.75zM68.3 253.3h0.75v0.75h-0.75zM57.5 266.1h0.75v0.75h-0.75zM55.7 269.8h0.75v0.75h-0.75zM70.9 257.9h0.75v0.75h-0.75zM61.8 243.5h0.75v0.75h-0.75zM64.5 231.0h0.75v0.75h-0.75zM66.9 238.7h0.75v0.75h-0.75zM70.3 237.2h0.75v0.75h-0.75zM70.5 242.2h0.75v0.75h-0.75zM55.8 228.1h0.75v0.75h-0.75zM57.4 237.2h0.75v0.75h-0.75zM52.0 240.9h0.75v0.75h-0.75zM57.3 238.4h0.75v0.75h-0.75zM67.3 237.8h0.75v0.75h-0.75zM67.7 240.0h0.75v0.75h-0.75zM52.5 233.8h0.75v0.75h-0.75zM61.1 244.1h0.75v0.75h-0.75zM50.2 238.9h0.75v0.75h-0.75zM52.4 240.6h0.75v0.75h-0.75zM53.0 244.4h0.75v0.75h-0.75zM52.3 242.8h0.75v0.75h-0.75zM64.4 237.5h0.75v0.75h-0.75zM56.1 233.8h0.75v0.75h-0.75zM60.5 242.6h0.75v0.75h-0.75zM59.8 241.1h0.75v0.75h-0.75zM66.8 238.9h0.75v0.75h-0.75zM67.2 232.2h0.75v0.75h-0.75zM63.2 247.0h0.75v0.75h-0.75zM64.9 227.1h0.75v0.75h-0.75zM66.1 246.2h0.75v0.75h-0.75zM52.0 240.1h0.75v0.75h-0.75zM58.8 237.2h0.75v0.75h-0.75zM63.1 236.1h0.75v0.75h-0.75zM55.6 244.4h0.75v0.75h-0.75zM57.3 246.4h0.75v0.75h-0.75zM65.9 230.3h0.75v0.75h-0.75zM58.3 235.4h0.75v0.75h-0.75zM66.5 235.1h0.75v0.75h-0.75zM58.3 242.1h0.75v0.75h-0.75zM66.6 246.4h0.75v0.75h-0.75zM59.3 232.2h0.75v0.75h-0.75zM65.0 239.4h0.75v0.75h-0.75zM58.5 232.7h0.75v0.75h-0.75zM67.1 231.5h0.75v0.75h-0.75zM59.8 245.7h0.75v0.75h-0.75zM61.7 233.3h0.75v0.75h-0.75zM61.1 227.9h0.75v0.75h-0.75zM66.4 242.2h0.75v0.75h-0.75zM63.7 241.2h0.75v0.75h-0.75zM66.5 238.0h0.75v0.75h-0.75zM55.4 248.6h0.75v0.75h-0.75zM68.5 234.2h0.75v0.75h-0.75zM67.0 239.1h0.75v0.75h-0.75zM68.2 244.0h0.75v0.75h-0.75zM71.7 240.9h0.75v0.75h-0.75zM67.0 231.9h0.75v0.75h-0.75zM57.7 239.4h0.75v0.75h-0.75zM50.3 237.4h0.75v0.75h-0.75zM69.1 231.2h0.75v0.75h-0.75zM54.9 240.4h0.75v0.75h-0.75zM60.1 244.3h0.75v0.75h-0.75zM63.6 244.9h0.75v0.75h-0.75zM57.7 228.6h0.75v0.75h-0.75zM66.5 240.9h0.75v0.75h-0.75zM54.7 243.6h0.75v0.75h-0.75zM61.0 229.5h0.75v0.75h-0.75zM61.7 240.0h0.75v0.75h-0.75zM65.7 246.2h0.75v0.75h-0.75zM65.4 238.7h0.75v0.75h-0.75zM64.5 234.2h0.75v0.75h-0.75zM63.0 246.4h0.75v0.75h-0.75zM67.8 234.5h0.75v0.75h-0.75zM68.7 236.4h0.75v0.75h-0.75zM56.0 242.2h0.75v0.75h-0.75zM56.1 239.6h0.75v0.75h-0.75zM57.8 238.4h0.75v0.75h-0.75zM59.8 246.9h0.75v0.75h-0.75zM65.9 246.8h0.75v0.75h-0.75zM60.3 241.6h0.75v0.75h-0.75zM64.3 246.2h0.75v0.75h-0.75zM68.5 237.4h0.75v0.75h-0.75zM67.0 244.2h0.75v0.75h-0.75zM65.7 234.5h0.75v0.75h-0.75zM69.4 232.9h0.75v0.75h-0.75zM57.3 244.3h0.75v0.75h-0.75zM69.9 236.9h0.75v0.75h-0.75zM61.9 247.9h0.75v0.75h-0.75zM54.1 247.3h0.75v0.75h-0.75zM55.3 236.5h0.75v0.75h-0.75zM57.5 234.0h0.75v0.75h-0.75zM58.9 247.5h0.75v0.75h-0.75zM52.0 242.7h0.75v0.75h-0.75zM63.1 235.6h0.75v0.75h-0.75zM63.8 239.1h0.75v0.75h-0.75zM53.9 232.9h0.75v0.75h-0.75zM67.6 238.4h0.75v0.75h-0.75zM59.4 235.7h0.75v0.75h-0.75zM64.5 230.7h0.75v0.75h-0.75zM64.3 238.9h0.75v0.75h-0.75zM67.6 238.1h0.75v0.75h-0.75zM66.4 234.1h0.75v0.75h-0.75zM55.7 244.9h0.75v0.75h-0.75zM59.6 237.3h0.75v0.75h-0.75zM60.6 228.7h0.75v0.75h-0.75zM54.7 245.3h0.75v0.75h-0.75zM54.9 244.1h0.75v0.75h-0.75zM52.5 241.8h0.75v0.75h-0.75zM49.5 229.1h0.75v0.75h-0.75zM54.9 233.2h0.75v0.75h-0.75zM62.3 233.8h0.75v0.75h-0.75zM58.1 231.4h0.75v0.75h-0.75zM53.8 245.8h0.75v0.75h-0.75zM62.3 244.3h0.75v0.75h-0.75zM73.5 240.0h0.75v0.75h-0.75zM69.0 232.4h0.75v0.75h-0.75zM64.2 233.3h0.75v0.75h-0.75zM55.5 234.2h0.75v0.75h-0.75zM70.9 237.2h0.75v0.75h-0.75zM65.5 231.8h0.75v0.75h-0.75zM61.6 233.3h0.75v0.75h-0.75zM58.4 246.5h0.75v0.75h-0.75zM58.0 244.0h0.75v0.75h-0.75zM63.7 232.9h0.75v0.75h-0.75zM58.6 228.8h0.75v0.75h-0.75zM60.9 235.1h0.75v0.75h-0.75zM53.4 231.3h0.75v0.75h-0.75zM67.8 241.7h0.75v0.75h-0.75zM72.8 234.5h0.75v0.75h-0.75zM60.7 243.8h0.75v0.75h-0.75zM63.2 242.4h0.75v0.75h-0.75zM63.0 244.7h0.75v0.75h-0.75zM51.4 243.0h0.75v0.75h-0.75zM56.9 240.3h0.75v0.75h-0.75zM53.9 235.0h0.75v0.75h-0.75zM64.3 245.1h0.75v0.75h-0.75zM51.4 239.9h0.75v0.75h-0.75zM51.3 233.2h0.75v0.75h-0.75zM67.8 237.9h0.75v0.75h-0.75zM52.0 237.6h0.75v0.75h-0.75zM70.2 240.5h0.75v0.75h-0.75zM59.6 245.2h0.75v0.75h-0.75zM68.7 237.9h0.75v0.75h-0.75zM59.7 244.5h0.75v0.75h-0.75zM66.2 231.5h0.75v0.75h-0.75zM64.8 244.8h0.75v0.75h-0.75zM58.3 235.8h0.75v0.75h-0.75zM62.2 232.6h0.75v0.75h-0.75zM63.0 246.8h0.75v0.75h-0.75zM61.2 240.9h0.75v0.75h-0.75zM52.1 236.9h0.75v0.75h-0.75zM61.0 239.1h0.75v0.75h-0.75zM50.7 236.1h0.75v0.75h-0.75zM67.8 234.9h0.75v0.75h-0.75zM53.3 243.8h0.75v0.75h-0.75zM55.8 225.6h0.75v0.75h-0.75zM59.9 224.4h0.75v0.75h-0.75zM62.9 227.7h0.75v0.75h-0.75zM62.2 226.7h0.75v0.75h-0.75zM61.4 222.2h0.75v0.75h-0.75zM57.3 229.6h0.75v0.75h-0.75zM58.6 221.3h0.75v0.75h-0.75zM60.1 224.8h0.75v0.75h-0.75zM61.4 223.8h0.75v0.75h-0.75zM64.5 229.7h0.75v0.75h-0.75zM53.4 227.3h0.75v0.75h-0.75zM63.5 217.2h0.75v0.75h-0.75zM55.4 225.6h0.75v0.75h-0.75zM57.0 219.7h0.75v0.75h-0.75zM52.6 227.0h0.75v0.75h-0.75zM61.7 223.1h0.75v0.75h-0.75zM47.9 222.8h0.75v0.75h-0.75zM67.7 230.4h0.75v0.75h-0.75zM52.2 224.6h0.75v0.75h-0.75zM61.5 220.6h0.75v0.75h-0.75zM51.5 225.7h0.75v0.75h-0.75zM60.3 220.5h0.75v0.75h-0.75zM69.7 226.6h0.75v0.75h-0.75zM58.1 229.2h0.75v0.75h-0.75zM62.9 227.8h0.75v0.75h-0.75zM60.4 224.7h0.75v0.75h-0.75zM50.0 230.0h0.75v0.75h-0.75zM55.0 224.9h0.75v0.75h-0.75zM61.7 221.7h0.75v0.75h-0.75zM60.8 225.2h0.75v0.75h-0.75zM54.9 225.3h0.75v0.75h-0.75zM56.7 225.8h0.75v0.75h-0.75zM53.0 229.0h0.75v0.75h-0.75zM60.6 231.2h0.75v0.75h-0.75zM59.6 228.8h0.75v0.75h-0.75zM60.9 219.1h0.75v0.75h-0.75zM59.0 228.1h0.75v0.75h-0.75zM56.8 223.0h0.75v0.75h-0.75zM63.3 231.7h0.75v0.75h-0.75zM62.2 223.7h0.75v0.75h-0.75zM65.0 225.8h0.75v0.75h-0.75zM50.5 225.3h0.75v0.75h-0.75zM59.6 226.9h0.75v0.75h-0.75zM57.1 226.0h0.75v0.75h-0.75zM63.4 225.4h0.75v0.75h-0.75zM58.8 224.0h0.75v0.75h-0.75zM64.6 227.2h0.75v0.75h-0.75zM59.4 222.7h0.75v0.75h-0.75zM60.7 224.4h0.75v0.75h-0.75zM57.6 226.9h0.75v0.75h-0.75zM62.6 228.5h0.75v0.75h-0.75zM67.3 224.4h0.75v0.75h-0.75zM52.9 222.8h0.75v0.75h-0.75zM60.2 225.4h0.75v0.75h-0.75zM58.8 224.5h0.75v0.75h-0.75zM66.3 230.3h0.75v0.75h-0.75zM55.2 228.3h0.75v0.75h-0.75zM56.3 228.6h0.75v0.75h-0.75zM63.0 227.1h0.75v0.75h-0.75zM61.8 227.0h0.75v0.75h-0.75zM68.6 228.9h0.75v0.75h-0.75zM66.0 224.5h0.75v0.75h-0.75zM64.7 227.5h0.75v0.75h-0.75zM61.7 226.0h0.75v0.75h-0.75zM68.0 223.3h0.75v0.75h-0.75zM61.5 227.6h0.75v0.75h-0.75zM59.0 227.8h0.75v0.75h-0.75zM52.5 223.5h0.75v0.75h-0.75zM56.1 224.3h0.75v0.75h-0.75zM66.4 224.0h0.75v0.75h-0.75zM52.5 224.1h0.75v0.75h-0.75zM74.1 228.6h0.75v0.75h-0.75zM48.7 226.9h0.75v0.75h-0.75zM66.3 227.9h0.75v0.75h-0.75zM62.9 227.5h0.75v0.75h-0.75zM63.1 226.8h0.75v0.75h-0.75zM51.2 222.3h0.75v0.75h-0.75zM63.4 224.5h0.75v0.75h-0.75zM63.8 224.1h0.75v0.75h-0.75zM61.4 232.0h0.75v0.75h-0.75zM61.4 231.1h0.75v0.75h-0.75zM54.3 223.6h0.75v0.75h-0.75zM57.5 219.3h0.75v0.75h-0.75zM61.6 222.2h0.75v0.75h-0.75zM60.8 219.4h0.75v0.75h-0.75zM66.3 226.1h0.75v0.75h-0.75zM65.8 229.7h0.75v0.75h-0.75zM63.2 237.8h0.75v0.75h-0.75zM62.4 223.3h0.75v0.75h-0.75zM63.9 226.1h0.75v0.75h-0.75zM69.9 228.4h0.75v0.75h-0.75zM61.6 225.4h0.75v0.75h-0.75zM62.2 228.6h0.75v0.75h-0.75zM50.7 226.6h0.75v0.75h-0.75zM59.9 222.5h0.75v0.75h-0.75zM56.4 223.1h0.75v0.75h-0.75zM58.9 227.0h0.75v0.75h-0.75zM61.0 228.6h0.75v0.75h-0.75zM62.3 231.7h0.75v0.75h-0.75zM62.1 221.1h0.75v0.75h-0.75zM56.5 221.3h0.75v0.75h-0.75zM60.5 225.7h0.75v0.75h-0.75zM69.5 219.3h0.75v0.75h-0.75zM59.1 225.2h0.75v0.75h-0.75zM58.4 228.9h0.75v0.75h-0.75zM60.5 219.3h0.75v0.75h-0.75zM62.3 220.4h0.75v0.75h-0.75zM61.7 223.3h0.75v0.75h-0.75zM58.0 224.5h0.75v0.75h-0.75zM67.8 230.1h0.75v0.75h-0.75zM59.5 221.1h0.75v0.75h-0.75zM61.2 223.5h0.75v0.75h-0.75zM61.3 227.6h0.75v0.75h-0.75zM57.2 226.3h0.75v0.75h-0.75zM52.8 230.4h0.75v0.75h-0.75zM57.8 224.0h0.75v0.75h-0.75zM63.9 226.6h0.75v0.75h-0.75zM59.8 226.8h0.75v0.75h-0.75zM72.9 225.7h0.75v0.75h-0.75zM56.4 230.6h0.75v0.75h-0.75zM63.9 226.1h0.75v0.75h-0.75zM57.1 224.6h0.75v0.75h-0.75zM58.0 226.5h0.75v0.75h-0.75zM62.0 223.5h0.75v0.75h-0.75zM66.1 226.6h0.75v0.75h-0.75zM58.0 242.5h0.75v0.75h-0.75zM56.1 251.5h0.75v0.75h-0.75zM63.5 236.9h0.75v0.75h-0.75zM65.4 255.2h0.75v0.75h-0.75zM62.5 254.4h0.75v0.75h-0.75zM64.3 247.2h0.75v0.75h-0.75zM66.0 242.4h0.75v0.75h-0.75zM59.4 248.6h0.75v0.75h-0.75zM70.2 252.0h0.75v0.75h-0.75zM59.8 246.0h0.75v0.75h-0.75zM64.7 242.1h0.75v0.75h-0.75zM68.1 248.7h0.75v0.75h-0.75zM77.1 269.1h0.75v0.75h-0.75zM49.5 262.9h0.75v0.75h-0.75zM59.0 241.7h0.75v0.75h-0.75zM66.0 257.1h0.75v0.75h-0.75zM64.4 251.5h0.75v0.75h-0.75zM65.7 249.9h0.75v0.75h-0.75zM58.4 263.4h0.75v0.75h-0.75zM65.0 248.5h0.75v0.75h-0.75zM62.4 252.7h0.75v0.75h-0.75zM59.1 247.2h0.75v0.75h-0.75zM59.5 248.4h0.75v0.75h-0.75zM64.1 260.2h0.75v0.75h-0.75zM60.7 259.7h0.75v0.75h-0.75zM67.4 243.5h0.75v0.75h-0.75zM63.7 245.2h0.75v0.75h-0.75zM68.8 249.1h0.75v0.75h-0.75zM56.4 264.7h0.75v0.75h-0.75zM59.6 244.1h0.75v0.75h-0.75zM60.8 237.3h0.75v0.75h-0.75zM58.6 250.9h0.75v0.75h-0.75zM57.7 255.6h0.75v0.75h-0.75zM58.2 246.9h0.75v0.75h-0.75zM66.6 261.6h0.75v0.75h-0.75zM54.6 245.2h0.75v0.75h-0.75zM59.4 258.5h0.75v0.75h-0.75zM69.8 234.7h0.75v0.75h-0.75zM68.0 246.1h0.75v0.75h-0.75zM60.7 254.1h0.75v0.75h-0.75zM67.8 252.6h0.75v0.75h-0.75zM58.6 253.8h0.75v0.75h-0.75zM63.7 244.5h0.75v0.75h-0.75zM61.2 255.1h0.75v0.75h-0.75zM63.1 250.6h0.75v0.75h-0.75zM65.7 257.6h0.75v0.75h-0.75zM68.8 256.6h0.75v0.75h-0.75zM67.5 244.6h0.75v0.75h-0.75zM66.3 243.6h0.75v0.75h-0.75zM67.2 237.3h0.75v0.75h-0.75zM68.0 248.0h0.75v0.75h-0.75zM60.8 247.1h0.75v0.75h-0.75zM58.9 264.2h0.75v0.75h-0.75zM62.6 237.7h0.75v0.75h-0.75zM72.5 239.3h0.75v0.75h-0.75zM66.2 251.9h0.75v0.75h-0.75zM67.8 246.6h0.75v0.75h-0.75zM70.2 238.3h0.75v0.75h-0.75zM74.9 250.5h0.75v0.75h-0.75zM57.8 252.6h0.75v0.75h-0.75zM67.1 261.6h0.75v0.75h-0.75zM70.0 240.2h0.75v0.75h-0.75zM59.4 254.7h0.75v0.75h-0.75zM67.1 259.7h0.75v0.75h-0.75zM60.7 233.8h0.75v0.75h-0.75zM63.5 255.3h0.75v0.75h-0.75zM58.9 244.2h0.75v0.75h-0.75zM69.5 246.3h0.75v0.75h-0.75zM59.0 252.5h0.75v0.75h-0.75zM58.1 251.3h0.75v0.75h-0.75zM70.1 247.1h0.75v0.75h-0.75zM58.4 245.1h0.75v0.75h-0.75zM64.7 271.7h0.75v0.75h-0.75zM58.9 252.4h0.75v0.75h-0.75zM60.1 259.9h0.75v0.75h-0.75zM57.7 248.4h0.75v0.75h-0.75zM63.3 249.7h0.75v0.75h-0.75zM63.3 243.1h0.75v0.75h-0.75zM60.0 261.0h0.75v0.75h-0.75zM69.6 245.3h0.75v0.75h-0.75zM59.3 259.8h0.75v0.75h-0.75zM63.8 261.7h0.75v0.75h-0.75zM56.4 252.0h0.75v0.75h-0.75zM62.7 261.6h0.75v0.75h-0.75zM59.1 244.2h0.75v0.75h-0.75zM64.6 257.4h0.75v0.75h-0.75zM66.4 250.9h0.75v0.75h-0.75zM62.4 245.9h0.75v0.75h-0.75zM65.3 242.8h0.75v0.75h-0.75zM66.0 247.4h0.75v0.75h-0.75zM67.2 236.8h0.75v0.75h-0.75zM61.8 260.6h0.75v0.75h-0.75zM68.8 245.9h0.75v0.75h-0.75zM55.2 265.0h0.75v0.75h-0.75zM60.5 238.8h0.75v0.75h-0.75zM62.5 246.5h0.75v0.75h-0.75zM70.2 238.0h0.75v0.75h-0.75zM64.9 238.1h0.75v0.75h-0.75zM65.2 251.8h0.75v0.75h-0.75zM68.1 245.9h0.75v0.75h-0.75zM67.1 227.7h0.75v0.75h-0.75zM55.9 259.7h0.75v0.75h-0.75zM63.6 237.5h0.75v0.75h-0.75zM64.9 248.2h0.75v0.75h-0.75zM60.9 247.0h0.75v0.75h-0.75zM63.6 268.0h0.75v0.75h-0.75zM64.0 257.4h0.75v0.75h-0.75zM65.3 252.9h0.75v0.75h-0.75zM72.3 258.0h0.75v0.75h-0.75zM62.7 258.3h0.75v0.75h-0.75zM52.2 253.3h0.75v0.75h-0.75zM70.6 252.8h0.75v0.75h-0.75zM72.4 255.4h0.75v0.75h-0.75zM61.1 250.8h0.75v0.75h-0.75zM63.4 249.6h0.75v0.75h-0.75zM62.6 249.4h0.75v0.75h-0.75zM68.9 248.5h0.75v0.75h-0.75zM59.8 239.1h0.75v0.75h-0.75zM63.0 255.7h0.75v0.75h-0.75zM64.3 249.0h0.75v0.75h-0.75zM61.5 251.7h0.75v0.75h-0.75zM64.6 244.1h0.75v0.75h-0.75zM62.2 251.6h0.75v0.75h-0.75zM64.2 267.6h0.75v0.75h-0.75zM64.2 251.5h0.75v0.75h-0.75zM66.7 245.2h0.75v0.75h-0.75zM60.7 245.9h0.75v0.75h-0.75zM63.1 254.3h0.75v0.75h-0.75zM68.8 248.5h0.75v0.75h-0.75zM57.3 232.9h0.75v0.75h-0.75zM69.9 261.4h0.75v0.75h-0.75zM61.0 244.8h0.75v0.75h-0.75zM56.5 252.0h0.75v0.75h-0.75zM63.7 240.1h0.75v0.75h-0.75zM61.3 250.1h0.75v0.75h-0.75zM59.5 256.8h0.75v0.75h-0.75zM73.0 245.0h0.75v0.75h-0.75zM70.6 251.7h0.75v0.75h-0.75zM57.8 239.1h0.75v0.75h-0.75zM61.0 256.8h0.75v0.75h-0.75zM57.4 254.7h0.75v0.75h-0.75zM61.8 247.6h0.75v0.75h-0.75zM61.6 249.6h0.75v0.75h-0.75zM64.7 248.7h0.75v0.75h-0.75zM59.0 254.2h0.75v0.75h-0.75zM63.8 267.3h0.75v0.75h-0.75zM54.9 256.3h0.75v0.75h-0.75zM61.5 258.1h0.75v0.75h-0.75zM69.1 255.9h0.75v0.75h-0.75zM64.3 255.6h0.75v0.75h-0.75zM57.5 254.7h0.75v0.75h-0.75zM61.0 248.0h0.75v0.75h-0.75zM71.7 247.0h0.75v0.75h-0.75zM70.8 240.4h0.75v0.75h-0.75zM65.9 260.0h0.75v0.75h-0.75zM69.2 251.5h0.75v0.75h-0.75zM62.0 247.7h0.75v0.75h-0.75zM61.0 262.7h0.75v0.75h-0.75zM64.6 248.0h0.75v0.75h-0.75zM67.3 237.4h0.75v0.75h-0.75zM57.0 251.3h0.75v0.75h-0.75zM59.4 248.8h0.75v0.75h-0.75zM57.2 241.4h0.75v0.75h-0.75zM61.1 253.9h0.75v0.75h-0.75zM63.4 245.8h0.75v0.75h-0.75zM65.6 259.1h0.75v0.75h-0.75zM60.4 240.9h0.75v0.75h-0.75zM64.6 238.8h0.75v0.75h-0.75zM61.6 258.4h0.75v0.75h-0.75zM64.6 246.3h0.75v0.75h-0.75zM58.6 250.3h0.75v0.75h-0.75zM61.4 269.2h0.75v0.75h-0.75zM63.4 245.4h0.75v0.75h-0.75zM68.8 243.9h0.75v0.75h-0.75zM66.2 239.3h0.75v0.75h-0.75zM60.0 256.2h0.75v0.75h-0.75zM55.4 265.0h0.75v0.75h-0.75zM61.4 256.0h0.75v0.75h-0.75zM60.0 252.4h0.75v0.75h-0.75zM64.6 254.1h0.75v0.75h-0.75zM60.7 253.9h0.75v0.75h-0.75zM57.9 252.1h0.75v0.75h-0.75zM64.1 249.5h0.75v0.75h-0.75zM70.7 231.5h0.75v0.75h-0.75zM73.2 267.0h0.75v0.75h-0.75zM66.3 244.9h0.75v0.75h-0.75zM48.4 259.1h0.75v0.75h-0.75zM62.1 255.4h0.75v0.75h-0.75zM57.0 252.8h0.75v0.75h-0.75zM58.5 256.3h0.75v0.75h-0.75zM68.7 241.9h0.75v0.75h-0.75zM65.8 255.1h0.75v0.75h-0.75zM69.7 242.4h0.75v0.75h-0.75zM64.4 239.6h0.75v0.75h-0.75zM63.7 229.8h0.75v0.75h-0.75zM74.3 238.4h0.75v0.75h-0.75zM56.6 249.6h0.75v0.75h-0.75zM65.3 229.2h0.75v0.75h-0.75zM71.1 235.7h0.75v0.75h-0.75zM58.8 239.2h0.75v0.75h-0.75zM63.0 248.6h0.75v0.75h-0.75zM60.9 250.5h0.75v0.75h-0.75zM65.1 243.0h0.75v0.75h-0.75zM68.6 252.9h0.75v0.75h-0.75zM66.6 249.8h0.75v0.75h-0.75zM66.7 238.5h0.75v0.75h-0.75zM64.2 239.8h0.75v0.75h-0.75zM69.0 249.6h0.75v0.75h-0.75zM58.2 265.0h0.75v0.75h-0.75zM67.1 254.9h0.75v0.75h-0.75zM62.9 244.0h0.75v0.75h-0.75zM65.3 244.6h0.75v0.75h-0.75zM75.5 241.0h0.75v0.75h-0.75zM59.3 247.1h0.75v0.75h-0.75zM57.1 253.2h0.75v0.75h-0.75zM63.6 246.3h0.75v0.75h-0.75zM60.0 248.6h0.75v0.75h-0.75zM63.3 235.6h0.75v0.75h-0.75zM64.2 258.7h0.75v0.75h-0.75zM65.1 258.7h0.75v0.75h-0.75zM65.4 241.3h0.75v0.75h-0.75zM62.2 253.8h0.75v0.75h-0.75zM62.2 248.8h0.75v0.75h-0.75zM62.5 244.8h0.75v0.75h-0.75zM57.9 251.0h0.75v0.75h-0.75zM74.2 250.8h0.75v0.75h-0.75zM65.7 253.1h0.75v0.75h-0.75zM61.3 256.1h0.75v0.75h-0.75zM45.6 244.9h0.75v0.75h-0.75zM64.1 237.2h0.75v0.75h-0.75zM64.4 246.4h0.75v0.75h-0.75zM57.2 247.7h0.75v0.75h-0.75zM56.7 253.8h0.75v0.75h-0.75zM58.8 248.8h0.75v0.75h-0.75zM73.8 247.4h0.75v0.75h-0.75zM63.3 241.7h0.75v0.75h-0.75zM70.0 243.2h0.75v0.75h-0.75zM63.6 253.5h0.75v0.75h-0.75zM64.9 242.0h0.75v0.75h-0.75zM62.2 269.0h0.75v0.75h-0.75zM56.0 248.4h0.75v0.75h-0.75zM70.9 241.9h0.75v0.75h-0.75zM54.0 262.2h0.75v0.75h-0.75zM66.4 245.0h0.75v0.75h-0.75zM62.8 250.6h0.75v0.75h-0.75zM57.2 258.3h0.75v0.75h-0.75zM67.4 246.0h0.75v0.75h-0.75zM63.3 265.2h0.75v0.75h-0.75zM61.0 245.5h0.75v0.75h-0.75zM76.4 259.1h0.75v0.75h-0.75zM64.2 232.5h0.75v0.75h-0.75zM60.9 250.6h0.75v0.75h-0.75zM59.3 242.5h0.75v0.75h-0.75zM68.4 239.5h0.75v0.75h-0.75zM66.6 241.2h0.75v0.75h-0.75zM64.6 254.8h0.75v0.75h-0.75zM58.3 256.0h0.75v0.75h-0.75zM56.5 245.0h0.75v0.75h-0.75zM64.9 258.3h0.75v0.75h-0.75zM63.2 244.4h0.75v0.75h-0.75zM66.7 263.2h0.75v0.75h-0.75zM57.4 253.8h0.75v0.75h-0.75zM57.9 252.6h0.75v0.75h-0.75zM66.8 245.0h0.75v0.75h-0.75zM56.3 245.8h0.75v0.75h-0.75zM63.4 245.5h0.75v0.75h-0.75zM65.3 245.7h0.75v0.75h-0.75zM65.5 266.5h0.75v0.75h-0.75zM60.2 253.5h0.75v0.75h-0.75zM62.9 237.9h0.75v0.75h-0.75zM61.9 259.9h0.75v0.75h-0.75zM67.8 248.7h0.75v0.75h-0.75zM62.8 255.2h0.75v0.75h-0.75zM66.1 245.5h0.75v0.75h-0.75zM71.8 237.5h0.75v0.75h-0.75zM65.9 259.6h0.75v0.75h-0.75zM62.4 261.5h0.75v0.75h-0.75zM68.7 236.5h0.75v0.75h-0.75zM69.7 248.2h0.75v0.75h-0.75zM58.7 247.6h0.75v0.75h-0.75zM63.2 246.4h0.75v0.75h-0.75zM64.1 250.5h0.75v0.75h-0.75zM55.1 265.0h0.75v0.75h-0.75zM69.1 250.5h0.75v0.75h-0.75zM58.0 264.4h0.75v0.75h-0.75zM63.4 264.9h0.75v0.75h-0.75zM73.7 230.9h0.75v0.75h-0.75zM62.4 253.8h0.75v0.75h-0.75zM60.4 261.2h0.75v0.75h-0.75zM66.1 256.9h0.75v0.75h-0.75zM58.1 250.2h0.75v0.75h-0.75zM60.2 255.1h0.75v0.75h-0.75zM66.7 256.3h0.75v0.75h-0.75zM68.1 248.9h0.75v0.75h-0.75zM64.2 262.5h0.75v0.75h-0.75zM64.7 251.1h0.75v0.75h-0.75zM73.8 243.7h0.75v0.75h-0.75zM56.9 242.3h0.75v0.75h-0.75zM64.2 255.3h0.75v0.75h-0.75zM61.6 260.8h0.75v0.75h-0.75z" fill="#6C78BC" fill-opacity="0.5"/><path d="M67.0 250.6h0.75v0.75h-0.75zM58.9 243.9h0.75v0.75h-0.75zM64.9 242.6h0.75v0.75h-0.75zM63.4 249.1h0.75v0.75h-0.75zM68.7 243.9h0.75v0.75h-0.75zM64.5 246.7h0.75v0.75h-0.75zM61.4 253.8h0.75v0.75h-0.75zM67.3 239.2h0.75v0.75h-0.75zM69.2 263.8h0.75v0.75h-0.75zM64.5 253.4h0.75v0.75h-0.75zM60.4 248.3h0.75v0.75h-0.75zM65.1 249.1h0.75v0.75h-0.75zM68.8 242.6h0.75v0.75h-0.75zM63.2 253.9h0.75v0.75h-0.75zM63.8 248.4h0.75v0.75h-0.75zM63.6 252.9h0.75v0.75h-0.75zM57.4 269.7h0.75v0.75h-0.75zM66.6 242.0h0.75v0.75h-0.75zM60.9 243.2h0.75v0.75h-0.75zM65.5 236.8h0.75v0.75h-0.75zM72.4 243.8h0.75v0.75h-0.75zM59.2 265.5h0.75v0.75h-0.75zM64.0 253.4h0.75v0.75h-0.75zM63.3 248.4h0.75v0.75h-0.75zM71.1 234.5h0.75v0.75h-0.75zM64.9 244.7h0.75v0.75h-0.75zM62.8 249.9h0.75v0.75h-0.75zM57.7 256.1h0.75v0.75h-0.75zM64.7 253.6h0.75v0.75h-0.75zM61.9 255.7h0.75v0.75h-0.75zM62.4 255.8h0.75v0.75h-0.75zM68.7 252.9h0.75v0.75h-0.75zM59.1 251.9h0.75v0.75h-0.75zM60.5 264.4h0.75v0.75h-0.75zM64.7 241.1h0.75v0.75h-0.75zM58.8 260.6h0.75v0.75h-0.75zM60.6 253.8h0.75v0.75h-0.75zM62.9 249.4h0.75v0.75h-0.75zM62.5 250.5h0.75v0.75h-0.75zM69.6 242.4h0.75v0.75h-0.75zM65.8 252.8h0.75v0.75h-0.75zM61.7 243.2h0.75v0.75h-0.75zM60.9 254.8h0.75v0.75h-0.75zM64.6 256.9h0.75v0.75h-0.75zM65.3 250.4h0.75v0.75h-0.75zM64.1 251.6h0.75v0.75h-0.75zM64.2 254.5h0.75v0.75h-0.75zM61.0 258.2h0.75v0.75h-0.75zM69.6 247.8h0.75v0.75h-0.75zM66.0 241.4h0.75v0.75h-0.75zM64.4 240.1h0.75v0.75h-0.75zM67.4 249.3h0.75v0.75h-0.75zM67.7 256.6h0.75v0.75h-0.75zM61.5 256.3h0.75v0.75h-0.75zM69.3 263.6h0.75v0.75h-0.75zM63.7 253.8h0.75v0.75h-0.75zM61.8 255.0h0.75v0.75h-0.75zM66.1 259.3h0.75v0.75h-0.75zM63.5 250.6h0.75v0.75h-0.75zM65.7 248.4h0.75v0.75h-0.75zM71.1 232.9h0.75v0.75h-0.75zM58.1 248.3h0.75v0.75h-0.75zM66.4 249.5h0.75v0.75h-0.75zM65.5 239.3h0.75v0.75h-0.75zM66.1 253.1h0.75v0.75h-0.75zM69.7 254.0h0.75v0.75h-0.75zM61.9 245.6h0.75v0.75h-0.75zM60.1 247.9h0.75v0.75h-0.75zM63.7 258.6h0.75v0.75h-0.75zM69.7 248.9h0.75v0.75h-0.75zM66.1 248.3h0.75v0.75h-0.75zM59.6 254.9h0.75v0.75h-0.75zM61.5 239.8h0.75v0.75h-0.75zM61.1 261.0h0.75v0.75h-0.75zM60.0 260.4h0.75v0.75h-0.75zM59.3 250.9h0.75v0.75h-0.75zM65.8 246.8h0.75v0.75h-0.75zM60.7 251.0h0.75v0.75h-0.75zM69.8 252.8h0.75v0.75h-0.75zM64.7 253.7h0.75v0.75h-0.75zM68.1 257.9h0.75v0.75h-0.75zM63.1 244.3h0.75v0.75h-0.75zM60.6 251.5h0.75v0.75h-0.75zM63.0 250.4h0.75v0.75h-0.75zM61.9 267.6h0.75v0.75h-0.75zM61.6 260.4h0.75v0.75h-0.75zM61.1 245.6h0.75v0.75h-0.75zM60.0 243.8h0.75v0.75h-0.75zM58.4 246.1h0.75v0.75h-0.75zM63.2 255.0h0.75v0.75h-0.75zM57.9 254.8h0.75v0.75h-0.75zM63.6 250.1h0.75v0.75h-0.75zM56.6 255.5h0.75v0.75h-0.75zM66.3 257.1h0.75v0.75h-0.75zM63.0 258.7h0.75v0.75h-0.75zM64.3 243.8h0.75v0.75h-0.75zM65.8 256.1h0.75v0.75h-0.75zM64.8 249.6h0.75v0.75h-0.75zM63.2 254.8h0.75v0.75h-0.75zM57.8 253.9h0.75v0.75h-0.75zM59.6 247.8h0.75v0.75h-0.75zM64.7 258.2h0.75v0.75h-0.75zM64.0 243.8h0.75v0.75h-0.75zM73.5 249.5h0.75v0.75h-0.75zM54.7 252.1h0.75v0.75h-0.75zM61.5 246.7h0.75v0.75h-0.75zM67.7 263.4h0.75v0.75h-0.75zM64.4 240.9h0.75v0.75h-0.75zM67.0 249.8h0.75v0.75h-0.75zM62.6 251.8h0.75v0.75h-0.75zM60.0 252.5h0.75v0.75h-0.75zM65.3 257.7h0.75v0.75h-0.75zM71.0 243.8h0.75v0.75h-0.75zM65.3 244.3h0.75v0.75h-0.75zM64.4 257.7h0.75v0.75h-0.75zM66.3 247.4h0.75v0.75h-0.75zM70.3 254.3h0.75v0.75h-0.75zM68.3 249.3h0.75v0.75h-0.75zM68.7 247.7h0.75v0.75h-0.75zM67.1 249.4h0.75v0.75h-0.75zM64.0 239.6h0.75v0.75h-0.75zM67.4 252.9h0.75v0.75h-0.75zM61.9 251.1h0.75v0.75h-0.75zM66.1 253.8h0.75v0.75h-0.75zM56.8 262.2h0.75v0.75h-0.75zM60.5 264.0h0.75v0.75h-0.75zM68.0 249.8h0.75v0.75h-0.75zM64.7 251.8h0.75v0.75h-0.75zM62.6 260.7h0.75v0.75h-0.75zM61.7 247.1h0.75v0.75h-0.75zM63.2 239.5h0.75v0.75h-0.75zM67.6 241.0h0.75v0.75h-0.75zM69.3 254.9h0.75v0.75h-0.75zM71.1 244.0h0.75v0.75h-0.75zM63.0 247.3h0.75v0.75h-0.75zM66.8 243.2h0.75v0.75h-0.75zM62.9 234.7h0.75v0.75h-0.75zM64.2 251.4h0.75v0.75h-0.75zM71.0 242.3h0.75v0.75h-0.75zM67.4 252.9h0.75v0.75h-0.75zM67.1 241.6h0.75v0.75h-0.75zM51.8 250.3h0.75v0.75h-0.75zM67.4 250.2h0.75v0.75h-0.75zM69.1 263.3h0.75v0.75h-0.75zM61.6 248.0h0.75v0.75h-0.75zM69.4 237.1h0.75v0.75h-0.75zM55.2 254.5h0.75v0.75h-0.75zM65.2 260.0h0.75v0.75h-0.75zM66.6 249.0h0.75v0.75h-0.75zM62.0 238.1h0.75v0.75h-0.75zM65.9 245.4h0.75v0.75h-0.75zM62.7 252.6h0.75v0.75h-0.75zM56.8 251.6h0.75v0.75h-0.75zM61.8 264.3h0.75v0.75h-0.75zM63.6 257.9h0.75v0.75h-0.75zM60.5 240.3h0.75v0.75h-0.75zM67.2 246.8h0.75v0.75h-0.75zM59.3 258.8h0.75v0.75h-0.75zM65.8 237.8h0.75v0.75h-0.75zM63.2 264.0h0.75v0.75h-0.75zM64.4 240.6h0.75v0.75h-0.75zM61.1 260.4h0.75v0.75h-0.75zM69.4 253.2h0.75v0.75h-0.75zM58.7 257.3h0.75v0.75h-0.75zM61.1 247.4h0.75v0.75h-0.75zM62.3 258.0h0.75v0.75h-0.75zM65.8 253.5h0.75v0.75h-0.75zM62.5 247.0h0.75v0.75h-0.75zM67.9 244.7h0.75v0.75h-0.75zM63.0 254.2h0.75v0.75h-0.75zM63.4 257.0h0.75v0.75h-0.75zM66.0 253.9h0.75v0.75h-0.75zM72.2 243.9h0.75v0.75h-0.75zM71.5 239.0h0.75v0.75h-0.75zM61.2 233.6h0.75v0.75h-0.75zM61.6 245.2h0.75v0.75h-0.75zM66.6 258.0h0.75v0.75h-0.75zM72.3 244.0h0.75v0.75h-0.75zM67.8 247.6h0.75v0.75h-0.75zM57.5 223.1h0.75v0.75h-0.75zM62.8 237.0h0.75v0.75h-0.75zM67.1 242.6h0.75v0.75h-0.75zM66.4 244.7h0.75v0.75h-0.75zM65.8 242.9h0.75v0.75h-0.75zM65.5 262.2h0.75v0.75h-0.75zM65.4 240.1h0.75v0.75h-0.75zM61.2 251.8h0.75v0.75h-0.75zM66.9 240.6h0.75v0.75h-0.75zM60.8 239.7h0.75v0.75h-0.75zM70.3 250.2h0.75v0.75h-0.75zM65.2 246.6h0.75v0.75h-0.75zM70.9 252.1h0.75v0.75h-0.75zM63.7 258.6h0.75v0.75h-0.75zM66.1 247.4h0.75v0.75h-0.75zM62.7 250.5h0.75v0.75h-0.75zM69.0 238.7h0.75v0.75h-0.75zM58.1 256.5h0.75v0.75h-0.75zM67.8 259.1h0.75v0.75h-0.75zM66.1 238.9h0.75v0.75h-0.75zM67.0 250.4h0.75v0.75h-0.75zM60.4 239.9h0.75v0.75h-0.75zM58.5 252.1h0.75v0.75h-0.75zM59.4 253.8h0.75v0.75h-0.75zM63.5 254.7h0.75v0.75h-0.75zM67.1 242.7h0.75v0.75h-0.75zM62.7 255.6h0.75v0.75h-0.75zM61.7 257.8h0.75v0.75h-0.75zM66.2 255.7h0.75v0.75h-0.75zM61.9 256.1h0.75v0.75h-0.75zM63.3 251.8h0.75v0.75h-0.75zM66.3 245.4h0.75v0.75h-0.75zM63.9 233.4h0.75v0.75h-0.75zM61.6 255.1h0.75v0.75h-0.75zM60.2 236.3h0.75v0.75h-0.75zM58.9 249.4h0.75v0.75h-0.75zM66.4 253.1h0.75v0.75h-0.75zM59.0 254.3h0.75v0.75h-0.75zM59.7 258.9h0.75v0.75h-0.75zM65.4 245.1h0.75v0.75h-0.75zM62.4 249.9h0.75v0.75h-0.75zM62.0 258.8h0.75v0.75h-0.75zM65.1 245.7h0.75v0.75h-0.75zM65.6 239.9h0.75v0.75h-0.75zM64.6 247.5h0.75v0.75h-0.75zM62.0 250.2h0.75v0.75h-0.75zM64.8 239.5h0.75v0.75h-0.75zM65.3 270.4h0.75v0.75h-0.75zM66.8 245.0h0.75v0.75h-0.75zM65.3 261.3h0.75v0.75h-0.75zM60.2 262.8h0.75v0.75h-0.75z" fill="#4E9A50" fill-opacity="0.55"/><path d="M63.5 260.8h0.75v0.75h-0.75zM62.2 256.9h0.75v0.75h-0.75zM63.0 257.7h0.75v0.75h-0.75zM67.0 252.0h0.75v0.75h-0.75zM62.2 256.9h0.75v0.75h-0.75zM65.5 245.3h0.75v0.75h-0.75zM66.1 249.7h0.75v0.75h-0.75zM64.2 246.1h0.75v0.75h-0.75zM65.1 255.2h0.75v0.75h-0.75zM62.2 255.7h0.75v0.75h-0.75zM59.5 252.9h0.75v0.75h-0.75zM65.2 246.0h0.75v0.75h-0.75zM64.9 244.3h0.75v0.75h-0.75zM69.6 251.6h0.75v0.75h-0.75zM67.5 245.5h0.75v0.75h-0.75zM58.4 252.2h0.75v0.75h-0.75zM68.2 249.2h0.75v0.75h-0.75zM67.7 252.2h0.75v0.75h-0.75zM65.4 256.1h0.75v0.75h-0.75zM62.9 249.3h0.75v0.75h-0.75zM67.5 252.5h0.75v0.75h-0.75zM63.1 245.9h0.75v0.75h-0.75zM68.5 233.6h0.75v0.75h-0.75zM67.0 249.6h0.75v0.75h-0.75zM61.0 254.0h0.75v0.75h-0.75zM65.8 262.1h0.75v0.75h-0.75zM65.3 238.1h0.75v0.75h-0.75zM62.0 255.5h0.75v0.75h-0.75zM63.2 251.0h0.75v0.75h-0.75zM64.3 258.3h0.75v0.75h-0.75zM65.4 250.0h0.75v0.75h-0.75zM62.8 256.5h0.75v0.75h-0.75zM62.7 253.6h0.75v0.75h-0.75zM65.6 254.5h0.75v0.75h-0.75zM66.6 251.8h0.75v0.75h-0.75zM69.8 253.5h0.75v0.75h-0.75zM62.5 247.0h0.75v0.75h-0.75zM62.7 258.2h0.75v0.75h-0.75zM61.6 259.7h0.75v0.75h-0.75zM65.7 247.7h0.75v0.75h-0.75zM61.9 251.2h0.75v0.75h-0.75zM66.5 250.1h0.75v0.75h-0.75zM66.4 251.3h0.75v0.75h-0.75zM68.1 247.6h0.75v0.75h-0.75zM64.2 245.4h0.75v0.75h-0.75zM63.7 246.2h0.75v0.75h-0.75zM60.5 250.9h0.75v0.75h-0.75zM66.3 239.2h0.75v0.75h-0.75zM61.1 244.8h0.75v0.75h-0.75zM65.5 253.6h0.75v0.75h-0.75zM65.4 249.8h0.75v0.75h-0.75zM62.5 252.5h0.75v0.75h-0.75zM62.2 250.4h0.75v0.75h-0.75zM65.6 249.4h0.75v0.75h-0.75zM67.7 239.2h0.75v0.75h-0.75zM60.3 257.1h0.75v0.75h-0.75zM63.0 249.0h0.75v0.75h-0.75zM63.1 251.1h0.75v0.75h-0.75zM64.1 252.9h0.75v0.75h-0.75zM67.0 259.7h0.75v0.75h-0.75zM58.9 251.9h0.75v0.75h-0.75zM62.2 252.7h0.75v0.75h-0.75zM61.9 252.0h0.75v0.75h-0.75zM65.2 250.6h0.75v0.75h-0.75zM65.1 254.1h0.75v0.75h-0.75zM61.7 251.5h0.75v0.75h-0.75zM67.3 254.9h0.75v0.75h-0.75zM67.1 246.1h0.75v0.75h-0.75zM62.8 256.4h0.75v0.75h-0.75zM64.5 252.5h0.75v0.75h-0.75z" fill="#C8A040" fill-opacity="0.6"/><path d="M63.7 255.9h0.75v0.75h-0.75zM64.9 247.9h0.75v0.75h-0.75zM65.4 250.4h0.75v0.75h-0.75zM63.9 254.4h0.75v0.75h-0.75zM64.9 249.6h0.75v0.75h-0.75zM61.8 250.9h0.75v0.75h-0.75zM64.2 247.3h0.75v0.75h-0.75zM63.1 261.7h0.75v0.75h-0.75zM63.0 252.6h0.75v0.75h-0.75zM61.6 251.4h0.75v0.75h-0.75zM65.1 252.5h0.75v0.75h-0.75zM60.5 253.1h0.75v0.75h-0.75zM62.2 256.9h0.75v0.75h-0.75zM64.3 258.4h0.75v0.75h-0.75zM65.4 247.1h0.75v0.75h-0.75zM66.7 249.5h0.75v0.75h-0.75zM64.3 252.4h0.75v0.75h-0.75zM61.5 257.4h0.75v0.75h-0.75zM64.9 247.8h0.75v0.75h-0.75zM61.3 254.6h0.75v0.75h-0.75zM67.4 252.9h0.75v0.75h-0.75zM65.2 250.1h0.75v0.75h-0.75zM67.1 253.6h0.75v0.75h-0.75zM62.6 250.0h0.75v0.75h-0.75zM59.4 257.8h0.75v0.75h-0.75zM71.5 249.8h0.75v0.75h-0.75zM65.5 254.8h0.75v0.75h-0.75zM64.0 260.7h0.75v0.75h-0.75zM62.1 249.2h0.75v0.75h-0.75zM68.3 254.8h0.75v0.75h-0.75z" fill="#C84030" fill-opacity="0.6"/></g><path d="M29.9 216h1.4M29.9 232h1.4M29.9 249h1.4M29.9 265h1.4" stroke="#555" stroke-width="0.6"/><path d="M33 279.8v-1.2M36 279.8v-1.2M38 279.8v-1.2M40 279.8v-1.2M44 279.8v-1.2M50 279.8v-1.2M58 279.8v-1.2M62 279.8v-1.2M66 279.8v-1.2M70 279.8v-1.2M74 279.8v-1.2M82 279.8v-1.2M90 279.8v-1.2M98 279.8v-1.2" stroke="#555" stroke-width="0.6"/><g clip-path="url(#cB2)"><path d="M148.2 254.2h0.75v0.75h-0.75zM127.4 248.2h0.75v0.75h-0.75zM126.4 251.2h0.75v0.75h-0.75zM149.4 248.3h0.75v0.75h-0.75zM134.0 269.8h0.75v0.75h-0.75zM132.8 258.8h0.75v0.75h-0.75zM126.7 245.3h0.75v0.75h-0.75zM139.0 276.0h0.75v0.75h-0.75zM145.3 263.0h0.75v0.75h-0.75zM130.7 271.2h0.75v0.75h-0.75zM142.2 258.9h0.75v0.75h-0.75zM122.9 263.5h0.75v0.75h-0.75zM139.6 253.5h0.75v0.75h-0.75zM142.0 265.3h0.75v0.75h-0.75zM121.7 269.7h0.75v0.75h-0.75zM145.4 260.8h0.75v0.75h-0.75zM118.0 263.0h0.75v0.75h-0.75zM138.8 244.6h0.75v0.75h-0.75zM152.2 263.2h0.75v0.75h-0.75zM140.4 267.1h0.75v0.75h-0.75zM151.7 259.2h0.75v0.75h-0.75zM119.4 259.6h0.75v0.75h-0.75zM133.6 264.1h0.75v0.75h-0.75zM128.7 274.6h0.75v0.75h-0.75zM140.3 268.5h0.75v0.75h-0.75zM141.0 277.6h0.75v0.75h-0.75zM148.3 243.8h0.75v0.75h-0.75zM143.2 251.1h0.75v0.75h-0.75zM149.1 260.8h0.75v0.75h-0.75zM136.5 281.5h0.75v0.75h-0.75zM149.4 240.6h0.75v0.75h-0.75zM136.2 271.5h0.75v0.75h-0.75zM138.0 248.6h0.75v0.75h-0.75zM136.7 242.5h0.75v0.75h-0.75zM143.8 244.8h0.75v0.75h-0.75zM149.8 260.1h0.75v0.75h-0.75zM136.5 252.7h0.75v0.75h-0.75zM146.9 271.6h0.75v0.75h-0.75zM150.5 245.0h0.75v0.75h-0.75zM143.8 268.9h0.75v0.75h-0.75zM121.0 262.9h0.75v0.75h-0.75zM144.1 258.1h0.75v0.75h-0.75zM125.7 264.9h0.75v0.75h-0.75zM145.5 270.5h0.75v0.75h-0.75zM139.4 268.8h0.75v0.75h-0.75zM135.6 276.6h0.75v0.75h-0.75zM136.1 240.3h0.75v0.75h-0.75zM139.6 274.2h0.75v0.75h-0.75zM149.6 262.4h0.75v0.75h-0.75zM131.1 249.8h0.75v0.75h-0.75zM144.4 261.6h0.75v0.75h-0.75zM151.9 259.3h0.75v0.75h-0.75zM150.3 248.7h0.75v0.75h-0.75zM127.8 256.7h0.75v0.75h-0.75zM127.8 279.6h0.75v0.75h-0.75zM124.8 264.0h0.75v0.75h-0.75zM124.6 253.3h0.75v0.75h-0.75zM131.1 262.8h0.75v0.75h-0.75zM140.1 254.9h0.75v0.75h-0.75zM133.0 272.5h0.75v0.75h-0.75zM136.5 273.8h0.75v0.75h-0.75zM134.8 276.0h0.75v0.75h-0.75zM126.5 273.8h0.75v0.75h-0.75zM118.4 245.4h0.75v0.75h-0.75zM125.4 259.5h0.75v0.75h-0.75zM142.9 266.4h0.75v0.75h-0.75zM119.1 260.7h0.75v0.75h-0.75zM117.7 265.7h0.75v0.75h-0.75zM140.8 271.4h0.75v0.75h-0.75zM132.5 265.4h0.75v0.75h-0.75zM138.3 276.8h0.75v0.75h-0.75zM144.3 244.3h0.75v0.75h-0.75zM139.6 247.6h0.75v0.75h-0.75zM145.5 274.7h0.75v0.75h-0.75zM147.6 243.8h0.75v0.75h-0.75zM119.9 268.1h0.75v0.75h-0.75zM135.5 261.0h0.75v0.75h-0.75zM139.7 260.0h0.75v0.75h-0.75zM125.1 276.1h0.75v0.75h-0.75zM144.6 254.8h0.75v0.75h-0.75zM121.2 257.0h0.75v0.75h-0.75zM135.2 257.0h0.75v0.75h-0.75zM109.8 259.1h0.75v0.75h-0.75zM143.6 255.9h0.75v0.75h-0.75zM124.2 265.8h0.75v0.75h-0.75zM145.1 254.8h0.75v0.75h-0.75zM126.5 250.4h0.75v0.75h-0.75zM124.5 246.5h0.75v0.75h-0.75zM142.1 275.5h0.75v0.75h-0.75zM137.5 246.8h0.75v0.75h-0.75zM125.9 279.1h0.75v0.75h-0.75zM127.9 247.1h0.75v0.75h-0.75zM143.0 244.8h0.75v0.75h-0.75zM124.0 257.7h0.75v0.75h-0.75zM135.9 232.6h0.75v0.75h-0.75zM129.9 240.0h0.75v0.75h-0.75zM159.3 255.9h0.75v0.75h-0.75zM139.0 264.6h0.75v0.75h-0.75zM125.1 244.3h0.75v0.75h-0.75zM113.6 259.6h0.75v0.75h-0.75zM139.5 270.8h0.75v0.75h-0.75zM153.1 258.0h0.75v0.75h-0.75zM137.9 275.6h0.75v0.75h-0.75zM146.1 272.3h0.75v0.75h-0.75zM141.1 276.1h0.75v0.75h-0.75zM133.3 286.2h0.75v0.75h-0.75zM124.6 270.4h0.75v0.75h-0.75zM148.4 263.3h0.75v0.75h-0.75zM121.8 273.0h0.75v0.75h-0.75zM132.1 274.5h0.75v0.75h-0.75zM138.7 259.3h0.75v0.75h-0.75zM135.0 251.6h0.75v0.75h-0.75zM132.9 254.6h0.75v0.75h-0.75zM139.1 257.6h0.75v0.75h-0.75zM121.5 254.1h0.75v0.75h-0.75zM130.2 282.3h0.75v0.75h-0.75zM128.3 240.9h0.75v0.75h-0.75zM148.5 245.4h0.75v0.75h-0.75zM144.3 249.6h0.75v0.75h-0.75zM123.6 280.3h0.75v0.75h-0.75zM145.3 263.8h0.75v0.75h-0.75zM120.4 248.2h0.75v0.75h-0.75zM139.7 274.8h0.75v0.75h-0.75zM141.2 244.2h0.75v0.75h-0.75zM148.9 250.9h0.75v0.75h-0.75zM125.2 256.4h0.75v0.75h-0.75zM125.4 270.0h0.75v0.75h-0.75zM138.2 274.7h0.75v0.75h-0.75zM151.5 269.3h0.75v0.75h-0.75zM140.6 235.1h0.75v0.75h-0.75zM133.8 284.7h0.75v0.75h-0.75zM158.6 244.7h0.75v0.75h-0.75zM151.9 259.8h0.75v0.75h-0.75zM128.8 237.0h0.75v0.75h-0.75zM130.8 254.8h0.75v0.75h-0.75zM141.2 281.9h0.75v0.75h-0.75zM120.5 256.5h0.75v0.75h-0.75zM141.8 273.4h0.75v0.75h-0.75zM125.1 270.1h0.75v0.75h-0.75zM154.1 257.9h0.75v0.75h-0.75zM122.5 268.2h0.75v0.75h-0.75zM133.6 256.6h0.75v0.75h-0.75zM140.5 244.6h0.75v0.75h-0.75zM145.1 271.5h0.75v0.75h-0.75zM135.7 253.6h0.75v0.75h-0.75zM121.8 241.3h0.75v0.75h-0.75zM130.9 255.6h0.75v0.75h-0.75zM152.6 261.7h0.75v0.75h-0.75zM149.8 262.0h0.75v0.75h-0.75zM129.7 257.0h0.75v0.75h-0.75zM128.4 259.1h0.75v0.75h-0.75zM131.6 269.0h0.75v0.75h-0.75zM151.3 253.0h0.75v0.75h-0.75zM148.0 255.4h0.75v0.75h-0.75zM122.1 247.2h0.75v0.75h-0.75zM129.0 260.5h0.75v0.75h-0.75zM118.8 263.4h0.75v0.75h-0.75zM127.5 260.9h0.75v0.75h-0.75zM132.9 269.1h0.75v0.75h-0.75zM125.4 252.8h0.75v0.75h-0.75zM129.2 274.1h0.75v0.75h-0.75zM110.8 246.6h0.75v0.75h-0.75zM146.7 270.3h0.75v0.75h-0.75zM142.4 246.3h0.75v0.75h-0.75zM135.2 252.3h0.75v0.75h-0.75zM135.7 273.3h0.75v0.75h-0.75zM137.9 245.2h0.75v0.75h-0.75zM125.1 243.0h0.75v0.75h-0.75zM126.8 247.6h0.75v0.75h-0.75zM132.1 254.0h0.75v0.75h-0.75zM129.0 245.6h0.75v0.75h-0.75zM145.1 262.5h0.75v0.75h-0.75zM125.4 269.8h0.75v0.75h-0.75zM149.2 249.3h0.75v0.75h-0.75zM148.5 256.0h0.75v0.75h-0.75zM141.6 273.1h0.75v0.75h-0.75zM133.3 246.6h0.75v0.75h-0.75zM132.8 278.9h0.75v0.75h-0.75zM144.7 248.8h0.75v0.75h-0.75zM127.6 267.3h0.75v0.75h-0.75zM125.9 247.8h0.75v0.75h-0.75zM143.2 250.1h0.75v0.75h-0.75zM131.4 257.3h0.75v0.75h-0.75zM121.4 256.0h0.75v0.75h-0.75zM130.3 255.0h0.75v0.75h-0.75zM130.9 244.3h0.75v0.75h-0.75zM133.1 267.9h0.75v0.75h-0.75zM154.5 263.5h0.75v0.75h-0.75zM147.1 246.9h0.75v0.75h-0.75zM136.8 255.2h0.75v0.75h-0.75zM127.9 277.0h0.75v0.75h-0.75zM147.8 250.9h0.75v0.75h-0.75zM122.7 266.1h0.75v0.75h-0.75zM126.0 258.4h0.75v0.75h-0.75zM145.0 269.4h0.75v0.75h-0.75zM128.4 262.4h0.75v0.75h-0.75zM141.4 263.5h0.75v0.75h-0.75zM154.0 264.4h0.75v0.75h-0.75zM150.8 264.4h0.75v0.75h-0.75zM141.5 263.0h0.75v0.75h-0.75zM143.6 266.4h0.75v0.75h-0.75zM153.6 249.3h0.75v0.75h-0.75zM121.2 251.5h0.75v0.75h-0.75zM121.4 250.9h0.75v0.75h-0.75zM120.9 271.7h0.75v0.75h-0.75zM118.5 276.5h0.75v0.75h-0.75zM131.2 264.7h0.75v0.75h-0.75zM125.7 269.7h0.75v0.75h-0.75zM143.7 281.4h0.75v0.75h-0.75zM139.9 263.3h0.75v0.75h-0.75zM127.8 255.3h0.75v0.75h-0.75zM128.2 255.5h0.75v0.75h-0.75zM126.3 273.1h0.75v0.75h-0.75zM141.7 254.7h0.75v0.75h-0.75zM137.3 278.0h0.75v0.75h-0.75zM143.0 254.4h0.75v0.75h-0.75zM146.7 267.3h0.75v0.75h-0.75zM145.2 242.8h0.75v0.75h-0.75zM139.0 264.1h0.75v0.75h-0.75zM135.1 264.5h0.75v0.75h-0.75zM135.0 267.2h0.75v0.75h-0.75zM138.9 263.9h0.75v0.75h-0.75zM119.8 245.9h0.75v0.75h-0.75zM129.6 267.4h0.75v0.75h-0.75zM121.7 254.2h0.75v0.75h-0.75zM133.7 237.7h0.75v0.75h-0.75zM133.6 265.8h0.75v0.75h-0.75zM123.1 259.7h0.75v0.75h-0.75zM139.8 261.4h0.75v0.75h-0.75zM140.9 266.6h0.75v0.75h-0.75zM126.4 259.2h0.75v0.75h-0.75zM137.8 260.6h0.75v0.75h-0.75zM132.9 262.0h0.75v0.75h-0.75zM118.7 252.7h0.75v0.75h-0.75zM129.2 258.2h0.75v0.75h-0.75zM135.6 253.9h0.75v0.75h-0.75zM125.3 264.8h0.75v0.75h-0.75zM141.5 264.7h0.75v0.75h-0.75zM125.1 283.0h0.75v0.75h-0.75zM134.0 273.7h0.75v0.75h-0.75zM133.6 268.5h0.75v0.75h-0.75zM146.7 250.9h0.75v0.75h-0.75zM123.9 260.5h0.75v0.75h-0.75zM121.6 261.6h0.75v0.75h-0.75zM120.0 253.7h0.75v0.75h-0.75zM119.9 267.0h0.75v0.75h-0.75zM141.9 257.2h0.75v0.75h-0.75zM138.9 240.1h0.75v0.75h-0.75zM126.4 244.2h0.75v0.75h-0.75zM134.1 247.4h0.75v0.75h-0.75zM126.8 245.1h0.75v0.75h-0.75zM115.9 244.4h0.75v0.75h-0.75zM126.3 262.9h0.75v0.75h-0.75zM144.4 257.1h0.75v0.75h-0.75zM150.5 262.4h0.75v0.75h-0.75zM144.8 240.8h0.75v0.75h-0.75zM151.2 248.4h0.75v0.75h-0.75zM140.4 248.4h0.75v0.75h-0.75zM118.0 256.3h0.75v0.75h-0.75zM141.4 255.2h0.75v0.75h-0.75zM146.0 246.3h0.75v0.75h-0.75zM153.1 259.1h0.75v0.75h-0.75zM142.5 256.2h0.75v0.75h-0.75zM121.1 276.9h0.75v0.75h-0.75zM140.0 257.8h0.75v0.75h-0.75zM150.6 261.1h0.75v0.75h-0.75zM128.1 249.5h0.75v0.75h-0.75zM139.6 242.2h0.75v0.75h-0.75zM132.0 264.8h0.75v0.75h-0.75zM132.6 245.5h0.75v0.75h-0.75zM126.2 245.4h0.75v0.75h-0.75zM130.8 245.7h0.75v0.75h-0.75zM131.4 261.6h0.75v0.75h-0.75zM127.3 254.6h0.75v0.75h-0.75zM149.5 258.2h0.75v0.75h-0.75zM136.5 277.9h0.75v0.75h-0.75zM138.8 252.5h0.75v0.75h-0.75zM148.7 255.0h0.75v0.75h-0.75zM138.6 245.4h0.75v0.75h-0.75zM143.3 272.7h0.75v0.75h-0.75zM147.8 274.5h0.75v0.75h-0.75zM126.2 251.6h0.75v0.75h-0.75zM114.4 247.9h0.75v0.75h-0.75zM133.9 269.3h0.75v0.75h-0.75zM142.9 246.0h0.75v0.75h-0.75zM157.8 254.9h0.75v0.75h-0.75zM151.8 270.1h0.75v0.75h-0.75zM134.5 251.4h0.75v0.75h-0.75zM149.3 258.6h0.75v0.75h-0.75zM140.8 245.5h0.75v0.75h-0.75zM125.4 248.0h0.75v0.75h-0.75zM136.4 267.7h0.75v0.75h-0.75zM145.1 255.8h0.75v0.75h-0.75zM136.6 242.2h0.75v0.75h-0.75zM126.0 259.0h0.75v0.75h-0.75zM151.6 270.3h0.75v0.75h-0.75zM125.7 258.2h0.75v0.75h-0.75zM147.6 250.5h0.75v0.75h-0.75zM135.7 253.3h0.75v0.75h-0.75zM123.7 271.7h0.75v0.75h-0.75zM134.4 275.7h0.75v0.75h-0.75zM124.0 258.2h0.75v0.75h-0.75zM150.6 265.3h0.75v0.75h-0.75zM130.2 245.2h0.75v0.75h-0.75zM141.0 269.3h0.75v0.75h-0.75zM128.5 269.0h0.75v0.75h-0.75zM141.8 270.8h0.75v0.75h-0.75zM152.3 264.0h0.75v0.75h-0.75zM157.3 258.5h0.75v0.75h-0.75zM129.7 275.1h0.75v0.75h-0.75zM124.6 244.9h0.75v0.75h-0.75zM137.7 253.1h0.75v0.75h-0.75zM154.2 259.7h0.75v0.75h-0.75zM146.4 261.8h0.75v0.75h-0.75zM127.9 276.3h0.75v0.75h-0.75zM134.9 258.1h0.75v0.75h-0.75zM134.8 259.0h0.75v0.75h-0.75zM139.0 257.8h0.75v0.75h-0.75zM134.7 248.4h0.75v0.75h-0.75zM150.1 251.1h0.75v0.75h-0.75zM131.2 261.9h0.75v0.75h-0.75zM122.3 263.0h0.75v0.75h-0.75zM137.6 236.1h0.75v0.75h-0.75zM127.1 255.7h0.75v0.75h-0.75zM129.6 284.3h0.75v0.75h-0.75zM143.1 251.1h0.75v0.75h-0.75zM146.9 255.3h0.75v0.75h-0.75zM149.1 258.9h0.75v0.75h-0.75zM131.7 255.2h0.75v0.75h-0.75zM140.0 258.4h0.75v0.75h-0.75zM119.9 251.2h0.75v0.75h-0.75zM131.7 257.7h0.75v0.75h-0.75zM133.1 260.5h0.75v0.75h-0.75zM135.4 250.1h0.75v0.75h-0.75zM139.8 259.5h0.75v0.75h-0.75zM113.9 269.4h0.75v0.75h-0.75zM135.4 249.2h0.75v0.75h-0.75zM158.5 251.6h0.75v0.75h-0.75zM129.2 263.9h0.75v0.75h-0.75zM132.4 269.4h0.75v0.75h-0.75zM144.9 265.8h0.75v0.75h-0.75zM146.5 254.4h0.75v0.75h-0.75zM144.6 259.2h0.75v0.75h-0.75zM146.8 233.0h0.75v0.75h-0.75zM134.4 252.7h0.75v0.75h-0.75zM140.0 277.2h0.75v0.75h-0.75zM133.8 264.1h0.75v0.75h-0.75zM146.0 250.2h0.75v0.75h-0.75zM124.7 263.0h0.75v0.75h-0.75zM125.5 243.5h0.75v0.75h-0.75zM129.0 267.4h0.75v0.75h-0.75zM137.3 260.8h0.75v0.75h-0.75zM148.7 256.6h0.75v0.75h-0.75zM140.2 246.1h0.75v0.75h-0.75zM135.1 232.1h0.75v0.75h-0.75zM136.6 255.8h0.75v0.75h-0.75zM131.8 242.2h0.75v0.75h-0.75zM140.3 271.4h0.75v0.75h-0.75zM125.8 268.4h0.75v0.75h-0.75zM143.0 261.7h0.75v0.75h-0.75zM123.9 253.0h0.75v0.75h-0.75zM154.9 256.3h0.75v0.75h-0.75zM135.4 266.2h0.75v0.75h-0.75zM142.4 269.5h0.75v0.75h-0.75zM130.8 249.5h0.75v0.75h-0.75zM134.4 268.9h0.75v0.75h-0.75zM143.3 270.6h0.75v0.75h-0.75zM142.4 258.6h0.75v0.75h-0.75zM137.1 256.7h0.75v0.75h-0.75zM151.2 251.9h0.75v0.75h-0.75zM151.6 253.8h0.75v0.75h-0.75zM139.8 247.7h0.75v0.75h-0.75zM127.7 262.2h0.75v0.75h-0.75zM148.6 262.1h0.75v0.75h-0.75zM148.4 254.6h0.75v0.75h-0.75zM137.7 251.6h0.75v0.75h-0.75zM157.2 234.0h0.75v0.75h-0.75zM131.1 260.2h0.75v0.75h-0.75zM136.7 263.3h0.75v0.75h-0.75zM139.4 269.6h0.75v0.75h-0.75zM132.9 253.4h0.75v0.75h-0.75zM137.8 247.3h0.75v0.75h-0.75zM134.4 239.2h0.75v0.75h-0.75zM164.0 279.0h0.75v0.75h-0.75zM134.0 287.5h0.75v0.75h-0.75zM137.6 265.5h0.75v0.75h-0.75zM153.4 255.1h0.75v0.75h-0.75zM129.9 267.8h0.75v0.75h-0.75zM127.4 260.6h0.75v0.75h-0.75zM126.1 254.3h0.75v0.75h-0.75zM138.8 271.4h0.75v0.75h-0.75zM157.3 246.6h0.75v0.75h-0.75zM146.1 241.0h0.75v0.75h-0.75zM139.8 259.6h0.75v0.75h-0.75zM123.3 251.4h0.75v0.75h-0.75zM122.5 259.4h0.75v0.75h-0.75zM149.6 256.2h0.75v0.75h-0.75zM139.6 241.3h0.75v0.75h-0.75zM134.1 260.4h0.75v0.75h-0.75zM134.4 269.0h0.75v0.75h-0.75zM138.9 267.1h0.75v0.75h-0.75zM138.6 251.7h0.75v0.75h-0.75zM135.7 231.1h0.75v0.75h-0.75zM129.5 282.7h0.75v0.75h-0.75zM140.0 248.6h0.75v0.75h-0.75zM139.8 254.5h0.75v0.75h-0.75zM126.8 245.8h0.75v0.75h-0.75zM133.3 256.0h0.75v0.75h-0.75zM147.1 232.3h0.75v0.75h-0.75zM129.9 273.6h0.75v0.75h-0.75zM142.6 252.8h0.75v0.75h-0.75zM126.7 255.3h0.75v0.75h-0.75zM135.9 238.6h0.75v0.75h-0.75zM159.0 265.2h0.75v0.75h-0.75zM149.6 255.1h0.75v0.75h-0.75zM156.7 263.7h0.75v0.75h-0.75zM147.8 261.6h0.75v0.75h-0.75zM134.0 267.4h0.75v0.75h-0.75zM142.4 257.3h0.75v0.75h-0.75zM134.1 265.8h0.75v0.75h-0.75zM140.4 257.5h0.75v0.75h-0.75zM135.6 252.0h0.75v0.75h-0.75zM136.8 275.5h0.75v0.75h-0.75zM133.7 264.5h0.75v0.75h-0.75zM134.4 242.4h0.75v0.75h-0.75zM144.0 255.6h0.75v0.75h-0.75zM131.3 266.7h0.75v0.75h-0.75zM146.3 255.3h0.75v0.75h-0.75zM125.3 255.0h0.75v0.75h-0.75zM140.4 253.5h0.75v0.75h-0.75zM140.8 232.1h0.75v0.75h-0.75zM133.6 268.5h0.75v0.75h-0.75zM144.1 260.3h0.75v0.75h-0.75zM131.7 257.0h0.75v0.75h-0.75zM126.4 258.7h0.75v0.75h-0.75zM143.1 267.2h0.75v0.75h-0.75zM136.0 255.3h0.75v0.75h-0.75zM138.8 250.3h0.75v0.75h-0.75zM143.4 248.0h0.75v0.75h-0.75zM132.9 269.3h0.75v0.75h-0.75zM143.2 252.9h0.75v0.75h-0.75zM137.1 258.8h0.75v0.75h-0.75zM134.2 246.7h0.75v0.75h-0.75zM145.2 246.5h0.75v0.75h-0.75zM137.2 249.1h0.75v0.75h-0.75zM123.7 264.9h0.75v0.75h-0.75zM132.7 275.1h0.75v0.75h-0.75zM124.4 255.3h0.75v0.75h-0.75zM138.0 255.0h0.75v0.75h-0.75zM118.2 268.4h0.75v0.75h-0.75zM124.3 251.0h0.75v0.75h-0.75zM143.4 259.4h0.75v0.75h-0.75zM147.6 252.1h0.75v0.75h-0.75zM135.0 249.6h0.75v0.75h-0.75zM126.3 242.4h0.75v0.75h-0.75zM132.5 256.3h0.75v0.75h-0.75zM136.7 251.0h0.75v0.75h-0.75zM140.6 251.4h0.75v0.75h-0.75zM133.4 259.7h0.75v0.75h-0.75zM139.4 270.1h0.75v0.75h-0.75zM145.2 252.0h0.75v0.75h-0.75zM122.9 243.1h0.75v0.75h-0.75zM139.5 258.3h0.75v0.75h-0.75zM128.3 272.5h0.75v0.75h-0.75zM136.6 266.3h0.75v0.75h-0.75zM146.9 246.4h0.75v0.75h-0.75zM141.7 261.9h0.75v0.75h-0.75zM138.6 240.7h0.75v0.75h-0.75zM143.7 246.0h0.75v0.75h-0.75zM143.0 249.9h0.75v0.75h-0.75zM128.0 260.8h0.75v0.75h-0.75zM126.3 275.8h0.75v0.75h-0.75zM146.0 265.7h0.75v0.75h-0.75zM129.4 264.5h0.75v0.75h-0.75zM159.6 269.7h0.75v0.75h-0.75zM138.1 263.7h0.75v0.75h-0.75zM134.2 236.7h0.75v0.75h-0.75zM140.7 280.7h0.75v0.75h-0.75zM133.6 253.2h0.75v0.75h-0.75zM127.8 255.2h0.75v0.75h-0.75zM140.8 257.4h0.75v0.75h-0.75zM151.2 248.2h0.75v0.75h-0.75zM132.0 269.2h0.75v0.75h-0.75zM144.5 290.7h0.75v0.75h-0.75zM139.0 237.7h0.75v0.75h-0.75zM137.3 247.8h0.75v0.75h-0.75zM122.4 267.9h0.75v0.75h-0.75zM140.3 248.1h0.75v0.75h-0.75zM152.3 254.4h0.75v0.75h-0.75zM144.8 251.8h0.75v0.75h-0.75zM138.7 257.9h0.75v0.75h-0.75zM147.7 271.2h0.75v0.75h-0.75zM125.5 257.7h0.75v0.75h-0.75zM137.9 267.9h0.75v0.75h-0.75zM132.3 252.6h0.75v0.75h-0.75zM124.8 263.8h0.75v0.75h-0.75zM147.9 230.9h0.75v0.75h-0.75zM125.9 267.2h0.75v0.75h-0.75zM137.8 267.6h0.75v0.75h-0.75zM146.0 236.0h0.75v0.75h-0.75zM136.8 243.3h0.75v0.75h-0.75zM141.4 241.8h0.75v0.75h-0.75zM124.4 268.3h0.75v0.75h-0.75zM150.4 261.8h0.75v0.75h-0.75zM136.2 257.2h0.75v0.75h-0.75zM129.0 280.8h0.75v0.75h-0.75zM158.9 259.4h0.75v0.75h-0.75zM142.0 248.7h0.75v0.75h-0.75zM132.8 241.8h0.75v0.75h-0.75zM128.5 264.6h0.75v0.75h-0.75zM143.0 259.4h0.75v0.75h-0.75zM124.9 251.8h0.75v0.75h-0.75zM127.4 252.5h0.75v0.75h-0.75zM139.3 265.7h0.75v0.75h-0.75zM121.1 256.1h0.75v0.75h-0.75zM132.1 243.7h0.75v0.75h-0.75zM158.7 238.2h0.75v0.75h-0.75zM147.5 260.9h0.75v0.75h-0.75zM151.5 250.5h0.75v0.75h-0.75zM126.7 262.2h0.75v0.75h-0.75zM145.7 268.4h0.75v0.75h-0.75zM142.7 264.8h0.75v0.75h-0.75zM141.9 263.7h0.75v0.75h-0.75zM142.7 259.0h0.75v0.75h-0.75zM137.0 257.7h0.75v0.75h-0.75zM148.7 251.6h0.75v0.75h-0.75zM136.6 271.0h0.75v0.75h-0.75zM132.9 252.0h0.75v0.75h-0.75zM137.9 249.3h0.75v0.75h-0.75zM145.9 263.9h0.75v0.75h-0.75zM137.7 257.1h0.75v0.75h-0.75zM140.2 256.9h0.75v0.75h-0.75zM147.9 250.4h0.75v0.75h-0.75zM129.2 258.8h0.75v0.75h-0.75zM136.1 263.5h0.75v0.75h-0.75zM144.2 243.8h0.75v0.75h-0.75zM126.4 240.4h0.75v0.75h-0.75zM148.4 271.7h0.75v0.75h-0.75zM148.9 253.0h0.75v0.75h-0.75zM143.4 250.1h0.75v0.75h-0.75zM156.0 248.5h0.75v0.75h-0.75zM133.2 259.6h0.75v0.75h-0.75zM115.9 264.0h0.75v0.75h-0.75zM132.5 280.2h0.75v0.75h-0.75zM139.8 255.0h0.75v0.75h-0.75zM139.5 276.6h0.75v0.75h-0.75zM142.5 239.6h0.75v0.75h-0.75zM147.7 234.7h0.75v0.75h-0.75zM130.0 249.3h0.75v0.75h-0.75zM136.0 266.0h0.75v0.75h-0.75zM139.9 236.8h0.75v0.75h-0.75zM138.9 233.4h0.75v0.75h-0.75zM131.1 279.9h0.75v0.75h-0.75zM124.8 254.7h0.75v0.75h-0.75zM142.8 240.5h0.75v0.75h-0.75zM147.4 235.5h0.75v0.75h-0.75zM137.2 256.4h0.75v0.75h-0.75zM136.6 255.2h0.75v0.75h-0.75zM135.9 269.7h0.75v0.75h-0.75zM138.8 271.6h0.75v0.75h-0.75zM137.9 238.3h0.75v0.75h-0.75zM139.3 252.8h0.75v0.75h-0.75zM131.3 249.6h0.75v0.75h-0.75zM135.0 245.3h0.75v0.75h-0.75zM140.3 251.4h0.75v0.75h-0.75zM128.4 269.2h0.75v0.75h-0.75zM148.1 249.1h0.75v0.75h-0.75zM130.7 239.4h0.75v0.75h-0.75zM134.4 256.5h0.75v0.75h-0.75zM137.1 254.2h0.75v0.75h-0.75zM136.7 246.1h0.75v0.75h-0.75zM134.4 261.5h0.75v0.75h-0.75zM132.5 260.2h0.75v0.75h-0.75zM156.7 263.3h0.75v0.75h-0.75zM142.1 234.4h0.75v0.75h-0.75zM137.2 264.9h0.75v0.75h-0.75zM127.1 255.4h0.75v0.75h-0.75zM139.3 262.5h0.75v0.75h-0.75zM119.7 257.7h0.75v0.75h-0.75zM139.5 257.7h0.75v0.75h-0.75zM142.1 245.9h0.75v0.75h-0.75zM130.8 254.3h0.75v0.75h-0.75zM140.5 248.2h0.75v0.75h-0.75zM125.2 268.0h0.75v0.75h-0.75zM136.9 266.4h0.75v0.75h-0.75zM140.7 249.3h0.75v0.75h-0.75zM142.2 250.5h0.75v0.75h-0.75zM151.6 254.2h0.75v0.75h-0.75zM148.3 250.6h0.75v0.75h-0.75zM130.9 262.3h0.75v0.75h-0.75zM119.9 265.5h0.75v0.75h-0.75zM137.2 256.0h0.75v0.75h-0.75zM132.3 229.2h0.75v0.75h-0.75zM153.3 253.0h0.75v0.75h-0.75zM132.8 233.4h0.75v0.75h-0.75zM124.7 254.8h0.75v0.75h-0.75zM143.0 254.5h0.75v0.75h-0.75zM124.0 280.0h0.75v0.75h-0.75zM127.7 264.4h0.75v0.75h-0.75zM138.8 268.1h0.75v0.75h-0.75zM134.5 265.7h0.75v0.75h-0.75zM134.6 235.2h0.75v0.75h-0.75zM135.9 244.8h0.75v0.75h-0.75zM127.4 263.2h0.75v0.75h-0.75zM137.5 280.5h0.75v0.75h-0.75zM151.7 256.1h0.75v0.75h-0.75zM143.4 259.2h0.75v0.75h-0.75zM127.9 257.0h0.75v0.75h-0.75zM121.4 243.6h0.75v0.75h-0.75zM141.4 251.9h0.75v0.75h-0.75zM153.1 264.5h0.75v0.75h-0.75zM140.9 251.7h0.75v0.75h-0.75zM121.7 269.0h0.75v0.75h-0.75zM136.2 256.4h0.75v0.75h-0.75zM124.5 260.9h0.75v0.75h-0.75zM141.7 250.0h0.75v0.75h-0.75zM138.5 259.2h0.75v0.75h-0.75zM126.6 259.1h0.75v0.75h-0.75zM142.7 250.9h0.75v0.75h-0.75zM129.9 271.6h0.75v0.75h-0.75zM125.9 281.6h0.75v0.75h-0.75zM127.9 256.5h0.75v0.75h-0.75zM150.5 243.4h0.75v0.75h-0.75zM131.6 253.4h0.75v0.75h-0.75zM138.1 256.1h0.75v0.75h-0.75zM123.6 269.3h0.75v0.75h-0.75zM155.1 247.8h0.75v0.75h-0.75zM130.8 255.9h0.75v0.75h-0.75zM134.8 230.7h0.75v0.75h-0.75zM131.6 250.7h0.75v0.75h-0.75zM134.6 243.1h0.75v0.75h-0.75zM137.4 271.9h0.75v0.75h-0.75zM140.2 270.6h0.75v0.75h-0.75zM122.0 271.9h0.75v0.75h-0.75zM133.9 249.9h0.75v0.75h-0.75zM133.1 258.7h0.75v0.75h-0.75zM132.3 263.8h0.75v0.75h-0.75zM140.5 277.7h0.75v0.75h-0.75zM133.8 251.3h0.75v0.75h-0.75zM132.8 257.3h0.75v0.75h-0.75zM140.7 277.2h0.75v0.75h-0.75zM142.3 254.7h0.75v0.75h-0.75zM138.7 249.8h0.75v0.75h-0.75zM132.2 273.9h0.75v0.75h-0.75zM147.1 249.1h0.75v0.75h-0.75zM135.0 252.3h0.75v0.75h-0.75zM134.5 266.7h0.75v0.75h-0.75zM144.6 247.8h0.75v0.75h-0.75zM136.8 253.3h0.75v0.75h-0.75zM137.9 247.5h0.75v0.75h-0.75zM142.9 258.1h0.75v0.75h-0.75zM135.3 248.1h0.75v0.75h-0.75zM150.7 278.5h0.75v0.75h-0.75zM129.8 253.6h0.75v0.75h-0.75zM126.8 269.3h0.75v0.75h-0.75zM142.9 251.4h0.75v0.75h-0.75zM144.1 273.3h0.75v0.75h-0.75zM147.5 265.9h0.75v0.75h-0.75zM146.8 230.7h0.75v0.75h-0.75zM150.2 241.5h0.75v0.75h-0.75zM130.7 261.7h0.75v0.75h-0.75zM144.0 247.5h0.75v0.75h-0.75zM145.9 264.9h0.75v0.75h-0.75zM149.8 263.5h0.75v0.75h-0.75zM136.6 263.9h0.75v0.75h-0.75zM140.3 241.6h0.75v0.75h-0.75zM139.9 241.9h0.75v0.75h-0.75zM150.5 276.8h0.75v0.75h-0.75zM139.2 244.9h0.75v0.75h-0.75zM144.3 250.6h0.75v0.75h-0.75zM152.5 240.6h0.75v0.75h-0.75zM147.3 239.0h0.75v0.75h-0.75zM126.9 270.2h0.75v0.75h-0.75zM133.8 268.6h0.75v0.75h-0.75zM152.6 260.3h0.75v0.75h-0.75zM142.3 259.3h0.75v0.75h-0.75zM134.5 260.9h0.75v0.75h-0.75zM135.2 279.9h0.75v0.75h-0.75zM137.1 249.8h0.75v0.75h-0.75zM135.5 239.7h0.75v0.75h-0.75zM133.5 239.8h0.75v0.75h-0.75zM140.1 239.3h0.75v0.75h-0.75zM146.1 242.6h0.75v0.75h-0.75zM144.8 236.4h0.75v0.75h-0.75zM138.4 239.2h0.75v0.75h-0.75zM140.5 233.5h0.75v0.75h-0.75zM143.8 234.5h0.75v0.75h-0.75zM144.0 238.7h0.75v0.75h-0.75zM139.2 245.0h0.75v0.75h-0.75zM139.1 248.7h0.75v0.75h-0.75zM148.7 236.2h0.75v0.75h-0.75zM141.3 230.2h0.75v0.75h-0.75zM133.7 233.8h0.75v0.75h-0.75zM136.6 235.5h0.75v0.75h-0.75zM135.4 243.0h0.75v0.75h-0.75zM142.1 237.5h0.75v0.75h-0.75zM140.8 236.5h0.75v0.75h-0.75zM141.9 246.3h0.75v0.75h-0.75zM147.2 244.9h0.75v0.75h-0.75zM142.4 233.8h0.75v0.75h-0.75zM147.1 240.0h0.75v0.75h-0.75zM141.5 232.3h0.75v0.75h-0.75zM151.5 237.2h0.75v0.75h-0.75zM148.7 242.4h0.75v0.75h-0.75zM142.2 238.5h0.75v0.75h-0.75zM150.3 240.9h0.75v0.75h-0.75zM132.7 241.0h0.75v0.75h-0.75zM134.3 237.7h0.75v0.75h-0.75zM149.3 239.3h0.75v0.75h-0.75zM141.0 231.9h0.75v0.75h-0.75zM137.8 232.7h0.75v0.75h-0.75zM145.6 234.4h0.75v0.75h-0.75zM142.9 229.4h0.75v0.75h-0.75zM142.8 231.1h0.75v0.75h-0.75zM156.3 238.6h0.75v0.75h-0.75zM139.6 237.3h0.75v0.75h-0.75zM145.6 242.4h0.75v0.75h-0.75zM150.2 244.5h0.75v0.75h-0.75zM148.3 233.1h0.75v0.75h-0.75zM137.6 240.0h0.75v0.75h-0.75zM135.8 232.0h0.75v0.75h-0.75zM140.8 239.0h0.75v0.75h-0.75zM149.7 235.3h0.75v0.75h-0.75zM139.9 233.5h0.75v0.75h-0.75zM142.3 247.4h0.75v0.75h-0.75zM144.7 236.2h0.75v0.75h-0.75zM149.1 232.3h0.75v0.75h-0.75zM139.2 238.9h0.75v0.75h-0.75zM151.3 240.2h0.75v0.75h-0.75zM134.6 244.2h0.75v0.75h-0.75zM148.8 242.4h0.75v0.75h-0.75zM142.6 247.9h0.75v0.75h-0.75zM141.0 241.3h0.75v0.75h-0.75zM139.5 241.5h0.75v0.75h-0.75zM143.3 242.9h0.75v0.75h-0.75zM143.1 229.3h0.75v0.75h-0.75zM150.8 236.6h0.75v0.75h-0.75zM148.3 238.0h0.75v0.75h-0.75zM150.9 232.3h0.75v0.75h-0.75zM138.0 246.7h0.75v0.75h-0.75zM134.9 245.1h0.75v0.75h-0.75zM138.9 235.7h0.75v0.75h-0.75zM152.1 236.1h0.75v0.75h-0.75zM151.4 234.1h0.75v0.75h-0.75zM136.5 231.1h0.75v0.75h-0.75zM148.9 236.4h0.75v0.75h-0.75zM153.4 238.7h0.75v0.75h-0.75zM147.6 240.2h0.75v0.75h-0.75zM141.9 239.5h0.75v0.75h-0.75zM141.7 244.4h0.75v0.75h-0.75zM145.5 228.9h0.75v0.75h-0.75zM155.1 234.4h0.75v0.75h-0.75zM149.6 242.1h0.75v0.75h-0.75zM133.3 241.3h0.75v0.75h-0.75zM151.5 235.9h0.75v0.75h-0.75zM137.8 242.2h0.75v0.75h-0.75zM134.2 234.1h0.75v0.75h-0.75zM139.9 237.1h0.75v0.75h-0.75zM135.2 238.8h0.75v0.75h-0.75zM143.6 229.4h0.75v0.75h-0.75zM141.2 234.6h0.75v0.75h-0.75zM140.9 241.1h0.75v0.75h-0.75zM147.4 241.7h0.75v0.75h-0.75zM149.7 230.9h0.75v0.75h-0.75zM145.1 241.3h0.75v0.75h-0.75zM143.0 245.2h0.75v0.75h-0.75zM145.2 235.2h0.75v0.75h-0.75zM147.2 233.7h0.75v0.75h-0.75zM147.1 241.7h0.75v0.75h-0.75zM140.7 247.1h0.75v0.75h-0.75zM141.0 244.2h0.75v0.75h-0.75zM145.7 246.5h0.75v0.75h-0.75zM137.1 235.8h0.75v0.75h-0.75zM150.8 239.4h0.75v0.75h-0.75zM134.3 237.7h0.75v0.75h-0.75zM151.6 234.0h0.75v0.75h-0.75zM137.0 240.6h0.75v0.75h-0.75zM140.5 240.3h0.75v0.75h-0.75zM146.2 246.5h0.75v0.75h-0.75zM140.4 245.6h0.75v0.75h-0.75zM148.5 242.9h0.75v0.75h-0.75zM143.8 244.1h0.75v0.75h-0.75zM146.0 233.9h0.75v0.75h-0.75zM132.7 238.9h0.75v0.75h-0.75zM142.1 237.8h0.75v0.75h-0.75zM137.3 227.6h0.75v0.75h-0.75zM144.6 231.1h0.75v0.75h-0.75zM155.3 240.0h0.75v0.75h-0.75zM145.2 233.0h0.75v0.75h-0.75zM129.8 231.1h0.75v0.75h-0.75zM148.3 245.0h0.75v0.75h-0.75zM154.5 235.3h0.75v0.75h-0.75zM144.2 244.3h0.75v0.75h-0.75zM144.0 231.7h0.75v0.75h-0.75zM149.9 232.1h0.75v0.75h-0.75zM138.7 245.1h0.75v0.75h-0.75zM149.1 232.7h0.75v0.75h-0.75zM135.5 234.8h0.75v0.75h-0.75zM141.2 242.7h0.75v0.75h-0.75zM134.3 241.2h0.75v0.75h-0.75zM143.4 220.2h0.75v0.75h-0.75zM135.6 230.2h0.75v0.75h-0.75zM135.4 231.2h0.75v0.75h-0.75zM139.9 230.7h0.75v0.75h-0.75zM147.3 225.2h0.75v0.75h-0.75zM139.2 229.5h0.75v0.75h-0.75zM135.5 227.5h0.75v0.75h-0.75zM140.9 229.8h0.75v0.75h-0.75zM144.2 221.5h0.75v0.75h-0.75zM139.4 228.4h0.75v0.75h-0.75zM131.7 224.8h0.75v0.75h-0.75zM143.6 223.6h0.75v0.75h-0.75zM142.4 223.3h0.75v0.75h-0.75zM140.0 226.0h0.75v0.75h-0.75zM146.7 221.8h0.75v0.75h-0.75zM144.2 227.8h0.75v0.75h-0.75zM150.2 226.2h0.75v0.75h-0.75zM143.6 224.7h0.75v0.75h-0.75zM150.6 227.4h0.75v0.75h-0.75zM143.1 221.8h0.75v0.75h-0.75zM147.4 227.9h0.75v0.75h-0.75zM138.1 225.8h0.75v0.75h-0.75zM141.2 228.5h0.75v0.75h-0.75zM146.1 215.5h0.75v0.75h-0.75zM137.2 229.0h0.75v0.75h-0.75zM131.0 227.7h0.75v0.75h-0.75zM144.3 225.3h0.75v0.75h-0.75zM137.5 225.3h0.75v0.75h-0.75zM138.2 222.0h0.75v0.75h-0.75zM139.8 225.9h0.75v0.75h-0.75zM138.9 218.4h0.75v0.75h-0.75zM145.0 226.2h0.75v0.75h-0.75zM141.3 224.7h0.75v0.75h-0.75zM142.4 218.7h0.75v0.75h-0.75zM145.3 220.4h0.75v0.75h-0.75zM140.7 224.8h0.75v0.75h-0.75zM139.0 223.4h0.75v0.75h-0.75zM144.6 227.4h0.75v0.75h-0.75zM136.4 220.1h0.75v0.75h-0.75zM134.6 224.4h0.75v0.75h-0.75zM146.9 232.3h0.75v0.75h-0.75zM135.2 226.3h0.75v0.75h-0.75zM147.0 227.4h0.75v0.75h-0.75zM150.4 228.8h0.75v0.75h-0.75zM141.0 228.2h0.75v0.75h-0.75zM140.9 223.2h0.75v0.75h-0.75zM142.2 224.4h0.75v0.75h-0.75zM146.4 222.9h0.75v0.75h-0.75zM141.6 224.7h0.75v0.75h-0.75zM136.5 227.8h0.75v0.75h-0.75zM135.6 226.1h0.75v0.75h-0.75zM147.2 223.6h0.75v0.75h-0.75zM143.5 227.4h0.75v0.75h-0.75zM146.6 227.9h0.75v0.75h-0.75zM147.8 220.7h0.75v0.75h-0.75zM153.6 229.4h0.75v0.75h-0.75zM147.3 221.4h0.75v0.75h-0.75zM147.8 227.3h0.75v0.75h-0.75zM140.5 222.5h0.75v0.75h-0.75zM143.2 225.4h0.75v0.75h-0.75zM137.3 230.0h0.75v0.75h-0.75zM146.7 225.5h0.75v0.75h-0.75zM144.6 229.0h0.75v0.75h-0.75zM139.4 220.7h0.75v0.75h-0.75zM136.8 224.8h0.75v0.75h-0.75zM153.4 248.3h0.75v0.75h-0.75zM144.3 237.6h0.75v0.75h-0.75zM146.5 250.9h0.75v0.75h-0.75zM144.7 242.3h0.75v0.75h-0.75zM147.9 251.0h0.75v0.75h-0.75zM150.5 248.8h0.75v0.75h-0.75zM145.9 248.2h0.75v0.75h-0.75zM146.3 250.6h0.75v0.75h-0.75zM147.4 252.4h0.75v0.75h-0.75zM143.0 250.0h0.75v0.75h-0.75zM140.2 250.8h0.75v0.75h-0.75zM144.1 239.1h0.75v0.75h-0.75zM147.2 266.3h0.75v0.75h-0.75zM144.5 237.8h0.75v0.75h-0.75zM143.9 259.8h0.75v0.75h-0.75zM145.3 245.9h0.75v0.75h-0.75zM152.6 256.9h0.75v0.75h-0.75zM144.0 259.7h0.75v0.75h-0.75zM139.3 258.0h0.75v0.75h-0.75zM152.2 253.6h0.75v0.75h-0.75zM156.0 245.9h0.75v0.75h-0.75zM149.5 245.5h0.75v0.75h-0.75zM144.7 260.5h0.75v0.75h-0.75zM152.8 238.7h0.75v0.75h-0.75zM142.4 257.8h0.75v0.75h-0.75zM150.9 260.9h0.75v0.75h-0.75zM147.8 261.0h0.75v0.75h-0.75zM139.3 247.7h0.75v0.75h-0.75zM141.6 249.4h0.75v0.75h-0.75zM146.1 244.2h0.75v0.75h-0.75zM147.1 254.9h0.75v0.75h-0.75zM144.8 243.8h0.75v0.75h-0.75zM151.9 262.0h0.75v0.75h-0.75zM156.9 247.3h0.75v0.75h-0.75zM144.4 249.7h0.75v0.75h-0.75zM152.1 241.9h0.75v0.75h-0.75zM153.3 246.8h0.75v0.75h-0.75zM147.8 247.3h0.75v0.75h-0.75zM137.5 243.7h0.75v0.75h-0.75zM148.0 236.8h0.75v0.75h-0.75zM152.2 241.4h0.75v0.75h-0.75zM141.4 254.4h0.75v0.75h-0.75zM145.1 253.1h0.75v0.75h-0.75zM147.6 245.4h0.75v0.75h-0.75zM141.3 251.8h0.75v0.75h-0.75zM140.9 257.4h0.75v0.75h-0.75zM150.7 246.4h0.75v0.75h-0.75zM144.7 248.9h0.75v0.75h-0.75zM136.7 251.0h0.75v0.75h-0.75zM148.6 272.2h0.75v0.75h-0.75zM146.3 231.1h0.75v0.75h-0.75zM161.4 244.3h0.75v0.75h-0.75zM144.3 245.3h0.75v0.75h-0.75zM147.1 247.6h0.75v0.75h-0.75zM134.1 248.9h0.75v0.75h-0.75zM145.8 262.4h0.75v0.75h-0.75zM143.8 248.1h0.75v0.75h-0.75zM151.1 247.7h0.75v0.75h-0.75zM152.3 252.0h0.75v0.75h-0.75zM133.1 235.7h0.75v0.75h-0.75zM141.8 249.4h0.75v0.75h-0.75zM133.6 252.8h0.75v0.75h-0.75zM143.4 237.1h0.75v0.75h-0.75zM143.3 242.4h0.75v0.75h-0.75zM137.8 250.1h0.75v0.75h-0.75zM135.2 253.5h0.75v0.75h-0.75zM141.2 239.4h0.75v0.75h-0.75zM146.4 254.8h0.75v0.75h-0.75zM139.2 241.2h0.75v0.75h-0.75zM149.4 267.8h0.75v0.75h-0.75zM145.1 252.2h0.75v0.75h-0.75zM152.2 233.0h0.75v0.75h-0.75zM152.0 247.5h0.75v0.75h-0.75zM149.1 259.3h0.75v0.75h-0.75zM147.5 225.8h0.75v0.75h-0.75zM142.5 258.8h0.75v0.75h-0.75zM142.4 256.6h0.75v0.75h-0.75zM141.3 255.1h0.75v0.75h-0.75zM136.2 245.0h0.75v0.75h-0.75zM154.8 236.0h0.75v0.75h-0.75zM146.2 260.7h0.75v0.75h-0.75zM151.9 247.8h0.75v0.75h-0.75zM142.7 246.0h0.75v0.75h-0.75zM146.2 249.4h0.75v0.75h-0.75zM147.4 242.5h0.75v0.75h-0.75zM154.4 244.8h0.75v0.75h-0.75zM140.7 254.6h0.75v0.75h-0.75zM150.9 248.9h0.75v0.75h-0.75zM140.8 248.6h0.75v0.75h-0.75zM149.3 244.4h0.75v0.75h-0.75zM149.3 248.2h0.75v0.75h-0.75zM151.2 245.7h0.75v0.75h-0.75zM148.4 244.8h0.75v0.75h-0.75zM151.2 232.0h0.75v0.75h-0.75zM148.5 250.5h0.75v0.75h-0.75zM135.2 252.1h0.75v0.75h-0.75zM136.0 255.2h0.75v0.75h-0.75zM136.7 267.2h0.75v0.75h-0.75zM157.0 232.7h0.75v0.75h-0.75zM143.9 247.2h0.75v0.75h-0.75zM145.6 259.2h0.75v0.75h-0.75zM136.6 259.4h0.75v0.75h-0.75zM148.9 241.7h0.75v0.75h-0.75zM153.7 252.9h0.75v0.75h-0.75zM146.0 238.5h0.75v0.75h-0.75zM147.4 262.2h0.75v0.75h-0.75zM149.0 256.9h0.75v0.75h-0.75zM148.3 245.6h0.75v0.75h-0.75zM142.9 247.8h0.75v0.75h-0.75zM139.2 237.6h0.75v0.75h-0.75zM143.8 256.3h0.75v0.75h-0.75zM143.8 243.0h0.75v0.75h-0.75zM145.0 257.7h0.75v0.75h-0.75zM131.9 250.9h0.75v0.75h-0.75zM142.5 250.2h0.75v0.75h-0.75zM150.2 248.5h0.75v0.75h-0.75zM142.7 251.5h0.75v0.75h-0.75zM142.0 260.8h0.75v0.75h-0.75zM142.6 249.4h0.75v0.75h-0.75zM149.8 239.9h0.75v0.75h-0.75zM140.4 247.8h0.75v0.75h-0.75zM151.4 264.7h0.75v0.75h-0.75zM152.0 234.3h0.75v0.75h-0.75zM150.3 242.6h0.75v0.75h-0.75zM141.9 243.0h0.75v0.75h-0.75zM150.7 239.8h0.75v0.75h-0.75zM132.6 268.8h0.75v0.75h-0.75zM149.6 237.2h0.75v0.75h-0.75zM149.4 260.3h0.75v0.75h-0.75zM145.4 254.1h0.75v0.75h-0.75zM145.2 267.4h0.75v0.75h-0.75zM144.3 245.3h0.75v0.75h-0.75zM139.0 246.5h0.75v0.75h-0.75zM152.3 246.8h0.75v0.75h-0.75zM147.0 242.4h0.75v0.75h-0.75zM144.0 253.8h0.75v0.75h-0.75zM144.6 252.2h0.75v0.75h-0.75zM150.0 259.0h0.75v0.75h-0.75zM147.3 242.4h0.75v0.75h-0.75zM144.8 241.7h0.75v0.75h-0.75zM147.0 252.6h0.75v0.75h-0.75zM145.2 246.9h0.75v0.75h-0.75zM145.1 251.5h0.75v0.75h-0.75zM145.1 234.0h0.75v0.75h-0.75zM146.6 259.1h0.75v0.75h-0.75zM145.4 267.4h0.75v0.75h-0.75zM149.0 246.3h0.75v0.75h-0.75zM149.6 238.4h0.75v0.75h-0.75zM151.1 241.7h0.75v0.75h-0.75zM136.2 265.2h0.75v0.75h-0.75zM155.2 246.4h0.75v0.75h-0.75zM152.8 257.3h0.75v0.75h-0.75zM138.0 242.6h0.75v0.75h-0.75zM142.5 244.8h0.75v0.75h-0.75zM148.0 239.1h0.75v0.75h-0.75zM136.7 236.7h0.75v0.75h-0.75zM143.9 249.1h0.75v0.75h-0.75zM148.6 272.6h0.75v0.75h-0.75zM142.4 251.0h0.75v0.75h-0.75zM148.5 244.4h0.75v0.75h-0.75zM141.3 263.4h0.75v0.75h-0.75zM152.5 245.4h0.75v0.75h-0.75zM148.8 239.9h0.75v0.75h-0.75zM154.2 228.9h0.75v0.75h-0.75zM142.9 259.1h0.75v0.75h-0.75zM144.2 248.5h0.75v0.75h-0.75zM153.7 240.1h0.75v0.75h-0.75zM141.4 252.0h0.75v0.75h-0.75zM141.6 253.6h0.75v0.75h-0.75zM144.5 250.6h0.75v0.75h-0.75zM140.2 254.9h0.75v0.75h-0.75zM153.7 259.4h0.75v0.75h-0.75zM146.5 248.1h0.75v0.75h-0.75zM151.1 240.3h0.75v0.75h-0.75zM140.6 254.7h0.75v0.75h-0.75zM142.1 252.0h0.75v0.75h-0.75zM144.2 258.6h0.75v0.75h-0.75zM137.6 255.8h0.75v0.75h-0.75zM142.9 244.7h0.75v0.75h-0.75zM149.1 238.5h0.75v0.75h-0.75zM143.4 268.4h0.75v0.75h-0.75zM130.8 236.0h0.75v0.75h-0.75zM149.2 248.0h0.75v0.75h-0.75zM153.5 243.7h0.75v0.75h-0.75zM143.4 247.5h0.75v0.75h-0.75zM143.4 254.6h0.75v0.75h-0.75zM137.2 248.7h0.75v0.75h-0.75zM143.5 247.1h0.75v0.75h-0.75zM139.0 267.2h0.75v0.75h-0.75zM139.1 254.8h0.75v0.75h-0.75zM142.9 246.0h0.75v0.75h-0.75zM138.8 255.4h0.75v0.75h-0.75zM135.7 249.9h0.75v0.75h-0.75zM144.9 249.1h0.75v0.75h-0.75zM149.0 243.3h0.75v0.75h-0.75zM146.4 235.1h0.75v0.75h-0.75zM150.2 248.4h0.75v0.75h-0.75zM148.7 257.1h0.75v0.75h-0.75zM151.9 250.1h0.75v0.75h-0.75zM140.5 241.5h0.75v0.75h-0.75zM151.2 240.8h0.75v0.75h-0.75zM141.1 251.4h0.75v0.75h-0.75zM135.8 255.7h0.75v0.75h-0.75zM147.4 252.3h0.75v0.75h-0.75zM142.7 265.2h0.75v0.75h-0.75zM146.1 250.3h0.75v0.75h-0.75zM145.2 242.9h0.75v0.75h-0.75zM151.0 244.9h0.75v0.75h-0.75zM148.6 252.2h0.75v0.75h-0.75zM140.2 251.2h0.75v0.75h-0.75zM142.6 252.6h0.75v0.75h-0.75zM145.1 256.9h0.75v0.75h-0.75zM145.1 242.0h0.75v0.75h-0.75zM156.1 247.2h0.75v0.75h-0.75zM146.1 234.8h0.75v0.75h-0.75zM143.7 262.2h0.75v0.75h-0.75zM150.3 245.9h0.75v0.75h-0.75zM139.9 244.4h0.75v0.75h-0.75zM146.3 248.5h0.75v0.75h-0.75zM145.4 256.5h0.75v0.75h-0.75zM150.1 254.8h0.75v0.75h-0.75zM147.6 245.6h0.75v0.75h-0.75zM152.1 244.4h0.75v0.75h-0.75zM145.6 255.4h0.75v0.75h-0.75zM156.0 251.5h0.75v0.75h-0.75zM156.1 247.5h0.75v0.75h-0.75zM142.1 254.1h0.75v0.75h-0.75zM145.9 245.6h0.75v0.75h-0.75zM134.7 248.5h0.75v0.75h-0.75zM142.5 259.3h0.75v0.75h-0.75zM143.3 244.7h0.75v0.75h-0.75zM144.9 256.6h0.75v0.75h-0.75zM148.1 260.0h0.75v0.75h-0.75zM147.8 251.5h0.75v0.75h-0.75zM147.9 256.5h0.75v0.75h-0.75zM147.4 247.0h0.75v0.75h-0.75zM142.1 254.5h0.75v0.75h-0.75zM152.0 241.4h0.75v0.75h-0.75zM140.9 260.1h0.75v0.75h-0.75zM142.6 261.7h0.75v0.75h-0.75z" fill="#2A3276" fill-opacity="0.45"/><path d="M138.2 266.9h0.75v0.75h-0.75zM145.6 253.7h0.75v0.75h-0.75zM126.9 267.5h0.75v0.75h-0.75zM133.9 276.7h0.75v0.75h-0.75zM125.8 246.2h0.75v0.75h-0.75zM140.5 276.9h0.75v0.75h-0.75zM139.4 240.3h0.75v0.75h-0.75zM132.9 244.3h0.75v0.75h-0.75zM152.2 266.6h0.75v0.75h-0.75zM132.8 254.0h0.75v0.75h-0.75zM131.7 274.3h0.75v0.75h-0.75zM124.4 271.5h0.75v0.75h-0.75zM122.8 258.0h0.75v0.75h-0.75zM123.7 256.6h0.75v0.75h-0.75zM128.9 240.7h0.75v0.75h-0.75zM139.9 244.3h0.75v0.75h-0.75zM148.8 268.5h0.75v0.75h-0.75zM147.3 263.5h0.75v0.75h-0.75zM126.7 275.6h0.75v0.75h-0.75zM140.8 251.8h0.75v0.75h-0.75zM141.5 274.8h0.75v0.75h-0.75zM148.0 245.1h0.75v0.75h-0.75zM151.5 269.2h0.75v0.75h-0.75zM154.8 262.7h0.75v0.75h-0.75zM143.3 253.3h0.75v0.75h-0.75zM117.5 261.6h0.75v0.75h-0.75zM146.8 253.4h0.75v0.75h-0.75zM135.0 239.2h0.75v0.75h-0.75zM128.5 267.5h0.75v0.75h-0.75zM126.6 263.8h0.75v0.75h-0.75zM137.6 263.0h0.75v0.75h-0.75zM135.1 276.7h0.75v0.75h-0.75zM134.6 252.2h0.75v0.75h-0.75zM144.4 265.5h0.75v0.75h-0.75zM120.6 259.3h0.75v0.75h-0.75zM140.3 250.7h0.75v0.75h-0.75zM125.8 245.2h0.75v0.75h-0.75zM140.8 252.0h0.75v0.75h-0.75zM131.4 270.1h0.75v0.75h-0.75zM119.4 259.0h0.75v0.75h-0.75zM133.0 251.5h0.75v0.75h-0.75zM126.6 250.8h0.75v0.75h-0.75zM130.9 263.0h0.75v0.75h-0.75zM138.9 241.1h0.75v0.75h-0.75zM144.1 256.2h0.75v0.75h-0.75zM144.3 249.9h0.75v0.75h-0.75zM122.4 269.6h0.75v0.75h-0.75zM133.3 240.5h0.75v0.75h-0.75zM149.5 260.3h0.75v0.75h-0.75zM126.8 245.6h0.75v0.75h-0.75zM129.4 267.5h0.75v0.75h-0.75zM145.5 254.5h0.75v0.75h-0.75zM148.1 252.2h0.75v0.75h-0.75zM119.2 262.1h0.75v0.75h-0.75zM142.9 268.3h0.75v0.75h-0.75zM144.1 284.0h0.75v0.75h-0.75zM137.1 248.8h0.75v0.75h-0.75zM130.5 240.2h0.75v0.75h-0.75zM129.7 273.3h0.75v0.75h-0.75zM148.7 259.8h0.75v0.75h-0.75zM143.3 282.6h0.75v0.75h-0.75zM134.5 269.5h0.75v0.75h-0.75zM152.9 275.4h0.75v0.75h-0.75zM135.8 273.7h0.75v0.75h-0.75zM137.7 264.7h0.75v0.75h-0.75zM121.9 259.9h0.75v0.75h-0.75zM142.3 264.3h0.75v0.75h-0.75zM136.2 279.8h0.75v0.75h-0.75zM153.8 265.4h0.75v0.75h-0.75zM120.5 257.3h0.75v0.75h-0.75zM144.9 260.6h0.75v0.75h-0.75zM125.4 251.6h0.75v0.75h-0.75zM123.9 261.4h0.75v0.75h-0.75zM123.0 275.2h0.75v0.75h-0.75zM133.9 229.6h0.75v0.75h-0.75zM133.1 280.6h0.75v0.75h-0.75zM119.5 249.4h0.75v0.75h-0.75zM144.4 259.3h0.75v0.75h-0.75zM145.5 275.3h0.75v0.75h-0.75zM125.1 240.6h0.75v0.75h-0.75zM118.6 260.2h0.75v0.75h-0.75zM144.9 249.0h0.75v0.75h-0.75zM135.9 267.1h0.75v0.75h-0.75zM131.4 249.9h0.75v0.75h-0.75zM131.8 261.2h0.75v0.75h-0.75zM147.4 254.8h0.75v0.75h-0.75zM142.5 275.1h0.75v0.75h-0.75zM128.5 249.0h0.75v0.75h-0.75zM133.5 251.6h0.75v0.75h-0.75zM139.6 242.7h0.75v0.75h-0.75zM130.3 262.2h0.75v0.75h-0.75zM151.2 260.3h0.75v0.75h-0.75zM136.2 278.4h0.75v0.75h-0.75zM124.2 250.2h0.75v0.75h-0.75zM144.9 254.4h0.75v0.75h-0.75zM121.3 264.2h0.75v0.75h-0.75zM143.0 263.0h0.75v0.75h-0.75zM128.6 260.9h0.75v0.75h-0.75zM137.4 262.5h0.75v0.75h-0.75zM149.6 261.0h0.75v0.75h-0.75zM136.7 274.1h0.75v0.75h-0.75zM133.7 270.4h0.75v0.75h-0.75zM133.5 278.8h0.75v0.75h-0.75zM119.5 267.8h0.75v0.75h-0.75zM121.7 247.9h0.75v0.75h-0.75zM148.0 244.6h0.75v0.75h-0.75zM124.1 235.5h0.75v0.75h-0.75zM119.6 251.9h0.75v0.75h-0.75zM147.0 249.0h0.75v0.75h-0.75zM161.0 266.5h0.75v0.75h-0.75zM133.1 249.5h0.75v0.75h-0.75zM143.4 275.3h0.75v0.75h-0.75zM131.5 265.0h0.75v0.75h-0.75zM129.9 275.7h0.75v0.75h-0.75zM121.4 268.3h0.75v0.75h-0.75zM150.8 250.3h0.75v0.75h-0.75zM147.6 248.1h0.75v0.75h-0.75zM143.7 269.0h0.75v0.75h-0.75zM147.3 265.3h0.75v0.75h-0.75zM124.9 258.6h0.75v0.75h-0.75zM142.2 245.4h0.75v0.75h-0.75zM144.7 272.2h0.75v0.75h-0.75zM136.3 259.6h0.75v0.75h-0.75zM118.2 265.5h0.75v0.75h-0.75zM142.9 253.1h0.75v0.75h-0.75zM118.3 252.9h0.75v0.75h-0.75zM145.6 243.7h0.75v0.75h-0.75zM122.0 258.4h0.75v0.75h-0.75zM141.4 257.7h0.75v0.75h-0.75zM132.5 253.2h0.75v0.75h-0.75zM131.1 247.1h0.75v0.75h-0.75zM144.5 246.3h0.75v0.75h-0.75zM144.2 278.2h0.75v0.75h-0.75zM118.1 264.7h0.75v0.75h-0.75zM121.4 257.0h0.75v0.75h-0.75zM146.8 280.7h0.75v0.75h-0.75zM137.5 257.4h0.75v0.75h-0.75zM147.8 266.9h0.75v0.75h-0.75zM132.8 264.7h0.75v0.75h-0.75zM128.7 258.0h0.75v0.75h-0.75zM135.6 273.7h0.75v0.75h-0.75zM126.1 271.0h0.75v0.75h-0.75zM147.9 268.4h0.75v0.75h-0.75zM143.7 276.0h0.75v0.75h-0.75zM137.1 275.6h0.75v0.75h-0.75zM130.4 247.4h0.75v0.75h-0.75zM124.1 272.5h0.75v0.75h-0.75zM147.8 251.8h0.75v0.75h-0.75zM149.8 260.3h0.75v0.75h-0.75zM124.1 260.8h0.75v0.75h-0.75zM137.8 249.7h0.75v0.75h-0.75zM123.0 250.9h0.75v0.75h-0.75zM126.6 272.9h0.75v0.75h-0.75zM117.5 261.4h0.75v0.75h-0.75zM125.9 272.9h0.75v0.75h-0.75zM131.2 258.9h0.75v0.75h-0.75zM123.9 254.5h0.75v0.75h-0.75zM129.9 245.7h0.75v0.75h-0.75zM144.1 247.1h0.75v0.75h-0.75zM150.1 262.6h0.75v0.75h-0.75zM131.2 252.1h0.75v0.75h-0.75zM143.4 262.8h0.75v0.75h-0.75zM136.9 273.5h0.75v0.75h-0.75zM148.1 248.4h0.75v0.75h-0.75zM138.2 276.3h0.75v0.75h-0.75zM153.5 252.7h0.75v0.75h-0.75zM127.4 257.3h0.75v0.75h-0.75zM117.9 260.6h0.75v0.75h-0.75zM134.7 263.4h0.75v0.75h-0.75zM121.2 266.1h0.75v0.75h-0.75zM128.5 274.8h0.75v0.75h-0.75zM123.0 239.1h0.75v0.75h-0.75zM118.6 262.7h0.75v0.75h-0.75zM150.5 265.4h0.75v0.75h-0.75zM133.4 266.2h0.75v0.75h-0.75zM126.5 246.6h0.75v0.75h-0.75zM148.6 267.3h0.75v0.75h-0.75zM123.6 273.1h0.75v0.75h-0.75zM134.6 268.5h0.75v0.75h-0.75zM142.4 264.9h0.75v0.75h-0.75zM132.4 278.1h0.75v0.75h-0.75zM139.1 274.7h0.75v0.75h-0.75zM133.9 271.0h0.75v0.75h-0.75zM121.2 255.0h0.75v0.75h-0.75zM123.0 248.5h0.75v0.75h-0.75zM137.3 274.1h0.75v0.75h-0.75zM145.4 254.7h0.75v0.75h-0.75zM120.1 260.9h0.75v0.75h-0.75zM128.4 268.7h0.75v0.75h-0.75zM132.6 253.3h0.75v0.75h-0.75zM132.2 273.4h0.75v0.75h-0.75zM152.7 236.6h0.75v0.75h-0.75zM149.0 265.5h0.75v0.75h-0.75zM145.5 262.4h0.75v0.75h-0.75zM128.0 250.2h0.75v0.75h-0.75zM122.6 275.7h0.75v0.75h-0.75zM120.9 260.2h0.75v0.75h-0.75zM137.0 267.1h0.75v0.75h-0.75zM142.1 256.0h0.75v0.75h-0.75zM135.9 251.1h0.75v0.75h-0.75zM152.7 256.8h0.75v0.75h-0.75zM135.6 266.2h0.75v0.75h-0.75zM131.0 236.3h0.75v0.75h-0.75zM132.7 275.8h0.75v0.75h-0.75zM123.8 260.0h0.75v0.75h-0.75zM124.5 243.8h0.75v0.75h-0.75zM135.5 271.6h0.75v0.75h-0.75zM136.1 245.6h0.75v0.75h-0.75zM138.3 244.9h0.75v0.75h-0.75zM128.6 266.1h0.75v0.75h-0.75zM131.9 257.2h0.75v0.75h-0.75zM123.5 279.0h0.75v0.75h-0.75zM128.8 266.5h0.75v0.75h-0.75zM145.6 246.6h0.75v0.75h-0.75zM127.9 248.1h0.75v0.75h-0.75zM147.3 245.3h0.75v0.75h-0.75zM132.5 252.8h0.75v0.75h-0.75zM128.5 246.0h0.75v0.75h-0.75zM149.7 262.6h0.75v0.75h-0.75zM142.4 243.5h0.75v0.75h-0.75zM148.1 263.5h0.75v0.75h-0.75zM122.7 255.4h0.75v0.75h-0.75zM143.6 265.8h0.75v0.75h-0.75zM129.5 240.9h0.75v0.75h-0.75zM131.0 276.6h0.75v0.75h-0.75zM118.6 251.7h0.75v0.75h-0.75zM116.6 266.9h0.75v0.75h-0.75zM122.6 264.2h0.75v0.75h-0.75zM131.7 240.4h0.75v0.75h-0.75zM140.9 257.6h0.75v0.75h-0.75zM137.2 236.6h0.75v0.75h-0.75zM136.9 242.3h0.75v0.75h-0.75zM145.0 264.2h0.75v0.75h-0.75zM128.5 240.7h0.75v0.75h-0.75zM146.8 246.9h0.75v0.75h-0.75zM141.8 243.4h0.75v0.75h-0.75zM130.3 271.3h0.75v0.75h-0.75zM122.9 255.3h0.75v0.75h-0.75zM125.4 259.0h0.75v0.75h-0.75zM117.9 248.2h0.75v0.75h-0.75zM148.5 245.4h0.75v0.75h-0.75zM151.1 270.9h0.75v0.75h-0.75zM118.2 260.0h0.75v0.75h-0.75zM144.0 266.8h0.75v0.75h-0.75zM144.4 279.2h0.75v0.75h-0.75zM123.6 254.7h0.75v0.75h-0.75zM133.1 238.4h0.75v0.75h-0.75zM151.9 279.0h0.75v0.75h-0.75zM139.4 259.9h0.75v0.75h-0.75zM128.7 270.1h0.75v0.75h-0.75zM126.3 244.3h0.75v0.75h-0.75zM138.3 275.0h0.75v0.75h-0.75zM148.2 271.6h0.75v0.75h-0.75zM125.0 248.9h0.75v0.75h-0.75zM148.9 247.4h0.75v0.75h-0.75zM143.4 249.4h0.75v0.75h-0.75zM137.0 253.7h0.75v0.75h-0.75zM127.1 279.8h0.75v0.75h-0.75zM123.7 268.4h0.75v0.75h-0.75zM140.5 261.9h0.75v0.75h-0.75zM113.7 252.2h0.75v0.75h-0.75zM125.9 258.8h0.75v0.75h-0.75zM134.1 272.1h0.75v0.75h-0.75zM121.7 266.3h0.75v0.75h-0.75zM139.2 243.3h0.75v0.75h-0.75zM149.3 262.7h0.75v0.75h-0.75zM144.9 250.2h0.75v0.75h-0.75zM153.9 254.0h0.75v0.75h-0.75zM144.4 262.1h0.75v0.75h-0.75zM150.3 247.9h0.75v0.75h-0.75zM133.9 267.4h0.75v0.75h-0.75zM120.3 239.2h0.75v0.75h-0.75zM134.8 254.1h0.75v0.75h-0.75zM150.0 248.1h0.75v0.75h-0.75zM130.6 248.8h0.75v0.75h-0.75zM132.2 258.8h0.75v0.75h-0.75zM147.8 264.0h0.75v0.75h-0.75zM136.9 268.2h0.75v0.75h-0.75zM121.6 276.3h0.75v0.75h-0.75zM125.7 244.3h0.75v0.75h-0.75zM127.0 271.6h0.75v0.75h-0.75zM119.5 264.8h0.75v0.75h-0.75zM141.3 254.1h0.75v0.75h-0.75zM141.6 249.3h0.75v0.75h-0.75zM138.8 274.4h0.75v0.75h-0.75zM119.0 260.5h0.75v0.75h-0.75zM122.6 262.4h0.75v0.75h-0.75zM148.5 263.7h0.75v0.75h-0.75zM147.6 264.4h0.75v0.75h-0.75zM120.2 258.0h0.75v0.75h-0.75zM120.8 263.2h0.75v0.75h-0.75zM148.3 257.3h0.75v0.75h-0.75zM142.4 262.6h0.75v0.75h-0.75zM135.2 250.1h0.75v0.75h-0.75zM136.4 261.6h0.75v0.75h-0.75zM130.0 277.5h0.75v0.75h-0.75zM126.2 253.4h0.75v0.75h-0.75zM134.6 254.1h0.75v0.75h-0.75zM133.4 259.7h0.75v0.75h-0.75zM145.8 259.1h0.75v0.75h-0.75zM124.4 263.2h0.75v0.75h-0.75zM116.9 272.1h0.75v0.75h-0.75zM146.9 260.4h0.75v0.75h-0.75zM143.3 246.2h0.75v0.75h-0.75zM141.3 247.5h0.75v0.75h-0.75zM151.7 259.9h0.75v0.75h-0.75zM145.2 274.2h0.75v0.75h-0.75zM139.3 245.9h0.75v0.75h-0.75zM122.1 247.2h0.75v0.75h-0.75zM147.1 247.4h0.75v0.75h-0.75zM139.2 276.3h0.75v0.75h-0.75zM140.8 247.6h0.75v0.75h-0.75zM144.3 269.3h0.75v0.75h-0.75zM120.8 249.4h0.75v0.75h-0.75zM135.4 279.7h0.75v0.75h-0.75zM138.2 263.1h0.75v0.75h-0.75zM134.5 260.4h0.75v0.75h-0.75zM133.9 261.8h0.75v0.75h-0.75zM117.4 265.7h0.75v0.75h-0.75zM117.5 254.8h0.75v0.75h-0.75zM145.8 251.7h0.75v0.75h-0.75zM146.5 258.8h0.75v0.75h-0.75zM151.6 251.3h0.75v0.75h-0.75zM138.9 256.9h0.75v0.75h-0.75zM148.4 264.8h0.75v0.75h-0.75zM127.2 245.7h0.75v0.75h-0.75zM151.8 229.1h0.75v0.75h-0.75zM132.7 267.3h0.75v0.75h-0.75zM142.1 257.3h0.75v0.75h-0.75zM146.6 245.4h0.75v0.75h-0.75zM116.3 282.7h0.75v0.75h-0.75zM140.4 247.7h0.75v0.75h-0.75zM137.6 265.3h0.75v0.75h-0.75zM124.7 241.8h0.75v0.75h-0.75zM133.9 270.6h0.75v0.75h-0.75zM127.0 255.6h0.75v0.75h-0.75zM135.0 260.3h0.75v0.75h-0.75zM143.8 264.0h0.75v0.75h-0.75zM133.9 267.1h0.75v0.75h-0.75zM129.6 253.6h0.75v0.75h-0.75zM145.1 276.2h0.75v0.75h-0.75zM145.7 245.8h0.75v0.75h-0.75zM136.2 249.3h0.75v0.75h-0.75zM136.0 242.0h0.75v0.75h-0.75zM130.2 251.9h0.75v0.75h-0.75zM152.8 250.9h0.75v0.75h-0.75zM130.1 242.6h0.75v0.75h-0.75zM150.9 257.0h0.75v0.75h-0.75zM141.8 256.3h0.75v0.75h-0.75zM153.9 222.7h0.75v0.75h-0.75zM153.3 259.8h0.75v0.75h-0.75zM147.5 248.6h0.75v0.75h-0.75zM139.3 260.9h0.75v0.75h-0.75zM151.2 248.1h0.75v0.75h-0.75zM123.0 266.3h0.75v0.75h-0.75zM134.2 264.1h0.75v0.75h-0.75zM123.2 251.6h0.75v0.75h-0.75zM142.5 248.2h0.75v0.75h-0.75zM141.9 255.0h0.75v0.75h-0.75zM142.0 269.8h0.75v0.75h-0.75zM132.8 247.2h0.75v0.75h-0.75zM141.2 264.3h0.75v0.75h-0.75zM135.7 265.2h0.75v0.75h-0.75zM124.1 250.1h0.75v0.75h-0.75zM140.9 266.2h0.75v0.75h-0.75zM145.3 248.5h0.75v0.75h-0.75zM133.3 234.3h0.75v0.75h-0.75zM143.0 260.9h0.75v0.75h-0.75zM130.4 279.4h0.75v0.75h-0.75zM130.0 263.2h0.75v0.75h-0.75zM130.3 268.6h0.75v0.75h-0.75zM135.6 259.0h0.75v0.75h-0.75zM148.8 265.3h0.75v0.75h-0.75zM136.8 263.6h0.75v0.75h-0.75zM142.2 249.0h0.75v0.75h-0.75zM128.1 263.4h0.75v0.75h-0.75zM133.4 260.0h0.75v0.75h-0.75zM145.1 237.6h0.75v0.75h-0.75zM142.7 275.1h0.75v0.75h-0.75zM132.6 248.5h0.75v0.75h-0.75zM145.5 263.0h0.75v0.75h-0.75zM138.9 252.1h0.75v0.75h-0.75zM151.5 259.7h0.75v0.75h-0.75zM138.1 280.4h0.75v0.75h-0.75zM137.2 237.4h0.75v0.75h-0.75zM152.9 263.6h0.75v0.75h-0.75zM124.2 261.9h0.75v0.75h-0.75zM118.8 251.1h0.75v0.75h-0.75zM146.9 251.5h0.75v0.75h-0.75zM136.3 269.6h0.75v0.75h-0.75zM112.5 282.1h0.75v0.75h-0.75zM161.8 234.5h0.75v0.75h-0.75zM132.3 263.6h0.75v0.75h-0.75zM136.1 237.6h0.75v0.75h-0.75zM128.8 254.1h0.75v0.75h-0.75zM142.1 250.5h0.75v0.75h-0.75zM146.0 245.4h0.75v0.75h-0.75zM120.8 242.3h0.75v0.75h-0.75zM156.7 255.7h0.75v0.75h-0.75zM138.7 256.8h0.75v0.75h-0.75zM152.1 238.2h0.75v0.75h-0.75zM137.9 282.3h0.75v0.75h-0.75zM145.5 249.9h0.75v0.75h-0.75zM155.7 263.5h0.75v0.75h-0.75zM150.8 251.1h0.75v0.75h-0.75zM139.2 235.3h0.75v0.75h-0.75zM118.2 249.2h0.75v0.75h-0.75zM137.0 252.4h0.75v0.75h-0.75zM133.0 255.5h0.75v0.75h-0.75zM136.6 269.0h0.75v0.75h-0.75zM146.5 239.0h0.75v0.75h-0.75zM116.2 257.6h0.75v0.75h-0.75zM128.4 245.1h0.75v0.75h-0.75zM143.1 257.9h0.75v0.75h-0.75zM148.8 263.7h0.75v0.75h-0.75zM132.6 264.8h0.75v0.75h-0.75zM157.4 255.2h0.75v0.75h-0.75zM148.0 254.3h0.75v0.75h-0.75zM140.0 260.3h0.75v0.75h-0.75zM141.0 274.8h0.75v0.75h-0.75zM126.7 284.0h0.75v0.75h-0.75zM135.2 257.6h0.75v0.75h-0.75zM133.4 255.5h0.75v0.75h-0.75zM123.0 271.3h0.75v0.75h-0.75zM150.9 239.5h0.75v0.75h-0.75zM131.7 240.6h0.75v0.75h-0.75zM137.0 250.9h0.75v0.75h-0.75zM138.3 247.5h0.75v0.75h-0.75zM140.2 251.9h0.75v0.75h-0.75zM135.5 257.0h0.75v0.75h-0.75zM137.5 254.8h0.75v0.75h-0.75zM148.0 266.8h0.75v0.75h-0.75zM138.8 264.8h0.75v0.75h-0.75zM140.4 254.7h0.75v0.75h-0.75zM133.8 251.0h0.75v0.75h-0.75zM138.3 244.4h0.75v0.75h-0.75zM128.1 252.7h0.75v0.75h-0.75zM141.5 241.9h0.75v0.75h-0.75zM138.6 256.9h0.75v0.75h-0.75zM121.6 263.0h0.75v0.75h-0.75zM136.9 244.7h0.75v0.75h-0.75zM132.1 258.4h0.75v0.75h-0.75zM136.7 248.6h0.75v0.75h-0.75zM149.9 253.6h0.75v0.75h-0.75zM141.2 244.9h0.75v0.75h-0.75zM118.8 273.7h0.75v0.75h-0.75zM139.5 274.1h0.75v0.75h-0.75zM139.7 250.3h0.75v0.75h-0.75zM143.2 270.9h0.75v0.75h-0.75zM127.1 277.1h0.75v0.75h-0.75zM141.9 253.9h0.75v0.75h-0.75zM130.5 240.9h0.75v0.75h-0.75zM136.4 253.8h0.75v0.75h-0.75zM137.8 259.5h0.75v0.75h-0.75zM142.3 265.2h0.75v0.75h-0.75zM132.9 262.3h0.75v0.75h-0.75zM130.6 263.4h0.75v0.75h-0.75zM140.9 222.4h0.75v0.75h-0.75zM119.4 254.9h0.75v0.75h-0.75zM140.8 242.6h0.75v0.75h-0.75zM144.6 239.9h0.75v0.75h-0.75zM142.5 268.5h0.75v0.75h-0.75zM136.3 259.3h0.75v0.75h-0.75zM144.4 265.7h0.75v0.75h-0.75zM145.9 282.2h0.75v0.75h-0.75zM130.3 268.1h0.75v0.75h-0.75zM137.8 248.0h0.75v0.75h-0.75zM139.8 281.2h0.75v0.75h-0.75zM129.7 285.1h0.75v0.75h-0.75zM142.4 252.1h0.75v0.75h-0.75zM141.8 270.0h0.75v0.75h-0.75zM135.2 235.7h0.75v0.75h-0.75zM142.0 264.9h0.75v0.75h-0.75zM122.9 253.3h0.75v0.75h-0.75zM140.8 261.6h0.75v0.75h-0.75zM139.1 246.3h0.75v0.75h-0.75zM129.7 257.0h0.75v0.75h-0.75zM123.0 283.6h0.75v0.75h-0.75zM136.6 281.2h0.75v0.75h-0.75zM142.2 266.3h0.75v0.75h-0.75zM146.0 244.1h0.75v0.75h-0.75zM140.7 246.0h0.75v0.75h-0.75zM142.4 253.7h0.75v0.75h-0.75zM115.8 239.7h0.75v0.75h-0.75zM146.3 245.7h0.75v0.75h-0.75zM155.5 269.4h0.75v0.75h-0.75zM134.7 273.9h0.75v0.75h-0.75zM133.6 258.5h0.75v0.75h-0.75zM132.8 253.8h0.75v0.75h-0.75zM152.8 263.0h0.75v0.75h-0.75zM134.5 231.6h0.75v0.75h-0.75zM135.6 260.6h0.75v0.75h-0.75zM139.0 255.8h0.75v0.75h-0.75zM143.7 264.2h0.75v0.75h-0.75zM137.4 239.4h0.75v0.75h-0.75zM137.5 257.9h0.75v0.75h-0.75zM141.0 253.6h0.75v0.75h-0.75zM149.8 237.7h0.75v0.75h-0.75zM137.8 252.0h0.75v0.75h-0.75zM137.0 250.0h0.75v0.75h-0.75zM139.0 270.3h0.75v0.75h-0.75zM132.9 249.8h0.75v0.75h-0.75zM141.8 254.0h0.75v0.75h-0.75zM132.3 258.7h0.75v0.75h-0.75zM149.0 268.2h0.75v0.75h-0.75zM123.4 257.6h0.75v0.75h-0.75zM147.8 256.1h0.75v0.75h-0.75zM150.4 251.7h0.75v0.75h-0.75zM156.7 235.9h0.75v0.75h-0.75zM137.8 276.1h0.75v0.75h-0.75zM130.6 264.8h0.75v0.75h-0.75zM149.7 257.1h0.75v0.75h-0.75zM136.4 260.8h0.75v0.75h-0.75zM111.4 271.5h0.75v0.75h-0.75zM138.7 268.4h0.75v0.75h-0.75zM130.3 261.7h0.75v0.75h-0.75zM133.0 250.3h0.75v0.75h-0.75zM136.2 260.8h0.75v0.75h-0.75zM127.7 259.8h0.75v0.75h-0.75zM145.2 251.2h0.75v0.75h-0.75zM153.8 249.2h0.75v0.75h-0.75zM144.7 265.9h0.75v0.75h-0.75zM145.7 260.5h0.75v0.75h-0.75zM137.1 237.2h0.75v0.75h-0.75zM132.8 253.4h0.75v0.75h-0.75zM117.8 256.2h0.75v0.75h-0.75zM140.3 262.2h0.75v0.75h-0.75zM123.7 267.5h0.75v0.75h-0.75zM138.2 269.2h0.75v0.75h-0.75zM147.8 257.4h0.75v0.75h-0.75zM141.9 237.4h0.75v0.75h-0.75zM130.0 252.9h0.75v0.75h-0.75zM136.9 273.7h0.75v0.75h-0.75zM134.0 252.4h0.75v0.75h-0.75zM135.3 268.0h0.75v0.75h-0.75zM138.2 255.0h0.75v0.75h-0.75zM146.6 258.2h0.75v0.75h-0.75zM144.5 259.5h0.75v0.75h-0.75zM134.3 268.7h0.75v0.75h-0.75zM134.1 244.2h0.75v0.75h-0.75zM133.4 251.7h0.75v0.75h-0.75zM138.1 265.7h0.75v0.75h-0.75zM152.3 254.1h0.75v0.75h-0.75zM133.2 265.7h0.75v0.75h-0.75zM128.9 261.0h0.75v0.75h-0.75zM124.4 243.5h0.75v0.75h-0.75zM112.9 259.6h0.75v0.75h-0.75zM124.5 276.5h0.75v0.75h-0.75zM136.2 275.0h0.75v0.75h-0.75zM136.2 245.8h0.75v0.75h-0.75zM146.6 237.3h0.75v0.75h-0.75zM136.8 261.7h0.75v0.75h-0.75zM137.6 261.9h0.75v0.75h-0.75zM139.7 264.8h0.75v0.75h-0.75zM124.7 248.0h0.75v0.75h-0.75zM126.8 261.0h0.75v0.75h-0.75zM130.4 262.5h0.75v0.75h-0.75zM139.6 254.0h0.75v0.75h-0.75zM143.8 256.4h0.75v0.75h-0.75zM125.9 238.9h0.75v0.75h-0.75zM128.3 261.7h0.75v0.75h-0.75zM130.9 242.7h0.75v0.75h-0.75zM137.3 267.2h0.75v0.75h-0.75zM141.3 269.3h0.75v0.75h-0.75zM134.2 254.3h0.75v0.75h-0.75zM134.8 278.6h0.75v0.75h-0.75zM160.0 246.3h0.75v0.75h-0.75zM137.6 261.2h0.75v0.75h-0.75zM141.6 247.4h0.75v0.75h-0.75zM150.7 261.0h0.75v0.75h-0.75zM136.3 248.6h0.75v0.75h-0.75zM144.6 266.2h0.75v0.75h-0.75zM137.3 266.2h0.75v0.75h-0.75zM145.4 257.7h0.75v0.75h-0.75zM140.5 254.6h0.75v0.75h-0.75zM164.9 253.2h0.75v0.75h-0.75zM144.8 262.9h0.75v0.75h-0.75zM130.8 274.9h0.75v0.75h-0.75zM131.0 253.6h0.75v0.75h-0.75zM146.1 275.5h0.75v0.75h-0.75zM137.8 248.6h0.75v0.75h-0.75zM145.9 246.4h0.75v0.75h-0.75zM145.2 267.6h0.75v0.75h-0.75zM130.2 262.4h0.75v0.75h-0.75zM126.8 280.2h0.75v0.75h-0.75zM148.7 269.0h0.75v0.75h-0.75zM130.7 249.1h0.75v0.75h-0.75zM137.5 253.2h0.75v0.75h-0.75zM145.1 236.0h0.75v0.75h-0.75zM129.4 279.7h0.75v0.75h-0.75zM142.3 260.7h0.75v0.75h-0.75zM168.4 252.4h0.75v0.75h-0.75zM153.8 252.8h0.75v0.75h-0.75zM147.3 269.4h0.75v0.75h-0.75zM148.0 275.3h0.75v0.75h-0.75zM137.0 254.4h0.75v0.75h-0.75zM142.9 247.0h0.75v0.75h-0.75zM140.0 260.7h0.75v0.75h-0.75zM137.3 262.4h0.75v0.75h-0.75zM149.9 250.3h0.75v0.75h-0.75zM125.2 252.5h0.75v0.75h-0.75zM154.4 250.1h0.75v0.75h-0.75zM142.5 251.0h0.75v0.75h-0.75zM151.0 237.8h0.75v0.75h-0.75zM136.0 249.8h0.75v0.75h-0.75zM145.8 272.8h0.75v0.75h-0.75zM154.5 236.8h0.75v0.75h-0.75zM132.5 256.5h0.75v0.75h-0.75zM144.0 253.4h0.75v0.75h-0.75zM137.6 240.8h0.75v0.75h-0.75zM126.2 255.0h0.75v0.75h-0.75zM137.3 259.4h0.75v0.75h-0.75zM141.9 245.5h0.75v0.75h-0.75zM135.5 258.1h0.75v0.75h-0.75zM141.4 260.3h0.75v0.75h-0.75zM139.0 267.1h0.75v0.75h-0.75zM138.3 262.6h0.75v0.75h-0.75zM145.2 245.5h0.75v0.75h-0.75zM134.1 245.8h0.75v0.75h-0.75zM125.1 261.6h0.75v0.75h-0.75zM143.9 247.0h0.75v0.75h-0.75zM140.7 274.2h0.75v0.75h-0.75zM139.9 266.5h0.75v0.75h-0.75zM145.9 240.2h0.75v0.75h-0.75zM135.3 257.9h0.75v0.75h-0.75zM133.8 279.0h0.75v0.75h-0.75zM154.7 268.1h0.75v0.75h-0.75zM148.3 246.6h0.75v0.75h-0.75zM125.5 247.4h0.75v0.75h-0.75zM140.1 259.2h0.75v0.75h-0.75zM139.9 263.1h0.75v0.75h-0.75zM133.8 267.0h0.75v0.75h-0.75zM152.0 241.0h0.75v0.75h-0.75zM140.6 260.0h0.75v0.75h-0.75zM148.3 259.5h0.75v0.75h-0.75zM140.4 242.3h0.75v0.75h-0.75zM139.1 241.9h0.75v0.75h-0.75zM143.2 241.5h0.75v0.75h-0.75zM131.0 249.8h0.75v0.75h-0.75zM127.0 269.5h0.75v0.75h-0.75zM145.1 265.5h0.75v0.75h-0.75zM128.5 266.4h0.75v0.75h-0.75zM141.4 259.7h0.75v0.75h-0.75zM133.6 259.4h0.75v0.75h-0.75zM135.1 262.6h0.75v0.75h-0.75zM128.1 261.9h0.75v0.75h-0.75zM146.7 254.6h0.75v0.75h-0.75zM151.8 247.7h0.75v0.75h-0.75zM133.6 266.6h0.75v0.75h-0.75zM144.6 255.8h0.75v0.75h-0.75zM133.9 238.6h0.75v0.75h-0.75zM148.4 252.1h0.75v0.75h-0.75zM148.0 280.1h0.75v0.75h-0.75zM128.9 244.8h0.75v0.75h-0.75zM131.0 255.2h0.75v0.75h-0.75zM151.4 266.5h0.75v0.75h-0.75zM142.5 257.9h0.75v0.75h-0.75zM126.2 271.7h0.75v0.75h-0.75zM155.6 254.4h0.75v0.75h-0.75zM139.8 249.2h0.75v0.75h-0.75zM125.5 259.8h0.75v0.75h-0.75zM128.6 265.3h0.75v0.75h-0.75zM133.3 253.8h0.75v0.75h-0.75zM140.8 258.8h0.75v0.75h-0.75zM144.1 256.0h0.75v0.75h-0.75zM136.8 274.3h0.75v0.75h-0.75zM134.0 258.9h0.75v0.75h-0.75zM137.7 255.5h0.75v0.75h-0.75zM149.4 241.5h0.75v0.75h-0.75zM129.1 262.7h0.75v0.75h-0.75zM139.9 249.2h0.75v0.75h-0.75zM127.0 255.6h0.75v0.75h-0.75zM125.2 260.8h0.75v0.75h-0.75zM133.5 256.1h0.75v0.75h-0.75zM148.9 269.5h0.75v0.75h-0.75zM123.6 242.1h0.75v0.75h-0.75zM147.7 246.4h0.75v0.75h-0.75zM128.4 257.3h0.75v0.75h-0.75zM151.0 236.8h0.75v0.75h-0.75zM132.0 275.0h0.75v0.75h-0.75zM145.0 252.0h0.75v0.75h-0.75zM142.2 235.6h0.75v0.75h-0.75zM136.6 239.0h0.75v0.75h-0.75zM137.1 233.5h0.75v0.75h-0.75zM139.8 236.8h0.75v0.75h-0.75zM150.2 235.3h0.75v0.75h-0.75zM135.4 244.3h0.75v0.75h-0.75zM138.6 243.2h0.75v0.75h-0.75zM149.9 237.1h0.75v0.75h-0.75zM144.5 241.4h0.75v0.75h-0.75zM148.0 233.1h0.75v0.75h-0.75zM140.1 236.8h0.75v0.75h-0.75zM134.3 239.9h0.75v0.75h-0.75zM139.0 227.1h0.75v0.75h-0.75zM147.1 229.6h0.75v0.75h-0.75zM153.2 239.8h0.75v0.75h-0.75zM144.3 240.4h0.75v0.75h-0.75zM144.7 240.6h0.75v0.75h-0.75zM151.9 240.6h0.75v0.75h-0.75zM142.3 236.7h0.75v0.75h-0.75zM138.1 230.4h0.75v0.75h-0.75zM148.1 239.8h0.75v0.75h-0.75zM134.3 240.6h0.75v0.75h-0.75zM147.4 237.8h0.75v0.75h-0.75zM153.8 233.5h0.75v0.75h-0.75zM149.1 242.0h0.75v0.75h-0.75zM136.8 236.0h0.75v0.75h-0.75zM155.2 243.0h0.75v0.75h-0.75zM146.0 230.4h0.75v0.75h-0.75zM142.0 244.1h0.75v0.75h-0.75zM141.6 229.7h0.75v0.75h-0.75zM135.1 243.4h0.75v0.75h-0.75zM144.3 236.6h0.75v0.75h-0.75zM152.2 235.4h0.75v0.75h-0.75zM149.3 231.2h0.75v0.75h-0.75zM142.2 248.0h0.75v0.75h-0.75zM141.3 244.1h0.75v0.75h-0.75zM141.3 238.0h0.75v0.75h-0.75zM146.1 229.2h0.75v0.75h-0.75zM140.1 235.3h0.75v0.75h-0.75zM133.2 234.6h0.75v0.75h-0.75zM137.5 231.3h0.75v0.75h-0.75zM147.3 245.0h0.75v0.75h-0.75zM140.8 244.1h0.75v0.75h-0.75zM148.4 240.3h0.75v0.75h-0.75zM143.1 237.6h0.75v0.75h-0.75zM140.5 233.5h0.75v0.75h-0.75zM154.2 237.2h0.75v0.75h-0.75zM136.8 238.0h0.75v0.75h-0.75zM148.0 231.1h0.75v0.75h-0.75zM149.4 237.7h0.75v0.75h-0.75zM142.2 233.7h0.75v0.75h-0.75zM146.6 243.7h0.75v0.75h-0.75zM138.9 244.9h0.75v0.75h-0.75zM145.0 236.4h0.75v0.75h-0.75zM137.3 244.9h0.75v0.75h-0.75zM141.6 243.6h0.75v0.75h-0.75zM133.3 239.1h0.75v0.75h-0.75zM151.7 242.1h0.75v0.75h-0.75zM137.5 230.3h0.75v0.75h-0.75zM144.7 240.6h0.75v0.75h-0.75zM146.5 241.3h0.75v0.75h-0.75zM139.7 229.9h0.75v0.75h-0.75zM134.2 233.4h0.75v0.75h-0.75zM149.5 238.9h0.75v0.75h-0.75zM139.5 243.8h0.75v0.75h-0.75zM147.2 243.3h0.75v0.75h-0.75zM133.4 237.3h0.75v0.75h-0.75zM141.9 246.9h0.75v0.75h-0.75zM152.4 235.7h0.75v0.75h-0.75zM148.8 244.0h0.75v0.75h-0.75zM150.1 227.3h0.75v0.75h-0.75zM140.6 230.7h0.75v0.75h-0.75zM147.5 232.8h0.75v0.75h-0.75zM150.3 237.1h0.75v0.75h-0.75zM140.1 246.4h0.75v0.75h-0.75zM147.4 241.4h0.75v0.75h-0.75zM138.7 241.8h0.75v0.75h-0.75zM143.8 239.0h0.75v0.75h-0.75zM139.0 238.2h0.75v0.75h-0.75zM135.1 244.9h0.75v0.75h-0.75zM141.2 236.9h0.75v0.75h-0.75zM147.2 234.8h0.75v0.75h-0.75zM141.4 227.9h0.75v0.75h-0.75zM149.1 237.0h0.75v0.75h-0.75zM136.5 240.4h0.75v0.75h-0.75zM151.7 230.3h0.75v0.75h-0.75zM142.1 246.9h0.75v0.75h-0.75zM145.7 230.6h0.75v0.75h-0.75zM137.6 235.7h0.75v0.75h-0.75zM138.6 240.3h0.75v0.75h-0.75zM136.4 243.1h0.75v0.75h-0.75zM149.2 243.2h0.75v0.75h-0.75zM149.8 244.3h0.75v0.75h-0.75zM152.2 232.7h0.75v0.75h-0.75zM136.8 235.7h0.75v0.75h-0.75zM150.5 235.0h0.75v0.75h-0.75zM142.6 238.7h0.75v0.75h-0.75zM139.8 243.7h0.75v0.75h-0.75zM147.4 232.9h0.75v0.75h-0.75zM144.8 240.9h0.75v0.75h-0.75zM135.6 245.7h0.75v0.75h-0.75zM140.2 232.9h0.75v0.75h-0.75zM152.1 232.6h0.75v0.75h-0.75zM135.1 243.6h0.75v0.75h-0.75zM147.5 234.1h0.75v0.75h-0.75zM141.3 230.0h0.75v0.75h-0.75zM136.8 235.8h0.75v0.75h-0.75zM141.7 230.8h0.75v0.75h-0.75zM152.4 238.5h0.75v0.75h-0.75zM140.3 229.7h0.75v0.75h-0.75zM153.2 241.5h0.75v0.75h-0.75zM135.4 229.1h0.75v0.75h-0.75zM139.0 243.3h0.75v0.75h-0.75zM147.3 238.2h0.75v0.75h-0.75zM144.2 232.6h0.75v0.75h-0.75zM141.8 235.7h0.75v0.75h-0.75zM133.5 234.9h0.75v0.75h-0.75zM133.1 237.1h0.75v0.75h-0.75zM144.2 240.2h0.75v0.75h-0.75zM140.8 226.6h0.75v0.75h-0.75zM143.3 230.3h0.75v0.75h-0.75zM148.6 225.9h0.75v0.75h-0.75zM136.7 224.8h0.75v0.75h-0.75zM137.5 221.7h0.75v0.75h-0.75zM155.5 222.3h0.75v0.75h-0.75zM140.8 224.1h0.75v0.75h-0.75zM145.5 223.0h0.75v0.75h-0.75zM147.3 218.9h0.75v0.75h-0.75zM150.3 227.1h0.75v0.75h-0.75zM146.3 227.5h0.75v0.75h-0.75zM131.9 223.9h0.75v0.75h-0.75zM137.3 226.7h0.75v0.75h-0.75zM147.1 223.1h0.75v0.75h-0.75zM146.1 226.8h0.75v0.75h-0.75zM142.7 219.8h0.75v0.75h-0.75zM142.7 225.6h0.75v0.75h-0.75zM134.9 221.6h0.75v0.75h-0.75zM136.2 230.7h0.75v0.75h-0.75zM137.7 223.3h0.75v0.75h-0.75zM140.4 224.7h0.75v0.75h-0.75zM136.4 228.3h0.75v0.75h-0.75zM149.6 226.4h0.75v0.75h-0.75zM137.0 226.3h0.75v0.75h-0.75zM140.0 224.9h0.75v0.75h-0.75zM139.1 229.7h0.75v0.75h-0.75zM146.1 224.6h0.75v0.75h-0.75zM140.5 229.0h0.75v0.75h-0.75zM148.5 228.4h0.75v0.75h-0.75zM133.5 230.9h0.75v0.75h-0.75zM141.0 227.1h0.75v0.75h-0.75zM142.9 224.9h0.75v0.75h-0.75zM154.3 225.7h0.75v0.75h-0.75zM141.5 227.3h0.75v0.75h-0.75zM141.3 230.6h0.75v0.75h-0.75zM144.7 225.2h0.75v0.75h-0.75zM132.9 226.1h0.75v0.75h-0.75zM137.9 226.8h0.75v0.75h-0.75zM144.9 221.3h0.75v0.75h-0.75zM140.0 230.5h0.75v0.75h-0.75zM142.6 220.1h0.75v0.75h-0.75zM134.7 226.9h0.75v0.75h-0.75zM133.1 229.1h0.75v0.75h-0.75zM153.7 222.8h0.75v0.75h-0.75zM146.8 230.3h0.75v0.75h-0.75zM140.7 223.1h0.75v0.75h-0.75zM145.6 223.2h0.75v0.75h-0.75zM147.9 229.4h0.75v0.75h-0.75zM143.5 226.9h0.75v0.75h-0.75zM132.3 221.6h0.75v0.75h-0.75zM137.5 217.7h0.75v0.75h-0.75zM140.0 226.6h0.75v0.75h-0.75zM135.2 226.5h0.75v0.75h-0.75zM149.2 220.7h0.75v0.75h-0.75zM136.0 226.1h0.75v0.75h-0.75zM141.0 225.8h0.75v0.75h-0.75zM139.9 223.5h0.75v0.75h-0.75zM143.3 229.5h0.75v0.75h-0.75zM146.4 219.5h0.75v0.75h-0.75zM133.6 226.1h0.75v0.75h-0.75zM145.6 228.4h0.75v0.75h-0.75zM147.4 227.5h0.75v0.75h-0.75zM151.8 219.9h0.75v0.75h-0.75zM135.4 227.8h0.75v0.75h-0.75zM138.9 228.7h0.75v0.75h-0.75zM141.8 246.6h0.75v0.75h-0.75zM139.1 253.4h0.75v0.75h-0.75zM147.0 243.7h0.75v0.75h-0.75zM146.5 233.9h0.75v0.75h-0.75zM143.2 251.8h0.75v0.75h-0.75zM155.0 256.2h0.75v0.75h-0.75zM139.3 243.5h0.75v0.75h-0.75zM147.1 262.4h0.75v0.75h-0.75zM144.1 241.8h0.75v0.75h-0.75zM148.9 254.2h0.75v0.75h-0.75zM149.1 237.6h0.75v0.75h-0.75zM141.8 260.1h0.75v0.75h-0.75zM140.1 258.7h0.75v0.75h-0.75zM146.3 251.4h0.75v0.75h-0.75zM143.7 256.2h0.75v0.75h-0.75zM147.3 257.6h0.75v0.75h-0.75zM136.8 242.3h0.75v0.75h-0.75zM135.8 254.1h0.75v0.75h-0.75zM150.5 246.2h0.75v0.75h-0.75zM144.6 261.5h0.75v0.75h-0.75zM146.6 252.2h0.75v0.75h-0.75zM144.2 259.6h0.75v0.75h-0.75zM146.7 262.9h0.75v0.75h-0.75zM148.9 247.0h0.75v0.75h-0.75zM150.7 252.4h0.75v0.75h-0.75zM147.2 254.3h0.75v0.75h-0.75zM141.0 250.9h0.75v0.75h-0.75zM147.2 246.7h0.75v0.75h-0.75zM151.1 264.4h0.75v0.75h-0.75zM146.4 245.0h0.75v0.75h-0.75zM155.1 241.1h0.75v0.75h-0.75zM150.8 241.0h0.75v0.75h-0.75zM136.9 261.3h0.75v0.75h-0.75zM145.2 266.0h0.75v0.75h-0.75zM140.9 256.7h0.75v0.75h-0.75zM149.6 252.7h0.75v0.75h-0.75zM141.6 253.1h0.75v0.75h-0.75zM140.8 256.6h0.75v0.75h-0.75zM144.9 239.8h0.75v0.75h-0.75zM144.5 253.7h0.75v0.75h-0.75zM146.9 259.0h0.75v0.75h-0.75zM151.1 257.0h0.75v0.75h-0.75zM141.9 255.6h0.75v0.75h-0.75zM157.5 251.4h0.75v0.75h-0.75zM147.9 241.2h0.75v0.75h-0.75zM145.1 249.8h0.75v0.75h-0.75zM138.0 243.9h0.75v0.75h-0.75zM143.5 243.9h0.75v0.75h-0.75zM147.6 251.6h0.75v0.75h-0.75zM139.6 247.3h0.75v0.75h-0.75zM149.0 248.3h0.75v0.75h-0.75zM144.9 250.4h0.75v0.75h-0.75zM151.0 251.0h0.75v0.75h-0.75zM135.9 249.5h0.75v0.75h-0.75zM147.2 247.5h0.75v0.75h-0.75zM148.2 257.1h0.75v0.75h-0.75zM138.4 263.9h0.75v0.75h-0.75zM147.8 251.3h0.75v0.75h-0.75zM144.9 242.1h0.75v0.75h-0.75zM144.2 259.9h0.75v0.75h-0.75zM148.5 261.7h0.75v0.75h-0.75zM142.9 257.3h0.75v0.75h-0.75zM133.5 240.8h0.75v0.75h-0.75zM138.5 267.9h0.75v0.75h-0.75zM151.5 248.1h0.75v0.75h-0.75zM145.2 260.7h0.75v0.75h-0.75zM143.4 242.0h0.75v0.75h-0.75zM145.0 249.8h0.75v0.75h-0.75zM146.9 260.6h0.75v0.75h-0.75zM140.3 234.9h0.75v0.75h-0.75zM141.1 236.6h0.75v0.75h-0.75zM147.9 255.8h0.75v0.75h-0.75zM150.1 246.6h0.75v0.75h-0.75zM145.2 236.4h0.75v0.75h-0.75zM152.4 242.9h0.75v0.75h-0.75zM149.8 252.5h0.75v0.75h-0.75zM146.0 247.0h0.75v0.75h-0.75zM141.5 261.5h0.75v0.75h-0.75zM146.3 236.3h0.75v0.75h-0.75zM142.2 247.7h0.75v0.75h-0.75zM143.1 246.7h0.75v0.75h-0.75zM149.3 249.2h0.75v0.75h-0.75zM140.3 245.4h0.75v0.75h-0.75zM149.3 249.6h0.75v0.75h-0.75zM137.0 260.6h0.75v0.75h-0.75zM149.7 241.7h0.75v0.75h-0.75zM149.7 253.2h0.75v0.75h-0.75zM144.6 251.0h0.75v0.75h-0.75zM136.8 243.5h0.75v0.75h-0.75zM133.7 244.7h0.75v0.75h-0.75zM144.9 254.8h0.75v0.75h-0.75zM146.5 265.3h0.75v0.75h-0.75zM141.1 247.7h0.75v0.75h-0.75zM148.5 245.6h0.75v0.75h-0.75zM137.3 248.7h0.75v0.75h-0.75zM141.4 258.4h0.75v0.75h-0.75zM140.3 247.7h0.75v0.75h-0.75zM144.1 251.0h0.75v0.75h-0.75zM144.8 242.8h0.75v0.75h-0.75zM147.9 255.0h0.75v0.75h-0.75zM143.6 240.4h0.75v0.75h-0.75zM143.5 254.3h0.75v0.75h-0.75zM151.9 253.7h0.75v0.75h-0.75zM139.5 256.4h0.75v0.75h-0.75zM149.8 246.6h0.75v0.75h-0.75zM152.0 244.6h0.75v0.75h-0.75zM146.1 258.3h0.75v0.75h-0.75zM152.5 245.8h0.75v0.75h-0.75zM136.2 261.3h0.75v0.75h-0.75zM147.0 232.2h0.75v0.75h-0.75zM147.1 252.4h0.75v0.75h-0.75zM146.8 255.7h0.75v0.75h-0.75zM133.0 246.7h0.75v0.75h-0.75zM146.1 239.7h0.75v0.75h-0.75zM141.1 249.5h0.75v0.75h-0.75zM150.6 251.8h0.75v0.75h-0.75zM150.0 244.1h0.75v0.75h-0.75zM149.6 253.7h0.75v0.75h-0.75zM147.3 252.6h0.75v0.75h-0.75zM149.9 240.7h0.75v0.75h-0.75zM142.6 259.1h0.75v0.75h-0.75zM141.8 252.3h0.75v0.75h-0.75zM149.4 263.6h0.75v0.75h-0.75zM144.9 251.3h0.75v0.75h-0.75zM151.2 241.3h0.75v0.75h-0.75zM141.3 233.3h0.75v0.75h-0.75zM142.0 248.0h0.75v0.75h-0.75zM145.3 258.9h0.75v0.75h-0.75zM144.6 238.3h0.75v0.75h-0.75zM140.1 249.2h0.75v0.75h-0.75zM142.0 244.9h0.75v0.75h-0.75zM145.6 245.8h0.75v0.75h-0.75zM135.5 266.5h0.75v0.75h-0.75zM146.4 255.1h0.75v0.75h-0.75zM140.9 257.8h0.75v0.75h-0.75zM143.3 257.6h0.75v0.75h-0.75zM148.3 233.1h0.75v0.75h-0.75zM142.9 237.9h0.75v0.75h-0.75zM140.3 263.9h0.75v0.75h-0.75zM138.8 255.2h0.75v0.75h-0.75zM139.5 246.4h0.75v0.75h-0.75zM145.7 247.2h0.75v0.75h-0.75zM148.6 259.1h0.75v0.75h-0.75zM152.6 235.7h0.75v0.75h-0.75zM148.5 259.4h0.75v0.75h-0.75zM148.0 236.2h0.75v0.75h-0.75zM150.8 242.7h0.75v0.75h-0.75zM143.9 249.6h0.75v0.75h-0.75zM147.0 258.3h0.75v0.75h-0.75zM144.9 251.8h0.75v0.75h-0.75zM149.0 258.8h0.75v0.75h-0.75zM142.3 254.0h0.75v0.75h-0.75zM143.8 248.0h0.75v0.75h-0.75zM154.0 236.8h0.75v0.75h-0.75zM146.9 242.8h0.75v0.75h-0.75zM151.3 257.9h0.75v0.75h-0.75zM147.1 237.1h0.75v0.75h-0.75zM143.0 237.6h0.75v0.75h-0.75zM143.7 264.3h0.75v0.75h-0.75zM146.5 246.0h0.75v0.75h-0.75zM144.4 245.7h0.75v0.75h-0.75zM150.4 227.3h0.75v0.75h-0.75zM143.4 257.8h0.75v0.75h-0.75zM152.1 245.4h0.75v0.75h-0.75zM144.7 245.7h0.75v0.75h-0.75zM142.7 259.4h0.75v0.75h-0.75zM142.0 250.0h0.75v0.75h-0.75zM146.1 249.7h0.75v0.75h-0.75zM138.9 249.0h0.75v0.75h-0.75zM149.5 247.1h0.75v0.75h-0.75zM144.6 256.4h0.75v0.75h-0.75zM145.2 242.2h0.75v0.75h-0.75zM141.5 239.0h0.75v0.75h-0.75zM150.5 256.8h0.75v0.75h-0.75zM144.9 238.5h0.75v0.75h-0.75zM150.1 242.6h0.75v0.75h-0.75zM143.2 245.2h0.75v0.75h-0.75zM141.7 243.4h0.75v0.75h-0.75zM160.0 240.8h0.75v0.75h-0.75zM149.6 251.4h0.75v0.75h-0.75zM140.5 242.8h0.75v0.75h-0.75zM141.7 250.5h0.75v0.75h-0.75zM141.4 243.4h0.75v0.75h-0.75zM154.1 246.3h0.75v0.75h-0.75zM147.8 255.5h0.75v0.75h-0.75zM138.8 238.9h0.75v0.75h-0.75zM141.9 256.6h0.75v0.75h-0.75zM143.7 238.7h0.75v0.75h-0.75zM148.2 237.5h0.75v0.75h-0.75zM134.2 235.1h0.75v0.75h-0.75zM149.2 240.1h0.75v0.75h-0.75zM140.4 252.6h0.75v0.75h-0.75zM154.4 235.6h0.75v0.75h-0.75zM145.9 248.5h0.75v0.75h-0.75zM140.5 253.0h0.75v0.75h-0.75zM149.0 245.7h0.75v0.75h-0.75zM139.0 248.9h0.75v0.75h-0.75zM144.4 255.3h0.75v0.75h-0.75zM152.5 252.8h0.75v0.75h-0.75zM141.1 264.9h0.75v0.75h-0.75zM145.1 266.5h0.75v0.75h-0.75zM143.5 257.3h0.75v0.75h-0.75zM146.2 258.8h0.75v0.75h-0.75zM140.5 253.7h0.75v0.75h-0.75zM146.9 249.8h0.75v0.75h-0.75zM143.3 255.8h0.75v0.75h-0.75zM149.8 254.6h0.75v0.75h-0.75zM150.0 260.6h0.75v0.75h-0.75zM145.1 237.6h0.75v0.75h-0.75zM150.6 252.6h0.75v0.75h-0.75zM144.7 244.4h0.75v0.75h-0.75zM139.6 248.6h0.75v0.75h-0.75zM140.6 255.1h0.75v0.75h-0.75zM142.7 263.5h0.75v0.75h-0.75zM142.6 235.5h0.75v0.75h-0.75zM155.5 273.0h0.75v0.75h-0.75zM142.1 248.0h0.75v0.75h-0.75zM147.1 250.6h0.75v0.75h-0.75zM137.9 256.9h0.75v0.75h-0.75zM146.1 241.9h0.75v0.75h-0.75zM144.0 256.2h0.75v0.75h-0.75zM146.5 243.7h0.75v0.75h-0.75zM150.1 262.9h0.75v0.75h-0.75zM152.7 232.9h0.75v0.75h-0.75zM139.3 253.4h0.75v0.75h-0.75zM152.3 256.4h0.75v0.75h-0.75zM154.1 241.1h0.75v0.75h-0.75zM142.7 249.5h0.75v0.75h-0.75zM136.8 245.3h0.75v0.75h-0.75zM139.9 258.9h0.75v0.75h-0.75zM136.9 254.1h0.75v0.75h-0.75zM142.3 234.7h0.75v0.75h-0.75zM145.5 251.2h0.75v0.75h-0.75zM158.3 245.3h0.75v0.75h-0.75zM148.0 235.8h0.75v0.75h-0.75zM140.4 259.2h0.75v0.75h-0.75zM141.9 256.1h0.75v0.75h-0.75zM141.4 258.9h0.75v0.75h-0.75zM147.3 242.4h0.75v0.75h-0.75zM149.6 250.1h0.75v0.75h-0.75z" fill="#6C78BC" fill-opacity="0.5"/><path d="M146.6 257.7h0.75v0.75h-0.75zM143.7 253.3h0.75v0.75h-0.75zM147.5 259.1h0.75v0.75h-0.75zM144.5 249.4h0.75v0.75h-0.75zM146.8 248.5h0.75v0.75h-0.75zM144.9 254.4h0.75v0.75h-0.75zM144.1 248.9h0.75v0.75h-0.75zM146.8 250.9h0.75v0.75h-0.75zM144.5 250.1h0.75v0.75h-0.75zM141.5 246.3h0.75v0.75h-0.75zM143.3 243.4h0.75v0.75h-0.75zM151.3 263.4h0.75v0.75h-0.75zM145.0 249.9h0.75v0.75h-0.75zM145.4 247.9h0.75v0.75h-0.75zM143.8 257.2h0.75v0.75h-0.75zM147.7 240.7h0.75v0.75h-0.75zM146.6 244.3h0.75v0.75h-0.75zM148.1 244.3h0.75v0.75h-0.75zM146.9 244.8h0.75v0.75h-0.75zM145.2 253.0h0.75v0.75h-0.75zM148.3 239.9h0.75v0.75h-0.75zM143.9 245.1h0.75v0.75h-0.75zM139.8 253.7h0.75v0.75h-0.75zM145.0 248.4h0.75v0.75h-0.75zM142.9 263.5h0.75v0.75h-0.75zM142.7 232.9h0.75v0.75h-0.75zM144.6 252.7h0.75v0.75h-0.75zM142.0 250.4h0.75v0.75h-0.75zM137.6 250.9h0.75v0.75h-0.75zM146.0 243.6h0.75v0.75h-0.75zM141.9 244.0h0.75v0.75h-0.75zM143.9 258.2h0.75v0.75h-0.75zM146.2 245.8h0.75v0.75h-0.75zM144.0 256.2h0.75v0.75h-0.75zM143.4 244.7h0.75v0.75h-0.75zM148.6 249.4h0.75v0.75h-0.75zM150.5 247.2h0.75v0.75h-0.75zM144.7 253.5h0.75v0.75h-0.75zM146.5 250.3h0.75v0.75h-0.75zM142.4 246.5h0.75v0.75h-0.75zM143.1 247.5h0.75v0.75h-0.75zM150.4 242.6h0.75v0.75h-0.75zM147.5 252.8h0.75v0.75h-0.75zM140.3 258.9h0.75v0.75h-0.75zM146.6 252.6h0.75v0.75h-0.75zM146.5 256.9h0.75v0.75h-0.75zM147.2 245.3h0.75v0.75h-0.75zM143.6 244.9h0.75v0.75h-0.75zM143.0 245.1h0.75v0.75h-0.75zM146.6 256.7h0.75v0.75h-0.75zM145.1 257.6h0.75v0.75h-0.75zM149.8 253.8h0.75v0.75h-0.75zM139.9 233.9h0.75v0.75h-0.75zM149.7 252.5h0.75v0.75h-0.75zM140.8 246.5h0.75v0.75h-0.75zM146.6 249.8h0.75v0.75h-0.75zM141.2 251.2h0.75v0.75h-0.75zM140.5 250.0h0.75v0.75h-0.75zM148.0 251.4h0.75v0.75h-0.75zM143.7 255.1h0.75v0.75h-0.75zM152.7 246.2h0.75v0.75h-0.75zM146.3 240.1h0.75v0.75h-0.75zM148.6 238.1h0.75v0.75h-0.75zM145.0 256.7h0.75v0.75h-0.75zM147.9 226.8h0.75v0.75h-0.75zM142.9 234.1h0.75v0.75h-0.75zM144.7 240.3h0.75v0.75h-0.75zM153.8 256.1h0.75v0.75h-0.75zM142.2 249.0h0.75v0.75h-0.75zM146.0 256.9h0.75v0.75h-0.75zM150.8 253.3h0.75v0.75h-0.75zM141.2 229.5h0.75v0.75h-0.75zM140.3 243.7h0.75v0.75h-0.75zM148.6 240.0h0.75v0.75h-0.75zM150.4 254.3h0.75v0.75h-0.75zM146.1 255.8h0.75v0.75h-0.75zM143.2 258.2h0.75v0.75h-0.75zM146.2 245.9h0.75v0.75h-0.75zM143.0 236.4h0.75v0.75h-0.75zM144.6 254.2h0.75v0.75h-0.75zM144.3 247.3h0.75v0.75h-0.75zM152.0 268.3h0.75v0.75h-0.75zM140.9 260.2h0.75v0.75h-0.75zM145.7 250.0h0.75v0.75h-0.75zM142.8 249.1h0.75v0.75h-0.75zM146.9 252.7h0.75v0.75h-0.75zM143.7 246.9h0.75v0.75h-0.75zM148.1 259.9h0.75v0.75h-0.75zM144.3 254.2h0.75v0.75h-0.75zM148.5 251.8h0.75v0.75h-0.75zM142.5 251.2h0.75v0.75h-0.75zM146.1 242.2h0.75v0.75h-0.75zM146.0 250.0h0.75v0.75h-0.75zM143.3 262.4h0.75v0.75h-0.75zM146.9 243.8h0.75v0.75h-0.75zM150.1 246.8h0.75v0.75h-0.75zM142.2 242.8h0.75v0.75h-0.75zM149.7 240.7h0.75v0.75h-0.75zM147.0 253.0h0.75v0.75h-0.75zM143.8 255.9h0.75v0.75h-0.75zM149.5 248.5h0.75v0.75h-0.75zM145.8 254.8h0.75v0.75h-0.75zM146.1 259.2h0.75v0.75h-0.75zM148.6 249.9h0.75v0.75h-0.75zM146.6 247.1h0.75v0.75h-0.75zM148.2 244.3h0.75v0.75h-0.75zM145.7 241.3h0.75v0.75h-0.75zM154.4 249.7h0.75v0.75h-0.75zM146.0 253.3h0.75v0.75h-0.75zM139.8 262.0h0.75v0.75h-0.75zM139.9 256.2h0.75v0.75h-0.75zM144.4 255.7h0.75v0.75h-0.75zM148.1 251.2h0.75v0.75h-0.75zM149.5 246.9h0.75v0.75h-0.75zM146.7 247.6h0.75v0.75h-0.75zM143.4 243.2h0.75v0.75h-0.75zM147.2 261.7h0.75v0.75h-0.75zM142.8 247.5h0.75v0.75h-0.75zM143.3 253.6h0.75v0.75h-0.75zM138.6 253.3h0.75v0.75h-0.75zM143.2 243.8h0.75v0.75h-0.75zM146.7 251.2h0.75v0.75h-0.75zM146.9 258.3h0.75v0.75h-0.75zM140.8 259.4h0.75v0.75h-0.75zM147.8 266.6h0.75v0.75h-0.75zM150.8 252.2h0.75v0.75h-0.75zM138.8 253.9h0.75v0.75h-0.75zM151.4 254.3h0.75v0.75h-0.75zM145.6 241.5h0.75v0.75h-0.75zM146.0 239.7h0.75v0.75h-0.75zM143.0 248.0h0.75v0.75h-0.75zM147.3 245.2h0.75v0.75h-0.75zM145.6 249.9h0.75v0.75h-0.75zM146.8 254.1h0.75v0.75h-0.75zM147.5 247.6h0.75v0.75h-0.75zM146.4 245.5h0.75v0.75h-0.75zM141.4 247.3h0.75v0.75h-0.75zM145.8 235.8h0.75v0.75h-0.75zM148.6 251.8h0.75v0.75h-0.75zM140.2 244.4h0.75v0.75h-0.75zM142.6 234.9h0.75v0.75h-0.75zM139.5 254.9h0.75v0.75h-0.75zM138.6 267.7h0.75v0.75h-0.75zM150.9 259.6h0.75v0.75h-0.75zM147.6 257.8h0.75v0.75h-0.75zM150.6 241.8h0.75v0.75h-0.75zM151.5 242.8h0.75v0.75h-0.75zM144.5 231.8h0.75v0.75h-0.75zM144.6 238.3h0.75v0.75h-0.75zM154.0 250.3h0.75v0.75h-0.75zM149.1 245.7h0.75v0.75h-0.75zM149.2 252.9h0.75v0.75h-0.75zM144.4 254.3h0.75v0.75h-0.75zM144.3 241.3h0.75v0.75h-0.75zM138.5 240.6h0.75v0.75h-0.75zM148.0 263.3h0.75v0.75h-0.75zM144.1 246.2h0.75v0.75h-0.75zM150.6 247.5h0.75v0.75h-0.75zM147.0 249.8h0.75v0.75h-0.75zM136.9 243.0h0.75v0.75h-0.75zM147.0 250.4h0.75v0.75h-0.75zM144.8 240.8h0.75v0.75h-0.75zM146.3 247.8h0.75v0.75h-0.75zM142.2 249.4h0.75v0.75h-0.75zM146.7 265.0h0.75v0.75h-0.75zM149.8 242.4h0.75v0.75h-0.75zM148.7 238.0h0.75v0.75h-0.75zM137.2 246.9h0.75v0.75h-0.75zM152.8 253.2h0.75v0.75h-0.75zM143.3 253.7h0.75v0.75h-0.75zM138.2 250.8h0.75v0.75h-0.75zM142.2 242.1h0.75v0.75h-0.75zM144.4 244.7h0.75v0.75h-0.75zM147.0 240.7h0.75v0.75h-0.75zM147.2 252.8h0.75v0.75h-0.75zM148.8 253.8h0.75v0.75h-0.75zM148.4 256.8h0.75v0.75h-0.75zM150.4 256.3h0.75v0.75h-0.75zM150.1 239.3h0.75v0.75h-0.75zM144.9 260.8h0.75v0.75h-0.75zM143.6 256.0h0.75v0.75h-0.75zM149.7 258.5h0.75v0.75h-0.75zM143.6 252.4h0.75v0.75h-0.75zM145.3 254.8h0.75v0.75h-0.75z" fill="#4E9A50" fill-opacity="0.55"/><path d="M140.8 252.1h0.75v0.75h-0.75zM149.7 250.0h0.75v0.75h-0.75zM149.2 257.5h0.75v0.75h-0.75zM146.7 248.8h0.75v0.75h-0.75zM144.7 245.3h0.75v0.75h-0.75zM145.1 250.4h0.75v0.75h-0.75zM149.1 246.8h0.75v0.75h-0.75zM144.3 251.2h0.75v0.75h-0.75zM145.7 257.7h0.75v0.75h-0.75zM146.4 258.3h0.75v0.75h-0.75zM146.6 237.5h0.75v0.75h-0.75zM145.8 245.4h0.75v0.75h-0.75zM146.4 246.3h0.75v0.75h-0.75zM148.9 248.9h0.75v0.75h-0.75zM145.3 262.0h0.75v0.75h-0.75zM145.4 248.9h0.75v0.75h-0.75zM145.3 255.1h0.75v0.75h-0.75zM147.0 251.0h0.75v0.75h-0.75zM149.7 247.0h0.75v0.75h-0.75zM148.4 254.7h0.75v0.75h-0.75zM147.2 248.2h0.75v0.75h-0.75zM145.9 256.8h0.75v0.75h-0.75zM138.6 260.8h0.75v0.75h-0.75zM143.7 256.6h0.75v0.75h-0.75zM147.8 252.8h0.75v0.75h-0.75zM147.8 248.1h0.75v0.75h-0.75zM151.0 250.1h0.75v0.75h-0.75zM148.7 249.4h0.75v0.75h-0.75zM145.4 256.8h0.75v0.75h-0.75zM143.6 251.6h0.75v0.75h-0.75zM144.0 243.4h0.75v0.75h-0.75zM149.2 250.4h0.75v0.75h-0.75zM141.1 252.1h0.75v0.75h-0.75zM153.0 254.7h0.75v0.75h-0.75zM145.7 253.1h0.75v0.75h-0.75zM145.5 252.4h0.75v0.75h-0.75zM146.0 252.1h0.75v0.75h-0.75zM145.0 255.8h0.75v0.75h-0.75zM142.9 243.1h0.75v0.75h-0.75zM141.5 248.8h0.75v0.75h-0.75zM146.7 253.8h0.75v0.75h-0.75zM148.6 242.5h0.75v0.75h-0.75zM141.9 255.4h0.75v0.75h-0.75zM151.4 252.9h0.75v0.75h-0.75zM146.0 256.4h0.75v0.75h-0.75zM151.1 254.9h0.75v0.75h-0.75zM146.9 249.3h0.75v0.75h-0.75zM144.8 249.2h0.75v0.75h-0.75zM142.9 253.8h0.75v0.75h-0.75zM149.3 248.7h0.75v0.75h-0.75zM148.6 253.9h0.75v0.75h-0.75zM146.0 250.9h0.75v0.75h-0.75zM150.6 246.0h0.75v0.75h-0.75zM144.4 249.4h0.75v0.75h-0.75zM144.2 254.5h0.75v0.75h-0.75zM148.1 249.1h0.75v0.75h-0.75z" fill="#C8A040" fill-opacity="0.6"/><path d="M148.0 244.3h0.75v0.75h-0.75zM146.6 261.7h0.75v0.75h-0.75zM148.8 247.2h0.75v0.75h-0.75zM148.6 248.8h0.75v0.75h-0.75zM147.9 254.5h0.75v0.75h-0.75zM142.7 260.5h0.75v0.75h-0.75zM142.8 251.0h0.75v0.75h-0.75zM148.1 254.1h0.75v0.75h-0.75zM146.9 250.6h0.75v0.75h-0.75zM148.4 253.1h0.75v0.75h-0.75zM145.5 256.9h0.75v0.75h-0.75zM150.3 248.7h0.75v0.75h-0.75zM145.3 248.0h0.75v0.75h-0.75zM143.3 253.5h0.75v0.75h-0.75zM148.8 245.6h0.75v0.75h-0.75zM145.8 253.6h0.75v0.75h-0.75zM144.9 256.0h0.75v0.75h-0.75zM147.9 251.5h0.75v0.75h-0.75zM149.4 252.8h0.75v0.75h-0.75zM149.2 253.9h0.75v0.75h-0.75zM145.7 258.4h0.75v0.75h-0.75zM144.6 254.1h0.75v0.75h-0.75zM145.5 248.9h0.75v0.75h-0.75zM143.1 257.7h0.75v0.75h-0.75z" fill="#C84030" fill-opacity="0.6"/></g><path d="M110.1 216h1.4M110.1 232h1.4M110.1 249h1.4M110.1 265h1.4" stroke="#555" stroke-width="0.6"/><path d="M113.6 279.8v-1.2M116.6 279.8v-1.2M118.6 279.8v-1.2M120.6 279.8v-1.2M124.6 279.8v-1.2M130.6 279.8v-1.2M138.6 279.8v-1.2M142.6 279.8v-1.2M146.6 279.8v-1.2M150.6 279.8v-1.2M154.6 279.8v-1.2M162.6 279.8v-1.2M170.6 279.8v-1.2M178.6 279.8v-1.2" stroke="#555" stroke-width="0.6"/><rect x="53.8" y="216.2" width="22.4" height="17.6" fill="none" stroke="#1a1a1a" stroke-width="1.15"/><rect x="134.5" y="216.2" width="22.3" height="17.6" fill="none" stroke="#1a1a1a" stroke-width="1.15"/><text x="77.9" y="219.5" font-size="5.5" fill="#2a2a2a" textLength="7.6" lengthAdjust="spacingAndGlyphs">CLP</text><text x="158.9" y="219.5" font-size="5.5" fill="#2a2a2a" textLength="8.6" lengthAdjust="spacingAndGlyphs">CLP</text><text x="73" y="239.5" font-size="5.5" fill="#2a2a2a" textLength="18.5" lengthAdjust="spacingAndGlyphs">0.123%</text><text x="156.4" y="239.5" font-size="5.5" fill="#2a2a2a" textLength="14.6" lengthAdjust="spacingAndGlyphs">0.09%</text><rect x="28" y="263.3" width="1.6" height="2.4" fill="#222"/><rect x="108.2" y="263.3" width="1.6" height="2.4" fill="#222"/><text x="30" y="38.8" font-size="7.8" fill="#2a2a2a" stroke-width="0.12" textLength="34.5" lengthAdjust="spacingAndGlyphs">Gabbr1<tspan dy="-3.2" font-size="4.68" letter-spacing="0.4">+/+</tspan></text><text x="30.4" y="103.7" font-size="7.8" fill="#2a2a2a" stroke-width="0.12" textLength="32.5" lengthAdjust="spacingAndGlyphs">Gabbr1<tspan dy="-3.2" font-size="4.68" letter-spacing="0.4">-/-</tspan></text><text x="47.6" y="206.5" font-size="7.8" fill="#2a2a2a" stroke-width="0.12" textLength="34.7" lengthAdjust="spacingAndGlyphs">Gabbr1<tspan dy="-3.2" font-size="4.68" letter-spacing="0.4">+/+</tspan></text><text x="129.2" y="205.7" font-size="7.8" fill="#2a2a2a" stroke-width="0.12" textLength="31.5" lengthAdjust="spacingAndGlyphs">Gabbr1<tspan dy="-3.2" font-size="4.68" letter-spacing="0.4">-/-</tspan></text><path d="M33.6 280.2H42M115.7 280.4H123" stroke="#222" stroke-width="1.2"/><path d="M22.8 161V78.2" stroke="#3a3a3a" stroke-width="1.45" fill="none"/><path d="M20.3 79.8L22.8 74.2L25.3 79.8Z" fill="#111"/><path d="M22.3 160.5H42.4" stroke="#3a3a3a" stroke-width="1.45" fill="none"/><path d="M40.8 158.0L46.4 160.5L40.8 163.0Z" fill="#111"/><path d="M100.3 161V78" stroke="#3a3a3a" stroke-width="1.45" fill="none"/><path d="M97.8 79.6L100.3 74L102.8 79.6Z" fill="#111"/><path d="M99.8 160.6H118.3" stroke="#3a3a3a" stroke-width="1.45" fill="none"/><path d="M116.7 158.1L122.3 160.6L116.7 163.1Z" fill="#111"/><path d="M22.7 289.8V236.4" stroke="#3a3a3a" stroke-width="1.45" fill="none"/><path d="M20.2 238.0L22.7 232.4L25.2 238.0Z" fill="#111"/><path d="M22.2 289.3H151.3" stroke="#3a3a3a" stroke-width="1.45" fill="none"/><path d="M149.70000000000002 286.8L155.3 289.3L149.70000000000002 291.8Z" fill="#111"/><text transform="translate(25.3 65) rotate(-90)" font-size="7.2" text-anchor="middle" fill="#2a2a2a" stroke-width="0.2" textLength="12.4" lengthAdjust="spacingAndGlyphs">c-Kit</text><text transform="translate(101.6 63) rotate(-90)" font-size="7.2" text-anchor="middle" fill="#2a2a2a" stroke-width="0.2" textLength="14.1" lengthAdjust="spacingAndGlyphs">CD48</text><text transform="translate(25.5 218.8) rotate(-90)" font-size="7.2" text-anchor="middle" fill="#2a2a2a" stroke-width="0.2" textLength="18" lengthAdjust="spacingAndGlyphs">CD135</text><text x="49.6" y="163.2" font-size="6.8" fill="#2a2a2a" textLength="12.7" lengthAdjust="spacingAndGlyphs">Sca1</text><text x="126" y="163.4" font-size="6.8" fill="#2a2a2a" textLength="18.8" lengthAdjust="spacingAndGlyphs">CD150</text><text x="158.5" y="291.8" font-size="6.8" fill="#2a2a2a" textLength="18.5" lengthAdjust="spacingAndGlyphs">CD127</text><rect x="226.40" y="88.30" width="16.20" height="47.90" fill="#CC8C80" stroke="#BE7565" stroke-width="0.8"/><rect x="251.70" y="100.50" width="16.00" height="35.70" fill="#8F96B9" stroke="#7C85AE" stroke-width="0.8"/><path d="M234.30 82.20V93.40M230.10 82.20H238.50M230.10 93.40H238.50" stroke="#1e1e1e" stroke-width="1.25" fill="none"/><path d="M259.90 85.40V114.50M255.70 85.40H264.10M255.70 114.50H264.10" stroke="#1e1e1e" stroke-width="1.25" fill="none"/><circle cx="234.3" cy="80" r="1.2" fill="#C1112F"/><circle cx="234.3" cy="84.7" r="1.2" fill="#C1112F"/><circle cx="234.3" cy="88.6" r="1.2" fill="#C1112F"/><circle cx="236.2" cy="91.8" r="1.2" fill="#C1112F"/><circle cx="232.5" cy="94.3" r="1.2" fill="#C1112F"/><circle cx="260" cy="83.6" r="1.2" fill="#1F3E8C"/><circle cx="260" cy="93.3" r="1.2" fill="#1F3E8C"/><circle cx="257.9" cy="99.6" r="1.2" fill="#1F3E8C"/><circle cx="261.4" cy="100.3" r="1.2" fill="#1F3E8C"/><circle cx="259.8" cy="122.6" r="1.2" fill="#1F3E8C"/><path d="M217.5 73.6V136.2H277.5" stroke="#1a1a1a" stroke-width="1.5" fill="none"/><path d="M213.9 76.4H217.5" stroke="#1a1a1a" stroke-width="1"/><text x="211.60" y="78.75" font-size="6.5" text-anchor="end" fill="#222" stroke-width="0.1" textLength="7.23" lengthAdjust="spacingAndGlyphs">2.5</text><path d="M213.9 88.4H217.5" stroke="#1a1a1a" stroke-width="1"/><text x="211.60" y="90.75" font-size="6.5" text-anchor="end" fill="#222" stroke-width="0.1" textLength="7.23" lengthAdjust="spacingAndGlyphs">2.0</text><path d="M213.9 100.3H217.5" stroke="#1a1a1a" stroke-width="1"/><text x="211.60" y="102.65" font-size="6.5" text-anchor="end" fill="#222" stroke-width="0.1" textLength="7.23" lengthAdjust="spacingAndGlyphs">1.5</text><path d="M213.9 112.3H217.5" stroke="#1a1a1a" stroke-width="1"/><text x="211.60" y="114.65" font-size="6.5" text-anchor="end" fill="#222" stroke-width="0.1" textLength="7.23" lengthAdjust="spacingAndGlyphs">1.0</text><path d="M213.9 124.2H217.5" stroke="#1a1a1a" stroke-width="1"/><text x="211.60" y="126.55" font-size="6.5" text-anchor="end" fill="#222" stroke-width="0.1" textLength="7.23" lengthAdjust="spacingAndGlyphs">0.5</text><path d="M213.9 136.2H217.5" stroke="#1a1a1a" stroke-width="1"/><text x="211.60" y="138.55" font-size="6.5" text-anchor="end" fill="#222" stroke-width="0.1" textLength="7.23" lengthAdjust="spacingAndGlyphs">0.0</text><path d="M234.50 136.2V139.00" stroke="#1a1a1a" stroke-width="1"/><path d="M259.70 136.2V139.00" stroke="#1a1a1a" stroke-width="1"/><text transform="translate(237.50 145.40) rotate(-45)" font-size="5.6" text-anchor="end" fill="#3a3a3a" stroke-width="0">Gabbr1<tspan dy="-2.2" font-size="3.8">+/+</tspan></text><text transform="translate(262.70 145.40) rotate(-45)" font-size="5.6" text-anchor="end" fill="#3a3a3a" stroke-width="0">Gabbr1<tspan dy="-2.2" font-size="3.8">-/-</tspan></text><text transform="translate(190.45 104.20) rotate(-90)" font-size="8" text-anchor="middle" fill="#2a2a2a" textLength="53.8" lengthAdjust="spacingAndGlyphs">No. of bone marrow</text><text transform="translate(199.05 106.60) rotate(-90)" font-size="8" text-anchor="middle" fill="#2a2a2a" textLength="29.2" lengthAdjust="spacingAndGlyphs">cells (x10<tspan dy="-3.0" font-size="5.2">7</tspan><tspan dy="3.0">)</tspan></text><rect x="327.40" y="91.50" width="19.20" height="44.70" fill="#CC8C80" stroke="#BE7565" stroke-width="0.8"/><rect x="357.60" y="102.40" width="18.80" height="33.80" fill="#8F96B9" stroke="#7C85AE" stroke-width="0.8"/><path d="M337.00 84.40V97.50M332.20 84.40H341.80M332.20 97.50H341.80" stroke="#1e1e1e" stroke-width="1.25" fill="none"/><path d="M367.00 95.40V108.00M362.20 95.40H371.80M362.20 108.00H371.80" stroke="#1e1e1e" stroke-width="1.25" fill="none"/><circle cx="337" cy="81.7" r="1.2" fill="#C1112F"/><circle cx="337" cy="87" r="1.2" fill="#C1112F"/><circle cx="337" cy="93" r="1.2" fill="#C1112F"/><circle cx="335" cy="97.3" r="1.2" fill="#C1112F"/><circle cx="339" cy="97.3" r="1.2" fill="#C1112F"/><circle cx="362.6" cy="96.4" r="1.2" fill="#1F3E8C"/><circle cx="371.3" cy="96.4" r="1.2" fill="#1F3E8C"/><circle cx="367" cy="99.4" r="1.2" fill="#1F3E8C"/><circle cx="367" cy="106" r="1.2" fill="#1F3E8C"/><circle cx="365" cy="110" r="1.2" fill="#1F3E8C"/><circle cx="369" cy="107.5" r="1.2" fill="#1F3E8C"/><path d="M321.7 73.8V136.2H382" stroke="#1a1a1a" stroke-width="1.5" fill="none"/><path d="M318.09999999999997 75.8H321.7" stroke="#1a1a1a" stroke-width="1"/><text x="315.80" y="78.15" font-size="6.5" text-anchor="end" fill="#222" stroke-width="0.1" textLength="2.89" lengthAdjust="spacingAndGlyphs">5</text><path d="M318.09999999999997 88H321.7" stroke="#1a1a1a" stroke-width="1"/><text x="315.80" y="90.35" font-size="6.5" text-anchor="end" fill="#222" stroke-width="0.1" textLength="2.89" lengthAdjust="spacingAndGlyphs">4</text><path d="M318.09999999999997 100.1H321.7" stroke="#1a1a1a" stroke-width="1"/><text x="315.80" y="102.45" font-size="6.5" text-anchor="end" fill="#222" stroke-width="0.1" textLength="2.89" lengthAdjust="spacingAndGlyphs">3</text><path d="M318.09999999999997 112.1H321.7" stroke="#1a1a1a" stroke-width="1"/><text x="315.80" y="114.45" font-size="6.5" text-anchor="end" fill="#222" stroke-width="0.1" textLength="2.89" lengthAdjust="spacingAndGlyphs">2</text><path d="M318.09999999999997 124.2H321.7" stroke="#1a1a1a" stroke-width="1"/><text x="315.80" y="126.55" font-size="6.5" text-anchor="end" fill="#222" stroke-width="0.1" textLength="2.89" lengthAdjust="spacingAndGlyphs">1</text><path d="M318.09999999999997 136.2H321.7" stroke="#1a1a1a" stroke-width="1"/><text x="315.80" y="138.55" font-size="6.5" text-anchor="end" fill="#222" stroke-width="0.1" textLength="2.89" lengthAdjust="spacingAndGlyphs">0</text><path d="M337.00 136.2V139.00" stroke="#1a1a1a" stroke-width="1"/><path d="M367.00 136.2V139.00" stroke="#1a1a1a" stroke-width="1"/><text transform="translate(340.00 145.40) rotate(-45)" font-size="5.6" text-anchor="end" fill="#3a3a3a" stroke-width="0">Gabbr1<tspan dy="-2.2" font-size="3.8">+/+</tspan></text><text transform="translate(370.00 145.40) rotate(-45)" font-size="5.6" text-anchor="end" fill="#3a3a3a" stroke-width="0">Gabbr1<tspan dy="-2.2" font-size="3.8">-/-</tspan></text><text x="367" y="96.10" font-size="8.5" text-anchor="middle" fill="#000" stroke="#000" stroke-width="0.55" letter-spacing="0.3">*</text><text transform="translate(298.65 105.20) rotate(-90)" font-size="8" text-anchor="middle" fill="#2a2a2a" textLength="40.4" lengthAdjust="spacingAndGlyphs">No. of LSK cells</text><text transform="translate(309.15 104.05) rotate(-90)" font-size="8" text-anchor="middle" fill="#2a2a2a" textLength="17.7" lengthAdjust="spacingAndGlyphs">(x10<tspan dy="-3.0" font-size="5.2">5</tspan><tspan dy="3.0">)</tspan></text><rect x="421.40" y="83.00" width="19.80" height="53.20" fill="#CC8C80" stroke="#BE7565" stroke-width="0.8"/><rect x="452.50" y="88.80" width="20.00" height="47.40" fill="#8F96B9" stroke="#7C85AE" stroke-width="0.8"/><path d="M431.00 75.10V90.10M425.80 75.10H436.20M425.80 90.10H436.20" stroke="#1e1e1e" stroke-width="1.25" fill="none"/><path d="M462.50 78.80V97.90M457.40 78.80H467.60M457.40 97.90H467.60" stroke="#1e1e1e" stroke-width="1.25" fill="none"/><circle cx="427.2" cy="76.3" r="1.2" fill="#C1112F"/><circle cx="431" cy="79.3" r="1.2" fill="#C1112F"/><circle cx="435" cy="78.6" r="1.2" fill="#C1112F"/><circle cx="431" cy="84.6" r="1.2" fill="#C1112F"/><circle cx="431" cy="95" r="1.2" fill="#C1112F"/><circle cx="460" cy="79.6" r="1.2" fill="#1F3E8C"/><circle cx="464.5" cy="77.3" r="1.2" fill="#1F3E8C"/><circle cx="460.5" cy="91.7" r="1.2" fill="#1F3E8C"/><circle cx="464.5" cy="91.7" r="1.2" fill="#1F3E8C"/><circle cx="462.5" cy="100.8" r="1.2" fill="#1F3E8C"/><path d="M415.6 70.5V136.2H478.5" stroke="#1a1a1a" stroke-width="1.5" fill="none"/><path d="M412.0 73H415.6" stroke="#1a1a1a" stroke-width="1"/><text x="409.70" y="75.35" font-size="6.5" text-anchor="end" fill="#222" stroke-width="0.1" textLength="2.89" lengthAdjust="spacingAndGlyphs">5</text><path d="M412.0 85.6H415.6" stroke="#1a1a1a" stroke-width="1"/><text x="409.70" y="87.95" font-size="6.5" text-anchor="end" fill="#222" stroke-width="0.1" textLength="2.89" lengthAdjust="spacingAndGlyphs">4</text><path d="M412.0 98.3H415.6" stroke="#1a1a1a" stroke-width="1"/><text x="409.70" y="100.65" font-size="6.5" text-anchor="end" fill="#222" stroke-width="0.1" textLength="2.89" lengthAdjust="spacingAndGlyphs">3</text><path d="M412.0 111H415.6" stroke="#1a1a1a" stroke-width="1"/><text x="409.70" y="113.35" font-size="6.5" text-anchor="end" fill="#222" stroke-width="0.1" textLength="2.89" lengthAdjust="spacingAndGlyphs">2</text><path d="M412.0 123.6H415.6" stroke="#1a1a1a" stroke-width="1"/><text x="409.70" y="125.95" font-size="6.5" text-anchor="end" fill="#222" stroke-width="0.1" textLength="2.89" lengthAdjust="spacingAndGlyphs">1</text><path d="M412.0 136.2H415.6" stroke="#1a1a1a" stroke-width="1"/><text x="409.70" y="138.55" font-size="6.5" text-anchor="end" fill="#222" stroke-width="0.1" textLength="2.89" lengthAdjust="spacingAndGlyphs">0</text><path d="M431.30 136.2V139.00" stroke="#1a1a1a" stroke-width="1"/><path d="M462.50 136.2V139.00" stroke="#1a1a1a" stroke-width="1"/><text transform="translate(434.30 145.40) rotate(-45)" font-size="5.6" text-anchor="end" fill="#3a3a3a" stroke-width="0">Gabbr1<tspan dy="-2.2" font-size="3.8">+/+</tspan></text><text transform="translate(465.50 145.40) rotate(-45)" font-size="5.6" text-anchor="end" fill="#3a3a3a" stroke-width="0">Gabbr1<tspan dy="-2.2" font-size="3.8">-/-</tspan></text><text transform="translate(400.55 104.70) rotate(-90)" font-size="8" text-anchor="middle" fill="#2a2a2a" textLength="51.0" lengthAdjust="spacingAndGlyphs">No. of HSCs (x10<tspan dy="-3.0" font-size="5.2">3</tspan><tspan dy="3.0">)</tspan></text><rect x="226.50" y="228.50" width="16.20" height="46.00" fill="#CC8C80" stroke="#BE7565" stroke-width="0.8"/><rect x="252.50" y="241.40" width="16.20" height="33.10" fill="#8F96B9" stroke="#7C85AE" stroke-width="0.8"/><path d="M234.70 223.20V232.90M230.40 223.20H239.00M230.40 232.90H239.00" stroke="#1e1e1e" stroke-width="1.25" fill="none"/><path d="M260.70 230.40V250.80M256.40 230.40H265.00M256.40 250.80H265.00" stroke="#1e1e1e" stroke-width="1.25" fill="none"/><circle cx="238.5" cy="222.8" r="1.2" fill="#C1112F"/><circle cx="231" cy="225.6" r="1.2" fill="#C1112F"/><circle cx="234.9" cy="225.8" r="1.2" fill="#C1112F"/><circle cx="236.4" cy="231.6" r="1.2" fill="#C1112F"/><circle cx="232.9" cy="234.7" r="1.2" fill="#C1112F"/><circle cx="233.5" cy="231" r="1.2" fill="#C1112F"/><circle cx="260.7" cy="230.5" r="1.2" fill="#1F3E8C"/><circle cx="260.7" cy="235" r="1.2" fill="#1F3E8C"/><circle cx="258.5" cy="239.2" r="1.2" fill="#1F3E8C"/><circle cx="262.5" cy="240.5" r="1.2" fill="#1F3E8C"/><circle cx="260.7" cy="257.5" r="1.2" fill="#1F3E8C"/><path d="M217.5 211.6V274.5H278" stroke="#1a1a1a" stroke-width="1.5" fill="none"/><path d="M213.9 214.5H217.5" stroke="#1a1a1a" stroke-width="1"/><text x="211.60" y="216.85" font-size="6.5" text-anchor="end" fill="#222" stroke-width="0.1" textLength="2.89" lengthAdjust="spacingAndGlyphs">3</text><path d="M213.9 234.5H217.5" stroke="#1a1a1a" stroke-width="1"/><text x="211.60" y="236.85" font-size="6.5" text-anchor="end" fill="#222" stroke-width="0.1" textLength="2.89" lengthAdjust="spacingAndGlyphs">2</text><path d="M213.9 254.5H217.5" stroke="#1a1a1a" stroke-width="1"/><text x="211.60" y="256.85" font-size="6.5" text-anchor="end" fill="#222" stroke-width="0.1" textLength="2.89" lengthAdjust="spacingAndGlyphs">1</text><path d="M213.9 274.5H217.5" stroke="#1a1a1a" stroke-width="1"/><text x="211.60" y="276.85" font-size="6.5" text-anchor="end" fill="#222" stroke-width="0.1" textLength="2.89" lengthAdjust="spacingAndGlyphs">0</text><path d="M234.60 274.5V277.30" stroke="#1a1a1a" stroke-width="1"/><path d="M260.60 274.5V277.30" stroke="#1a1a1a" stroke-width="1"/><text transform="translate(237.60 283.70) rotate(-45)" font-size="5.6" text-anchor="end" fill="#3a3a3a" stroke-width="0">Gabbr1<tspan dy="-2.2" font-size="3.8">+/+</tspan></text><text transform="translate(263.60 283.70) rotate(-45)" font-size="5.6" text-anchor="end" fill="#3a3a3a" stroke-width="0">Gabbr1<tspan dy="-2.2" font-size="3.8">-/-</tspan></text><text x="260.7" y="230.60" font-size="8.5" text-anchor="middle" fill="#000" stroke="#000" stroke-width="0.55" letter-spacing="0.3">*</text><text transform="translate(195.65 244.50) rotate(-90)" font-size="8" text-anchor="middle" fill="#2a2a2a" textLength="27.8" lengthAdjust="spacingAndGlyphs">No. of CLP</text><text transform="translate(203.05 245.10) rotate(-90)" font-size="8" text-anchor="middle" fill="#2a2a2a" textLength="57.2" lengthAdjust="spacingAndGlyphs">in bone marrow (x10<tspan dy="-3.0" font-size="5.2">4</tspan><tspan dy="3.0">)</tspan></text><rect x="331.20" y="238.50" width="16.40" height="36.00" fill="#CC8C80" stroke="#BE7565" stroke-width="0.8"/><rect x="357.20" y="247.20" width="16.50" height="27.30" fill="#8F96B9" stroke="#7C85AE" stroke-width="0.8"/><path d="M339.40 229.20V246.00M335.10 229.20H343.70M335.10 246.00H343.70" stroke="#1e1e1e" stroke-width="1.25" fill="none"/><path d="M365.30 233.00V259.20M361.00 233.00H369.60M361.00 259.20H369.60" stroke="#1e1e1e" stroke-width="1.25" fill="none"/><circle cx="337" cy="230" r="1.2" fill="#C1112F"/><circle cx="339.4" cy="229.8" r="1.2" fill="#C1112F"/><circle cx="341" cy="234.3" r="1.2" fill="#C1112F"/><circle cx="341" cy="245.5" r="1.2" fill="#C1112F"/><circle cx="337.3" cy="248.2" r="1.2" fill="#C1112F"/><circle cx="365.3" cy="227.8" r="1.2" fill="#1F3E8C"/><circle cx="365.3" cy="240.4" r="1.2" fill="#1F3E8C"/><circle cx="365.3" cy="246.4" r="1.2" fill="#1F3E8C"/><circle cx="365.3" cy="255.8" r="1.2" fill="#1F3E8C"/><circle cx="365.3" cy="262" r="1.2" fill="#1F3E8C"/><path d="M322.4 211.6V274.5H382.4" stroke="#1a1a1a" stroke-width="1.5" fill="none"/><path d="M318.79999999999995 214.5H322.4" stroke="#1a1a1a" stroke-width="1"/><text x="316.50" y="216.85" font-size="6.5" text-anchor="end" fill="#222" stroke-width="0.1" textLength="7.23" lengthAdjust="spacingAndGlyphs">2.4</text><path d="M318.79999999999995 224.5H322.4" stroke="#1a1a1a" stroke-width="1"/><text x="316.50" y="226.85" font-size="6.5" text-anchor="end" fill="#222" stroke-width="0.1" textLength="7.23" lengthAdjust="spacingAndGlyphs">2.2</text><path d="M318.79999999999995 234.5H322.4" stroke="#1a1a1a" stroke-width="1"/><text x="316.50" y="236.85" font-size="6.5" text-anchor="end" fill="#222" stroke-width="0.1" textLength="7.23" lengthAdjust="spacingAndGlyphs">2.0</text><path d="M318.79999999999995 244.5H322.4" stroke="#1a1a1a" stroke-width="1"/><text x="316.50" y="246.85" font-size="6.5" text-anchor="end" fill="#222" stroke-width="0.1" textLength="7.23" lengthAdjust="spacingAndGlyphs">1.8</text><path d="M318.79999999999995 254.5H322.4" stroke="#1a1a1a" stroke-width="1"/><text x="316.50" y="256.85" font-size="6.5" text-anchor="end" fill="#222" stroke-width="0.1" textLength="7.23" lengthAdjust="spacingAndGlyphs">1.6</text><path d="M318.79999999999995 264.5H322.4" stroke="#1a1a1a" stroke-width="1"/><text x="316.50" y="266.85" font-size="6.5" text-anchor="end" fill="#222" stroke-width="0.1" textLength="7.23" lengthAdjust="spacingAndGlyphs">1.4</text><path d="M318.79999999999995 274.5H322.4" stroke="#1a1a1a" stroke-width="1"/><text x="316.50" y="276.85" font-size="6.5" text-anchor="end" fill="#222" stroke-width="0.1" textLength="7.23" lengthAdjust="spacingAndGlyphs">1.2</text><path d="M339.40 274.5V277.30" stroke="#1a1a1a" stroke-width="1"/><path d="M365.45 274.5V277.30" stroke="#1a1a1a" stroke-width="1"/><text transform="translate(342.40 283.70) rotate(-45)" font-size="5.6" text-anchor="end" fill="#3a3a3a" stroke-width="0">Gabbr1<tspan dy="-2.2" font-size="3.8">+/+</tspan></text><text transform="translate(368.45 283.70) rotate(-45)" font-size="5.6" text-anchor="end" fill="#3a3a3a" stroke-width="0">Gabbr1<tspan dy="-2.2" font-size="3.8">-/-</tspan></text><text transform="translate(295.65 243.85) rotate(-90)" font-size="8" text-anchor="middle" fill="#2a2a2a" textLength="29.1" lengthAdjust="spacingAndGlyphs">No. of CMP</text><text transform="translate(303.05 246.10) rotate(-90)" font-size="8" text-anchor="middle" fill="#2a2a2a" textLength="59.2" lengthAdjust="spacingAndGlyphs">in bone marrow (x10<tspan dy="-3.0" font-size="5.2">5</tspan><tspan dy="3.0">)</tspan></text><rect x="55.60" y="354.20" width="13.90" height="27.50" fill="#CC8C80" stroke="#BE7565" stroke-width="0.8"/><rect x="75.50" y="365.80" width="13.70" height="15.90" fill="#8F96B9" stroke="#7C85AE" stroke-width="0.8"/><path d="M62.50 350.90V356.40M59.00 350.90H66.00M59.00 356.40H66.00" stroke="#1e1e1e" stroke-width="1.25" fill="none"/><path d="M82.10 358.20V372.50M78.40 358.20H85.80M78.40 372.50H85.80" stroke="#1e1e1e" stroke-width="1.25" fill="none"/><circle cx="59.5" cy="351" r="1.2" fill="#C1112F"/><circle cx="65.5" cy="351" r="1.2" fill="#C1112F"/><circle cx="62.5" cy="352.5" r="1.2" fill="#C1112F"/><circle cx="60" cy="354.5" r="1.2" fill="#C1112F"/><circle cx="64.5" cy="354.5" r="1.2" fill="#C1112F"/><circle cx="62.5" cy="358" r="1.2" fill="#C1112F"/><circle cx="82" cy="355" r="1.2" fill="#1F3E8C"/><circle cx="80" cy="363" r="1.2" fill="#1F3E8C"/><circle cx="83.5" cy="365.5" r="1.2" fill="#1F3E8C"/><circle cx="83" cy="371" r="1.2" fill="#1F3E8C"/><circle cx="81" cy="373.5" r="1.2" fill="#1F3E8C"/><path d="M51.5 334.2V381.7H93.5" stroke="#1a1a1a" stroke-width="1.5" fill="none"/><path d="M47.9 336.7H51.5" stroke="#1a1a1a" stroke-width="1"/><text x="45.60" y="339.05" font-size="6.5" text-anchor="end" fill="#222" stroke-width="0.1" textLength="5.78" lengthAdjust="spacingAndGlyphs">10</text><path d="M47.9 345.7H51.5" stroke="#1a1a1a" stroke-width="1"/><text x="45.60" y="348.05" font-size="6.5" text-anchor="end" fill="#222" stroke-width="0.1" textLength="2.89" lengthAdjust="spacingAndGlyphs">8</text><path d="M47.9 354.7H51.5" stroke="#1a1a1a" stroke-width="1"/><text x="45.60" y="357.05" font-size="6.5" text-anchor="end" fill="#222" stroke-width="0.1" textLength="2.89" lengthAdjust="spacingAndGlyphs">6</text><path d="M47.9 363.7H51.5" stroke="#1a1a1a" stroke-width="1"/><text x="45.60" y="366.05" font-size="6.5" text-anchor="end" fill="#222" stroke-width="0.1" textLength="2.89" lengthAdjust="spacingAndGlyphs">4</text><path d="M47.9 372.7H51.5" stroke="#1a1a1a" stroke-width="1"/><text x="45.60" y="375.05" font-size="6.5" text-anchor="end" fill="#222" stroke-width="0.1" textLength="2.89" lengthAdjust="spacingAndGlyphs">2</text><path d="M47.9 381.7H51.5" stroke="#1a1a1a" stroke-width="1"/><text x="45.60" y="384.05" font-size="6.5" text-anchor="end" fill="#222" stroke-width="0.1" textLength="2.89" lengthAdjust="spacingAndGlyphs">0</text><path d="M62.55 381.7V384.50" stroke="#1a1a1a" stroke-width="1"/><path d="M82.35 381.7V384.50" stroke="#1a1a1a" stroke-width="1"/><text transform="translate(65.55 390.90) rotate(-45)" font-size="5.6" text-anchor="end" fill="#3a3a3a" stroke-width="0">Gabbr1<tspan dy="-2.2" font-size="3.8">+/+</tspan></text><text transform="translate(85.35 390.90) rotate(-45)" font-size="5.6" text-anchor="end" fill="#3a3a3a" stroke-width="0">Gabbr1<tspan dy="-2.2" font-size="3.8">-/-</tspan></text><text x="82.1" y="354.90" font-size="8.5" text-anchor="middle" fill="#000" stroke="#000" stroke-width="0.55" letter-spacing="0.3">**</text><text transform="translate(25.95 357.90) rotate(-90)" font-size="8" text-anchor="middle" fill="#2a2a2a" textLength="16.2" lengthAdjust="spacingAndGlyphs">WBCs</text><text transform="translate(33.85 357.95) rotate(-90)" font-size="8" text-anchor="middle" fill="#2a2a2a" textLength="24.5" lengthAdjust="spacingAndGlyphs">(x10<tspan dy="-3.0" font-size="5.2">3</tspan><tspan dy="3.0">/ul)</tspan></text><rect x="138.60" y="353.50" width="13.90" height="28.10" fill="#CC8C80" stroke="#BE7565" stroke-width="0.8"/><rect x="158.30" y="366.40" width="13.40" height="15.20" fill="#8F96B9" stroke="#7C85AE" stroke-width="0.8"/><path d="M145.40 350.70V355.60M141.90 350.70H148.90M141.90 355.60H148.90" stroke="#1e1e1e" stroke-width="1.25" fill="none"/><path d="M164.90 359.20V372.30M161.20 359.20H168.60M161.20 372.30H168.60" stroke="#1e1e1e" stroke-width="1.25" fill="none"/><circle cx="142.5" cy="350.5" r="1.2" fill="#C1112F"/><circle cx="148.3" cy="350.5" r="1.2" fill="#C1112F"/><circle cx="145.4" cy="351" r="1.2" fill="#C1112F"/><circle cx="143" cy="355.5" r="1.2" fill="#C1112F"/><circle cx="147.5" cy="355.5" r="1.2" fill="#C1112F"/><circle cx="145.4" cy="356.2" r="1.2" fill="#C1112F"/><circle cx="164.9" cy="357" r="1.2" fill="#1F3E8C"/><circle cx="163" cy="363.5" r="1.2" fill="#1F3E8C"/><circle cx="167" cy="363.5" r="1.2" fill="#1F3E8C"/><circle cx="164.9" cy="370.5" r="1.2" fill="#1F3E8C"/><circle cx="163.5" cy="373.5" r="1.2" fill="#1F3E8C"/><circle cx="166" cy="371.5" r="1.2" fill="#1F3E8C"/><path d="M134.2 333.9V381.6H176.3" stroke="#1a1a1a" stroke-width="1.5" fill="none"/><path d="M130.6 336.7H134.2" stroke="#1a1a1a" stroke-width="1"/><text x="128.30" y="339.05" font-size="6.5" text-anchor="end" fill="#222" stroke-width="0.1" textLength="2.89" lengthAdjust="spacingAndGlyphs">8</text><path d="M130.6 347.9H134.2" stroke="#1a1a1a" stroke-width="1"/><text x="128.30" y="350.25" font-size="6.5" text-anchor="end" fill="#222" stroke-width="0.1" textLength="2.89" lengthAdjust="spacingAndGlyphs">6</text><path d="M130.6 359.1H134.2" stroke="#1a1a1a" stroke-width="1"/><text x="128.30" y="361.45" font-size="6.5" text-anchor="end" fill="#222" stroke-width="0.1" textLength="2.89" lengthAdjust="spacingAndGlyphs">4</text><path d="M130.6 370.3H134.2" stroke="#1a1a1a" stroke-width="1"/><text x="128.30" y="372.65" font-size="6.5" text-anchor="end" fill="#222" stroke-width="0.1" textLength="2.89" lengthAdjust="spacingAndGlyphs">2</text><path d="M130.6 381.5H134.2" stroke="#1a1a1a" stroke-width="1"/><text x="128.30" y="383.85" font-size="6.5" text-anchor="end" fill="#222" stroke-width="0.1" textLength="2.89" lengthAdjust="spacingAndGlyphs">0</text><path d="M145.55 381.6V384.40" stroke="#1a1a1a" stroke-width="1"/><path d="M165.00 381.6V384.40" stroke="#1a1a1a" stroke-width="1"/><text transform="translate(148.55 390.80) rotate(-45)" font-size="5.6" text-anchor="end" fill="#3a3a3a" stroke-width="0">Gabbr1<tspan dy="-2.2" font-size="3.8">+/+</tspan></text><text transform="translate(168.00 390.80) rotate(-45)" font-size="5.6" text-anchor="end" fill="#3a3a3a" stroke-width="0">Gabbr1<tspan dy="-2.2" font-size="3.8">-/-</tspan></text><text x="164.9" y="357.40" font-size="8.5" text-anchor="middle" fill="#000" stroke="#000" stroke-width="0.55" letter-spacing="0.3">**</text><text transform="translate(111.45 357.45) rotate(-90)" font-size="8" text-anchor="middle" fill="#2a2a2a" textLength="35.1" lengthAdjust="spacingAndGlyphs">Lymphocytes</text><text transform="translate(119.95 357.50) rotate(-90)" font-size="8" text-anchor="middle" fill="#2a2a2a" textLength="25.6" lengthAdjust="spacingAndGlyphs">(x10<tspan dy="-3.0" font-size="5.2">3</tspan><tspan dy="3.0">/ul)</tspan></text><rect x="221.60" y="362.90" width="13.90" height="18.70" fill="#CC8C80" stroke="#BE7565" stroke-width="0.8"/><rect x="240.80" y="367.70" width="13.70" height="13.90" fill="#8F96B9" stroke="#7C85AE" stroke-width="0.8"/><path d="M228.40 353.10V371.80M224.80 353.10H232.00M224.80 371.80H232.00" stroke="#1e1e1e" stroke-width="1.25" fill="none"/><path d="M247.60 355.80V378.40M243.80 355.80H251.40M243.80 378.40H251.40" stroke="#1e1e1e" stroke-width="1.25" fill="none"/><circle cx="228.4" cy="350.3" r="1.2" fill="#C1112F"/><circle cx="229.8" cy="358.2" r="1.2" fill="#C1112F"/><circle cx="227" cy="360.5" r="1.2" fill="#C1112F"/><circle cx="228.4" cy="369.5" r="1.2" fill="#C1112F"/><circle cx="228.4" cy="374" r="1.2" fill="#C1112F"/><circle cx="247.6" cy="348.2" r="1.2" fill="#1F3E8C"/><circle cx="247.6" cy="365.5" r="1.2" fill="#1F3E8C"/><circle cx="247.6" cy="371.5" r="1.2" fill="#1F3E8C"/><circle cx="249" cy="374" r="1.2" fill="#1F3E8C"/><circle cx="246.5" cy="376" r="1.2" fill="#1F3E8C"/><path d="M217 333.9V381.6H259.2" stroke="#1a1a1a" stroke-width="1.5" fill="none"/><path d="M213.4 336.7H217" stroke="#1a1a1a" stroke-width="1"/><text x="211.10" y="339.05" font-size="6.5" text-anchor="end" fill="#222" stroke-width="0.1" textLength="7.23" lengthAdjust="spacingAndGlyphs">2.0</text><path d="M213.4 347.9H217" stroke="#1a1a1a" stroke-width="1"/><text x="211.10" y="350.25" font-size="6.5" text-anchor="end" fill="#222" stroke-width="0.1" textLength="7.23" lengthAdjust="spacingAndGlyphs">1.5</text><path d="M213.4 359.1H217" stroke="#1a1a1a" stroke-width="1"/><text x="211.10" y="361.45" font-size="6.5" text-anchor="end" fill="#222" stroke-width="0.1" textLength="7.23" lengthAdjust="spacingAndGlyphs">1.0</text><path d="M213.4 370.3H217" stroke="#1a1a1a" stroke-width="1"/><text x="211.10" y="372.65" font-size="6.5" text-anchor="end" fill="#222" stroke-width="0.1" textLength="7.23" lengthAdjust="spacingAndGlyphs">0.5</text><path d="M213.4 381.5H217" stroke="#1a1a1a" stroke-width="1"/><text x="211.10" y="383.85" font-size="6.5" text-anchor="end" fill="#222" stroke-width="0.1" textLength="7.23" lengthAdjust="spacingAndGlyphs">0.0</text><path d="M228.55 381.6V384.40" stroke="#1a1a1a" stroke-width="1"/><path d="M247.65 381.6V384.40" stroke="#1a1a1a" stroke-width="1"/><text transform="translate(231.55 390.80) rotate(-45)" font-size="5.6" text-anchor="end" fill="#3a3a3a" stroke-width="0">Gabbr1<tspan dy="-2.2" font-size="3.8">+/+</tspan></text><text transform="translate(250.65 390.80) rotate(-45)" font-size="5.6" text-anchor="end" fill="#3a3a3a" stroke-width="0">Gabbr1<tspan dy="-2.2" font-size="3.8">-/-</tspan></text><text transform="translate(190.45 357.95) rotate(-90)" font-size="8" text-anchor="middle" fill="#2a2a2a" textLength="32.3" lengthAdjust="spacingAndGlyphs">Neutrophils</text><text transform="translate(199.05 357.35) rotate(-90)" font-size="8" text-anchor="middle" fill="#2a2a2a" textLength="25.3" lengthAdjust="spacingAndGlyphs">(x10<tspan dy="-3.0" font-size="5.2">3</tspan><tspan dy="3.0">/ul)</tspan></text><rect x="305.90" y="348.00" width="13.70" height="33.70" fill="#CC8C80" stroke="#BE7565" stroke-width="0.8"/><rect x="325.40" y="360.50" width="13.90" height="21.20" fill="#8F96B9" stroke="#7C85AE" stroke-width="0.8"/><path d="M312.90 341.20V353.70M309.20 341.20H316.60M309.20 353.70H316.60" stroke="#1e1e1e" stroke-width="1.25" fill="none"/><path d="M332.00 353.30V366.30M328.40 353.30H335.60M328.40 366.30H335.60" stroke="#1e1e1e" stroke-width="1.25" fill="none"/><circle cx="312" cy="343.5" r="1.2" fill="#C1112F"/><circle cx="314" cy="346" r="1.2" fill="#C1112F"/><circle cx="310.5" cy="344.5" r="1.2" fill="#C1112F"/><circle cx="312.5" cy="349" r="1.2" fill="#C1112F"/><circle cx="314" cy="351.5" r="1.2" fill="#C1112F"/><circle cx="311" cy="351.5" r="1.2" fill="#C1112F"/><circle cx="312.5" cy="356.5" r="1.2" fill="#C1112F"/><circle cx="314.5" cy="353.5" r="1.2" fill="#C1112F"/><circle cx="332.5" cy="351.5" r="1.2" fill="#1F3E8C"/><circle cx="330" cy="353" r="1.2" fill="#1F3E8C"/><circle cx="334" cy="354.5" r="1.2" fill="#1F3E8C"/><circle cx="328.5" cy="361" r="1.2" fill="#1F3E8C"/><circle cx="331" cy="361" r="1.2" fill="#1F3E8C"/><circle cx="335" cy="361" r="1.2" fill="#1F3E8C"/><circle cx="332.5" cy="362.5" r="1.2" fill="#1F3E8C"/><circle cx="332" cy="364.5" r="1.2" fill="#1F3E8C"/><circle cx="332" cy="372.5" r="1.2" fill="#1F3E8C"/><path d="M301.4 334.6V381.7H343.5" stroke="#1a1a1a" stroke-width="1.5" fill="none"/><path d="M297.79999999999995 337.2H301.4" stroke="#1a1a1a" stroke-width="1"/><text x="295.50" y="339.55" font-size="6.5" text-anchor="end" fill="#222" stroke-width="0.1" textLength="5.78" lengthAdjust="spacingAndGlyphs">60</text><path d="M297.79999999999995 352H301.4" stroke="#1a1a1a" stroke-width="1"/><text x="295.50" y="354.35" font-size="6.5" text-anchor="end" fill="#222" stroke-width="0.1" textLength="5.78" lengthAdjust="spacingAndGlyphs">40</text><path d="M297.79999999999995 366.8H301.4" stroke="#1a1a1a" stroke-width="1"/><text x="295.50" y="369.15" font-size="6.5" text-anchor="end" fill="#222" stroke-width="0.1" textLength="5.78" lengthAdjust="spacingAndGlyphs">20</text><path d="M297.79999999999995 381.6H301.4" stroke="#1a1a1a" stroke-width="1"/><text x="295.50" y="383.95" font-size="6.5" text-anchor="end" fill="#222" stroke-width="0.1" textLength="2.89" lengthAdjust="spacingAndGlyphs">0</text><path d="M312.75 381.7V384.50" stroke="#1a1a1a" stroke-width="1"/><path d="M332.35 381.7V384.50" stroke="#1a1a1a" stroke-width="1"/><text transform="translate(315.75 390.90) rotate(-45)" font-size="5.6" text-anchor="end" fill="#3a3a3a" stroke-width="0">Gabbr1<tspan dy="-2.2" font-size="3.8">+/+</tspan></text><text transform="translate(335.35 390.90) rotate(-45)" font-size="5.6" text-anchor="end" fill="#3a3a3a" stroke-width="0">Gabbr1<tspan dy="-2.2" font-size="3.8">-/-</tspan></text><text x="332" y="351.70" font-size="8.5" text-anchor="middle" fill="#000" stroke="#000" stroke-width="0.55" letter-spacing="0.3">**</text><text transform="translate(275.25 357.55) rotate(-90)" font-size="8" text-anchor="middle" fill="#2a2a2a" textLength="39.5" lengthAdjust="spacingAndGlyphs">B220<tspan dy="-3.0" font-size="5.2">+</tspan><tspan dy="3.0"> cells%</tspan></text><text transform="translate(283.75 357.90) rotate(-90)" font-size="8" text-anchor="middle" fill="#2a2a2a" textLength="51.6" lengthAdjust="spacingAndGlyphs">in peripheral blood</text><rect x="390.50" y="360.20" width="14.10" height="21.50" fill="#CC8C80" stroke="#BE7565" stroke-width="0.8"/><rect x="409.70" y="356.40" width="13.90" height="25.30" fill="#8F96B9" stroke="#7C85AE" stroke-width="0.8"/><path d="M397.40 353.70V365.30M393.80 353.70H401.00M393.80 365.30H401.00" stroke="#1e1e1e" stroke-width="1.25" fill="none"/><path d="M416.70 346.40V365.30M413.00 346.40H420.40M413.00 365.30H420.40" stroke="#1e1e1e" stroke-width="1.25" fill="none"/><circle cx="397.4" cy="349.8" r="1.2" fill="#C1112F"/><circle cx="395.5" cy="354.8" r="1.2" fill="#C1112F"/><circle cx="399" cy="355.5" r="1.2" fill="#C1112F"/><circle cx="397.4" cy="358.5" r="1.2" fill="#C1112F"/><circle cx="396" cy="362.5" r="1.2" fill="#C1112F"/><circle cx="399.5" cy="362.5" r="1.2" fill="#C1112F"/><circle cx="397.5" cy="364" r="1.2" fill="#C1112F"/><circle cx="396" cy="367.3" r="1.2" fill="#C1112F"/><circle cx="414.5" cy="346.8" r="1.2" fill="#1F3E8C"/><circle cx="420" cy="346.2" r="1.2" fill="#1F3E8C"/><circle cx="416.7" cy="349.5" r="1.2" fill="#1F3E8C"/><circle cx="416.7" cy="352" r="1.2" fill="#1F3E8C"/><circle cx="418.5" cy="352.3" r="1.2" fill="#1F3E8C"/><circle cx="416.7" cy="357" r="1.2" fill="#1F3E8C"/><circle cx="416.7" cy="360" r="1.2" fill="#1F3E8C"/><circle cx="416.7" cy="362" r="1.2" fill="#1F3E8C"/><circle cx="416.7" cy="375.4" r="1.2" fill="#1F3E8C"/><path d="M386.1 334.6V381.7H428.3" stroke="#1a1a1a" stroke-width="1.5" fill="none"/><path d="M382.5 337.2H386.1" stroke="#1a1a1a" stroke-width="1"/><text x="380.20" y="339.55" font-size="6.5" text-anchor="end" fill="#222" stroke-width="0.1" textLength="5.78" lengthAdjust="spacingAndGlyphs">50</text><path d="M382.5 346.1H386.1" stroke="#1a1a1a" stroke-width="1"/><text x="380.20" y="348.45" font-size="6.5" text-anchor="end" fill="#222" stroke-width="0.1" textLength="5.78" lengthAdjust="spacingAndGlyphs">40</text><path d="M382.5 355H386.1" stroke="#1a1a1a" stroke-width="1"/><text x="380.20" y="357.35" font-size="6.5" text-anchor="end" fill="#222" stroke-width="0.1" textLength="5.78" lengthAdjust="spacingAndGlyphs">30</text><path d="M382.5 363.9H386.1" stroke="#1a1a1a" stroke-width="1"/><text x="380.20" y="366.25" font-size="6.5" text-anchor="end" fill="#222" stroke-width="0.1" textLength="5.78" lengthAdjust="spacingAndGlyphs">20</text><path d="M382.5 372.8H386.1" stroke="#1a1a1a" stroke-width="1"/><text x="380.20" y="375.15" font-size="6.5" text-anchor="end" fill="#222" stroke-width="0.1" textLength="5.78" lengthAdjust="spacingAndGlyphs">10</text><path d="M382.5 381.7H386.1" stroke="#1a1a1a" stroke-width="1"/><text x="380.20" y="384.05" font-size="6.5" text-anchor="end" fill="#222" stroke-width="0.1" textLength="2.89" lengthAdjust="spacingAndGlyphs">0</text><path d="M397.55 381.7V384.50" stroke="#1a1a1a" stroke-width="1"/><path d="M416.65 381.7V384.50" stroke="#1a1a1a" stroke-width="1"/><text transform="translate(400.55 390.90) rotate(-45)" font-size="5.6" text-anchor="end" fill="#3a3a3a" stroke-width="0">Gabbr1<tspan dy="-2.2" font-size="3.8">+/+</tspan></text><text transform="translate(419.65 390.90) rotate(-45)" font-size="5.6" text-anchor="end" fill="#3a3a3a" stroke-width="0">Gabbr1<tspan dy="-2.2" font-size="3.8">-/-</tspan></text><text transform="translate(359.95 357.70) rotate(-90)" font-size="8" text-anchor="middle" fill="#2a2a2a" textLength="41.8" lengthAdjust="spacingAndGlyphs">CD11b<tspan dy="-3.0" font-size="5.2">+</tspan><tspan dy="3.0"> cells%</tspan></text><text transform="translate(368.55 358.10) rotate(-90)" font-size="8" text-anchor="middle" fill="#2a2a2a" textLength="51.2" lengthAdjust="spacingAndGlyphs">in peripheral blood</text><rect x="474.70" y="359.60" width="13.90" height="22.10" fill="#CC8C80" stroke="#BE7565" stroke-width="0.8"/><rect x="493.70" y="354.80" width="13.90" height="26.90" fill="#8F96B9" stroke="#7C85AE" stroke-width="0.8"/><path d="M481.70 352.30V366.00M478.10 352.30H485.30M478.10 366.00H485.30" stroke="#1e1e1e" stroke-width="1.25" fill="none"/><path d="M500.70 345.60V362.80M497.10 345.60H504.30M497.10 362.80H504.30" stroke="#1e1e1e" stroke-width="1.25" fill="none"/><circle cx="481.7" cy="349.5" r="1.2" fill="#C1112F"/><circle cx="481.7" cy="353.7" r="1.2" fill="#C1112F"/><circle cx="480.5" cy="357.5" r="1.2" fill="#C1112F"/><circle cx="482.5" cy="357.5" r="1.2" fill="#C1112F"/><circle cx="483" cy="359.5" r="1.2" fill="#C1112F"/><circle cx="481.7" cy="363" r="1.2" fill="#C1112F"/><circle cx="481.5" cy="366" r="1.2" fill="#C1112F"/><circle cx="481.7" cy="370" r="1.2" fill="#C1112F"/><circle cx="500.7" cy="342.9" r="1.2" fill="#1F3E8C"/><circle cx="501.5" cy="347.3" r="1.2" fill="#1F3E8C"/><circle cx="499" cy="348.4" r="1.2" fill="#1F3E8C"/><circle cx="499.5" cy="350.6" r="1.2" fill="#1F3E8C"/><circle cx="502.5" cy="353.5" r="1.2" fill="#1F3E8C"/><circle cx="499.5" cy="357.4" r="1.2" fill="#1F3E8C"/><circle cx="500.7" cy="364.5" r="1.2" fill="#1F3E8C"/><circle cx="500.7" cy="369.3" r="1.2" fill="#1F3E8C"/><path d="M470.6 334.6V381.7H512.3" stroke="#1a1a1a" stroke-width="1.5" fill="none"/><path d="M467.0 337.2H470.6" stroke="#1a1a1a" stroke-width="1"/><text x="464.70" y="339.55" font-size="6.5" text-anchor="end" fill="#222" stroke-width="0.1" textLength="5.78" lengthAdjust="spacingAndGlyphs">30</text><path d="M467.0 352H470.6" stroke="#1a1a1a" stroke-width="1"/><text x="464.70" y="354.35" font-size="6.5" text-anchor="end" fill="#222" stroke-width="0.1" textLength="5.78" lengthAdjust="spacingAndGlyphs">20</text><path d="M467.0 366.8H470.6" stroke="#1a1a1a" stroke-width="1"/><text x="464.70" y="369.15" font-size="6.5" text-anchor="end" fill="#222" stroke-width="0.1" textLength="5.78" lengthAdjust="spacingAndGlyphs">10</text><path d="M467.0 381.6H470.6" stroke="#1a1a1a" stroke-width="1"/><text x="464.70" y="383.95" font-size="6.5" text-anchor="end" fill="#222" stroke-width="0.1" textLength="2.89" lengthAdjust="spacingAndGlyphs">0</text><path d="M481.65 381.7V384.50" stroke="#1a1a1a" stroke-width="1"/><path d="M500.65 381.7V384.50" stroke="#1a1a1a" stroke-width="1"/><text transform="translate(484.65 390.90) rotate(-45)" font-size="5.6" text-anchor="end" fill="#3a3a3a" stroke-width="0">Gabbr1<tspan dy="-2.2" font-size="3.8">+/+</tspan></text><text transform="translate(503.65 390.90) rotate(-45)" font-size="5.6" text-anchor="end" fill="#3a3a3a" stroke-width="0">Gabbr1<tspan dy="-2.2" font-size="3.8">-/-</tspan></text><text transform="translate(444.95 357.25) rotate(-90)" font-size="8" text-anchor="middle" fill="#2a2a2a" textLength="37.1" lengthAdjust="spacingAndGlyphs">CD4<tspan dy="-3.0" font-size="5.2">+</tspan><tspan dy="3.0"> cells%</tspan></text><text transform="translate(453.55 358.40) rotate(-90)" font-size="8" text-anchor="middle" fill="#2a2a2a" textLength="51.8" lengthAdjust="spacingAndGlyphs">in peripheral blood</text><rect x="55.60" y="460.40" width="13.90" height="31.70" fill="#CC8C80" stroke="#BE7565" stroke-width="0.8"/><rect x="75.50" y="466.40" width="13.70" height="25.70" fill="#8F96B9" stroke="#7C85AE" stroke-width="0.8"/><path d="M62.50 455.80V463.50M59.00 455.80H66.00M59.00 463.50H66.00" stroke="#1e1e1e" stroke-width="1.25" fill="none"/><path d="M82.10 463.40V468.50M78.50 463.40H85.70M78.50 468.50H85.70" stroke="#1e1e1e" stroke-width="1.25" fill="none"/><circle cx="62.5" cy="455" r="1.2" fill="#C1112F"/><circle cx="63.7" cy="461.5" r="1.2" fill="#C1112F"/><circle cx="61.5" cy="463" r="1.2" fill="#C1112F"/><circle cx="62.5" cy="463.5" r="1.2" fill="#C1112F"/><circle cx="82.1" cy="462.5" r="1.2" fill="#1F3E8C"/><circle cx="82.1" cy="466.5" r="1.2" fill="#1F3E8C"/><circle cx="81" cy="468" r="1.2" fill="#1F3E8C"/><circle cx="83" cy="468" r="1.2" fill="#1F3E8C"/><path d="M51.5 444.3V492.1H93.8" stroke="#1a1a1a" stroke-width="1.5" fill="none"/><path d="M47.9 447.5H51.5" stroke="#1a1a1a" stroke-width="1"/><text x="45.60" y="449.85" font-size="6.5" text-anchor="end" fill="#222" stroke-width="0.1" textLength="7.23" lengthAdjust="spacingAndGlyphs">2.5</text><path d="M47.9 456.4H51.5" stroke="#1a1a1a" stroke-width="1"/><text x="45.60" y="458.75" font-size="6.5" text-anchor="end" fill="#222" stroke-width="0.1" textLength="7.23" lengthAdjust="spacingAndGlyphs">2.0</text><path d="M47.9 465.3H51.5" stroke="#1a1a1a" stroke-width="1"/><text x="45.60" y="467.65" font-size="6.5" text-anchor="end" fill="#222" stroke-width="0.1" textLength="7.23" lengthAdjust="spacingAndGlyphs">1.5</text><path d="M47.9 474.3H51.5" stroke="#1a1a1a" stroke-width="1"/><text x="45.60" y="476.65" font-size="6.5" text-anchor="end" fill="#222" stroke-width="0.1" textLength="7.23" lengthAdjust="spacingAndGlyphs">1.0</text><path d="M47.9 483.2H51.5" stroke="#1a1a1a" stroke-width="1"/><text x="45.60" y="485.55" font-size="6.5" text-anchor="end" fill="#222" stroke-width="0.1" textLength="7.23" lengthAdjust="spacingAndGlyphs">0.5</text><path d="M47.9 492.1H51.5" stroke="#1a1a1a" stroke-width="1"/><text x="45.60" y="494.45" font-size="6.5" text-anchor="end" fill="#222" stroke-width="0.1" textLength="7.23" lengthAdjust="spacingAndGlyphs">0.0</text><path d="M62.55 492.1V494.90" stroke="#1a1a1a" stroke-width="1"/><path d="M82.35 492.1V494.90" stroke="#1a1a1a" stroke-width="1"/><text transform="translate(65.55 501.30) rotate(-45)" font-size="5.6" text-anchor="end" fill="#3a3a3a" stroke-width="0">Gabbr1<tspan dy="-2.2" font-size="3.8">+/+</tspan></text><text transform="translate(85.35 501.30) rotate(-45)" font-size="5.6" text-anchor="end" fill="#3a3a3a" stroke-width="0">Gabbr1<tspan dy="-2.2" font-size="3.8">-/-</tspan></text><text transform="translate(23.75 468.40) rotate(-90)" font-size="8" text-anchor="middle" fill="#2a2a2a" textLength="49.4" lengthAdjust="spacingAndGlyphs">B cells-fraction A %</text><text transform="translate(33.25 467.95) rotate(-90)" font-size="8" text-anchor="middle" fill="#2a2a2a" textLength="42.7" lengthAdjust="spacingAndGlyphs">in bone marrow</text><rect x="138.60" y="464.50" width="13.90" height="27.60" fill="#CC8C80" stroke="#BE7565" stroke-width="0.8"/><rect x="158.30" y="488.60" width="13.40" height="3.50" fill="#8F96B9" stroke="#7C85AE" stroke-width="0.8"/><path d="M145.40 462.60V466.20M141.90 462.60H148.90M141.90 466.20H148.90" stroke="#1e1e1e" stroke-width="1.25" fill="none"/><path d="M164.90 487.20V489.00M161.40 487.20H168.40M161.40 489.00H168.40" stroke="#1e1e1e" stroke-width="1.25" fill="none"/><circle cx="145.4" cy="462.5" r="1.2" fill="#C1112F"/><circle cx="146.5" cy="463.5" r="1.2" fill="#C1112F"/><circle cx="144" cy="465.5" r="1.2" fill="#C1112F"/><circle cx="145.4" cy="466" r="1.2" fill="#C1112F"/><circle cx="163" cy="487.5" r="1.2" fill="#1F3E8C"/><circle cx="166" cy="487.5" r="1.2" fill="#1F3E8C"/><circle cx="164.9" cy="488.5" r="1.2" fill="#1F3E8C"/><path d="M134.2 444.5V492.1H176.6" stroke="#1a1a1a" stroke-width="1.5" fill="none"/><path d="M130.6 447.5H134.2" stroke="#1a1a1a" stroke-width="1"/><text x="128.30" y="449.85" font-size="6.5" text-anchor="end" fill="#222" stroke-width="0.1" textLength="5.78" lengthAdjust="spacingAndGlyphs">15</text><path d="M130.6 462.4H134.2" stroke="#1a1a1a" stroke-width="1"/><text x="128.30" y="464.75" font-size="6.5" text-anchor="end" fill="#222" stroke-width="0.1" textLength="5.78" lengthAdjust="spacingAndGlyphs">10</text><path d="M130.6 477.2H134.2" stroke="#1a1a1a" stroke-width="1"/><text x="128.30" y="479.55" font-size="6.5" text-anchor="end" fill="#222" stroke-width="0.1" textLength="2.89" lengthAdjust="spacingAndGlyphs">5</text><path d="M130.6 492.1H134.2" stroke="#1a1a1a" stroke-width="1"/><text x="128.30" y="494.45" font-size="6.5" text-anchor="end" fill="#222" stroke-width="0.1" textLength="2.89" lengthAdjust="spacingAndGlyphs">0</text><path d="M145.55 492.1V494.90" stroke="#1a1a1a" stroke-width="1"/><path d="M165.00 492.1V494.90" stroke="#1a1a1a" stroke-width="1"/><text transform="translate(148.55 501.30) rotate(-45)" font-size="5.6" text-anchor="end" fill="#3a3a3a" stroke-width="0">Gabbr1<tspan dy="-2.2" font-size="3.8">+/+</tspan></text><text transform="translate(168.00 501.30) rotate(-45)" font-size="5.6" text-anchor="end" fill="#3a3a3a" stroke-width="0">Gabbr1<tspan dy="-2.2" font-size="3.8">-/-</tspan></text><text x="164.9" y="488.20" font-size="8.5" text-anchor="middle" fill="#000" stroke="#000" stroke-width="0.55" letter-spacing="0.3">***</text><text transform="translate(106.55 468.40) rotate(-90)" font-size="8" text-anchor="middle" fill="#2a2a2a" textLength="49.4" lengthAdjust="spacingAndGlyphs">B cells-fraction B %</text><text transform="translate(116.05 467.95) rotate(-90)" font-size="8" text-anchor="middle" fill="#2a2a2a" textLength="42.7" lengthAdjust="spacingAndGlyphs">in bone marrow</text><rect x="221.60" y="469.40" width="13.90" height="22.70" fill="#CC8C80" stroke="#BE7565" stroke-width="0.8"/><rect x="240.80" y="489.70" width="13.80" height="2.40" fill="#8F96B9" stroke="#7C85AE" stroke-width="0.8"/><path d="M228.40 463.40V475.00M224.80 463.40H232.00M224.80 475.00H232.00" stroke="#1e1e1e" stroke-width="1.25" fill="none"/><path d="M247.60 487.50V490.00M244.10 487.50H251.10M244.10 490.00H251.10" stroke="#1e1e1e" stroke-width="1.25" fill="none"/><circle cx="227" cy="465" r="1.2" fill="#C1112F"/><circle cx="230" cy="466.5" r="1.2" fill="#C1112F"/><circle cx="228.4" cy="475.5" r="1.2" fill="#C1112F"/><circle cx="246" cy="488" r="1.2" fill="#1F3E8C"/><circle cx="249.5" cy="488.5" r="1.2" fill="#1F3E8C"/><circle cx="247.5" cy="489" r="1.2" fill="#1F3E8C"/><path d="M217 444.5V492.1H259.4" stroke="#1a1a1a" stroke-width="1.5" fill="none"/><path d="M213.4 447.5H217" stroke="#1a1a1a" stroke-width="1"/><text x="211.10" y="449.85" font-size="6.5" text-anchor="end" fill="#222" stroke-width="0.1" textLength="7.23" lengthAdjust="spacingAndGlyphs">1.5</text><path d="M213.4 462.4H217" stroke="#1a1a1a" stroke-width="1"/><text x="211.10" y="464.75" font-size="6.5" text-anchor="end" fill="#222" stroke-width="0.1" textLength="7.23" lengthAdjust="spacingAndGlyphs">1.0</text><path d="M213.4 477.2H217" stroke="#1a1a1a" stroke-width="1"/><text x="211.10" y="479.55" font-size="6.5" text-anchor="end" fill="#222" stroke-width="0.1" textLength="7.23" lengthAdjust="spacingAndGlyphs">0.5</text><path d="M213.4 492.1H217" stroke="#1a1a1a" stroke-width="1"/><text x="211.10" y="494.45" font-size="6.5" text-anchor="end" fill="#222" stroke-width="0.1" textLength="7.23" lengthAdjust="spacingAndGlyphs">0.0</text><path d="M228.55 492.1V494.90" stroke="#1a1a1a" stroke-width="1"/><path d="M247.70 492.1V494.90" stroke="#1a1a1a" stroke-width="1"/><text transform="translate(231.55 501.30) rotate(-45)" font-size="5.6" text-anchor="end" fill="#3a3a3a" stroke-width="0">Gabbr1<tspan dy="-2.2" font-size="3.8">+/+</tspan></text><text transform="translate(250.70 501.30) rotate(-45)" font-size="5.6" text-anchor="end" fill="#3a3a3a" stroke-width="0">Gabbr1<tspan dy="-2.2" font-size="3.8">-/-</tspan></text><text x="247.8" y="488.80" font-size="8.5" text-anchor="middle" fill="#000" stroke="#000" stroke-width="0.55" letter-spacing="0.3">**</text><text transform="translate(190.45 468.40) rotate(-90)" font-size="8" text-anchor="middle" fill="#2a2a2a" textLength="49.4" lengthAdjust="spacingAndGlyphs">B cells-fraction C %</text><text transform="translate(200.95 467.95) rotate(-90)" font-size="8" text-anchor="middle" fill="#2a2a2a" textLength="42.7" lengthAdjust="spacingAndGlyphs">in bone marrow</text><rect x="305.90" y="458.50" width="13.90" height="33.60" fill="#CC8C80" stroke="#BE7565" stroke-width="0.8"/><rect x="325.40" y="491.60" width="13.90" height="0.50" fill="#8F96B9" stroke="#7C85AE" stroke-width="0.8"/><path d="M312.70 456.70V459.20M309.20 456.70H316.20M309.20 459.20H316.20" stroke="#1e1e1e" stroke-width="1.25" fill="none"/><path d="M332.00 490.50V491.50M328.50 490.50H335.50M328.50 491.50H335.50" stroke="#1e1e1e" stroke-width="1.25" fill="none"/><circle cx="310" cy="457.5" r="1.2" fill="#C1112F"/><circle cx="312.7" cy="459" r="1.2" fill="#C1112F"/><circle cx="315.5" cy="457.5" r="1.2" fill="#C1112F"/><circle cx="330" cy="491" r="1.2" fill="#1F3E8C"/><circle cx="333" cy="490.5" r="1.2" fill="#1F3E8C"/><path d="M301.4 444.5V492.1H343.5" stroke="#1a1a1a" stroke-width="1.5" fill="none"/><path d="M297.79999999999995 447.5H301.4" stroke="#1a1a1a" stroke-width="1"/><text x="295.50" y="449.85" font-size="6.5" text-anchor="end" fill="#222" stroke-width="0.1" textLength="5.78" lengthAdjust="spacingAndGlyphs">15</text><path d="M297.79999999999995 462.4H301.4" stroke="#1a1a1a" stroke-width="1"/><text x="295.50" y="464.75" font-size="6.5" text-anchor="end" fill="#222" stroke-width="0.1" textLength="5.78" lengthAdjust="spacingAndGlyphs">10</text><path d="M297.79999999999995 477.2H301.4" stroke="#1a1a1a" stroke-width="1"/><text x="295.50" y="479.55" font-size="6.5" text-anchor="end" fill="#222" stroke-width="0.1" textLength="2.89" lengthAdjust="spacingAndGlyphs">5</text><path d="M297.79999999999995 492.1H301.4" stroke="#1a1a1a" stroke-width="1"/><text x="295.50" y="494.45" font-size="6.5" text-anchor="end" fill="#222" stroke-width="0.1" textLength="2.89" lengthAdjust="spacingAndGlyphs">0</text><path d="M312.85 492.1V494.90" stroke="#1a1a1a" stroke-width="1"/><path d="M332.35 492.1V494.90" stroke="#1a1a1a" stroke-width="1"/><text transform="translate(315.85 501.30) rotate(-45)" font-size="5.6" text-anchor="end" fill="#3a3a3a" stroke-width="0">Gabbr1<tspan dy="-2.2" font-size="3.8">+/+</tspan></text><text transform="translate(335.35 501.30) rotate(-45)" font-size="5.6" text-anchor="end" fill="#3a3a3a" stroke-width="0">Gabbr1<tspan dy="-2.2" font-size="3.8">-/-</tspan></text><text x="332.4" y="491.30" font-size="8.5" text-anchor="middle" fill="#000" stroke="#000" stroke-width="0.55" letter-spacing="0.3">***</text><text transform="translate(274.25 468.40) rotate(-90)" font-size="8" text-anchor="middle" fill="#2a2a2a" textLength="49.4" lengthAdjust="spacingAndGlyphs">B cells-fraction D %</text><text transform="translate(283.75 467.95) rotate(-90)" font-size="8" text-anchor="middle" fill="#2a2a2a" textLength="42.7" lengthAdjust="spacingAndGlyphs">in bone marrow</text><rect x="390.60" y="459.20" width="13.90" height="32.90" fill="#CC8C80" stroke="#BE7565" stroke-width="0.8"/><rect x="409.80" y="490.10" width="13.90" height="2.00" fill="#8F96B9" stroke="#7C85AE" stroke-width="0.8"/><path d="M397.40 457.50V460.00M393.90 457.50H400.90M393.90 460.00H400.90" stroke="#1e1e1e" stroke-width="1.25" fill="none"/><path d="M416.70 488.30V490.00M413.20 488.30H420.20M413.20 490.00H420.20" stroke="#1e1e1e" stroke-width="1.25" fill="none"/><circle cx="394.5" cy="457.8" r="1.2" fill="#C1112F"/><circle cx="397.4" cy="459" r="1.2" fill="#C1112F"/><circle cx="400" cy="458.5" r="1.2" fill="#C1112F"/><circle cx="414" cy="488.5" r="1.2" fill="#1F3E8C"/><circle cx="417" cy="489" r="1.2" fill="#1F3E8C"/><circle cx="419.5" cy="489" r="1.2" fill="#1F3E8C"/><path d="M386.1 444.5V492.1H428.3" stroke="#1a1a1a" stroke-width="1.5" fill="none"/><path d="M382.5 447.5H386.1" stroke="#1a1a1a" stroke-width="1"/><text x="380.20" y="449.85" font-size="6.5" text-anchor="end" fill="#222" stroke-width="0.1" textLength="7.23" lengthAdjust="spacingAndGlyphs">2.0</text><path d="M382.5 458.6H386.1" stroke="#1a1a1a" stroke-width="1"/><text x="380.20" y="460.95" font-size="6.5" text-anchor="end" fill="#222" stroke-width="0.1" textLength="7.23" lengthAdjust="spacingAndGlyphs">1.5</text><path d="M382.5 469.8H386.1" stroke="#1a1a1a" stroke-width="1"/><text x="380.20" y="472.15" font-size="6.5" text-anchor="end" fill="#222" stroke-width="0.1" textLength="7.23" lengthAdjust="spacingAndGlyphs">1.0</text><path d="M382.5 480.9H386.1" stroke="#1a1a1a" stroke-width="1"/><text x="380.20" y="483.25" font-size="6.5" text-anchor="end" fill="#222" stroke-width="0.1" textLength="7.23" lengthAdjust="spacingAndGlyphs">0.5</text><path d="M382.5 492.1H386.1" stroke="#1a1a1a" stroke-width="1"/><text x="380.20" y="494.45" font-size="6.5" text-anchor="end" fill="#222" stroke-width="0.1" textLength="7.23" lengthAdjust="spacingAndGlyphs">0.0</text><path d="M397.55 492.1V494.90" stroke="#1a1a1a" stroke-width="1"/><path d="M416.75 492.1V494.90" stroke="#1a1a1a" stroke-width="1"/><text transform="translate(400.55 501.30) rotate(-45)" font-size="5.6" text-anchor="end" fill="#3a3a3a" stroke-width="0">Gabbr1<tspan dy="-2.2" font-size="3.8">+/+</tspan></text><text transform="translate(419.75 501.30) rotate(-45)" font-size="5.6" text-anchor="end" fill="#3a3a3a" stroke-width="0">Gabbr1<tspan dy="-2.2" font-size="3.8">-/-</tspan></text><text x="416.8" y="489.20" font-size="8.5" text-anchor="middle" fill="#000" stroke="#000" stroke-width="0.55" letter-spacing="0.3">***</text><text transform="translate(359.05 468.40) rotate(-90)" font-size="8" text-anchor="middle" fill="#2a2a2a" textLength="49.4" lengthAdjust="spacingAndGlyphs">B cells-fraction E %</text><text transform="translate(368.15 467.95) rotate(-90)" font-size="8" text-anchor="middle" fill="#2a2a2a" textLength="42.7" lengthAdjust="spacingAndGlyphs">in bone marrow</text><rect x="474.60" y="468.50" width="14.20" height="23.60" fill="#CC8C80" stroke="#BE7565" stroke-width="0.8"/><rect x="494.40" y="460.60" width="13.90" height="31.50" fill="#8F96B9" stroke="#7C85AE" stroke-width="0.8"/><path d="M481.70 466.50V469.50M478.20 466.50H485.20M478.20 469.50H485.20" stroke="#1e1e1e" stroke-width="1.25" fill="none"/><path d="M501.10 457.00V463.40M497.60 457.00H504.60M497.60 463.40H504.60" stroke="#1e1e1e" stroke-width="1.25" fill="none"/><circle cx="479" cy="467" r="1.2" fill="#C1112F"/><circle cx="484.5" cy="467.5" r="1.2" fill="#C1112F"/><circle cx="481.7" cy="469.5" r="1.2" fill="#C1112F"/><circle cx="501.1" cy="456.5" r="1.2" fill="#1F3E8C"/><circle cx="502.5" cy="461" r="1.2" fill="#1F3E8C"/><circle cx="500" cy="463" r="1.2" fill="#1F3E8C"/><path d="M470.6 444.5V492.1H512.7" stroke="#1a1a1a" stroke-width="1.5" fill="none"/><path d="M467.0 447.5H470.6" stroke="#1a1a1a" stroke-width="1"/><text x="464.70" y="449.85" font-size="6.5" text-anchor="end" fill="#222" stroke-width="0.1" textLength="2.89" lengthAdjust="spacingAndGlyphs">8</text><path d="M467.0 458.6H470.6" stroke="#1a1a1a" stroke-width="1"/><text x="464.70" y="460.95" font-size="6.5" text-anchor="end" fill="#222" stroke-width="0.1" textLength="2.89" lengthAdjust="spacingAndGlyphs">6</text><path d="M467.0 469.8H470.6" stroke="#1a1a1a" stroke-width="1"/><text x="464.70" y="472.15" font-size="6.5" text-anchor="end" fill="#222" stroke-width="0.1" textLength="2.89" lengthAdjust="spacingAndGlyphs">4</text><path d="M467.0 480.9H470.6" stroke="#1a1a1a" stroke-width="1"/><text x="464.70" y="483.25" font-size="6.5" text-anchor="end" fill="#222" stroke-width="0.1" textLength="2.89" lengthAdjust="spacingAndGlyphs">2</text><path d="M467.0 492.1H470.6" stroke="#1a1a1a" stroke-width="1"/><text x="464.70" y="494.45" font-size="6.5" text-anchor="end" fill="#222" stroke-width="0.1" textLength="2.89" lengthAdjust="spacingAndGlyphs">0</text><path d="M481.70 492.1V494.90" stroke="#1a1a1a" stroke-width="1"/><path d="M501.35 492.1V494.90" stroke="#1a1a1a" stroke-width="1"/><text transform="translate(484.70 501.30) rotate(-45)" font-size="5.6" text-anchor="end" fill="#3a3a3a" stroke-width="0">Gabbr1<tspan dy="-2.2" font-size="3.8">+/+</tspan></text><text transform="translate(504.35 501.30) rotate(-45)" font-size="5.6" text-anchor="end" fill="#3a3a3a" stroke-width="0">Gabbr1<tspan dy="-2.2" font-size="3.8">-/-</tspan></text><text x="501.1" y="455.90" font-size="8.5" text-anchor="middle" fill="#000" stroke="#000" stroke-width="0.55" letter-spacing="0.3">*</text><text transform="translate(447.45 468.40) rotate(-90)" font-size="8" text-anchor="middle" fill="#2a2a2a" textLength="49.4" lengthAdjust="spacingAndGlyphs">B cells-fraction F %</text><text transform="translate(457.35 467.95) rotate(-90)" font-size="8" text-anchor="middle" fill="#2a2a2a" textLength="42.7" lengthAdjust="spacingAndGlyphs">in bone marrow</text></svg></body></html>
